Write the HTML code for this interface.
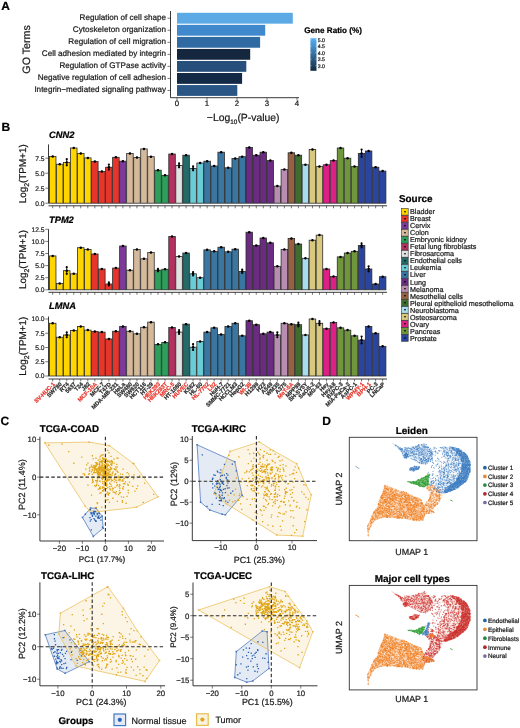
<!DOCTYPE html>
<html><head><meta charset="utf-8"><style>html,body{margin:0;padding:0;background:#fff}svg{display:block;filter:blur(0.28px)}</style></head>
<body><svg width="520" height="728" viewBox="0 0 520 728" font-family='"Liberation Sans", sans-serif' text-rendering="geometricPrecision">
<rect width="520" height="728" fill="#fff"/>
<text x="1.2" y="9.5" font-size="12" font-weight="bold" fill="#000" stroke="#000" stroke-width="0.22">A</text>
<text transform="translate(30,49.4) rotate(-90)" text-anchor="middle" font-size="10.7" fill="#1a1a1a" stroke="#1a1a1a" stroke-width="0.22">GO Terms</text>
<rect x="177.00" y="12.81" width="115.80" height="10.84" fill="#5BAAE5"/>
<line x1="167.5" y1="18.23" x2="170.5" y2="18.23" stroke="#222" stroke-width="0.6"/>
<text x="166" y="20.18" text-anchor="end" font-size="8.1" fill="#1a1a1a" stroke="#1a1a1a" stroke-width="0.22">Regulation of cell shape</text>
<rect x="177.00" y="24.85" width="88.20" height="10.84" fill="#4089CC"/>
<line x1="167.5" y1="30.27" x2="170.5" y2="30.27" stroke="#222" stroke-width="0.6"/>
<text x="166" y="32.22" text-anchor="end" font-size="8.1" fill="#1a1a1a" stroke="#1a1a1a" stroke-width="0.22">Cytoskeleton organization</text>
<rect x="177.00" y="36.89" width="83.10" height="10.84" fill="#2F6AA3"/>
<line x1="167.5" y1="42.31" x2="170.5" y2="42.31" stroke="#222" stroke-width="0.6"/>
<text x="166" y="44.26" text-anchor="end" font-size="8.1" fill="#1a1a1a" stroke="#1a1a1a" stroke-width="0.22">Regulation of cell migration</text>
<rect x="177.00" y="48.93" width="73.20" height="10.84" fill="#14273F"/>
<line x1="167.5" y1="54.35" x2="170.5" y2="54.35" stroke="#222" stroke-width="0.6"/>
<text x="166" y="56.30" text-anchor="end" font-size="8.1" fill="#1a1a1a" stroke="#1a1a1a" stroke-width="0.22">Cell adhesion mediated by integrin</text>
<rect x="177.00" y="60.97" width="69.30" height="10.84" fill="#264F7B"/>
<line x1="167.5" y1="66.39" x2="170.5" y2="66.39" stroke="#222" stroke-width="0.6"/>
<text x="166" y="68.34" text-anchor="end" font-size="8.1" fill="#1a1a1a" stroke="#1a1a1a" stroke-width="0.22">Regulation of GTPase activity</text>
<rect x="177.00" y="73.01" width="65.10" height="10.84" fill="#132A46"/>
<line x1="167.5" y1="78.43" x2="170.5" y2="78.43" stroke="#222" stroke-width="0.6"/>
<text x="166" y="80.38" text-anchor="end" font-size="8.1" fill="#1a1a1a" stroke="#1a1a1a" stroke-width="0.22">Negative regulation of cell adhesion</text>
<rect x="177.00" y="85.06" width="60.30" height="10.84" fill="#2A5686"/>
<line x1="167.5" y1="90.47" x2="170.5" y2="90.47" stroke="#222" stroke-width="0.6"/>
<text x="166" y="92.42" text-anchor="end" font-size="8.1" fill="#1a1a1a" stroke="#1a1a1a" stroke-width="0.22">Integrin−mediated signaling pathway</text>
<path d="M170.5 11.0V97.7H299" fill="none" stroke="#222" stroke-width="0.9"/>
<line x1="177.0" y1="97.7" x2="177.0" y2="100.5" stroke="#222" stroke-width="0.6"/>
<text x="177.0" y="105.8" text-anchor="middle" font-size="7.8" fill="#1a1a1a" stroke="#1a1a1a" stroke-width="0.22">0</text>
<line x1="207.0" y1="97.7" x2="207.0" y2="100.5" stroke="#222" stroke-width="0.6"/>
<text x="207.0" y="105.8" text-anchor="middle" font-size="7.8" fill="#1a1a1a" stroke="#1a1a1a" stroke-width="0.22">1</text>
<line x1="237.0" y1="97.7" x2="237.0" y2="100.5" stroke="#222" stroke-width="0.6"/>
<text x="237.0" y="105.8" text-anchor="middle" font-size="7.8" fill="#1a1a1a" stroke="#1a1a1a" stroke-width="0.22">2</text>
<line x1="267.0" y1="97.7" x2="267.0" y2="100.5" stroke="#222" stroke-width="0.6"/>
<text x="267.0" y="105.8" text-anchor="middle" font-size="7.8" fill="#1a1a1a" stroke="#1a1a1a" stroke-width="0.22">3</text>
<line x1="297.0" y1="97.7" x2="297.0" y2="100.5" stroke="#222" stroke-width="0.6"/>
<text x="297.0" y="105.8" text-anchor="middle" font-size="7.8" fill="#1a1a1a" stroke="#1a1a1a" stroke-width="0.22">4</text>
<text x="243.2" y="121.3" text-anchor="middle" font-size="10.4" fill="#1a1a1a" stroke="#1a1a1a" stroke-width="0.22">−Log<tspan font-size="6.4" dy="2.6">10</tspan><tspan dy="-2.6">(P-value)</tspan></text>
<text x="304.3" y="32.8" font-size="8.1" font-weight="bold" fill="#000" stroke="#000" stroke-width="0.22">Gene Ratio (%)</text>
<defs><linearGradient id="gr" x1="0" y1="0" x2="0" y2="1"><stop offset="0" stop-color="#56B1F7"/><stop offset="1" stop-color="#132B43"/></linearGradient></defs>
<rect x="310.4" y="38.2" width="6.1" height="32.6" fill="url(#gr)"/>
<text x="317.8" y="41.6" font-size="5.2" fill="#1a1a1a" stroke="#1a1a1a" stroke-width="0.22">5.0</text>
<line x1="310.4" y1="39.7" x2="311.6" y2="39.7" stroke="#fff" stroke-width="0.4"/>
<line x1="315.3" y1="39.7" x2="316.5" y2="39.7" stroke="#fff" stroke-width="0.4"/>
<text x="317.8" y="48.1" font-size="5.2" fill="#1a1a1a" stroke="#1a1a1a" stroke-width="0.22">4.5</text>
<line x1="310.4" y1="46.2" x2="311.6" y2="46.2" stroke="#fff" stroke-width="0.4"/>
<line x1="315.3" y1="46.2" x2="316.5" y2="46.2" stroke="#fff" stroke-width="0.4"/>
<text x="317.8" y="54.6" font-size="5.2" fill="#1a1a1a" stroke="#1a1a1a" stroke-width="0.22">4.0</text>
<line x1="310.4" y1="52.7" x2="311.6" y2="52.7" stroke="#fff" stroke-width="0.4"/>
<line x1="315.3" y1="52.7" x2="316.5" y2="52.7" stroke="#fff" stroke-width="0.4"/>
<text x="317.8" y="61.1" font-size="5.2" fill="#1a1a1a" stroke="#1a1a1a" stroke-width="0.22">3.5</text>
<line x1="310.4" y1="59.2" x2="311.6" y2="59.2" stroke="#fff" stroke-width="0.4"/>
<line x1="315.3" y1="59.2" x2="316.5" y2="59.2" stroke="#fff" stroke-width="0.4"/>
<text x="317.8" y="67.6" font-size="5.2" fill="#1a1a1a" stroke="#1a1a1a" stroke-width="0.22">3.0</text>
<line x1="310.4" y1="65.7" x2="311.6" y2="65.7" stroke="#fff" stroke-width="0.4"/>
<line x1="315.3" y1="65.7" x2="316.5" y2="65.7" stroke="#fff" stroke-width="0.4"/>
<text x="1.5" y="131.4" font-size="12" font-weight="bold" fill="#000" stroke="#000" stroke-width="0.22">B</text>
<text x="49" y="137.5" font-size="9.3" font-weight="bold" font-style="italic" fill="#000" stroke="#000" stroke-width="0.22">CNN2</text>
<rect x="49.44" y="156.40" width="6.52" height="46.80" fill="#FFD500" stroke="#2c2c2c" stroke-width="0.8"/>
<rect x="56.46" y="164.20" width="6.52" height="39.00" fill="#FFD500" stroke="#2c2c2c" stroke-width="0.8"/>
<rect x="63.48" y="162.40" width="6.52" height="40.80" fill="#FFD500" stroke="#2c2c2c" stroke-width="0.8"/>
<rect x="70.50" y="148.00" width="6.52" height="55.20" fill="#FFD500" stroke="#2c2c2c" stroke-width="0.8"/>
<rect x="77.52" y="153.40" width="6.52" height="49.80" fill="#FFD500" stroke="#2c2c2c" stroke-width="0.8"/>
<rect x="84.54" y="157.90" width="6.52" height="45.30" fill="#FFD500" stroke="#2c2c2c" stroke-width="0.8"/>
<rect x="91.56" y="161.50" width="6.52" height="41.70" fill="#E8352B" stroke="#2c2c2c" stroke-width="0.8"/>
<rect x="98.58" y="171.40" width="6.52" height="31.80" fill="#E8352B" stroke="#2c2c2c" stroke-width="0.8"/>
<rect x="105.60" y="167.20" width="6.52" height="36.00" fill="#E8352B" stroke="#2c2c2c" stroke-width="0.8"/>
<rect x="112.62" y="157.30" width="6.52" height="45.90" fill="#E8352B" stroke="#2c2c2c" stroke-width="0.8"/>
<rect x="119.64" y="161.20" width="6.52" height="42.00" fill="#7B3A9C" stroke="#2c2c2c" stroke-width="0.8"/>
<rect x="126.66" y="153.40" width="6.52" height="49.80" fill="#D4B99B" stroke="#2c2c2c" stroke-width="0.8"/>
<rect x="133.68" y="157.60" width="6.52" height="45.60" fill="#D4B99B" stroke="#2c2c2c" stroke-width="0.8"/>
<rect x="140.70" y="148.90" width="6.52" height="54.30" fill="#D4B99B" stroke="#2c2c2c" stroke-width="0.8"/>
<rect x="147.72" y="156.70" width="6.52" height="46.50" fill="#D4B99B" stroke="#2c2c2c" stroke-width="0.8"/>
<rect x="154.74" y="170.20" width="6.52" height="33.00" fill="#2E9F5B" stroke="#2c2c2c" stroke-width="0.8"/>
<rect x="161.76" y="175.30" width="6.52" height="27.90" fill="#2E9F5B" stroke="#2c2c2c" stroke-width="0.8"/>
<rect x="168.78" y="154.00" width="6.52" height="49.20" fill="#B3305F" stroke="#2c2c2c" stroke-width="0.8"/>
<rect x="175.80" y="165.40" width="6.52" height="37.80" fill="#E2E2E2" stroke="#2c2c2c" stroke-width="0.8"/>
<rect x="182.82" y="155.20" width="6.52" height="48.00" fill="#246A68" stroke="#2c2c2c" stroke-width="0.8"/>
<rect x="189.84" y="168.40" width="6.52" height="34.80" fill="#6ACCD6" stroke="#2c2c2c" stroke-width="0.8"/>
<rect x="196.86" y="163.00" width="6.52" height="40.20" fill="#6ACCD6" stroke="#2c2c2c" stroke-width="0.8"/>
<rect x="203.88" y="161.20" width="6.52" height="42.00" fill="#3A76A2" stroke="#2c2c2c" stroke-width="0.8"/>
<rect x="210.90" y="166.00" width="6.52" height="37.20" fill="#3A76A2" stroke="#2c2c2c" stroke-width="0.8"/>
<rect x="217.92" y="152.20" width="6.52" height="51.00" fill="#3A76A2" stroke="#2c2c2c" stroke-width="0.8"/>
<rect x="224.94" y="167.80" width="6.52" height="35.40" fill="#3A76A2" stroke="#2c2c2c" stroke-width="0.8"/>
<rect x="231.96" y="158.50" width="6.52" height="44.70" fill="#3A76A2" stroke="#2c2c2c" stroke-width="0.8"/>
<rect x="238.98" y="156.70" width="6.52" height="46.50" fill="#3A76A2" stroke="#2c2c2c" stroke-width="0.8"/>
<rect x="246.00" y="147.40" width="6.52" height="55.80" fill="#6C2B82" stroke="#2c2c2c" stroke-width="0.8"/>
<rect x="253.02" y="155.20" width="6.52" height="48.00" fill="#6C2B82" stroke="#2c2c2c" stroke-width="0.8"/>
<rect x="260.04" y="152.20" width="6.52" height="51.00" fill="#6C2B82" stroke="#2c2c2c" stroke-width="0.8"/>
<rect x="267.06" y="160.60" width="6.52" height="42.60" fill="#6C2B82" stroke="#2c2c2c" stroke-width="0.8"/>
<rect x="274.08" y="186.10" width="6.52" height="17.10" fill="#B98DB2" stroke="#2c2c2c" stroke-width="0.8"/>
<rect x="281.10" y="169.60" width="6.52" height="33.60" fill="#B98DB2" stroke="#2c2c2c" stroke-width="0.8"/>
<rect x="288.12" y="152.80" width="6.52" height="50.40" fill="#98603F" stroke="#2c2c2c" stroke-width="0.8"/>
<rect x="295.14" y="155.20" width="6.52" height="48.00" fill="#3F6D2F" stroke="#2c2c2c" stroke-width="0.8"/>
<rect x="302.16" y="164.80" width="6.52" height="38.40" fill="#A8DDEE" stroke="#2c2c2c" stroke-width="0.8"/>
<rect x="309.18" y="149.50" width="6.52" height="53.70" fill="#D9C97E" stroke="#2c2c2c" stroke-width="0.8"/>
<rect x="316.20" y="166.60" width="6.52" height="36.60" fill="#D9C97E" stroke="#2c2c2c" stroke-width="0.8"/>
<rect x="323.22" y="164.80" width="6.52" height="38.40" fill="#DE1F86" stroke="#2c2c2c" stroke-width="0.8"/>
<rect x="330.24" y="160.60" width="6.52" height="42.60" fill="#DE1F86" stroke="#2c2c2c" stroke-width="0.8"/>
<rect x="337.26" y="148.00" width="6.52" height="55.20" fill="#6F963B" stroke="#2c2c2c" stroke-width="0.8"/>
<rect x="344.28" y="158.20" width="6.52" height="45.00" fill="#6F963B" stroke="#2c2c2c" stroke-width="0.8"/>
<rect x="351.30" y="166.60" width="6.52" height="36.60" fill="#6F963B" stroke="#2c2c2c" stroke-width="0.8"/>
<rect x="358.32" y="153.40" width="6.52" height="49.80" fill="#2A45A0" stroke="#2c2c2c" stroke-width="0.8"/>
<rect x="365.34" y="151.00" width="6.52" height="52.20" fill="#2A45A0" stroke="#2c2c2c" stroke-width="0.8"/>
<rect x="372.36" y="167.20" width="6.52" height="36.00" fill="#2A45A0" stroke="#2c2c2c" stroke-width="0.8"/>
<rect x="379.38" y="171.10" width="6.52" height="32.10" fill="#2A45A0" stroke="#2c2c2c" stroke-width="0.8"/>
<line x1="52.70" y1="155.68" x2="52.70" y2="157.12" stroke="#000" stroke-width="0.9"/>
<circle cx="52.70" cy="156.40" r="1.25" fill="#000"/>
<line x1="59.72" y1="163.48" x2="59.72" y2="164.92" stroke="#000" stroke-width="0.9"/>
<circle cx="59.72" cy="164.20" r="1.25" fill="#000"/>
<line x1="66.74" y1="158.80" x2="66.74" y2="166.00" stroke="#000" stroke-width="0.9"/>
<circle cx="66.74" cy="162.40" r="1.25" fill="#000"/>
<circle cx="66.74" cy="159.16" r="1.1" fill="#000"/>
<circle cx="66.74" cy="165.28" r="1.1" fill="#000"/>
<line x1="73.76" y1="147.28" x2="73.76" y2="148.72" stroke="#000" stroke-width="0.9"/>
<circle cx="73.76" cy="148.00" r="1.25" fill="#000"/>
<line x1="80.78" y1="152.68" x2="80.78" y2="154.12" stroke="#000" stroke-width="0.9"/>
<circle cx="80.78" cy="153.40" r="1.25" fill="#000"/>
<line x1="87.80" y1="157.18" x2="87.80" y2="158.62" stroke="#000" stroke-width="0.9"/>
<circle cx="87.80" cy="157.90" r="1.25" fill="#000"/>
<line x1="94.82" y1="160.78" x2="94.82" y2="162.22" stroke="#000" stroke-width="0.9"/>
<circle cx="94.82" cy="161.50" r="1.25" fill="#000"/>
<line x1="101.84" y1="170.68" x2="101.84" y2="172.12" stroke="#000" stroke-width="0.9"/>
<circle cx="101.84" cy="171.40" r="1.25" fill="#000"/>
<line x1="108.86" y1="164.20" x2="108.86" y2="170.20" stroke="#000" stroke-width="0.9"/>
<circle cx="108.86" cy="167.20" r="1.25" fill="#000"/>
<circle cx="108.86" cy="164.50" r="1.1" fill="#000"/>
<circle cx="108.86" cy="169.60" r="1.1" fill="#000"/>
<line x1="115.88" y1="156.58" x2="115.88" y2="158.02" stroke="#000" stroke-width="0.9"/>
<circle cx="115.88" cy="157.30" r="1.25" fill="#000"/>
<line x1="122.90" y1="160.48" x2="122.90" y2="161.92" stroke="#000" stroke-width="0.9"/>
<circle cx="122.90" cy="161.20" r="1.25" fill="#000"/>
<line x1="129.92" y1="152.68" x2="129.92" y2="154.12" stroke="#000" stroke-width="0.9"/>
<circle cx="129.92" cy="153.40" r="1.25" fill="#000"/>
<line x1="136.94" y1="156.88" x2="136.94" y2="158.32" stroke="#000" stroke-width="0.9"/>
<circle cx="136.94" cy="157.60" r="1.25" fill="#000"/>
<line x1="143.96" y1="148.18" x2="143.96" y2="149.62" stroke="#000" stroke-width="0.9"/>
<circle cx="143.96" cy="148.90" r="1.25" fill="#000"/>
<line x1="150.98" y1="155.98" x2="150.98" y2="157.42" stroke="#000" stroke-width="0.9"/>
<circle cx="150.98" cy="156.70" r="1.25" fill="#000"/>
<line x1="158.00" y1="169.48" x2="158.00" y2="170.92" stroke="#000" stroke-width="0.9"/>
<circle cx="158.00" cy="170.20" r="1.25" fill="#000"/>
<line x1="165.02" y1="174.58" x2="165.02" y2="176.02" stroke="#000" stroke-width="0.9"/>
<circle cx="165.02" cy="175.30" r="1.25" fill="#000"/>
<line x1="172.04" y1="153.28" x2="172.04" y2="154.72" stroke="#000" stroke-width="0.9"/>
<circle cx="172.04" cy="154.00" r="1.25" fill="#000"/>
<line x1="179.06" y1="163.00" x2="179.06" y2="167.80" stroke="#000" stroke-width="0.9"/>
<circle cx="179.06" cy="165.40" r="1.25" fill="#000"/>
<circle cx="179.06" cy="163.24" r="1.1" fill="#000"/>
<circle cx="179.06" cy="167.32" r="1.1" fill="#000"/>
<line x1="186.08" y1="154.48" x2="186.08" y2="155.92" stroke="#000" stroke-width="0.9"/>
<circle cx="186.08" cy="155.20" r="1.25" fill="#000"/>
<line x1="193.10" y1="166.00" x2="193.10" y2="170.80" stroke="#000" stroke-width="0.9"/>
<circle cx="193.10" cy="168.40" r="1.25" fill="#000"/>
<circle cx="193.10" cy="166.24" r="1.1" fill="#000"/>
<circle cx="193.10" cy="170.32" r="1.1" fill="#000"/>
<line x1="200.12" y1="162.28" x2="200.12" y2="163.72" stroke="#000" stroke-width="0.9"/>
<circle cx="200.12" cy="163.00" r="1.25" fill="#000"/>
<line x1="207.14" y1="160.48" x2="207.14" y2="161.92" stroke="#000" stroke-width="0.9"/>
<circle cx="207.14" cy="161.20" r="1.25" fill="#000"/>
<line x1="214.16" y1="165.28" x2="214.16" y2="166.72" stroke="#000" stroke-width="0.9"/>
<circle cx="214.16" cy="166.00" r="1.25" fill="#000"/>
<line x1="221.18" y1="151.48" x2="221.18" y2="152.92" stroke="#000" stroke-width="0.9"/>
<circle cx="221.18" cy="152.20" r="1.25" fill="#000"/>
<line x1="228.20" y1="167.08" x2="228.20" y2="168.52" stroke="#000" stroke-width="0.9"/>
<circle cx="228.20" cy="167.80" r="1.25" fill="#000"/>
<line x1="235.22" y1="157.78" x2="235.22" y2="159.22" stroke="#000" stroke-width="0.9"/>
<circle cx="235.22" cy="158.50" r="1.25" fill="#000"/>
<line x1="242.24" y1="155.98" x2="242.24" y2="157.42" stroke="#000" stroke-width="0.9"/>
<circle cx="242.24" cy="156.70" r="1.25" fill="#000"/>
<line x1="249.26" y1="146.68" x2="249.26" y2="148.12" stroke="#000" stroke-width="0.9"/>
<circle cx="249.26" cy="147.40" r="1.25" fill="#000"/>
<line x1="256.28" y1="154.48" x2="256.28" y2="155.92" stroke="#000" stroke-width="0.9"/>
<circle cx="256.28" cy="155.20" r="1.25" fill="#000"/>
<line x1="263.30" y1="151.48" x2="263.30" y2="152.92" stroke="#000" stroke-width="0.9"/>
<circle cx="263.30" cy="152.20" r="1.25" fill="#000"/>
<line x1="270.32" y1="159.88" x2="270.32" y2="161.32" stroke="#000" stroke-width="0.9"/>
<circle cx="270.32" cy="160.60" r="1.25" fill="#000"/>
<line x1="277.34" y1="185.38" x2="277.34" y2="186.82" stroke="#000" stroke-width="0.9"/>
<circle cx="277.34" cy="186.10" r="1.25" fill="#000"/>
<line x1="284.36" y1="168.88" x2="284.36" y2="170.32" stroke="#000" stroke-width="0.9"/>
<circle cx="284.36" cy="169.60" r="1.25" fill="#000"/>
<line x1="291.38" y1="152.08" x2="291.38" y2="153.52" stroke="#000" stroke-width="0.9"/>
<circle cx="291.38" cy="152.80" r="1.25" fill="#000"/>
<line x1="298.40" y1="154.48" x2="298.40" y2="155.92" stroke="#000" stroke-width="0.9"/>
<circle cx="298.40" cy="155.20" r="1.25" fill="#000"/>
<line x1="305.42" y1="164.08" x2="305.42" y2="165.52" stroke="#000" stroke-width="0.9"/>
<circle cx="305.42" cy="164.80" r="1.25" fill="#000"/>
<line x1="312.44" y1="148.78" x2="312.44" y2="150.22" stroke="#000" stroke-width="0.9"/>
<circle cx="312.44" cy="149.50" r="1.25" fill="#000"/>
<line x1="319.46" y1="165.88" x2="319.46" y2="167.32" stroke="#000" stroke-width="0.9"/>
<circle cx="319.46" cy="166.60" r="1.25" fill="#000"/>
<line x1="326.48" y1="164.08" x2="326.48" y2="165.52" stroke="#000" stroke-width="0.9"/>
<circle cx="326.48" cy="164.80" r="1.25" fill="#000"/>
<line x1="333.50" y1="159.88" x2="333.50" y2="161.32" stroke="#000" stroke-width="0.9"/>
<circle cx="333.50" cy="160.60" r="1.25" fill="#000"/>
<line x1="340.52" y1="147.28" x2="340.52" y2="148.72" stroke="#000" stroke-width="0.9"/>
<circle cx="340.52" cy="148.00" r="1.25" fill="#000"/>
<line x1="347.54" y1="157.48" x2="347.54" y2="158.92" stroke="#000" stroke-width="0.9"/>
<circle cx="347.54" cy="158.20" r="1.25" fill="#000"/>
<line x1="354.56" y1="165.88" x2="354.56" y2="167.32" stroke="#000" stroke-width="0.9"/>
<circle cx="354.56" cy="166.60" r="1.25" fill="#000"/>
<line x1="361.58" y1="149.20" x2="361.58" y2="157.60" stroke="#000" stroke-width="0.9"/>
<circle cx="361.58" cy="153.40" r="1.25" fill="#000"/>
<circle cx="361.58" cy="149.62" r="1.1" fill="#000"/>
<circle cx="361.58" cy="156.76" r="1.1" fill="#000"/>
<line x1="368.60" y1="150.28" x2="368.60" y2="151.72" stroke="#000" stroke-width="0.9"/>
<circle cx="368.60" cy="151.00" r="1.25" fill="#000"/>
<line x1="375.62" y1="166.48" x2="375.62" y2="167.92" stroke="#000" stroke-width="0.9"/>
<circle cx="375.62" cy="167.20" r="1.25" fill="#000"/>
<line x1="382.64" y1="170.38" x2="382.64" y2="171.82" stroke="#000" stroke-width="0.9"/>
<circle cx="382.64" cy="171.10" r="1.25" fill="#000"/>
<path d="M48.5 144.4V203.5" stroke="#222" stroke-width="0.9" fill="none"/>
<path d="M48.5 205.8H387.0" stroke="#222" stroke-width="0.9" fill="none"/>
<line x1="45.3" y1="203.20" x2="48.5" y2="203.20" stroke="#222" stroke-width="0.6"/>
<text x="44.6" y="205.60" text-anchor="end" font-size="6.7" fill="#262626" stroke="#262626" stroke-width="0.22">0.0</text>
<line x1="45.3" y1="188.20" x2="48.5" y2="188.20" stroke="#222" stroke-width="0.6"/>
<text x="44.6" y="190.60" text-anchor="end" font-size="6.7" fill="#262626" stroke="#262626" stroke-width="0.22">2.5</text>
<line x1="45.3" y1="173.20" x2="48.5" y2="173.20" stroke="#222" stroke-width="0.6"/>
<text x="44.6" y="175.60" text-anchor="end" font-size="6.7" fill="#262626" stroke="#262626" stroke-width="0.22">5.0</text>
<line x1="45.3" y1="158.20" x2="48.5" y2="158.20" stroke="#222" stroke-width="0.6"/>
<text x="44.6" y="160.60" text-anchor="end" font-size="6.7" fill="#262626" stroke="#262626" stroke-width="0.22">7.5</text>
<line x1="52.70" y1="205.80" x2="52.70" y2="208.30" stroke="#222" stroke-width="0.6"/>
<line x1="59.72" y1="205.80" x2="59.72" y2="208.30" stroke="#222" stroke-width="0.6"/>
<line x1="66.74" y1="205.80" x2="66.74" y2="208.30" stroke="#222" stroke-width="0.6"/>
<line x1="73.76" y1="205.80" x2="73.76" y2="208.30" stroke="#222" stroke-width="0.6"/>
<line x1="80.78" y1="205.80" x2="80.78" y2="208.30" stroke="#222" stroke-width="0.6"/>
<line x1="87.80" y1="205.80" x2="87.80" y2="208.30" stroke="#222" stroke-width="0.6"/>
<line x1="94.82" y1="205.80" x2="94.82" y2="208.30" stroke="#222" stroke-width="0.6"/>
<line x1="101.84" y1="205.80" x2="101.84" y2="208.30" stroke="#222" stroke-width="0.6"/>
<line x1="108.86" y1="205.80" x2="108.86" y2="208.30" stroke="#222" stroke-width="0.6"/>
<line x1="115.88" y1="205.80" x2="115.88" y2="208.30" stroke="#222" stroke-width="0.6"/>
<line x1="122.90" y1="205.80" x2="122.90" y2="208.30" stroke="#222" stroke-width="0.6"/>
<line x1="129.92" y1="205.80" x2="129.92" y2="208.30" stroke="#222" stroke-width="0.6"/>
<line x1="136.94" y1="205.80" x2="136.94" y2="208.30" stroke="#222" stroke-width="0.6"/>
<line x1="143.96" y1="205.80" x2="143.96" y2="208.30" stroke="#222" stroke-width="0.6"/>
<line x1="150.98" y1="205.80" x2="150.98" y2="208.30" stroke="#222" stroke-width="0.6"/>
<line x1="158.00" y1="205.80" x2="158.00" y2="208.30" stroke="#222" stroke-width="0.6"/>
<line x1="165.02" y1="205.80" x2="165.02" y2="208.30" stroke="#222" stroke-width="0.6"/>
<line x1="172.04" y1="205.80" x2="172.04" y2="208.30" stroke="#222" stroke-width="0.6"/>
<line x1="179.06" y1="205.80" x2="179.06" y2="208.30" stroke="#222" stroke-width="0.6"/>
<line x1="186.08" y1="205.80" x2="186.08" y2="208.30" stroke="#222" stroke-width="0.6"/>
<line x1="193.10" y1="205.80" x2="193.10" y2="208.30" stroke="#222" stroke-width="0.6"/>
<line x1="200.12" y1="205.80" x2="200.12" y2="208.30" stroke="#222" stroke-width="0.6"/>
<line x1="207.14" y1="205.80" x2="207.14" y2="208.30" stroke="#222" stroke-width="0.6"/>
<line x1="214.16" y1="205.80" x2="214.16" y2="208.30" stroke="#222" stroke-width="0.6"/>
<line x1="221.18" y1="205.80" x2="221.18" y2="208.30" stroke="#222" stroke-width="0.6"/>
<line x1="228.20" y1="205.80" x2="228.20" y2="208.30" stroke="#222" stroke-width="0.6"/>
<line x1="235.22" y1="205.80" x2="235.22" y2="208.30" stroke="#222" stroke-width="0.6"/>
<line x1="242.24" y1="205.80" x2="242.24" y2="208.30" stroke="#222" stroke-width="0.6"/>
<line x1="249.26" y1="205.80" x2="249.26" y2="208.30" stroke="#222" stroke-width="0.6"/>
<line x1="256.28" y1="205.80" x2="256.28" y2="208.30" stroke="#222" stroke-width="0.6"/>
<line x1="263.30" y1="205.80" x2="263.30" y2="208.30" stroke="#222" stroke-width="0.6"/>
<line x1="270.32" y1="205.80" x2="270.32" y2="208.30" stroke="#222" stroke-width="0.6"/>
<line x1="277.34" y1="205.80" x2="277.34" y2="208.30" stroke="#222" stroke-width="0.6"/>
<line x1="284.36" y1="205.80" x2="284.36" y2="208.30" stroke="#222" stroke-width="0.6"/>
<line x1="291.38" y1="205.80" x2="291.38" y2="208.30" stroke="#222" stroke-width="0.6"/>
<line x1="298.40" y1="205.80" x2="298.40" y2="208.30" stroke="#222" stroke-width="0.6"/>
<line x1="305.42" y1="205.80" x2="305.42" y2="208.30" stroke="#222" stroke-width="0.6"/>
<line x1="312.44" y1="205.80" x2="312.44" y2="208.30" stroke="#222" stroke-width="0.6"/>
<line x1="319.46" y1="205.80" x2="319.46" y2="208.30" stroke="#222" stroke-width="0.6"/>
<line x1="326.48" y1="205.80" x2="326.48" y2="208.30" stroke="#222" stroke-width="0.6"/>
<line x1="333.50" y1="205.80" x2="333.50" y2="208.30" stroke="#222" stroke-width="0.6"/>
<line x1="340.52" y1="205.80" x2="340.52" y2="208.30" stroke="#222" stroke-width="0.6"/>
<line x1="347.54" y1="205.80" x2="347.54" y2="208.30" stroke="#222" stroke-width="0.6"/>
<line x1="354.56" y1="205.80" x2="354.56" y2="208.30" stroke="#222" stroke-width="0.6"/>
<line x1="361.58" y1="205.80" x2="361.58" y2="208.30" stroke="#222" stroke-width="0.6"/>
<line x1="368.60" y1="205.80" x2="368.60" y2="208.30" stroke="#222" stroke-width="0.6"/>
<line x1="375.62" y1="205.80" x2="375.62" y2="208.30" stroke="#222" stroke-width="0.6"/>
<line x1="382.64" y1="205.80" x2="382.64" y2="208.30" stroke="#222" stroke-width="0.6"/>
<text transform="translate(26.2,173.8) rotate(-90)" text-anchor="middle" font-size="9.9" fill="#1a1a1a" stroke="#1a1a1a" stroke-width="0.22">Log<tspan font-size="6.9" dy="2.4">2</tspan><tspan dy="-2.4">(TPM+1)</tspan></text>
<text x="49" y="223.3" font-size="9.3" font-weight="bold" font-style="italic" fill="#000" stroke="#000" stroke-width="0.22">TPM2</text>
<rect x="49.44" y="255.92" width="6.52" height="33.88" fill="#FFD500" stroke="#2c2c2c" stroke-width="0.8"/>
<rect x="56.46" y="283.51" width="6.52" height="6.29" fill="#FFD500" stroke="#2c2c2c" stroke-width="0.8"/>
<rect x="63.48" y="270.68" width="6.52" height="19.12" fill="#FFD500" stroke="#2c2c2c" stroke-width="0.8"/>
<rect x="70.50" y="273.83" width="6.52" height="15.97" fill="#FFD500" stroke="#2c2c2c" stroke-width="0.8"/>
<rect x="77.52" y="247.69" width="6.52" height="42.11" fill="#FFD500" stroke="#2c2c2c" stroke-width="0.8"/>
<rect x="84.54" y="249.39" width="6.52" height="40.41" fill="#FFD500" stroke="#2c2c2c" stroke-width="0.8"/>
<rect x="91.56" y="253.98" width="6.52" height="35.82" fill="#E8352B" stroke="#2c2c2c" stroke-width="0.8"/>
<rect x="98.58" y="268.99" width="6.52" height="20.81" fill="#E8352B" stroke="#2c2c2c" stroke-width="0.8"/>
<rect x="105.60" y="283.99" width="6.52" height="5.81" fill="#E8352B" stroke="#2c2c2c" stroke-width="0.8"/>
<rect x="112.62" y="268.02" width="6.52" height="21.78" fill="#E8352B" stroke="#2c2c2c" stroke-width="0.8"/>
<rect x="119.64" y="246.00" width="6.52" height="43.80" fill="#7B3A9C" stroke="#2c2c2c" stroke-width="0.8"/>
<rect x="126.66" y="270.20" width="6.52" height="19.60" fill="#D4B99B" stroke="#2c2c2c" stroke-width="0.8"/>
<rect x="133.68" y="249.39" width="6.52" height="40.41" fill="#D4B99B" stroke="#2c2c2c" stroke-width="0.8"/>
<rect x="140.70" y="258.82" width="6.52" height="30.98" fill="#D4B99B" stroke="#2c2c2c" stroke-width="0.8"/>
<rect x="147.72" y="252.53" width="6.52" height="37.27" fill="#D4B99B" stroke="#2c2c2c" stroke-width="0.8"/>
<rect x="154.74" y="270.20" width="6.52" height="19.60" fill="#2E9F5B" stroke="#2c2c2c" stroke-width="0.8"/>
<rect x="161.76" y="269.23" width="6.52" height="20.57" fill="#2E9F5B" stroke="#2c2c2c" stroke-width="0.8"/>
<rect x="168.78" y="236.56" width="6.52" height="53.24" fill="#B3305F" stroke="#2c2c2c" stroke-width="0.8"/>
<rect x="175.80" y="256.40" width="6.52" height="33.40" fill="#E2E2E2" stroke="#2c2c2c" stroke-width="0.8"/>
<rect x="182.82" y="253.02" width="6.52" height="36.78" fill="#246A68" stroke="#2c2c2c" stroke-width="0.8"/>
<rect x="189.84" y="273.83" width="6.52" height="15.97" fill="#6ACCD6" stroke="#2c2c2c" stroke-width="0.8"/>
<rect x="196.86" y="277.70" width="6.52" height="12.10" fill="#6ACCD6" stroke="#2c2c2c" stroke-width="0.8"/>
<rect x="203.88" y="249.87" width="6.52" height="39.93" fill="#3A76A2" stroke="#2c2c2c" stroke-width="0.8"/>
<rect x="210.90" y="251.32" width="6.52" height="38.48" fill="#3A76A2" stroke="#2c2c2c" stroke-width="0.8"/>
<rect x="217.92" y="247.21" width="6.52" height="42.59" fill="#3A76A2" stroke="#2c2c2c" stroke-width="0.8"/>
<rect x="224.94" y="251.81" width="6.52" height="37.99" fill="#3A76A2" stroke="#2c2c2c" stroke-width="0.8"/>
<rect x="231.96" y="249.14" width="6.52" height="40.66" fill="#3A76A2" stroke="#2c2c2c" stroke-width="0.8"/>
<rect x="238.98" y="271.41" width="6.52" height="18.39" fill="#3A76A2" stroke="#2c2c2c" stroke-width="0.8"/>
<rect x="246.00" y="232.20" width="6.52" height="57.60" fill="#6C2B82" stroke="#2c2c2c" stroke-width="0.8"/>
<rect x="253.02" y="245.51" width="6.52" height="44.29" fill="#6C2B82" stroke="#2c2c2c" stroke-width="0.8"/>
<rect x="260.04" y="238.01" width="6.52" height="51.79" fill="#6C2B82" stroke="#2c2c2c" stroke-width="0.8"/>
<rect x="267.06" y="242.85" width="6.52" height="46.95" fill="#6C2B82" stroke="#2c2c2c" stroke-width="0.8"/>
<rect x="274.08" y="266.33" width="6.52" height="23.47" fill="#B98DB2" stroke="#2c2c2c" stroke-width="0.8"/>
<rect x="281.10" y="249.39" width="6.52" height="40.41" fill="#B98DB2" stroke="#2c2c2c" stroke-width="0.8"/>
<rect x="288.12" y="238.50" width="6.52" height="51.30" fill="#98603F" stroke="#2c2c2c" stroke-width="0.8"/>
<rect x="295.14" y="244.06" width="6.52" height="45.74" fill="#3F6D2F" stroke="#2c2c2c" stroke-width="0.8"/>
<rect x="302.16" y="258.34" width="6.52" height="31.46" fill="#A8DDEE" stroke="#2c2c2c" stroke-width="0.8"/>
<rect x="309.18" y="240.19" width="6.52" height="49.61" fill="#D9C97E" stroke="#2c2c2c" stroke-width="0.8"/>
<rect x="316.20" y="235.11" width="6.52" height="54.69" fill="#D9C97E" stroke="#2c2c2c" stroke-width="0.8"/>
<rect x="323.22" y="268.99" width="6.52" height="20.81" fill="#DE1F86" stroke="#2c2c2c" stroke-width="0.8"/>
<rect x="330.24" y="276.49" width="6.52" height="13.31" fill="#DE1F86" stroke="#2c2c2c" stroke-width="0.8"/>
<rect x="337.26" y="256.89" width="6.52" height="32.91" fill="#6F963B" stroke="#2c2c2c" stroke-width="0.8"/>
<rect x="344.28" y="253.02" width="6.52" height="36.78" fill="#6F963B" stroke="#2c2c2c" stroke-width="0.8"/>
<rect x="351.30" y="251.32" width="6.52" height="38.48" fill="#6F963B" stroke="#2c2c2c" stroke-width="0.8"/>
<rect x="358.32" y="245.51" width="6.52" height="44.29" fill="#2A45A0" stroke="#2c2c2c" stroke-width="0.8"/>
<rect x="365.34" y="268.99" width="6.52" height="20.81" fill="#2A45A0" stroke="#2c2c2c" stroke-width="0.8"/>
<rect x="372.36" y="283.99" width="6.52" height="5.81" fill="#2A45A0" stroke="#2c2c2c" stroke-width="0.8"/>
<rect x="379.38" y="276.73" width="6.52" height="13.07" fill="#2A45A0" stroke="#2c2c2c" stroke-width="0.8"/>
<line x1="52.70" y1="255.34" x2="52.70" y2="256.50" stroke="#000" stroke-width="0.9"/>
<circle cx="52.70" cy="255.92" r="1.25" fill="#000"/>
<line x1="59.72" y1="282.93" x2="59.72" y2="284.09" stroke="#000" stroke-width="0.9"/>
<circle cx="59.72" cy="283.51" r="1.25" fill="#000"/>
<line x1="66.74" y1="266.81" x2="66.74" y2="274.55" stroke="#000" stroke-width="0.9"/>
<circle cx="66.74" cy="270.68" r="1.25" fill="#000"/>
<circle cx="66.74" cy="267.20" r="1.1" fill="#000"/>
<circle cx="66.74" cy="273.78" r="1.1" fill="#000"/>
<line x1="73.76" y1="273.25" x2="73.76" y2="274.41" stroke="#000" stroke-width="0.9"/>
<circle cx="73.76" cy="273.83" r="1.25" fill="#000"/>
<line x1="80.78" y1="247.11" x2="80.78" y2="248.27" stroke="#000" stroke-width="0.9"/>
<circle cx="80.78" cy="247.69" r="1.25" fill="#000"/>
<line x1="87.80" y1="248.81" x2="87.80" y2="249.97" stroke="#000" stroke-width="0.9"/>
<circle cx="87.80" cy="249.39" r="1.25" fill="#000"/>
<line x1="94.82" y1="253.40" x2="94.82" y2="254.56" stroke="#000" stroke-width="0.9"/>
<circle cx="94.82" cy="253.98" r="1.25" fill="#000"/>
<line x1="101.84" y1="268.41" x2="101.84" y2="269.57" stroke="#000" stroke-width="0.9"/>
<circle cx="101.84" cy="268.99" r="1.25" fill="#000"/>
<line x1="108.86" y1="282.06" x2="108.86" y2="285.93" stroke="#000" stroke-width="0.9"/>
<circle cx="108.86" cy="283.99" r="1.25" fill="#000"/>
<circle cx="108.86" cy="282.25" r="1.1" fill="#000"/>
<circle cx="108.86" cy="285.54" r="1.1" fill="#000"/>
<line x1="115.88" y1="267.44" x2="115.88" y2="268.60" stroke="#000" stroke-width="0.9"/>
<circle cx="115.88" cy="268.02" r="1.25" fill="#000"/>
<line x1="122.90" y1="245.42" x2="122.90" y2="246.58" stroke="#000" stroke-width="0.9"/>
<circle cx="122.90" cy="246.00" r="1.25" fill="#000"/>
<line x1="129.92" y1="269.62" x2="129.92" y2="270.78" stroke="#000" stroke-width="0.9"/>
<circle cx="129.92" cy="270.20" r="1.25" fill="#000"/>
<line x1="136.94" y1="248.81" x2="136.94" y2="249.97" stroke="#000" stroke-width="0.9"/>
<circle cx="136.94" cy="249.39" r="1.25" fill="#000"/>
<line x1="143.96" y1="258.24" x2="143.96" y2="259.40" stroke="#000" stroke-width="0.9"/>
<circle cx="143.96" cy="258.82" r="1.25" fill="#000"/>
<line x1="150.98" y1="251.95" x2="150.98" y2="253.11" stroke="#000" stroke-width="0.9"/>
<circle cx="150.98" cy="252.53" r="1.25" fill="#000"/>
<line x1="158.00" y1="268.75" x2="158.00" y2="271.65" stroke="#000" stroke-width="0.9"/>
<circle cx="158.00" cy="270.20" r="1.25" fill="#000"/>
<circle cx="158.00" cy="268.89" r="1.1" fill="#000"/>
<circle cx="158.00" cy="271.36" r="1.1" fill="#000"/>
<line x1="165.02" y1="268.65" x2="165.02" y2="269.81" stroke="#000" stroke-width="0.9"/>
<circle cx="165.02" cy="269.23" r="1.25" fill="#000"/>
<line x1="172.04" y1="235.98" x2="172.04" y2="237.14" stroke="#000" stroke-width="0.9"/>
<circle cx="172.04" cy="236.56" r="1.25" fill="#000"/>
<line x1="179.06" y1="255.82" x2="179.06" y2="256.98" stroke="#000" stroke-width="0.9"/>
<circle cx="179.06" cy="256.40" r="1.25" fill="#000"/>
<line x1="186.08" y1="252.44" x2="186.08" y2="253.60" stroke="#000" stroke-width="0.9"/>
<circle cx="186.08" cy="253.02" r="1.25" fill="#000"/>
<line x1="193.10" y1="271.89" x2="193.10" y2="275.76" stroke="#000" stroke-width="0.9"/>
<circle cx="193.10" cy="273.83" r="1.25" fill="#000"/>
<circle cx="193.10" cy="272.09" r="1.1" fill="#000"/>
<circle cx="193.10" cy="275.38" r="1.1" fill="#000"/>
<line x1="200.12" y1="277.12" x2="200.12" y2="278.28" stroke="#000" stroke-width="0.9"/>
<circle cx="200.12" cy="277.70" r="1.25" fill="#000"/>
<line x1="207.14" y1="249.29" x2="207.14" y2="250.45" stroke="#000" stroke-width="0.9"/>
<circle cx="207.14" cy="249.87" r="1.25" fill="#000"/>
<line x1="214.16" y1="250.74" x2="214.16" y2="251.90" stroke="#000" stroke-width="0.9"/>
<circle cx="214.16" cy="251.32" r="1.25" fill="#000"/>
<line x1="221.18" y1="246.63" x2="221.18" y2="247.79" stroke="#000" stroke-width="0.9"/>
<circle cx="221.18" cy="247.21" r="1.25" fill="#000"/>
<line x1="228.20" y1="251.23" x2="228.20" y2="252.39" stroke="#000" stroke-width="0.9"/>
<circle cx="228.20" cy="251.81" r="1.25" fill="#000"/>
<line x1="235.22" y1="248.56" x2="235.22" y2="249.72" stroke="#000" stroke-width="0.9"/>
<circle cx="235.22" cy="249.14" r="1.25" fill="#000"/>
<line x1="242.24" y1="269.47" x2="242.24" y2="273.34" stroke="#000" stroke-width="0.9"/>
<circle cx="242.24" cy="271.41" r="1.25" fill="#000"/>
<circle cx="242.24" cy="269.67" r="1.1" fill="#000"/>
<circle cx="242.24" cy="272.96" r="1.1" fill="#000"/>
<line x1="249.26" y1="231.62" x2="249.26" y2="232.78" stroke="#000" stroke-width="0.9"/>
<circle cx="249.26" cy="232.20" r="1.25" fill="#000"/>
<line x1="256.28" y1="244.93" x2="256.28" y2="246.09" stroke="#000" stroke-width="0.9"/>
<circle cx="256.28" cy="245.51" r="1.25" fill="#000"/>
<line x1="263.30" y1="237.43" x2="263.30" y2="238.59" stroke="#000" stroke-width="0.9"/>
<circle cx="263.30" cy="238.01" r="1.25" fill="#000"/>
<line x1="270.32" y1="242.27" x2="270.32" y2="243.43" stroke="#000" stroke-width="0.9"/>
<circle cx="270.32" cy="242.85" r="1.25" fill="#000"/>
<line x1="277.34" y1="265.75" x2="277.34" y2="266.91" stroke="#000" stroke-width="0.9"/>
<circle cx="277.34" cy="266.33" r="1.25" fill="#000"/>
<line x1="284.36" y1="248.81" x2="284.36" y2="249.97" stroke="#000" stroke-width="0.9"/>
<circle cx="284.36" cy="249.39" r="1.25" fill="#000"/>
<line x1="291.38" y1="237.92" x2="291.38" y2="239.08" stroke="#000" stroke-width="0.9"/>
<circle cx="291.38" cy="238.50" r="1.25" fill="#000"/>
<line x1="298.40" y1="243.48" x2="298.40" y2="244.64" stroke="#000" stroke-width="0.9"/>
<circle cx="298.40" cy="244.06" r="1.25" fill="#000"/>
<line x1="305.42" y1="257.76" x2="305.42" y2="258.92" stroke="#000" stroke-width="0.9"/>
<circle cx="305.42" cy="258.34" r="1.25" fill="#000"/>
<line x1="312.44" y1="239.61" x2="312.44" y2="240.77" stroke="#000" stroke-width="0.9"/>
<circle cx="312.44" cy="240.19" r="1.25" fill="#000"/>
<line x1="319.46" y1="234.53" x2="319.46" y2="235.69" stroke="#000" stroke-width="0.9"/>
<circle cx="319.46" cy="235.11" r="1.25" fill="#000"/>
<line x1="326.48" y1="268.41" x2="326.48" y2="269.57" stroke="#000" stroke-width="0.9"/>
<circle cx="326.48" cy="268.99" r="1.25" fill="#000"/>
<line x1="333.50" y1="275.91" x2="333.50" y2="277.07" stroke="#000" stroke-width="0.9"/>
<circle cx="333.50" cy="276.49" r="1.25" fill="#000"/>
<line x1="340.52" y1="256.31" x2="340.52" y2="257.47" stroke="#000" stroke-width="0.9"/>
<circle cx="340.52" cy="256.89" r="1.25" fill="#000"/>
<line x1="347.54" y1="252.44" x2="347.54" y2="253.60" stroke="#000" stroke-width="0.9"/>
<circle cx="347.54" cy="253.02" r="1.25" fill="#000"/>
<line x1="354.56" y1="250.74" x2="354.56" y2="251.90" stroke="#000" stroke-width="0.9"/>
<circle cx="354.56" cy="251.32" r="1.25" fill="#000"/>
<line x1="361.58" y1="243.09" x2="361.58" y2="247.93" stroke="#000" stroke-width="0.9"/>
<circle cx="361.58" cy="245.51" r="1.25" fill="#000"/>
<circle cx="361.58" cy="243.34" r="1.1" fill="#000"/>
<circle cx="361.58" cy="247.45" r="1.1" fill="#000"/>
<line x1="368.60" y1="266.08" x2="368.60" y2="271.89" stroke="#000" stroke-width="0.9"/>
<circle cx="368.60" cy="268.99" r="1.25" fill="#000"/>
<circle cx="368.60" cy="266.37" r="1.1" fill="#000"/>
<circle cx="368.60" cy="271.31" r="1.1" fill="#000"/>
<line x1="375.62" y1="283.41" x2="375.62" y2="284.57" stroke="#000" stroke-width="0.9"/>
<circle cx="375.62" cy="283.99" r="1.25" fill="#000"/>
<line x1="382.64" y1="276.15" x2="382.64" y2="277.31" stroke="#000" stroke-width="0.9"/>
<circle cx="382.64" cy="276.73" r="1.25" fill="#000"/>
<path d="M48.5 229.2V290.1" stroke="#222" stroke-width="0.9" fill="none"/>
<path d="M48.5 292.3H387.0" stroke="#222" stroke-width="0.9" fill="none"/>
<line x1="45.3" y1="289.80" x2="48.5" y2="289.80" stroke="#222" stroke-width="0.6"/>
<text x="44.6" y="292.20" text-anchor="end" font-size="6.7" fill="#262626" stroke="#262626" stroke-width="0.22">0.0</text>
<line x1="45.3" y1="277.70" x2="48.5" y2="277.70" stroke="#222" stroke-width="0.6"/>
<text x="44.6" y="280.10" text-anchor="end" font-size="6.7" fill="#262626" stroke="#262626" stroke-width="0.22">2.5</text>
<line x1="45.3" y1="265.60" x2="48.5" y2="265.60" stroke="#222" stroke-width="0.6"/>
<text x="44.6" y="268.00" text-anchor="end" font-size="6.7" fill="#262626" stroke="#262626" stroke-width="0.22">5.0</text>
<line x1="45.3" y1="253.50" x2="48.5" y2="253.50" stroke="#222" stroke-width="0.6"/>
<text x="44.6" y="255.90" text-anchor="end" font-size="6.7" fill="#262626" stroke="#262626" stroke-width="0.22">7.5</text>
<line x1="45.3" y1="241.40" x2="48.5" y2="241.40" stroke="#222" stroke-width="0.6"/>
<text x="44.6" y="243.80" text-anchor="end" font-size="6.7" fill="#262626" stroke="#262626" stroke-width="0.22">10.0</text>
<line x1="45.3" y1="229.30" x2="48.5" y2="229.30" stroke="#222" stroke-width="0.6"/>
<text x="44.6" y="231.70" text-anchor="end" font-size="6.7" fill="#262626" stroke="#262626" stroke-width="0.22">12.5</text>
<line x1="52.70" y1="292.30" x2="52.70" y2="294.80" stroke="#222" stroke-width="0.6"/>
<line x1="59.72" y1="292.30" x2="59.72" y2="294.80" stroke="#222" stroke-width="0.6"/>
<line x1="66.74" y1="292.30" x2="66.74" y2="294.80" stroke="#222" stroke-width="0.6"/>
<line x1="73.76" y1="292.30" x2="73.76" y2="294.80" stroke="#222" stroke-width="0.6"/>
<line x1="80.78" y1="292.30" x2="80.78" y2="294.80" stroke="#222" stroke-width="0.6"/>
<line x1="87.80" y1="292.30" x2="87.80" y2="294.80" stroke="#222" stroke-width="0.6"/>
<line x1="94.82" y1="292.30" x2="94.82" y2="294.80" stroke="#222" stroke-width="0.6"/>
<line x1="101.84" y1="292.30" x2="101.84" y2="294.80" stroke="#222" stroke-width="0.6"/>
<line x1="108.86" y1="292.30" x2="108.86" y2="294.80" stroke="#222" stroke-width="0.6"/>
<line x1="115.88" y1="292.30" x2="115.88" y2="294.80" stroke="#222" stroke-width="0.6"/>
<line x1="122.90" y1="292.30" x2="122.90" y2="294.80" stroke="#222" stroke-width="0.6"/>
<line x1="129.92" y1="292.30" x2="129.92" y2="294.80" stroke="#222" stroke-width="0.6"/>
<line x1="136.94" y1="292.30" x2="136.94" y2="294.80" stroke="#222" stroke-width="0.6"/>
<line x1="143.96" y1="292.30" x2="143.96" y2="294.80" stroke="#222" stroke-width="0.6"/>
<line x1="150.98" y1="292.30" x2="150.98" y2="294.80" stroke="#222" stroke-width="0.6"/>
<line x1="158.00" y1="292.30" x2="158.00" y2="294.80" stroke="#222" stroke-width="0.6"/>
<line x1="165.02" y1="292.30" x2="165.02" y2="294.80" stroke="#222" stroke-width="0.6"/>
<line x1="172.04" y1="292.30" x2="172.04" y2="294.80" stroke="#222" stroke-width="0.6"/>
<line x1="179.06" y1="292.30" x2="179.06" y2="294.80" stroke="#222" stroke-width="0.6"/>
<line x1="186.08" y1="292.30" x2="186.08" y2="294.80" stroke="#222" stroke-width="0.6"/>
<line x1="193.10" y1="292.30" x2="193.10" y2="294.80" stroke="#222" stroke-width="0.6"/>
<line x1="200.12" y1="292.30" x2="200.12" y2="294.80" stroke="#222" stroke-width="0.6"/>
<line x1="207.14" y1="292.30" x2="207.14" y2="294.80" stroke="#222" stroke-width="0.6"/>
<line x1="214.16" y1="292.30" x2="214.16" y2="294.80" stroke="#222" stroke-width="0.6"/>
<line x1="221.18" y1="292.30" x2="221.18" y2="294.80" stroke="#222" stroke-width="0.6"/>
<line x1="228.20" y1="292.30" x2="228.20" y2="294.80" stroke="#222" stroke-width="0.6"/>
<line x1="235.22" y1="292.30" x2="235.22" y2="294.80" stroke="#222" stroke-width="0.6"/>
<line x1="242.24" y1="292.30" x2="242.24" y2="294.80" stroke="#222" stroke-width="0.6"/>
<line x1="249.26" y1="292.30" x2="249.26" y2="294.80" stroke="#222" stroke-width="0.6"/>
<line x1="256.28" y1="292.30" x2="256.28" y2="294.80" stroke="#222" stroke-width="0.6"/>
<line x1="263.30" y1="292.30" x2="263.30" y2="294.80" stroke="#222" stroke-width="0.6"/>
<line x1="270.32" y1="292.30" x2="270.32" y2="294.80" stroke="#222" stroke-width="0.6"/>
<line x1="277.34" y1="292.30" x2="277.34" y2="294.80" stroke="#222" stroke-width="0.6"/>
<line x1="284.36" y1="292.30" x2="284.36" y2="294.80" stroke="#222" stroke-width="0.6"/>
<line x1="291.38" y1="292.30" x2="291.38" y2="294.80" stroke="#222" stroke-width="0.6"/>
<line x1="298.40" y1="292.30" x2="298.40" y2="294.80" stroke="#222" stroke-width="0.6"/>
<line x1="305.42" y1="292.30" x2="305.42" y2="294.80" stroke="#222" stroke-width="0.6"/>
<line x1="312.44" y1="292.30" x2="312.44" y2="294.80" stroke="#222" stroke-width="0.6"/>
<line x1="319.46" y1="292.30" x2="319.46" y2="294.80" stroke="#222" stroke-width="0.6"/>
<line x1="326.48" y1="292.30" x2="326.48" y2="294.80" stroke="#222" stroke-width="0.6"/>
<line x1="333.50" y1="292.30" x2="333.50" y2="294.80" stroke="#222" stroke-width="0.6"/>
<line x1="340.52" y1="292.30" x2="340.52" y2="294.80" stroke="#222" stroke-width="0.6"/>
<line x1="347.54" y1="292.30" x2="347.54" y2="294.80" stroke="#222" stroke-width="0.6"/>
<line x1="354.56" y1="292.30" x2="354.56" y2="294.80" stroke="#222" stroke-width="0.6"/>
<line x1="361.58" y1="292.30" x2="361.58" y2="294.80" stroke="#222" stroke-width="0.6"/>
<line x1="368.60" y1="292.30" x2="368.60" y2="294.80" stroke="#222" stroke-width="0.6"/>
<line x1="375.62" y1="292.30" x2="375.62" y2="294.80" stroke="#222" stroke-width="0.6"/>
<line x1="382.64" y1="292.30" x2="382.64" y2="294.80" stroke="#222" stroke-width="0.6"/>
<text transform="translate(26.2,259.5) rotate(-90)" text-anchor="middle" font-size="9.9" fill="#1a1a1a" stroke="#1a1a1a" stroke-width="0.22">Log<tspan font-size="6.9" dy="2.4">2</tspan><tspan dy="-2.4">(TPM+1)</tspan></text>
<text x="49" y="308.7" font-size="9.3" font-weight="bold" font-style="italic" fill="#000" stroke="#000" stroke-width="0.22">LMNA</text>
<rect x="49.44" y="323.27" width="6.52" height="52.73" fill="#FFD500" stroke="#2c2c2c" stroke-width="0.8"/>
<rect x="56.46" y="337.24" width="6.52" height="38.76" fill="#FFD500" stroke="#2c2c2c" stroke-width="0.8"/>
<rect x="63.48" y="334.96" width="6.52" height="41.04" fill="#FFD500" stroke="#2c2c2c" stroke-width="0.8"/>
<rect x="70.50" y="330.51" width="6.52" height="45.49" fill="#FFD500" stroke="#2c2c2c" stroke-width="0.8"/>
<rect x="77.52" y="326.41" width="6.52" height="49.59" fill="#FFD500" stroke="#2c2c2c" stroke-width="0.8"/>
<rect x="84.54" y="330.12" width="6.52" height="45.89" fill="#FFD500" stroke="#2c2c2c" stroke-width="0.8"/>
<rect x="91.56" y="331.54" width="6.52" height="44.46" fill="#E8352B" stroke="#2c2c2c" stroke-width="0.8"/>
<rect x="98.58" y="332.11" width="6.52" height="43.89" fill="#E8352B" stroke="#2c2c2c" stroke-width="0.8"/>
<rect x="105.60" y="338.95" width="6.52" height="37.05" fill="#E8352B" stroke="#2c2c2c" stroke-width="0.8"/>
<rect x="112.62" y="331.25" width="6.52" height="44.74" fill="#E8352B" stroke="#2c2c2c" stroke-width="0.8"/>
<rect x="119.64" y="326.41" width="6.52" height="49.59" fill="#7B3A9C" stroke="#2c2c2c" stroke-width="0.8"/>
<rect x="126.66" y="331.25" width="6.52" height="44.74" fill="#D4B99B" stroke="#2c2c2c" stroke-width="0.8"/>
<rect x="133.68" y="333.82" width="6.52" height="42.18" fill="#D4B99B" stroke="#2c2c2c" stroke-width="0.8"/>
<rect x="140.70" y="327.26" width="6.52" height="48.74" fill="#D4B99B" stroke="#2c2c2c" stroke-width="0.8"/>
<rect x="147.72" y="322.13" width="6.52" height="53.86" fill="#D4B99B" stroke="#2c2c2c" stroke-width="0.8"/>
<rect x="154.74" y="344.37" width="6.52" height="31.64" fill="#2E9F5B" stroke="#2c2c2c" stroke-width="0.8"/>
<rect x="161.76" y="342.37" width="6.52" height="33.63" fill="#2E9F5B" stroke="#2c2c2c" stroke-width="0.8"/>
<rect x="168.78" y="327.55" width="6.52" height="48.45" fill="#B3305F" stroke="#2c2c2c" stroke-width="0.8"/>
<rect x="175.80" y="332.11" width="6.52" height="43.89" fill="#E2E2E2" stroke="#2c2c2c" stroke-width="0.8"/>
<rect x="182.82" y="324.13" width="6.52" height="51.87" fill="#246A68" stroke="#2c2c2c" stroke-width="0.8"/>
<rect x="189.84" y="347.21" width="6.52" height="28.79" fill="#6ACCD6" stroke="#2c2c2c" stroke-width="0.8"/>
<rect x="196.86" y="341.51" width="6.52" height="34.48" fill="#6ACCD6" stroke="#2c2c2c" stroke-width="0.8"/>
<rect x="203.88" y="332.11" width="6.52" height="43.89" fill="#3A76A2" stroke="#2c2c2c" stroke-width="0.8"/>
<rect x="210.90" y="327.83" width="6.52" height="48.16" fill="#3A76A2" stroke="#2c2c2c" stroke-width="0.8"/>
<rect x="217.92" y="334.39" width="6.52" height="41.61" fill="#3A76A2" stroke="#2c2c2c" stroke-width="0.8"/>
<rect x="224.94" y="326.41" width="6.52" height="49.59" fill="#3A76A2" stroke="#2c2c2c" stroke-width="0.8"/>
<rect x="231.96" y="323.27" width="6.52" height="52.73" fill="#3A76A2" stroke="#2c2c2c" stroke-width="0.8"/>
<rect x="238.98" y="335.81" width="6.52" height="40.19" fill="#3A76A2" stroke="#2c2c2c" stroke-width="0.8"/>
<rect x="246.00" y="320.71" width="6.52" height="55.29" fill="#6C2B82" stroke="#2c2c2c" stroke-width="0.8"/>
<rect x="253.02" y="324.70" width="6.52" height="51.30" fill="#6C2B82" stroke="#2c2c2c" stroke-width="0.8"/>
<rect x="260.04" y="333.82" width="6.52" height="42.18" fill="#6C2B82" stroke="#2c2c2c" stroke-width="0.8"/>
<rect x="267.06" y="332.11" width="6.52" height="43.89" fill="#6C2B82" stroke="#2c2c2c" stroke-width="0.8"/>
<rect x="274.08" y="334.96" width="6.52" height="41.04" fill="#B98DB2" stroke="#2c2c2c" stroke-width="0.8"/>
<rect x="281.10" y="323.27" width="6.52" height="52.73" fill="#B98DB2" stroke="#2c2c2c" stroke-width="0.8"/>
<rect x="288.12" y="324.13" width="6.52" height="51.87" fill="#98603F" stroke="#2c2c2c" stroke-width="0.8"/>
<rect x="295.14" y="324.70" width="6.52" height="51.30" fill="#3F6D2F" stroke="#2c2c2c" stroke-width="0.8"/>
<rect x="302.16" y="334.96" width="6.52" height="41.04" fill="#A8DDEE" stroke="#2c2c2c" stroke-width="0.8"/>
<rect x="309.18" y="319.00" width="6.52" height="57.00" fill="#D9C97E" stroke="#2c2c2c" stroke-width="0.8"/>
<rect x="316.20" y="323.27" width="6.52" height="52.73" fill="#D9C97E" stroke="#2c2c2c" stroke-width="0.8"/>
<rect x="323.22" y="328.69" width="6.52" height="47.31" fill="#DE1F86" stroke="#2c2c2c" stroke-width="0.8"/>
<rect x="330.24" y="322.42" width="6.52" height="53.58" fill="#DE1F86" stroke="#2c2c2c" stroke-width="0.8"/>
<rect x="337.26" y="327.83" width="6.52" height="48.16" fill="#6F963B" stroke="#2c2c2c" stroke-width="0.8"/>
<rect x="344.28" y="330.12" width="6.52" height="45.89" fill="#6F963B" stroke="#2c2c2c" stroke-width="0.8"/>
<rect x="351.30" y="335.81" width="6.52" height="40.19" fill="#6F963B" stroke="#2c2c2c" stroke-width="0.8"/>
<rect x="358.32" y="340.09" width="6.52" height="35.91" fill="#2A45A0" stroke="#2c2c2c" stroke-width="0.8"/>
<rect x="365.34" y="326.41" width="6.52" height="49.59" fill="#2A45A0" stroke="#2c2c2c" stroke-width="0.8"/>
<rect x="372.36" y="333.25" width="6.52" height="42.75" fill="#2A45A0" stroke="#2c2c2c" stroke-width="0.8"/>
<rect x="379.38" y="346.36" width="6.52" height="29.64" fill="#2A45A0" stroke="#2c2c2c" stroke-width="0.8"/>
<line x1="52.70" y1="322.59" x2="52.70" y2="323.96" stroke="#000" stroke-width="0.9"/>
<circle cx="52.70" cy="323.27" r="1.25" fill="#000"/>
<line x1="59.72" y1="336.56" x2="59.72" y2="337.92" stroke="#000" stroke-width="0.9"/>
<circle cx="59.72" cy="337.24" r="1.25" fill="#000"/>
<line x1="66.74" y1="332.11" x2="66.74" y2="337.81" stroke="#000" stroke-width="0.9"/>
<circle cx="66.74" cy="334.96" r="1.25" fill="#000"/>
<circle cx="66.74" cy="332.39" r="1.1" fill="#000"/>
<circle cx="66.74" cy="337.24" r="1.1" fill="#000"/>
<line x1="73.76" y1="329.83" x2="73.76" y2="331.20" stroke="#000" stroke-width="0.9"/>
<circle cx="73.76" cy="330.51" r="1.25" fill="#000"/>
<line x1="80.78" y1="325.73" x2="80.78" y2="327.09" stroke="#000" stroke-width="0.9"/>
<circle cx="80.78" cy="326.41" r="1.25" fill="#000"/>
<line x1="87.80" y1="329.43" x2="87.80" y2="330.80" stroke="#000" stroke-width="0.9"/>
<circle cx="87.80" cy="330.12" r="1.25" fill="#000"/>
<line x1="94.82" y1="330.86" x2="94.82" y2="332.22" stroke="#000" stroke-width="0.9"/>
<circle cx="94.82" cy="331.54" r="1.25" fill="#000"/>
<line x1="101.84" y1="331.43" x2="101.84" y2="332.79" stroke="#000" stroke-width="0.9"/>
<circle cx="101.84" cy="332.11" r="1.25" fill="#000"/>
<line x1="108.86" y1="338.27" x2="108.86" y2="339.63" stroke="#000" stroke-width="0.9"/>
<circle cx="108.86" cy="338.95" r="1.25" fill="#000"/>
<line x1="115.88" y1="330.57" x2="115.88" y2="331.94" stroke="#000" stroke-width="0.9"/>
<circle cx="115.88" cy="331.25" r="1.25" fill="#000"/>
<line x1="122.90" y1="325.73" x2="122.90" y2="327.09" stroke="#000" stroke-width="0.9"/>
<circle cx="122.90" cy="326.41" r="1.25" fill="#000"/>
<line x1="129.92" y1="330.57" x2="129.92" y2="331.94" stroke="#000" stroke-width="0.9"/>
<circle cx="129.92" cy="331.25" r="1.25" fill="#000"/>
<line x1="136.94" y1="333.14" x2="136.94" y2="334.50" stroke="#000" stroke-width="0.9"/>
<circle cx="136.94" cy="333.82" r="1.25" fill="#000"/>
<line x1="143.96" y1="326.58" x2="143.96" y2="327.95" stroke="#000" stroke-width="0.9"/>
<circle cx="143.96" cy="327.26" r="1.25" fill="#000"/>
<line x1="150.98" y1="321.45" x2="150.98" y2="322.82" stroke="#000" stroke-width="0.9"/>
<circle cx="150.98" cy="322.13" r="1.25" fill="#000"/>
<line x1="158.00" y1="343.68" x2="158.00" y2="345.05" stroke="#000" stroke-width="0.9"/>
<circle cx="158.00" cy="344.37" r="1.25" fill="#000"/>
<line x1="165.02" y1="341.69" x2="165.02" y2="343.05" stroke="#000" stroke-width="0.9"/>
<circle cx="165.02" cy="342.37" r="1.25" fill="#000"/>
<line x1="172.04" y1="326.87" x2="172.04" y2="328.23" stroke="#000" stroke-width="0.9"/>
<circle cx="172.04" cy="327.55" r="1.25" fill="#000"/>
<line x1="179.06" y1="329.83" x2="179.06" y2="334.39" stroke="#000" stroke-width="0.9"/>
<circle cx="179.06" cy="332.11" r="1.25" fill="#000"/>
<circle cx="179.06" cy="330.06" r="1.1" fill="#000"/>
<circle cx="179.06" cy="333.93" r="1.1" fill="#000"/>
<line x1="186.08" y1="323.45" x2="186.08" y2="324.81" stroke="#000" stroke-width="0.9"/>
<circle cx="186.08" cy="324.13" r="1.25" fill="#000"/>
<line x1="193.10" y1="343.79" x2="193.10" y2="350.63" stroke="#000" stroke-width="0.9"/>
<circle cx="193.10" cy="347.21" r="1.25" fill="#000"/>
<circle cx="193.10" cy="344.14" r="1.1" fill="#000"/>
<circle cx="193.10" cy="349.95" r="1.1" fill="#000"/>
<line x1="200.12" y1="340.83" x2="200.12" y2="342.20" stroke="#000" stroke-width="0.9"/>
<circle cx="200.12" cy="341.51" r="1.25" fill="#000"/>
<line x1="207.14" y1="331.43" x2="207.14" y2="332.79" stroke="#000" stroke-width="0.9"/>
<circle cx="207.14" cy="332.11" r="1.25" fill="#000"/>
<line x1="214.16" y1="327.15" x2="214.16" y2="328.52" stroke="#000" stroke-width="0.9"/>
<circle cx="214.16" cy="327.83" r="1.25" fill="#000"/>
<line x1="221.18" y1="333.71" x2="221.18" y2="335.07" stroke="#000" stroke-width="0.9"/>
<circle cx="221.18" cy="334.39" r="1.25" fill="#000"/>
<line x1="228.20" y1="325.73" x2="228.20" y2="327.09" stroke="#000" stroke-width="0.9"/>
<circle cx="228.20" cy="326.41" r="1.25" fill="#000"/>
<line x1="235.22" y1="322.59" x2="235.22" y2="323.96" stroke="#000" stroke-width="0.9"/>
<circle cx="235.22" cy="323.27" r="1.25" fill="#000"/>
<line x1="242.24" y1="335.13" x2="242.24" y2="336.50" stroke="#000" stroke-width="0.9"/>
<circle cx="242.24" cy="335.81" r="1.25" fill="#000"/>
<line x1="249.26" y1="320.03" x2="249.26" y2="321.39" stroke="#000" stroke-width="0.9"/>
<circle cx="249.26" cy="320.71" r="1.25" fill="#000"/>
<line x1="256.28" y1="324.02" x2="256.28" y2="325.38" stroke="#000" stroke-width="0.9"/>
<circle cx="256.28" cy="324.70" r="1.25" fill="#000"/>
<line x1="263.30" y1="333.14" x2="263.30" y2="334.50" stroke="#000" stroke-width="0.9"/>
<circle cx="263.30" cy="333.82" r="1.25" fill="#000"/>
<line x1="270.32" y1="331.43" x2="270.32" y2="332.79" stroke="#000" stroke-width="0.9"/>
<circle cx="270.32" cy="332.11" r="1.25" fill="#000"/>
<line x1="277.34" y1="332.11" x2="277.34" y2="337.81" stroke="#000" stroke-width="0.9"/>
<circle cx="277.34" cy="334.96" r="1.25" fill="#000"/>
<circle cx="277.34" cy="332.39" r="1.1" fill="#000"/>
<circle cx="277.34" cy="337.24" r="1.1" fill="#000"/>
<line x1="284.36" y1="322.59" x2="284.36" y2="323.96" stroke="#000" stroke-width="0.9"/>
<circle cx="284.36" cy="323.27" r="1.25" fill="#000"/>
<line x1="291.38" y1="323.45" x2="291.38" y2="324.81" stroke="#000" stroke-width="0.9"/>
<circle cx="291.38" cy="324.13" r="1.25" fill="#000"/>
<line x1="298.40" y1="322.42" x2="298.40" y2="326.98" stroke="#000" stroke-width="0.9"/>
<circle cx="298.40" cy="324.70" r="1.25" fill="#000"/>
<circle cx="298.40" cy="322.65" r="1.1" fill="#000"/>
<circle cx="298.40" cy="326.52" r="1.1" fill="#000"/>
<line x1="305.42" y1="334.28" x2="305.42" y2="335.64" stroke="#000" stroke-width="0.9"/>
<circle cx="305.42" cy="334.96" r="1.25" fill="#000"/>
<line x1="312.44" y1="318.32" x2="312.44" y2="319.68" stroke="#000" stroke-width="0.9"/>
<circle cx="312.44" cy="319.00" r="1.25" fill="#000"/>
<line x1="319.46" y1="321.00" x2="319.46" y2="325.55" stroke="#000" stroke-width="0.9"/>
<circle cx="319.46" cy="323.27" r="1.25" fill="#000"/>
<circle cx="319.46" cy="321.22" r="1.1" fill="#000"/>
<circle cx="319.46" cy="325.10" r="1.1" fill="#000"/>
<line x1="326.48" y1="328.01" x2="326.48" y2="329.37" stroke="#000" stroke-width="0.9"/>
<circle cx="326.48" cy="328.69" r="1.25" fill="#000"/>
<line x1="333.50" y1="321.74" x2="333.50" y2="323.10" stroke="#000" stroke-width="0.9"/>
<circle cx="333.50" cy="322.42" r="1.25" fill="#000"/>
<line x1="340.52" y1="327.15" x2="340.52" y2="328.52" stroke="#000" stroke-width="0.9"/>
<circle cx="340.52" cy="327.83" r="1.25" fill="#000"/>
<line x1="347.54" y1="329.43" x2="347.54" y2="330.80" stroke="#000" stroke-width="0.9"/>
<circle cx="347.54" cy="330.12" r="1.25" fill="#000"/>
<line x1="354.56" y1="335.13" x2="354.56" y2="336.50" stroke="#000" stroke-width="0.9"/>
<circle cx="354.56" cy="335.81" r="1.25" fill="#000"/>
<line x1="361.58" y1="336.10" x2="361.58" y2="344.08" stroke="#000" stroke-width="0.9"/>
<circle cx="361.58" cy="340.09" r="1.25" fill="#000"/>
<circle cx="361.58" cy="336.50" r="1.1" fill="#000"/>
<circle cx="361.58" cy="343.28" r="1.1" fill="#000"/>
<line x1="368.60" y1="325.73" x2="368.60" y2="327.09" stroke="#000" stroke-width="0.9"/>
<circle cx="368.60" cy="326.41" r="1.25" fill="#000"/>
<line x1="375.62" y1="332.57" x2="375.62" y2="333.93" stroke="#000" stroke-width="0.9"/>
<circle cx="375.62" cy="333.25" r="1.25" fill="#000"/>
<line x1="382.64" y1="345.68" x2="382.64" y2="347.04" stroke="#000" stroke-width="0.9"/>
<circle cx="382.64" cy="346.36" r="1.25" fill="#000"/>
<path d="M48.5 316.5V376.3" stroke="#222" stroke-width="0.9" fill="none"/>
<path d="M48.5 379.0H387.0" stroke="#222" stroke-width="0.9" fill="none"/>
<line x1="45.3" y1="376.00" x2="48.5" y2="376.00" stroke="#222" stroke-width="0.6"/>
<text x="44.6" y="378.40" text-anchor="end" font-size="6.7" fill="#262626" stroke="#262626" stroke-width="0.22">0.0</text>
<line x1="45.3" y1="361.75" x2="48.5" y2="361.75" stroke="#222" stroke-width="0.6"/>
<text x="44.6" y="364.15" text-anchor="end" font-size="6.7" fill="#262626" stroke="#262626" stroke-width="0.22">2.5</text>
<line x1="45.3" y1="347.50" x2="48.5" y2="347.50" stroke="#222" stroke-width="0.6"/>
<text x="44.6" y="349.90" text-anchor="end" font-size="6.7" fill="#262626" stroke="#262626" stroke-width="0.22">5.0</text>
<line x1="45.3" y1="333.25" x2="48.5" y2="333.25" stroke="#222" stroke-width="0.6"/>
<text x="44.6" y="335.65" text-anchor="end" font-size="6.7" fill="#262626" stroke="#262626" stroke-width="0.22">7.5</text>
<line x1="45.3" y1="319.00" x2="48.5" y2="319.00" stroke="#222" stroke-width="0.6"/>
<text x="44.6" y="321.40" text-anchor="end" font-size="6.7" fill="#262626" stroke="#262626" stroke-width="0.22">10.0</text>
<line x1="52.70" y1="379.00" x2="52.70" y2="381.50" stroke="#222" stroke-width="0.6"/>
<line x1="59.72" y1="379.00" x2="59.72" y2="381.50" stroke="#222" stroke-width="0.6"/>
<line x1="66.74" y1="379.00" x2="66.74" y2="381.50" stroke="#222" stroke-width="0.6"/>
<line x1="73.76" y1="379.00" x2="73.76" y2="381.50" stroke="#222" stroke-width="0.6"/>
<line x1="80.78" y1="379.00" x2="80.78" y2="381.50" stroke="#222" stroke-width="0.6"/>
<line x1="87.80" y1="379.00" x2="87.80" y2="381.50" stroke="#222" stroke-width="0.6"/>
<line x1="94.82" y1="379.00" x2="94.82" y2="381.50" stroke="#222" stroke-width="0.6"/>
<line x1="101.84" y1="379.00" x2="101.84" y2="381.50" stroke="#222" stroke-width="0.6"/>
<line x1="108.86" y1="379.00" x2="108.86" y2="381.50" stroke="#222" stroke-width="0.6"/>
<line x1="115.88" y1="379.00" x2="115.88" y2="381.50" stroke="#222" stroke-width="0.6"/>
<line x1="122.90" y1="379.00" x2="122.90" y2="381.50" stroke="#222" stroke-width="0.6"/>
<line x1="129.92" y1="379.00" x2="129.92" y2="381.50" stroke="#222" stroke-width="0.6"/>
<line x1="136.94" y1="379.00" x2="136.94" y2="381.50" stroke="#222" stroke-width="0.6"/>
<line x1="143.96" y1="379.00" x2="143.96" y2="381.50" stroke="#222" stroke-width="0.6"/>
<line x1="150.98" y1="379.00" x2="150.98" y2="381.50" stroke="#222" stroke-width="0.6"/>
<line x1="158.00" y1="379.00" x2="158.00" y2="381.50" stroke="#222" stroke-width="0.6"/>
<line x1="165.02" y1="379.00" x2="165.02" y2="381.50" stroke="#222" stroke-width="0.6"/>
<line x1="172.04" y1="379.00" x2="172.04" y2="381.50" stroke="#222" stroke-width="0.6"/>
<line x1="179.06" y1="379.00" x2="179.06" y2="381.50" stroke="#222" stroke-width="0.6"/>
<line x1="186.08" y1="379.00" x2="186.08" y2="381.50" stroke="#222" stroke-width="0.6"/>
<line x1="193.10" y1="379.00" x2="193.10" y2="381.50" stroke="#222" stroke-width="0.6"/>
<line x1="200.12" y1="379.00" x2="200.12" y2="381.50" stroke="#222" stroke-width="0.6"/>
<line x1="207.14" y1="379.00" x2="207.14" y2="381.50" stroke="#222" stroke-width="0.6"/>
<line x1="214.16" y1="379.00" x2="214.16" y2="381.50" stroke="#222" stroke-width="0.6"/>
<line x1="221.18" y1="379.00" x2="221.18" y2="381.50" stroke="#222" stroke-width="0.6"/>
<line x1="228.20" y1="379.00" x2="228.20" y2="381.50" stroke="#222" stroke-width="0.6"/>
<line x1="235.22" y1="379.00" x2="235.22" y2="381.50" stroke="#222" stroke-width="0.6"/>
<line x1="242.24" y1="379.00" x2="242.24" y2="381.50" stroke="#222" stroke-width="0.6"/>
<line x1="249.26" y1="379.00" x2="249.26" y2="381.50" stroke="#222" stroke-width="0.6"/>
<line x1="256.28" y1="379.00" x2="256.28" y2="381.50" stroke="#222" stroke-width="0.6"/>
<line x1="263.30" y1="379.00" x2="263.30" y2="381.50" stroke="#222" stroke-width="0.6"/>
<line x1="270.32" y1="379.00" x2="270.32" y2="381.50" stroke="#222" stroke-width="0.6"/>
<line x1="277.34" y1="379.00" x2="277.34" y2="381.50" stroke="#222" stroke-width="0.6"/>
<line x1="284.36" y1="379.00" x2="284.36" y2="381.50" stroke="#222" stroke-width="0.6"/>
<line x1="291.38" y1="379.00" x2="291.38" y2="381.50" stroke="#222" stroke-width="0.6"/>
<line x1="298.40" y1="379.00" x2="298.40" y2="381.50" stroke="#222" stroke-width="0.6"/>
<line x1="305.42" y1="379.00" x2="305.42" y2="381.50" stroke="#222" stroke-width="0.6"/>
<line x1="312.44" y1="379.00" x2="312.44" y2="381.50" stroke="#222" stroke-width="0.6"/>
<line x1="319.46" y1="379.00" x2="319.46" y2="381.50" stroke="#222" stroke-width="0.6"/>
<line x1="326.48" y1="379.00" x2="326.48" y2="381.50" stroke="#222" stroke-width="0.6"/>
<line x1="333.50" y1="379.00" x2="333.50" y2="381.50" stroke="#222" stroke-width="0.6"/>
<line x1="340.52" y1="379.00" x2="340.52" y2="381.50" stroke="#222" stroke-width="0.6"/>
<line x1="347.54" y1="379.00" x2="347.54" y2="381.50" stroke="#222" stroke-width="0.6"/>
<line x1="354.56" y1="379.00" x2="354.56" y2="381.50" stroke="#222" stroke-width="0.6"/>
<line x1="361.58" y1="379.00" x2="361.58" y2="381.50" stroke="#222" stroke-width="0.6"/>
<line x1="368.60" y1="379.00" x2="368.60" y2="381.50" stroke="#222" stroke-width="0.6"/>
<line x1="375.62" y1="379.00" x2="375.62" y2="381.50" stroke="#222" stroke-width="0.6"/>
<line x1="382.64" y1="379.00" x2="382.64" y2="381.50" stroke="#222" stroke-width="0.6"/>
<text transform="translate(26.2,346.2) rotate(-90)" text-anchor="middle" font-size="9.9" fill="#1a1a1a" stroke="#1a1a1a" stroke-width="0.22">Log<tspan font-size="6.9" dy="2.4">2</tspan><tspan dy="-2.4">(TPM+1)</tspan></text>
<text transform="translate(55.30,384.6) rotate(-45)" text-anchor="end" font-size="5.7" font-weight="bold" fill="#E8352B" stroke="#E8352B" stroke-width="0.22">SV-HUC-1</text>
<text transform="translate(62.32,384.6) rotate(-45)" text-anchor="end" font-size="5.7" font-weight="bold" fill="#2a2a2a" stroke="#2a2a2a" stroke-width="0.22">SW780</text>
<text transform="translate(69.34,384.6) rotate(-45)" text-anchor="end" font-size="5.7" font-weight="bold" fill="#2a2a2a" stroke="#2a2a2a" stroke-width="0.22">RT4</text>
<text transform="translate(76.36,384.6) rotate(-45)" text-anchor="end" font-size="5.7" font-weight="bold" fill="#2a2a2a" stroke="#2a2a2a" stroke-width="0.22">5637</text>
<text transform="translate(83.38,384.6) rotate(-45)" text-anchor="end" font-size="5.7" font-weight="bold" fill="#2a2a2a" stroke="#2a2a2a" stroke-width="0.22">T24</text>
<text transform="translate(90.40,384.6) rotate(-45)" text-anchor="end" font-size="5.7" font-weight="bold" fill="#2a2a2a" stroke="#2a2a2a" stroke-width="0.22">J82</text>
<text transform="translate(97.42,384.6) rotate(-45)" text-anchor="end" font-size="5.7" font-weight="bold" fill="#E8352B" stroke="#E8352B" stroke-width="0.22">MCF-10A</text>
<text transform="translate(104.44,384.6) rotate(-45)" text-anchor="end" font-size="5.7" font-weight="bold" fill="#2a2a2a" stroke="#2a2a2a" stroke-width="0.22">MCF-7</text>
<text transform="translate(111.46,384.6) rotate(-45)" text-anchor="end" font-size="5.7" font-weight="bold" fill="#2a2a2a" stroke="#2a2a2a" stroke-width="0.22">T47D</text>
<text transform="translate(118.48,384.6) rotate(-45)" text-anchor="end" font-size="5.7" font-weight="bold" fill="#2a2a2a" stroke="#2a2a2a" stroke-width="0.22">MDA-MB-231</text>
<text transform="translate(125.50,384.6) rotate(-45)" text-anchor="end" font-size="5.7" font-weight="bold" fill="#2a2a2a" stroke="#2a2a2a" stroke-width="0.22">HeLa</text>
<text transform="translate(132.52,384.6) rotate(-45)" text-anchor="end" font-size="5.7" font-weight="bold" fill="#2a2a2a" stroke="#2a2a2a" stroke-width="0.22">SW480</text>
<text transform="translate(139.54,384.6) rotate(-45)" text-anchor="end" font-size="5.7" font-weight="bold" fill="#2a2a2a" stroke="#2a2a2a" stroke-width="0.22">SW620</text>
<text transform="translate(146.56,384.6) rotate(-45)" text-anchor="end" font-size="5.7" font-weight="bold" fill="#2a2a2a" stroke="#2a2a2a" stroke-width="0.22">HCT116</text>
<text transform="translate(153.58,384.6) rotate(-45)" text-anchor="end" font-size="5.7" font-weight="bold" fill="#2a2a2a" stroke="#2a2a2a" stroke-width="0.22">HT-29</text>
<text transform="translate(160.60,384.6) rotate(-45)" text-anchor="end" font-size="5.7" font-weight="bold" fill="#E8352B" stroke="#E8352B" stroke-width="0.22">HEK293</text>
<text transform="translate(167.62,384.6) rotate(-45)" text-anchor="end" font-size="5.7" font-weight="bold" fill="#E8352B" stroke="#E8352B" stroke-width="0.22">HEK293T</text>
<text transform="translate(174.64,384.6) rotate(-45)" text-anchor="end" font-size="5.7" font-weight="bold" fill="#E8352B" stroke="#E8352B" stroke-width="0.22">MRC-5</text>
<text transform="translate(181.66,384.6) rotate(-45)" text-anchor="end" font-size="5.7" font-weight="bold" fill="#2a2a2a" stroke="#2a2a2a" stroke-width="0.22">HT-1080</text>
<text transform="translate(188.68,384.6) rotate(-45)" text-anchor="end" font-size="5.7" font-weight="bold" fill="#E8352B" stroke="#E8352B" stroke-width="0.22">HUVEC</text>
<text transform="translate(195.70,384.6) rotate(-45)" text-anchor="end" font-size="5.7" font-weight="bold" fill="#2a2a2a" stroke="#2a2a2a" stroke-width="0.22">K562</text>
<text transform="translate(202.72,384.6) rotate(-45)" text-anchor="end" font-size="5.7" font-weight="bold" fill="#2a2a2a" stroke="#2a2a2a" stroke-width="0.22">HL-60</text>
<text transform="translate(209.74,384.6) rotate(-45)" text-anchor="end" font-size="5.7" font-weight="bold" fill="#E8352B" stroke="#E8352B" stroke-width="0.22">HL-7702</text>
<text transform="translate(216.76,384.6) rotate(-45)" text-anchor="end" font-size="5.7" font-weight="bold" fill="#E8352B" stroke="#E8352B" stroke-width="0.22">L02</text>
<text transform="translate(223.78,384.6) rotate(-45)" text-anchor="end" font-size="5.7" font-weight="bold" fill="#2a2a2a" stroke="#2a2a2a" stroke-width="0.22">HuH-7</text>
<text transform="translate(230.80,384.6) rotate(-45)" text-anchor="end" font-size="5.7" font-weight="bold" fill="#2a2a2a" stroke="#2a2a2a" stroke-width="0.22">SMMC-7721</text>
<text transform="translate(237.82,384.6) rotate(-45)" text-anchor="end" font-size="5.7" font-weight="bold" fill="#2a2a2a" stroke="#2a2a2a" stroke-width="0.22">HCCLM3</text>
<text transform="translate(244.84,384.6) rotate(-45)" text-anchor="end" font-size="5.7" font-weight="bold" fill="#2a2a2a" stroke="#2a2a2a" stroke-width="0.22">HepG2</text>
<text transform="translate(251.86,384.6) rotate(-45)" text-anchor="end" font-size="5.7" font-weight="bold" fill="#E8352B" stroke="#E8352B" stroke-width="0.22">WI-38</text>
<text transform="translate(258.88,384.6) rotate(-45)" text-anchor="end" font-size="5.7" font-weight="bold" fill="#2a2a2a" stroke="#2a2a2a" stroke-width="0.22">H1299</text>
<text transform="translate(265.90,384.6) rotate(-45)" text-anchor="end" font-size="5.7" font-weight="bold" fill="#2a2a2a" stroke="#2a2a2a" stroke-width="0.22">H23</text>
<text transform="translate(272.92,384.6) rotate(-45)" text-anchor="end" font-size="5.7" font-weight="bold" fill="#2a2a2a" stroke="#2a2a2a" stroke-width="0.22">A549</text>
<text transform="translate(279.94,384.6) rotate(-45)" text-anchor="end" font-size="5.7" font-weight="bold" fill="#2a2a2a" stroke="#2a2a2a" stroke-width="0.22">WM35</text>
<text transform="translate(286.96,384.6) rotate(-45)" text-anchor="end" font-size="5.7" font-weight="bold" fill="#2a2a2a" stroke="#2a2a2a" stroke-width="0.22">A375</text>
<text transform="translate(293.98,384.6) rotate(-45)" text-anchor="end" font-size="5.7" font-weight="bold" fill="#E8352B" stroke="#E8352B" stroke-width="0.22">MeT-5A</text>
<text transform="translate(301.00,384.6) rotate(-45)" text-anchor="end" font-size="5.7" font-weight="bold" fill="#2a2a2a" stroke="#2a2a2a" stroke-width="0.22">MPP89</text>
<text transform="translate(308.02,384.6) rotate(-45)" text-anchor="end" font-size="5.7" font-weight="bold" fill="#2a2a2a" stroke="#2a2a2a" stroke-width="0.22">SH-SY5Y</text>
<text transform="translate(315.04,384.6) rotate(-45)" text-anchor="end" font-size="5.7" font-weight="bold" fill="#2a2a2a" stroke="#2a2a2a" stroke-width="0.22">SaOS-2</text>
<text transform="translate(322.06,384.6) rotate(-45)" text-anchor="end" font-size="5.7" font-weight="bold" fill="#2a2a2a" stroke="#2a2a2a" stroke-width="0.22">MG-63</text>
<text transform="translate(329.08,384.6) rotate(-45)" text-anchor="end" font-size="5.7" font-weight="bold" fill="#2a2a2a" stroke="#2a2a2a" stroke-width="0.22">Hey</text>
<text transform="translate(336.10,384.6) rotate(-45)" text-anchor="end" font-size="5.7" font-weight="bold" fill="#2a2a2a" stroke="#2a2a2a" stroke-width="0.22">HeyA8</text>
<text transform="translate(343.12,384.6) rotate(-45)" text-anchor="end" font-size="5.7" font-weight="bold" fill="#2a2a2a" stroke="#2a2a2a" stroke-width="0.22">BxPC-3</text>
<text transform="translate(350.14,384.6) rotate(-45)" text-anchor="end" font-size="5.7" font-weight="bold" fill="#2a2a2a" stroke="#2a2a2a" stroke-width="0.22">MIA-PaCa-2</text>
<text transform="translate(357.16,384.6) rotate(-45)" text-anchor="end" font-size="5.7" font-weight="bold" fill="#2a2a2a" stroke="#2a2a2a" stroke-width="0.22">AsPC-1</text>
<text transform="translate(364.18,384.6) rotate(-45)" text-anchor="end" font-size="5.7" font-weight="bold" fill="#E8352B" stroke="#E8352B" stroke-width="0.22">WPMY-1</text>
<text transform="translate(371.20,384.6) rotate(-45)" text-anchor="end" font-size="5.7" font-weight="bold" fill="#E8352B" stroke="#E8352B" stroke-width="0.22">BPH-1</text>
<text transform="translate(378.22,384.6) rotate(-45)" text-anchor="end" font-size="5.7" font-weight="bold" fill="#2a2a2a" stroke="#2a2a2a" stroke-width="0.22">PC-3</text>
<text transform="translate(385.24,384.6) rotate(-45)" text-anchor="end" font-size="5.7" font-weight="bold" fill="#2a2a2a" stroke="#2a2a2a" stroke-width="0.22">LNCaP</text>
<text x="399" y="202.4" font-size="9.9" font-weight="bold" fill="#000" stroke="#000" stroke-width="0.22">Source</text>
<rect x="401.6" y="208.50" width="6.6" height="6.6" fill="#FFD500" stroke="#333" stroke-width="0.6"/>
<ellipse cx="405" cy="211.70" rx="0.95" ry="0.75" fill="#000"/>
<text x="410" y="214.40" font-size="7.2" fill="#1a1a1a" stroke="#1a1a1a" stroke-width="0.22">Bladder</text>
<rect x="401.6" y="215.51" width="6.6" height="6.6" fill="#E8352B" stroke="#333" stroke-width="0.6"/>
<ellipse cx="405" cy="218.71" rx="0.95" ry="0.75" fill="#000"/>
<text x="410" y="221.41" font-size="7.2" fill="#1a1a1a" stroke="#1a1a1a" stroke-width="0.22">Breast</text>
<rect x="401.6" y="222.52" width="6.6" height="6.6" fill="#7B3A9C" stroke="#333" stroke-width="0.6"/>
<ellipse cx="405" cy="225.72" rx="0.95" ry="0.75" fill="#000"/>
<text x="410" y="228.42" font-size="7.2" fill="#1a1a1a" stroke="#1a1a1a" stroke-width="0.22">Cervix</text>
<rect x="401.6" y="229.53" width="6.6" height="6.6" fill="#D4B99B" stroke="#333" stroke-width="0.6"/>
<ellipse cx="405" cy="232.73" rx="0.95" ry="0.75" fill="#000"/>
<text x="410" y="235.43" font-size="7.2" fill="#1a1a1a" stroke="#1a1a1a" stroke-width="0.22">Colon</text>
<rect x="401.6" y="236.54" width="6.6" height="6.6" fill="#2E9F5B" stroke="#333" stroke-width="0.6"/>
<ellipse cx="405" cy="239.74" rx="0.95" ry="0.75" fill="#000"/>
<text x="410" y="242.44" font-size="7.2" fill="#1a1a1a" stroke="#1a1a1a" stroke-width="0.22">Embryonic kidney</text>
<rect x="401.6" y="243.55" width="6.6" height="6.6" fill="#B3305F" stroke="#333" stroke-width="0.6"/>
<ellipse cx="405" cy="246.75" rx="0.95" ry="0.75" fill="#000"/>
<text x="410" y="249.45" font-size="7.2" fill="#1a1a1a" stroke="#1a1a1a" stroke-width="0.22">Fetal lung fibroblasts</text>
<rect x="401.6" y="250.56" width="6.6" height="6.6" fill="#E2E2E2" stroke="#333" stroke-width="0.6"/>
<ellipse cx="405" cy="253.76" rx="0.95" ry="0.75" fill="#000"/>
<text x="410" y="256.46" font-size="7.2" fill="#1a1a1a" stroke="#1a1a1a" stroke-width="0.22">Fibrosarcoma</text>
<rect x="401.6" y="257.57" width="6.6" height="6.6" fill="#246A68" stroke="#333" stroke-width="0.6"/>
<ellipse cx="405" cy="260.77" rx="0.95" ry="0.75" fill="#000"/>
<text x="410" y="263.47" font-size="7.2" fill="#1a1a1a" stroke="#1a1a1a" stroke-width="0.22">Endothelial cells</text>
<rect x="401.6" y="264.58" width="6.6" height="6.6" fill="#6ACCD6" stroke="#333" stroke-width="0.6"/>
<ellipse cx="405" cy="267.78" rx="0.95" ry="0.75" fill="#000"/>
<text x="410" y="270.48" font-size="7.2" fill="#1a1a1a" stroke="#1a1a1a" stroke-width="0.22">Leukemia</text>
<rect x="401.6" y="271.59" width="6.6" height="6.6" fill="#3A76A2" stroke="#333" stroke-width="0.6"/>
<ellipse cx="405" cy="274.79" rx="0.95" ry="0.75" fill="#000"/>
<text x="410" y="277.49" font-size="7.2" fill="#1a1a1a" stroke="#1a1a1a" stroke-width="0.22">Liver</text>
<rect x="401.6" y="278.60" width="6.6" height="6.6" fill="#6C2B82" stroke="#333" stroke-width="0.6"/>
<ellipse cx="405" cy="281.80" rx="0.95" ry="0.75" fill="#000"/>
<text x="410" y="284.50" font-size="7.2" fill="#1a1a1a" stroke="#1a1a1a" stroke-width="0.22">Lung</text>
<rect x="401.6" y="285.61" width="6.6" height="6.6" fill="#B98DB2" stroke="#333" stroke-width="0.6"/>
<ellipse cx="405" cy="288.81" rx="0.95" ry="0.75" fill="#000"/>
<text x="410" y="291.51" font-size="7.2" fill="#1a1a1a" stroke="#1a1a1a" stroke-width="0.22">Melanoma</text>
<rect x="401.6" y="292.62" width="6.6" height="6.6" fill="#98603F" stroke="#333" stroke-width="0.6"/>
<ellipse cx="405" cy="295.82" rx="0.95" ry="0.75" fill="#000"/>
<text x="410" y="298.52" font-size="7.2" fill="#1a1a1a" stroke="#1a1a1a" stroke-width="0.22">Mesothelial cells</text>
<rect x="401.6" y="299.63" width="6.6" height="6.6" fill="#3F6D2F" stroke="#333" stroke-width="0.6"/>
<ellipse cx="405" cy="302.83" rx="0.95" ry="0.75" fill="#000"/>
<text x="410" y="305.53" font-size="7.2" fill="#1a1a1a" stroke="#1a1a1a" stroke-width="0.22">Pleural epithelioid mesothelioma</text>
<rect x="401.6" y="306.64" width="6.6" height="6.6" fill="#A8DDEE" stroke="#333" stroke-width="0.6"/>
<ellipse cx="405" cy="309.84" rx="0.95" ry="0.75" fill="#000"/>
<text x="410" y="312.54" font-size="7.2" fill="#1a1a1a" stroke="#1a1a1a" stroke-width="0.22">Neuroblastoma</text>
<rect x="401.6" y="313.65" width="6.6" height="6.6" fill="#D9C97E" stroke="#333" stroke-width="0.6"/>
<ellipse cx="405" cy="316.85" rx="0.95" ry="0.75" fill="#000"/>
<text x="410" y="319.55" font-size="7.2" fill="#1a1a1a" stroke="#1a1a1a" stroke-width="0.22">Osteosarcoma</text>
<rect x="401.6" y="320.66" width="6.6" height="6.6" fill="#DE1F86" stroke="#333" stroke-width="0.6"/>
<ellipse cx="405" cy="323.86" rx="0.95" ry="0.75" fill="#000"/>
<text x="410" y="326.56" font-size="7.2" fill="#1a1a1a" stroke="#1a1a1a" stroke-width="0.22">Ovary</text>
<rect x="401.6" y="327.67" width="6.6" height="6.6" fill="#6F963B" stroke="#333" stroke-width="0.6"/>
<ellipse cx="405" cy="330.87" rx="0.95" ry="0.75" fill="#000"/>
<text x="410" y="333.57" font-size="7.2" fill="#1a1a1a" stroke="#1a1a1a" stroke-width="0.22">Pancreas</text>
<rect x="401.6" y="334.68" width="6.6" height="6.6" fill="#2A45A0" stroke="#333" stroke-width="0.6"/>
<ellipse cx="405" cy="337.88" rx="0.95" ry="0.75" fill="#000"/>
<text x="410" y="340.58" font-size="7.2" fill="#1a1a1a" stroke="#1a1a1a" stroke-width="0.22">Prostate</text>
<text x="0.5" y="425.3" font-size="12" font-weight="bold" fill="#000" stroke="#000" stroke-width="0.22">C</text>
<text x="39.8" y="431.7" font-size="9.7" font-weight="bold" fill="#000" stroke="#000" stroke-width="0.22">TCGA-COAD</text>
<polygon points="90.6,508.1 82.5,517.5 93.3,536.4 103.2,528.3 102.2,516.2 96.0,508.1" fill="#2B62AE" fill-opacity="0.13" stroke="#4A76BC" stroke-width="0.75"/>
<polygon points="44.8,442.9 89.2,442.1 109.4,445.6 133.7,463.7 157.9,496.8 136.4,507.3 98.7,511.6 89.2,510.8 85.2,506.2" fill="#E8B030" fill-opacity="0.12" stroke="#E9BF55" stroke-width="0.75"/>
<path d="M89.8 507.3h1.6v1.6h-1.6zM81.7 516.7h1.6v1.6h-1.6zM92.5 535.6h1.6v1.6h-1.6zM102.4 527.5h1.6v1.6h-1.6zM101.4 515.4h1.6v1.6h-1.6zM95.2 507.3h1.6v1.6h-1.6z" fill="#4A76BC"/>
<path d="M44.0 442.1h1.6v1.6h-1.6zM88.4 441.3h1.6v1.6h-1.6zM108.6 444.8h1.6v1.6h-1.6zM132.9 462.9h1.6v1.6h-1.6zM157.1 496.0h1.6v1.6h-1.6zM135.6 506.5h1.6v1.6h-1.6zM97.9 510.8h1.6v1.6h-1.6zM88.4 510.0h1.6v1.6h-1.6zM84.4 505.4h1.6v1.6h-1.6z" fill="#E9BF55"/>
<path d="M117.3 471.6h1.3v1.3h-1.3zM118.7 478.5h1.3v1.3h-1.3zM104.1 468.5h1.3v1.3h-1.3zM97.9 467.4h1.3v1.3h-1.3zM102.6 468.2h1.3v1.3h-1.3zM100.8 468.4h1.3v1.3h-1.3zM108.4 452.1h1.3v1.3h-1.3zM101.3 465.8h1.3v1.3h-1.3zM101.7 486.2h1.3v1.3h-1.3zM108.8 501.7h1.3v1.3h-1.3zM99.3 458.5h1.3v1.3h-1.3zM116.7 500.7h1.3v1.3h-1.3zM102.0 463.3h1.3v1.3h-1.3zM113.8 478.8h1.3v1.3h-1.3zM107.7 470.3h1.3v1.3h-1.3zM99.3 473.6h1.3v1.3h-1.3zM124.3 483.2h1.3v1.3h-1.3zM102.7 470.0h1.3v1.3h-1.3zM96.3 471.8h1.3v1.3h-1.3zM122.5 468.5h1.3v1.3h-1.3zM109.7 466.6h1.3v1.3h-1.3zM103.9 473.7h1.3v1.3h-1.3zM93.5 467.7h1.3v1.3h-1.3zM103.4 458.1h1.3v1.3h-1.3zM107.2 475.4h1.3v1.3h-1.3zM104.8 473.9h1.3v1.3h-1.3zM103.9 467.8h1.3v1.3h-1.3zM88.8 467.5h1.3v1.3h-1.3zM93.8 470.3h1.3v1.3h-1.3zM111.8 489.4h1.3v1.3h-1.3zM117.9 475.5h1.3v1.3h-1.3zM101.7 465.2h1.3v1.3h-1.3zM101.3 476.7h1.3v1.3h-1.3zM98.4 473.9h1.3v1.3h-1.3zM106.3 477.5h1.3v1.3h-1.3zM106.1 483.6h1.3v1.3h-1.3zM94.8 471.9h1.3v1.3h-1.3zM109.2 488.1h1.3v1.3h-1.3zM103.9 469.0h1.3v1.3h-1.3zM96.6 468.4h1.3v1.3h-1.3zM99.4 456.2h1.3v1.3h-1.3zM112.7 488.0h1.3v1.3h-1.3zM118.5 485.9h1.3v1.3h-1.3zM123.4 478.0h1.3v1.3h-1.3zM139.0 475.2h1.3v1.3h-1.3zM111.3 461.5h1.3v1.3h-1.3zM113.3 491.4h1.3v1.3h-1.3zM105.8 485.4h1.3v1.3h-1.3zM137.0 485.2h1.3v1.3h-1.3zM101.7 469.8h1.3v1.3h-1.3zM115.4 468.3h1.3v1.3h-1.3zM98.9 461.3h1.3v1.3h-1.3zM119.3 484.8h1.3v1.3h-1.3zM118.1 477.0h1.3v1.3h-1.3zM102.8 458.7h1.3v1.3h-1.3zM107.8 494.4h1.3v1.3h-1.3zM113.9 468.8h1.3v1.3h-1.3zM103.4 471.6h1.3v1.3h-1.3zM113.5 462.4h1.3v1.3h-1.3zM105.3 483.1h1.3v1.3h-1.3zM98.8 468.6h1.3v1.3h-1.3zM101.5 461.3h1.3v1.3h-1.3zM100.5 470.8h1.3v1.3h-1.3zM122.4 480.4h1.3v1.3h-1.3zM99.5 460.9h1.3v1.3h-1.3zM96.1 464.8h1.3v1.3h-1.3zM100.1 455.2h1.3v1.3h-1.3zM116.5 470.6h1.3v1.3h-1.3zM96.2 471.1h1.3v1.3h-1.3zM103.5 458.3h1.3v1.3h-1.3zM93.1 472.1h1.3v1.3h-1.3zM104.3 466.3h1.3v1.3h-1.3zM98.2 475.4h1.3v1.3h-1.3zM97.6 470.9h1.3v1.3h-1.3zM97.2 472.1h1.3v1.3h-1.3zM153.1 493.8h1.3v1.3h-1.3zM102.5 469.9h1.3v1.3h-1.3zM99.1 464.6h1.3v1.3h-1.3zM123.7 483.0h1.3v1.3h-1.3zM106.1 473.5h1.3v1.3h-1.3zM105.3 462.9h1.3v1.3h-1.3zM115.7 477.3h1.3v1.3h-1.3zM97.1 474.4h1.3v1.3h-1.3zM107.0 469.2h1.3v1.3h-1.3zM106.4 479.1h1.3v1.3h-1.3zM98.8 467.4h1.3v1.3h-1.3zM103.2 466.6h1.3v1.3h-1.3zM102.4 472.8h1.3v1.3h-1.3zM111.0 464.6h1.3v1.3h-1.3zM68.1 451.0h1.3v1.3h-1.3zM102.1 458.3h1.3v1.3h-1.3zM101.3 466.4h1.3v1.3h-1.3zM127.0 483.5h1.3v1.3h-1.3zM106.2 468.2h1.3v1.3h-1.3zM132.6 462.8h1.3v1.3h-1.3zM105.6 460.5h1.3v1.3h-1.3zM103.6 472.0h1.3v1.3h-1.3zM106.7 491.3h1.3v1.3h-1.3zM93.1 476.7h1.3v1.3h-1.3zM105.5 466.7h1.3v1.3h-1.3zM125.4 476.7h1.3v1.3h-1.3zM127.6 489.7h1.3v1.3h-1.3zM105.1 472.8h1.3v1.3h-1.3zM99.4 480.4h1.3v1.3h-1.3zM99.0 488.0h1.3v1.3h-1.3zM105.6 469.1h1.3v1.3h-1.3zM102.3 477.8h1.3v1.3h-1.3zM101.8 478.9h1.3v1.3h-1.3zM97.8 472.4h1.3v1.3h-1.3zM100.8 467.2h1.3v1.3h-1.3zM103.4 472.1h1.3v1.3h-1.3zM96.9 478.4h1.3v1.3h-1.3zM113.3 458.4h1.3v1.3h-1.3zM117.9 494.0h1.3v1.3h-1.3zM88.7 473.0h1.3v1.3h-1.3zM99.2 492.8h1.3v1.3h-1.3zM98.4 477.1h1.3v1.3h-1.3zM102.7 467.1h1.3v1.3h-1.3zM104.1 467.7h1.3v1.3h-1.3zM103.9 473.5h1.3v1.3h-1.3zM107.3 499.0h1.3v1.3h-1.3zM98.3 471.9h1.3v1.3h-1.3zM96.3 461.9h1.3v1.3h-1.3zM126.4 495.7h1.3v1.3h-1.3zM117.6 479.5h1.3v1.3h-1.3zM115.1 473.8h1.3v1.3h-1.3zM102.6 466.7h1.3v1.3h-1.3zM103.4 484.1h1.3v1.3h-1.3zM110.5 479.0h1.3v1.3h-1.3zM106.6 465.8h1.3v1.3h-1.3zM113.6 481.3h1.3v1.3h-1.3zM105.0 463.0h1.3v1.3h-1.3zM95.1 485.7h1.3v1.3h-1.3zM103.9 474.8h1.3v1.3h-1.3zM101.0 474.2h1.3v1.3h-1.3zM144.0 482.5h1.3v1.3h-1.3zM110.0 467.5h1.3v1.3h-1.3zM115.3 493.3h1.3v1.3h-1.3zM115.4 479.9h1.3v1.3h-1.3zM99.9 472.1h1.3v1.3h-1.3zM96.9 502.9h1.3v1.3h-1.3zM86.0 464.2h1.3v1.3h-1.3zM106.4 471.9h1.3v1.3h-1.3zM95.2 465.8h1.3v1.3h-1.3zM97.4 467.4h1.3v1.3h-1.3zM103.9 472.8h1.3v1.3h-1.3zM105.8 458.8h1.3v1.3h-1.3zM116.1 463.7h1.3v1.3h-1.3zM95.6 465.4h1.3v1.3h-1.3zM99.2 466.0h1.3v1.3h-1.3zM98.4 488.5h1.3v1.3h-1.3zM127.7 492.3h1.3v1.3h-1.3zM101.8 490.1h1.3v1.3h-1.3zM108.6 473.8h1.3v1.3h-1.3zM128.0 473.2h1.3v1.3h-1.3zM97.7 459.4h1.3v1.3h-1.3zM103.8 464.0h1.3v1.3h-1.3zM108.1 477.3h1.3v1.3h-1.3zM102.8 467.4h1.3v1.3h-1.3zM108.7 479.1h1.3v1.3h-1.3zM104.7 479.6h1.3v1.3h-1.3zM107.6 468.6h1.3v1.3h-1.3zM94.9 467.6h1.3v1.3h-1.3zM121.6 480.3h1.3v1.3h-1.3zM98.5 476.7h1.3v1.3h-1.3zM87.3 462.4h1.3v1.3h-1.3zM100.2 466.4h1.3v1.3h-1.3zM94.2 466.9h1.3v1.3h-1.3zM104.4 458.5h1.3v1.3h-1.3zM106.2 484.6h1.3v1.3h-1.3zM113.5 468.2h1.3v1.3h-1.3zM96.3 483.5h1.3v1.3h-1.3zM107.2 468.5h1.3v1.3h-1.3zM122.0 487.4h1.3v1.3h-1.3zM109.7 477.2h1.3v1.3h-1.3zM105.2 466.4h1.3v1.3h-1.3zM110.8 480.4h1.3v1.3h-1.3zM92.0 467.0h1.3v1.3h-1.3zM99.5 466.2h1.3v1.3h-1.3zM103.2 470.8h1.3v1.3h-1.3zM108.5 464.9h1.3v1.3h-1.3zM92.6 458.2h1.3v1.3h-1.3zM103.4 464.8h1.3v1.3h-1.3zM99.4 467.3h1.3v1.3h-1.3zM107.6 492.5h1.3v1.3h-1.3zM101.0 454.4h1.3v1.3h-1.3zM90.9 471.1h1.3v1.3h-1.3zM103.0 475.3h1.3v1.3h-1.3zM119.2 479.6h1.3v1.3h-1.3zM122.8 485.9h1.3v1.3h-1.3zM102.9 489.1h1.3v1.3h-1.3zM119.8 473.4h1.3v1.3h-1.3zM110.9 463.4h1.3v1.3h-1.3zM107.0 449.8h1.3v1.3h-1.3zM105.1 474.2h1.3v1.3h-1.3zM48.2 444.6h1.3v1.3h-1.3zM93.0 466.2h1.3v1.3h-1.3zM81.1 456.4h1.3v1.3h-1.3zM103.9 466.0h1.3v1.3h-1.3zM142.7 501.8h1.3v1.3h-1.3zM132.1 485.8h1.3v1.3h-1.3zM114.9 473.0h1.3v1.3h-1.3zM119.7 491.9h1.3v1.3h-1.3zM108.7 492.7h1.3v1.3h-1.3zM99.0 463.0h1.3v1.3h-1.3zM107.4 479.9h1.3v1.3h-1.3zM98.9 461.4h1.3v1.3h-1.3zM103.8 462.0h1.3v1.3h-1.3zM101.3 464.6h1.3v1.3h-1.3zM100.3 491.9h1.3v1.3h-1.3zM103.1 460.6h1.3v1.3h-1.3zM99.1 487.4h1.3v1.3h-1.3zM95.8 484.6h1.3v1.3h-1.3zM99.3 467.1h1.3v1.3h-1.3zM133.3 474.3h1.3v1.3h-1.3zM107.9 474.0h1.3v1.3h-1.3zM102.0 457.0h1.3v1.3h-1.3zM89.1 466.7h1.3v1.3h-1.3zM110.5 468.1h1.3v1.3h-1.3zM105.2 475.0h1.3v1.3h-1.3zM112.2 497.6h1.3v1.3h-1.3zM110.2 483.7h1.3v1.3h-1.3zM95.3 457.6h1.3v1.3h-1.3zM101.6 465.1h1.3v1.3h-1.3zM91.7 473.7h1.3v1.3h-1.3zM111.8 460.8h1.3v1.3h-1.3zM104.2 468.1h1.3v1.3h-1.3zM102.1 482.7h1.3v1.3h-1.3zM101.7 474.9h1.3v1.3h-1.3zM108.8 492.5h1.3v1.3h-1.3zM107.2 469.7h1.3v1.3h-1.3zM103.3 460.7h1.3v1.3h-1.3zM105.3 458.3h1.3v1.3h-1.3zM101.9 480.9h1.3v1.3h-1.3zM109.5 469.5h1.3v1.3h-1.3zM105.6 480.1h1.3v1.3h-1.3zM102.4 454.1h1.3v1.3h-1.3zM106.1 476.9h1.3v1.3h-1.3zM116.8 483.9h1.3v1.3h-1.3zM110.9 467.4h1.3v1.3h-1.3zM123.1 483.0h1.3v1.3h-1.3zM105.5 475.8h1.3v1.3h-1.3zM111.0 468.5h1.3v1.3h-1.3zM110.5 460.6h1.3v1.3h-1.3zM103.6 470.6h1.3v1.3h-1.3zM103.4 487.0h1.3v1.3h-1.3zM110.8 485.4h1.3v1.3h-1.3zM116.4 457.5h1.3v1.3h-1.3zM123.4 476.4h1.3v1.3h-1.3zM106.2 480.2h1.3v1.3h-1.3zM115.0 469.5h1.3v1.3h-1.3zM122.0 473.7h1.3v1.3h-1.3zM105.9 463.1h1.3v1.3h-1.3zM91.7 482.0h1.3v1.3h-1.3zM112.5 491.4h1.3v1.3h-1.3zM100.6 461.4h1.3v1.3h-1.3zM107.0 460.0h1.3v1.3h-1.3zM127.6 484.6h1.3v1.3h-1.3zM108.5 460.5h1.3v1.3h-1.3zM101.5 476.4h1.3v1.3h-1.3zM98.4 468.4h1.3v1.3h-1.3zM97.3 463.5h1.3v1.3h-1.3zM114.4 486.7h1.3v1.3h-1.3zM122.8 483.0h1.3v1.3h-1.3zM102.8 476.3h1.3v1.3h-1.3zM107.9 473.6h1.3v1.3h-1.3zM90.8 464.5h1.3v1.3h-1.3zM106.3 473.0h1.3v1.3h-1.3zM113.5 462.4h1.3v1.3h-1.3zM103.7 488.5h1.3v1.3h-1.3zM107.4 461.2h1.3v1.3h-1.3zM101.0 467.4h1.3v1.3h-1.3zM106.2 460.8h1.3v1.3h-1.3zM108.1 472.2h1.3v1.3h-1.3zM96.8 477.0h1.3v1.3h-1.3zM124.8 481.2h1.3v1.3h-1.3zM96.3 481.5h1.3v1.3h-1.3zM100.4 468.7h1.3v1.3h-1.3zM109.3 461.6h1.3v1.3h-1.3zM94.7 466.0h1.3v1.3h-1.3zM115.7 490.9h1.3v1.3h-1.3zM82.4 473.3h1.3v1.3h-1.3zM95.6 468.2h1.3v1.3h-1.3zM97.2 468.3h1.3v1.3h-1.3zM100.4 470.2h1.3v1.3h-1.3zM101.7 469.9h1.3v1.3h-1.3zM110.3 477.5h1.3v1.3h-1.3zM107.3 475.2h1.3v1.3h-1.3zM98.9 463.6h1.3v1.3h-1.3zM118.9 489.9h1.3v1.3h-1.3zM94.2 465.4h1.3v1.3h-1.3zM89.0 469.5h1.3v1.3h-1.3zM104.1 471.5h1.3v1.3h-1.3zM107.5 463.8h1.3v1.3h-1.3zM96.4 463.2h1.3v1.3h-1.3zM90.7 466.2h1.3v1.3h-1.3zM103.4 474.1h1.3v1.3h-1.3zM93.7 471.8h1.3v1.3h-1.3zM135.9 488.0h1.3v1.3h-1.3zM107.6 493.9h1.3v1.3h-1.3zM101.6 459.9h1.3v1.3h-1.3zM98.0 466.5h1.3v1.3h-1.3zM97.9 485.0h1.3v1.3h-1.3zM105.9 481.1h1.3v1.3h-1.3zM106.0 499.5h1.3v1.3h-1.3zM107.0 468.5h1.3v1.3h-1.3zM111.8 487.4h1.3v1.3h-1.3zM112.0 479.7h1.3v1.3h-1.3zM99.2 467.6h1.3v1.3h-1.3zM101.0 477.4h1.3v1.3h-1.3zM128.8 475.6h1.3v1.3h-1.3zM113.7 477.1h1.3v1.3h-1.3zM128.9 481.4h1.3v1.3h-1.3zM114.5 491.9h1.3v1.3h-1.3zM104.4 475.1h1.3v1.3h-1.3zM101.1 506.5h1.3v1.3h-1.3zM119.3 480.2h1.3v1.3h-1.3zM96.6 471.0h1.3v1.3h-1.3zM87.3 484.5h1.3v1.3h-1.3zM111.4 474.6h1.3v1.3h-1.3zM103.9 471.0h1.3v1.3h-1.3zM102.3 470.5h1.3v1.3h-1.3zM92.7 481.3h1.3v1.3h-1.3zM97.3 463.8h1.3v1.3h-1.3zM102.5 490.4h1.3v1.3h-1.3zM104.2 480.5h1.3v1.3h-1.3zM109.9 473.7h1.3v1.3h-1.3zM110.7 460.1h1.3v1.3h-1.3zM107.2 478.7h1.3v1.3h-1.3zM117.4 457.4h1.3v1.3h-1.3zM85.2 468.4h1.3v1.3h-1.3zM115.3 476.7h1.3v1.3h-1.3zM99.2 471.8h1.3v1.3h-1.3zM111.6 472.6h1.3v1.3h-1.3zM93.4 464.7h1.3v1.3h-1.3zM105.3 484.6h1.3v1.3h-1.3zM99.7 487.9h1.3v1.3h-1.3zM99.6 472.0h1.3v1.3h-1.3zM99.0 480.6h1.3v1.3h-1.3zM99.6 486.4h1.3v1.3h-1.3zM61.3 443.4h1.3v1.3h-1.3zM119.6 478.4h1.3v1.3h-1.3zM104.7 482.7h1.3v1.3h-1.3zM99.3 486.5h1.3v1.3h-1.3zM106.4 474.5h1.3v1.3h-1.3zM111.4 463.0h1.3v1.3h-1.3zM116.0 481.9h1.3v1.3h-1.3zM103.7 467.5h1.3v1.3h-1.3zM94.3 472.0h1.3v1.3h-1.3zM105.6 475.8h1.3v1.3h-1.3zM109.1 485.9h1.3v1.3h-1.3zM121.7 499.9h1.3v1.3h-1.3zM101.7 463.3h1.3v1.3h-1.3zM119.2 487.6h1.3v1.3h-1.3zM106.1 493.3h1.3v1.3h-1.3zM102.2 470.3h1.3v1.3h-1.3zM94.0 484.9h1.3v1.3h-1.3zM106.7 466.5h1.3v1.3h-1.3zM97.7 488.5h1.3v1.3h-1.3zM88.1 473.6h1.3v1.3h-1.3zM99.4 469.4h1.3v1.3h-1.3zM134.2 490.5h1.3v1.3h-1.3zM123.0 496.8h1.3v1.3h-1.3zM107.1 468.3h1.3v1.3h-1.3zM104.6 469.8h1.3v1.3h-1.3zM111.6 461.6h1.3v1.3h-1.3zM121.8 501.6h1.3v1.3h-1.3zM108.8 475.8h1.3v1.3h-1.3zM96.5 502.1h1.3v1.3h-1.3zM116.2 485.1h1.3v1.3h-1.3zM104.2 466.2h1.3v1.3h-1.3zM102.1 471.2h1.3v1.3h-1.3zM118.8 492.6h1.3v1.3h-1.3zM110.4 455.7h1.3v1.3h-1.3zM84.0 474.4h1.3v1.3h-1.3zM109.2 471.1h1.3v1.3h-1.3zM99.6 472.2h1.3v1.3h-1.3zM99.6 473.5h1.3v1.3h-1.3zM102.8 477.1h1.3v1.3h-1.3zM112.4 471.2h1.3v1.3h-1.3zM103.0 475.3h1.3v1.3h-1.3zM96.2 480.0h1.3v1.3h-1.3zM105.6 472.5h1.3v1.3h-1.3zM106.0 488.0h1.3v1.3h-1.3zM106.3 468.8h1.3v1.3h-1.3zM114.0 474.2h1.3v1.3h-1.3zM90.9 494.4h1.3v1.3h-1.3zM100.7 460.3h1.3v1.3h-1.3zM111.9 472.8h1.3v1.3h-1.3zM110.5 463.8h1.3v1.3h-1.3zM97.0 470.3h1.3v1.3h-1.3zM94.0 468.4h1.3v1.3h-1.3zM118.9 484.1h1.3v1.3h-1.3zM91.9 478.6h1.3v1.3h-1.3zM101.8 487.5h1.3v1.3h-1.3zM92.0 480.1h1.3v1.3h-1.3zM102.2 468.9h1.3v1.3h-1.3zM108.2 476.6h1.3v1.3h-1.3zM102.1 474.5h1.3v1.3h-1.3zM95.1 461.9h1.3v1.3h-1.3zM106.1 460.4h1.3v1.3h-1.3zM83.9 473.4h1.3v1.3h-1.3zM91.6 469.0h1.3v1.3h-1.3zM106.2 464.4h1.3v1.3h-1.3zM120.9 496.3h1.3v1.3h-1.3zM92.2 469.6h1.3v1.3h-1.3zM103.1 486.6h1.3v1.3h-1.3zM105.4 473.4h1.3v1.3h-1.3zM97.7 473.4h1.3v1.3h-1.3zM116.5 466.1h1.3v1.3h-1.3zM102.6 469.3h1.3v1.3h-1.3zM95.9 462.9h1.3v1.3h-1.3zM96.0 469.4h1.3v1.3h-1.3zM102.0 468.6h1.3v1.3h-1.3zM122.4 488.4h1.3v1.3h-1.3zM110.1 463.5h1.3v1.3h-1.3zM98.0 472.8h1.3v1.3h-1.3zM105.6 470.7h1.3v1.3h-1.3zM119.4 476.5h1.3v1.3h-1.3zM100.1 472.2h1.3v1.3h-1.3zM109.0 469.0h1.3v1.3h-1.3zM122.0 479.2h1.3v1.3h-1.3zM101.5 478.0h1.3v1.3h-1.3zM102.7 470.4h1.3v1.3h-1.3zM115.2 479.6h1.3v1.3h-1.3zM104.1 469.5h1.3v1.3h-1.3zM95.3 464.5h1.3v1.3h-1.3zM126.9 477.1h1.3v1.3h-1.3zM132.9 478.1h1.3v1.3h-1.3zM97.4 469.8h1.3v1.3h-1.3zM103.3 467.9h1.3v1.3h-1.3zM107.5 472.7h1.3v1.3h-1.3zM95.0 480.0h1.3v1.3h-1.3zM99.2 474.6h1.3v1.3h-1.3zM96.8 480.1h1.3v1.3h-1.3zM103.8 461.1h1.3v1.3h-1.3zM100.0 468.9h1.3v1.3h-1.3zM104.5 476.8h1.3v1.3h-1.3zM126.5 472.0h1.3v1.3h-1.3zM94.7 469.2h1.3v1.3h-1.3zM73.2 462.6h1.3v1.3h-1.3zM103.6 480.9h1.3v1.3h-1.3zM95.8 506.8h1.3v1.3h-1.3zM101.3 461.9h1.3v1.3h-1.3zM107.6 465.0h1.3v1.3h-1.3zM121.5 480.3h1.3v1.3h-1.3zM109.0 482.6h1.3v1.3h-1.3zM88.9 470.5h1.3v1.3h-1.3zM96.4 470.4h1.3v1.3h-1.3zM91.7 455.1h1.3v1.3h-1.3zM125.4 502.6h1.3v1.3h-1.3zM98.6 470.3h1.3v1.3h-1.3zM109.8 474.3h1.3v1.3h-1.3zM99.1 473.8h1.3v1.3h-1.3zM114.9 466.5h1.3v1.3h-1.3zM107.1 486.8h1.3v1.3h-1.3zM92.4 465.7h1.3v1.3h-1.3zM104.2 482.2h1.3v1.3h-1.3zM96.8 473.0h1.3v1.3h-1.3zM109.9 489.3h1.3v1.3h-1.3z" fill="#DFA617"/>
<path d="M89.6 520.4h1.3v1.3h-1.3zM94.9 511.2h1.3v1.3h-1.3zM96.7 513.9h1.3v1.3h-1.3zM96.5 512.8h1.3v1.3h-1.3zM91.8 515.6h1.3v1.3h-1.3zM97.3 517.4h1.3v1.3h-1.3zM98.6 517.6h1.3v1.3h-1.3zM93.5 513.5h1.3v1.3h-1.3zM98.3 515.2h1.3v1.3h-1.3zM89.6 509.1h1.3v1.3h-1.3zM90.3 512.0h1.3v1.3h-1.3zM100.3 519.5h1.3v1.3h-1.3zM90.8 512.4h1.3v1.3h-1.3zM98.1 512.5h1.3v1.3h-1.3zM95.2 515.5h1.3v1.3h-1.3zM101.8 526.4h1.3v1.3h-1.3zM94.1 519.2h1.3v1.3h-1.3zM95.2 520.6h1.3v1.3h-1.3zM90.5 513.2h1.3v1.3h-1.3zM84.7 513.6h1.3v1.3h-1.3zM93.4 518.0h1.3v1.3h-1.3zM93.6 513.9h1.3v1.3h-1.3zM96.7 513.6h1.3v1.3h-1.3zM93.2 510.8h1.3v1.3h-1.3zM98.6 512.9h1.3v1.3h-1.3zM94.3 510.7h1.3v1.3h-1.3zM92.9 512.7h1.3v1.3h-1.3zM97.8 516.2h1.3v1.3h-1.3zM96.7 513.9h1.3v1.3h-1.3zM89.3 517.0h1.3v1.3h-1.3zM90.5 519.0h1.3v1.3h-1.3zM90.7 529.2h1.3v1.3h-1.3zM95.6 520.4h1.3v1.3h-1.3zM93.7 513.0h1.3v1.3h-1.3zM92.2 512.2h1.3v1.3h-1.3zM94.9 519.9h1.3v1.3h-1.3zM100.1 516.7h1.3v1.3h-1.3zM93.3 511.7h1.3v1.3h-1.3zM91.7 514.6h1.3v1.3h-1.3zM97.1 516.7h1.3v1.3h-1.3z" fill="#2760B0"/>
<line x1="105.4" y1="436.7" x2="105.4" y2="541.0" stroke="#2a2a2a" stroke-width="1.1" stroke-dasharray="3.5,2.2"/>
<line x1="39.9" y1="477.1" x2="164.0" y2="477.1" stroke="#2a2a2a" stroke-width="1.1" stroke-dasharray="3.5,2.2"/>
<path d="M39.9 436.7V541.0H164.0" fill="none" stroke="#222" stroke-width="0.9"/>
<line x1="37.1" y1="439.40" x2="39.9" y2="439.40" stroke="#222" stroke-width="0.6"/>
<text x="36.3" y="442.20" text-anchor="end" font-size="7.8" fill="#262626" stroke="#262626" stroke-width="0.22">10</text>
<line x1="37.1" y1="477.10" x2="39.9" y2="477.10" stroke="#222" stroke-width="0.6"/>
<text x="36.3" y="479.90" text-anchor="end" font-size="7.8" fill="#262626" stroke="#262626" stroke-width="0.22">0</text>
<line x1="37.1" y1="514.80" x2="39.9" y2="514.80" stroke="#222" stroke-width="0.6"/>
<text x="36.3" y="517.60" text-anchor="end" font-size="7.8" fill="#262626" stroke="#262626" stroke-width="0.22">−10</text>
<line x1="59.40" y1="541.0" x2="59.40" y2="543.8" stroke="#222" stroke-width="0.6"/>
<text x="59.40" y="550.8" text-anchor="middle" font-size="7.8" fill="#262626" stroke="#262626" stroke-width="0.22">−20</text>
<line x1="82.40" y1="541.0" x2="82.40" y2="543.8" stroke="#222" stroke-width="0.6"/>
<text x="82.40" y="550.8" text-anchor="middle" font-size="7.8" fill="#262626" stroke="#262626" stroke-width="0.22">−10</text>
<line x1="105.40" y1="541.0" x2="105.40" y2="543.8" stroke="#222" stroke-width="0.6"/>
<text x="105.40" y="550.8" text-anchor="middle" font-size="7.8" fill="#262626" stroke="#262626" stroke-width="0.22">0</text>
<line x1="128.40" y1="541.0" x2="128.40" y2="543.8" stroke="#222" stroke-width="0.6"/>
<text x="128.40" y="550.8" text-anchor="middle" font-size="7.8" fill="#262626" stroke="#262626" stroke-width="0.22">10</text>
<line x1="151.40" y1="541.0" x2="151.40" y2="543.8" stroke="#222" stroke-width="0.6"/>
<text x="151.40" y="550.8" text-anchor="middle" font-size="7.8" fill="#262626" stroke="#262626" stroke-width="0.22">20</text>
<text x="102.0" y="562.3" text-anchor="middle" font-size="8.10" fill="#1a1a1a" stroke="#1a1a1a" stroke-width="0.22">PC1 (17.7%)</text>
<text transform="translate(24.5,484.6) rotate(-90)" text-anchor="middle" font-size="9.00" fill="#1a1a1a" stroke="#1a1a1a" stroke-width="0.22">PC2 (11.4%)</text>
<text x="191.7" y="431.6" font-size="9.7" font-weight="bold" fill="#000" stroke="#000" stroke-width="0.22">TCGA-KIRC</text>
<polygon points="197.1,444.8 234.8,461.8 242.1,495.2 225.4,514.8 222.2,514.3 209.8,510.0 200.6,502.2" fill="#2B62AE" fill-opacity="0.13" stroke="#4A76BC" stroke-width="0.75"/>
<polygon points="230.0,451.4 259.4,441.9 273.3,450.6 296.6,463.6 306.2,485.2 311.3,494.7 302.7,536.2 276.7,535.0 252.5,519.8 226.3,503.8 213.8,493.8 221.9,472.5" fill="#E8B030" fill-opacity="0.12" stroke="#E9BF55" stroke-width="0.75"/>
<path d="M196.3 444.0h1.6v1.6h-1.6zM234.0 461.0h1.6v1.6h-1.6zM241.3 494.4h1.6v1.6h-1.6zM224.6 514.0h1.6v1.6h-1.6zM221.4 513.5h1.6v1.6h-1.6zM209.0 509.2h1.6v1.6h-1.6zM199.8 501.4h1.6v1.6h-1.6z" fill="#4A76BC"/>
<path d="M229.2 450.6h1.6v1.6h-1.6zM258.6 441.1h1.6v1.6h-1.6zM272.5 449.8h1.6v1.6h-1.6zM295.8 462.8h1.6v1.6h-1.6zM305.4 484.4h1.6v1.6h-1.6zM310.5 493.9h1.6v1.6h-1.6zM301.9 535.4h1.6v1.6h-1.6zM275.9 534.2h1.6v1.6h-1.6zM251.7 519.0h1.6v1.6h-1.6zM225.5 503.0h1.6v1.6h-1.6zM213.0 493.0h1.6v1.6h-1.6zM221.1 471.7h1.6v1.6h-1.6z" fill="#E9BF55"/>
<path d="M259.8 448.9h1.3v1.3h-1.3zM276.9 470.1h1.3v1.3h-1.3zM240.0 503.2h1.3v1.3h-1.3zM260.7 465.4h1.3v1.3h-1.3zM263.3 478.8h1.3v1.3h-1.3zM254.5 481.8h1.3v1.3h-1.3zM268.0 477.5h1.3v1.3h-1.3zM289.4 505.2h1.3v1.3h-1.3zM262.5 482.0h1.3v1.3h-1.3zM259.7 475.8h1.3v1.3h-1.3zM252.5 467.7h1.3v1.3h-1.3zM271.1 514.2h1.3v1.3h-1.3zM277.7 474.2h1.3v1.3h-1.3zM307.6 498.5h1.3v1.3h-1.3zM271.5 471.4h1.3v1.3h-1.3zM244.3 472.3h1.3v1.3h-1.3zM247.5 449.0h1.3v1.3h-1.3zM265.2 488.5h1.3v1.3h-1.3zM269.6 472.6h1.3v1.3h-1.3zM262.0 520.9h1.3v1.3h-1.3zM261.3 466.5h1.3v1.3h-1.3zM263.2 465.8h1.3v1.3h-1.3zM266.0 465.0h1.3v1.3h-1.3zM264.9 469.0h1.3v1.3h-1.3zM262.9 470.8h1.3v1.3h-1.3zM268.8 482.4h1.3v1.3h-1.3zM233.5 494.3h1.3v1.3h-1.3zM259.7 508.9h1.3v1.3h-1.3zM268.2 453.7h1.3v1.3h-1.3zM253.7 490.1h1.3v1.3h-1.3zM238.0 499.8h1.3v1.3h-1.3zM262.5 480.6h1.3v1.3h-1.3zM266.7 486.4h1.3v1.3h-1.3zM266.1 493.0h1.3v1.3h-1.3zM255.5 478.9h1.3v1.3h-1.3zM303.4 493.6h1.3v1.3h-1.3zM263.0 497.4h1.3v1.3h-1.3zM279.3 470.9h1.3v1.3h-1.3zM283.3 470.5h1.3v1.3h-1.3zM254.8 500.8h1.3v1.3h-1.3zM274.7 489.6h1.3v1.3h-1.3zM284.8 504.1h1.3v1.3h-1.3zM255.5 471.4h1.3v1.3h-1.3zM284.9 490.8h1.3v1.3h-1.3zM283.7 497.7h1.3v1.3h-1.3zM267.8 476.8h1.3v1.3h-1.3zM269.9 453.7h1.3v1.3h-1.3zM250.4 484.7h1.3v1.3h-1.3zM294.0 532.0h1.3v1.3h-1.3zM290.1 509.9h1.3v1.3h-1.3zM282.4 463.9h1.3v1.3h-1.3zM270.6 492.9h1.3v1.3h-1.3zM294.6 466.2h1.3v1.3h-1.3zM259.3 458.4h1.3v1.3h-1.3zM278.9 476.4h1.3v1.3h-1.3zM260.9 486.3h1.3v1.3h-1.3zM265.1 471.0h1.3v1.3h-1.3zM267.4 463.5h1.3v1.3h-1.3zM279.3 460.3h1.3v1.3h-1.3zM259.0 454.3h1.3v1.3h-1.3zM270.5 467.4h1.3v1.3h-1.3zM266.1 487.3h1.3v1.3h-1.3zM287.8 482.9h1.3v1.3h-1.3zM242.4 495.9h1.3v1.3h-1.3zM256.4 470.6h1.3v1.3h-1.3zM238.2 456.3h1.3v1.3h-1.3zM285.0 492.1h1.3v1.3h-1.3zM251.4 468.7h1.3v1.3h-1.3zM284.8 481.9h1.3v1.3h-1.3zM255.9 472.8h1.3v1.3h-1.3zM250.1 469.6h1.3v1.3h-1.3zM267.6 474.4h1.3v1.3h-1.3zM256.9 470.4h1.3v1.3h-1.3zM295.7 506.5h1.3v1.3h-1.3zM256.8 487.8h1.3v1.3h-1.3zM249.4 480.9h1.3v1.3h-1.3zM256.1 468.6h1.3v1.3h-1.3zM252.6 463.9h1.3v1.3h-1.3zM293.2 469.4h1.3v1.3h-1.3zM265.2 476.1h1.3v1.3h-1.3zM263.6 505.8h1.3v1.3h-1.3zM282.8 501.8h1.3v1.3h-1.3zM293.2 486.4h1.3v1.3h-1.3zM253.4 488.0h1.3v1.3h-1.3zM280.0 501.0h1.3v1.3h-1.3zM250.7 460.5h1.3v1.3h-1.3zM268.9 463.5h1.3v1.3h-1.3zM277.6 467.4h1.3v1.3h-1.3zM271.9 469.1h1.3v1.3h-1.3zM285.0 493.1h1.3v1.3h-1.3zM252.5 474.8h1.3v1.3h-1.3zM301.1 491.2h1.3v1.3h-1.3zM246.6 484.9h1.3v1.3h-1.3zM269.1 498.5h1.3v1.3h-1.3zM250.8 487.9h1.3v1.3h-1.3zM271.5 498.9h1.3v1.3h-1.3zM275.2 485.5h1.3v1.3h-1.3zM278.3 512.0h1.3v1.3h-1.3zM274.5 453.4h1.3v1.3h-1.3zM274.4 501.0h1.3v1.3h-1.3zM273.5 496.2h1.3v1.3h-1.3zM259.4 480.4h1.3v1.3h-1.3zM255.2 479.1h1.3v1.3h-1.3zM278.6 489.2h1.3v1.3h-1.3zM281.9 520.3h1.3v1.3h-1.3zM258.1 463.5h1.3v1.3h-1.3zM278.3 481.4h1.3v1.3h-1.3zM267.0 463.8h1.3v1.3h-1.3zM273.4 482.8h1.3v1.3h-1.3zM278.4 455.7h1.3v1.3h-1.3zM271.1 468.7h1.3v1.3h-1.3zM255.1 469.7h1.3v1.3h-1.3zM254.0 497.9h1.3v1.3h-1.3zM279.0 495.0h1.3v1.3h-1.3zM274.6 499.3h1.3v1.3h-1.3zM298.0 467.6h1.3v1.3h-1.3zM253.0 452.6h1.3v1.3h-1.3zM275.7 466.8h1.3v1.3h-1.3zM268.9 480.2h1.3v1.3h-1.3zM258.0 463.4h1.3v1.3h-1.3zM264.6 491.3h1.3v1.3h-1.3zM258.3 463.8h1.3v1.3h-1.3zM256.6 480.8h1.3v1.3h-1.3zM277.2 515.9h1.3v1.3h-1.3zM271.3 478.0h1.3v1.3h-1.3zM250.9 488.6h1.3v1.3h-1.3zM265.2 507.1h1.3v1.3h-1.3zM277.9 506.9h1.3v1.3h-1.3zM276.6 496.1h1.3v1.3h-1.3zM275.6 481.7h1.3v1.3h-1.3zM251.9 466.0h1.3v1.3h-1.3zM283.9 488.9h1.3v1.3h-1.3zM263.1 482.9h1.3v1.3h-1.3zM269.6 449.2h1.3v1.3h-1.3zM228.2 454.8h1.3v1.3h-1.3zM279.6 468.8h1.3v1.3h-1.3zM285.4 487.6h1.3v1.3h-1.3zM265.8 477.5h1.3v1.3h-1.3zM260.0 467.8h1.3v1.3h-1.3zM284.7 492.4h1.3v1.3h-1.3zM279.7 525.7h1.3v1.3h-1.3zM254.6 511.8h1.3v1.3h-1.3zM266.6 487.9h1.3v1.3h-1.3zM262.7 457.0h1.3v1.3h-1.3zM278.2 485.9h1.3v1.3h-1.3zM279.1 505.4h1.3v1.3h-1.3zM265.7 494.9h1.3v1.3h-1.3zM258.2 453.0h1.3v1.3h-1.3zM266.6 493.6h1.3v1.3h-1.3zM285.1 475.4h1.3v1.3h-1.3zM266.0 500.3h1.3v1.3h-1.3zM264.4 486.7h1.3v1.3h-1.3zM265.0 494.1h1.3v1.3h-1.3zM261.1 469.6h1.3v1.3h-1.3zM281.9 479.2h1.3v1.3h-1.3zM293.1 517.3h1.3v1.3h-1.3zM250.8 488.9h1.3v1.3h-1.3zM272.9 501.8h1.3v1.3h-1.3zM256.3 512.9h1.3v1.3h-1.3zM268.0 502.8h1.3v1.3h-1.3zM270.6 516.4h1.3v1.3h-1.3zM293.3 499.7h1.3v1.3h-1.3zM283.4 501.7h1.3v1.3h-1.3zM271.0 484.0h1.3v1.3h-1.3zM277.4 468.0h1.3v1.3h-1.3zM268.8 477.4h1.3v1.3h-1.3zM267.2 477.3h1.3v1.3h-1.3zM295.8 471.7h1.3v1.3h-1.3zM286.4 491.6h1.3v1.3h-1.3zM282.9 468.9h1.3v1.3h-1.3zM259.4 461.8h1.3v1.3h-1.3zM252.7 479.4h1.3v1.3h-1.3zM304.0 521.0h1.3v1.3h-1.3zM268.7 491.0h1.3v1.3h-1.3zM274.3 496.4h1.3v1.3h-1.3zM271.3 466.3h1.3v1.3h-1.3zM274.5 493.5h1.3v1.3h-1.3zM270.2 473.1h1.3v1.3h-1.3zM298.9 507.5h1.3v1.3h-1.3zM255.1 492.1h1.3v1.3h-1.3zM237.6 499.1h1.3v1.3h-1.3zM285.3 511.3h1.3v1.3h-1.3zM267.5 489.4h1.3v1.3h-1.3zM263.7 469.4h1.3v1.3h-1.3zM227.4 494.5h1.3v1.3h-1.3zM258.8 478.1h1.3v1.3h-1.3zM266.3 479.2h1.3v1.3h-1.3zM248.7 471.2h1.3v1.3h-1.3zM265.8 467.1h1.3v1.3h-1.3zM235.7 477.5h1.3v1.3h-1.3zM278.0 476.1h1.3v1.3h-1.3zM265.9 465.9h1.3v1.3h-1.3zM256.5 477.1h1.3v1.3h-1.3zM290.9 534.7h1.3v1.3h-1.3zM274.5 485.8h1.3v1.3h-1.3zM232.2 501.3h1.3v1.3h-1.3zM270.8 485.5h1.3v1.3h-1.3zM289.4 489.8h1.3v1.3h-1.3zM257.1 451.6h1.3v1.3h-1.3zM245.9 471.2h1.3v1.3h-1.3zM291.0 496.8h1.3v1.3h-1.3zM305.2 496.8h1.3v1.3h-1.3zM270.3 466.9h1.3v1.3h-1.3zM259.9 470.6h1.3v1.3h-1.3zM227.9 480.5h1.3v1.3h-1.3zM281.5 459.4h1.3v1.3h-1.3zM263.6 494.9h1.3v1.3h-1.3zM262.7 482.8h1.3v1.3h-1.3zM281.0 477.3h1.3v1.3h-1.3zM291.6 473.2h1.3v1.3h-1.3zM272.8 482.5h1.3v1.3h-1.3zM274.4 462.1h1.3v1.3h-1.3zM292.8 472.7h1.3v1.3h-1.3zM266.5 452.5h1.3v1.3h-1.3zM259.4 457.6h1.3v1.3h-1.3zM276.7 499.8h1.3v1.3h-1.3zM274.2 495.9h1.3v1.3h-1.3zM262.1 485.3h1.3v1.3h-1.3zM266.9 495.5h1.3v1.3h-1.3zM273.7 475.7h1.3v1.3h-1.3zM264.5 471.3h1.3v1.3h-1.3zM274.0 474.7h1.3v1.3h-1.3zM263.0 454.8h1.3v1.3h-1.3zM254.0 486.3h1.3v1.3h-1.3zM293.0 500.4h1.3v1.3h-1.3zM255.1 479.0h1.3v1.3h-1.3zM247.7 462.9h1.3v1.3h-1.3zM296.4 501.8h1.3v1.3h-1.3zM262.3 455.6h1.3v1.3h-1.3zM280.9 500.5h1.3v1.3h-1.3zM257.7 482.1h1.3v1.3h-1.3zM279.5 464.7h1.3v1.3h-1.3zM264.9 499.0h1.3v1.3h-1.3zM289.5 504.5h1.3v1.3h-1.3zM274.7 477.8h1.3v1.3h-1.3zM274.5 503.0h1.3v1.3h-1.3zM251.6 498.6h1.3v1.3h-1.3zM267.7 489.9h1.3v1.3h-1.3zM279.8 475.2h1.3v1.3h-1.3zM252.3 490.3h1.3v1.3h-1.3zM282.4 513.4h1.3v1.3h-1.3zM277.0 469.2h1.3v1.3h-1.3zM274.5 493.7h1.3v1.3h-1.3zM261.6 476.5h1.3v1.3h-1.3zM290.2 516.2h1.3v1.3h-1.3zM262.1 479.6h1.3v1.3h-1.3zM263.3 493.4h1.3v1.3h-1.3zM261.6 514.4h1.3v1.3h-1.3zM265.1 469.0h1.3v1.3h-1.3zM260.2 465.7h1.3v1.3h-1.3zM267.5 464.2h1.3v1.3h-1.3zM280.6 529.4h1.3v1.3h-1.3zM258.7 469.4h1.3v1.3h-1.3zM296.3 505.5h1.3v1.3h-1.3zM265.5 477.5h1.3v1.3h-1.3zM252.4 484.4h1.3v1.3h-1.3zM268.5 496.2h1.3v1.3h-1.3zM245.7 480.2h1.3v1.3h-1.3zM271.5 459.8h1.3v1.3h-1.3zM282.5 467.5h1.3v1.3h-1.3zM253.3 457.8h1.3v1.3h-1.3zM291.9 492.1h1.3v1.3h-1.3zM258.3 485.0h1.3v1.3h-1.3zM271.4 477.0h1.3v1.3h-1.3zM287.3 483.1h1.3v1.3h-1.3zM291.3 488.9h1.3v1.3h-1.3zM264.3 464.2h1.3v1.3h-1.3zM277.5 456.7h1.3v1.3h-1.3zM277.6 480.8h1.3v1.3h-1.3zM270.0 493.6h1.3v1.3h-1.3zM274.9 492.3h1.3v1.3h-1.3zM263.2 466.4h1.3v1.3h-1.3zM254.9 478.6h1.3v1.3h-1.3zM246.4 498.7h1.3v1.3h-1.3zM267.6 481.3h1.3v1.3h-1.3zM240.5 481.1h1.3v1.3h-1.3zM278.0 478.2h1.3v1.3h-1.3zM263.6 470.9h1.3v1.3h-1.3zM272.1 505.2h1.3v1.3h-1.3zM284.2 495.4h1.3v1.3h-1.3zM266.8 468.9h1.3v1.3h-1.3zM262.0 471.4h1.3v1.3h-1.3zM289.2 474.2h1.3v1.3h-1.3zM274.4 478.5h1.3v1.3h-1.3zM254.9 471.6h1.3v1.3h-1.3zM267.4 474.5h1.3v1.3h-1.3zM303.3 484.1h1.3v1.3h-1.3zM292.5 525.1h1.3v1.3h-1.3zM261.8 465.7h1.3v1.3h-1.3zM249.7 504.0h1.3v1.3h-1.3zM267.4 524.4h1.3v1.3h-1.3zM288.0 500.2h1.3v1.3h-1.3zM281.6 474.9h1.3v1.3h-1.3zM274.8 487.4h1.3v1.3h-1.3zM269.9 468.9h1.3v1.3h-1.3zM251.6 485.2h1.3v1.3h-1.3zM283.9 513.2h1.3v1.3h-1.3zM268.5 478.5h1.3v1.3h-1.3zM262.8 505.6h1.3v1.3h-1.3zM285.3 465.2h1.3v1.3h-1.3zM277.0 493.7h1.3v1.3h-1.3zM257.6 481.0h1.3v1.3h-1.3zM257.7 474.5h1.3v1.3h-1.3zM246.3 470.3h1.3v1.3h-1.3zM264.8 472.4h1.3v1.3h-1.3zM292.3 509.9h1.3v1.3h-1.3zM272.2 525.6h1.3v1.3h-1.3zM267.2 504.0h1.3v1.3h-1.3zM272.0 466.9h1.3v1.3h-1.3zM267.0 472.2h1.3v1.3h-1.3zM276.3 495.5h1.3v1.3h-1.3zM266.2 452.5h1.3v1.3h-1.3zM259.4 481.1h1.3v1.3h-1.3zM263.1 481.5h1.3v1.3h-1.3zM263.6 450.8h1.3v1.3h-1.3zM263.9 479.4h1.3v1.3h-1.3zM249.1 453.2h1.3v1.3h-1.3zM251.6 484.6h1.3v1.3h-1.3zM270.5 469.7h1.3v1.3h-1.3zM272.2 460.8h1.3v1.3h-1.3zM255.7 474.6h1.3v1.3h-1.3zM251.7 472.5h1.3v1.3h-1.3zM252.2 478.0h1.3v1.3h-1.3zM266.3 465.5h1.3v1.3h-1.3zM273.6 493.8h1.3v1.3h-1.3zM275.3 473.1h1.3v1.3h-1.3zM252.5 465.8h1.3v1.3h-1.3zM238.7 495.0h1.3v1.3h-1.3zM255.8 470.5h1.3v1.3h-1.3zM249.6 480.5h1.3v1.3h-1.3zM219.4 495.4h1.3v1.3h-1.3zM274.1 489.8h1.3v1.3h-1.3zM248.3 481.2h1.3v1.3h-1.3zM254.4 476.8h1.3v1.3h-1.3zM295.9 529.1h1.3v1.3h-1.3zM261.6 471.6h1.3v1.3h-1.3zM257.7 492.7h1.3v1.3h-1.3zM289.9 493.8h1.3v1.3h-1.3zM276.2 483.8h1.3v1.3h-1.3zM291.2 496.8h1.3v1.3h-1.3zM234.5 500.2h1.3v1.3h-1.3zM266.4 459.6h1.3v1.3h-1.3zM254.9 465.3h1.3v1.3h-1.3zM260.5 510.0h1.3v1.3h-1.3zM263.9 491.0h1.3v1.3h-1.3zM279.6 512.7h1.3v1.3h-1.3zM292.4 481.4h1.3v1.3h-1.3zM241.1 508.7h1.3v1.3h-1.3zM283.4 501.1h1.3v1.3h-1.3zM263.4 509.8h1.3v1.3h-1.3zM248.1 477.8h1.3v1.3h-1.3zM293.1 473.2h1.3v1.3h-1.3zM239.2 493.2h1.3v1.3h-1.3zM294.0 478.0h1.3v1.3h-1.3zM241.6 478.3h1.3v1.3h-1.3zM261.9 463.5h1.3v1.3h-1.3zM228.8 499.6h1.3v1.3h-1.3zM234.9 488.5h1.3v1.3h-1.3zM272.8 484.6h1.3v1.3h-1.3zM306.3 509.1h1.3v1.3h-1.3z" fill="#DFA617"/>
<path d="M216.9 483.0h1.3v1.3h-1.3zM228.5 487.2h1.3v1.3h-1.3zM214.5 474.8h1.3v1.3h-1.3zM224.5 488.1h1.3v1.3h-1.3zM222.2 482.2h1.3v1.3h-1.3zM225.6 477.6h1.3v1.3h-1.3zM221.5 482.6h1.3v1.3h-1.3zM227.2 501.7h1.3v1.3h-1.3zM221.9 482.6h1.3v1.3h-1.3zM227.3 474.5h1.3v1.3h-1.3zM226.9 487.5h1.3v1.3h-1.3zM218.7 499.9h1.3v1.3h-1.3zM214.2 492.0h1.3v1.3h-1.3zM212.0 483.2h1.3v1.3h-1.3zM213.2 474.2h1.3v1.3h-1.3zM220.2 489.5h1.3v1.3h-1.3zM216.7 486.8h1.3v1.3h-1.3zM220.7 500.1h1.3v1.3h-1.3zM212.2 477.6h1.3v1.3h-1.3zM226.3 479.2h1.3v1.3h-1.3zM219.7 479.0h1.3v1.3h-1.3zM218.6 494.4h1.3v1.3h-1.3zM218.3 488.9h1.3v1.3h-1.3zM224.8 492.0h1.3v1.3h-1.3zM211.5 503.7h1.3v1.3h-1.3zM216.3 482.2h1.3v1.3h-1.3zM212.1 487.3h1.3v1.3h-1.3zM231.7 463.4h1.3v1.3h-1.3zM221.7 482.7h1.3v1.3h-1.3zM227.2 482.5h1.3v1.3h-1.3zM220.5 498.4h1.3v1.3h-1.3zM221.5 494.6h1.3v1.3h-1.3zM219.4 483.8h1.3v1.3h-1.3zM217.0 480.3h1.3v1.3h-1.3zM215.7 483.5h1.3v1.3h-1.3zM218.8 503.7h1.3v1.3h-1.3zM223.1 497.9h1.3v1.3h-1.3zM217.2 471.4h1.3v1.3h-1.3zM215.7 497.5h1.3v1.3h-1.3zM206.4 505.7h1.3v1.3h-1.3zM218.8 487.1h1.3v1.3h-1.3zM223.8 463.7h1.3v1.3h-1.3zM216.7 470.5h1.3v1.3h-1.3zM225.7 476.7h1.3v1.3h-1.3zM221.5 482.0h1.3v1.3h-1.3zM223.7 474.4h1.3v1.3h-1.3zM219.5 485.4h1.3v1.3h-1.3zM220.9 490.3h1.3v1.3h-1.3zM220.3 480.6h1.3v1.3h-1.3zM201.7 454.2h1.3v1.3h-1.3zM218.4 482.4h1.3v1.3h-1.3zM221.4 474.8h1.3v1.3h-1.3zM219.4 472.1h1.3v1.3h-1.3zM217.5 488.4h1.3v1.3h-1.3zM221.7 474.8h1.3v1.3h-1.3zM211.8 478.6h1.3v1.3h-1.3zM220.0 499.9h1.3v1.3h-1.3zM220.0 475.5h1.3v1.3h-1.3zM219.0 491.5h1.3v1.3h-1.3zM222.8 488.8h1.3v1.3h-1.3zM222.6 504.9h1.3v1.3h-1.3zM232.0 490.5h1.3v1.3h-1.3zM215.2 492.9h1.3v1.3h-1.3zM225.1 500.5h1.3v1.3h-1.3zM222.9 483.7h1.3v1.3h-1.3zM226.3 485.0h1.3v1.3h-1.3zM227.1 479.4h1.3v1.3h-1.3zM214.1 485.5h1.3v1.3h-1.3zM235.6 470.3h1.3v1.3h-1.3zM219.8 488.9h1.3v1.3h-1.3zM219.3 496.2h1.3v1.3h-1.3zM220.2 489.8h1.3v1.3h-1.3zM226.0 473.0h1.3v1.3h-1.3zM219.7 486.0h1.3v1.3h-1.3zM221.9 492.2h1.3v1.3h-1.3zM230.2 492.6h1.3v1.3h-1.3zM221.4 497.2h1.3v1.3h-1.3zM223.7 497.1h1.3v1.3h-1.3zM219.1 497.3h1.3v1.3h-1.3zM220.1 469.3h1.3v1.3h-1.3z" fill="#2760B0"/>
<line x1="256.4" y1="436.0" x2="256.4" y2="540.6" stroke="#2a2a2a" stroke-width="1.1" stroke-dasharray="3.5,2.2"/>
<line x1="192.3" y1="481.2" x2="317.0" y2="481.2" stroke="#2a2a2a" stroke-width="1.1" stroke-dasharray="3.5,2.2"/>
<path d="M192.3 436.0V540.6H317.0" fill="none" stroke="#222" stroke-width="0.9"/>
<line x1="189.5" y1="439.30" x2="192.3" y2="439.30" stroke="#222" stroke-width="0.6"/>
<text x="188.7" y="442.10" text-anchor="end" font-size="7.8" fill="#262626" stroke="#262626" stroke-width="0.22">10</text>
<line x1="189.5" y1="460.25" x2="192.3" y2="460.25" stroke="#222" stroke-width="0.6"/>
<text x="188.7" y="463.05" text-anchor="end" font-size="7.8" fill="#262626" stroke="#262626" stroke-width="0.22">5</text>
<line x1="189.5" y1="481.20" x2="192.3" y2="481.20" stroke="#222" stroke-width="0.6"/>
<text x="188.7" y="484.00" text-anchor="end" font-size="7.8" fill="#262626" stroke="#262626" stroke-width="0.22">0</text>
<line x1="189.5" y1="502.15" x2="192.3" y2="502.15" stroke="#222" stroke-width="0.6"/>
<text x="188.7" y="504.95" text-anchor="end" font-size="7.8" fill="#262626" stroke="#262626" stroke-width="0.22">−5</text>
<line x1="189.5" y1="523.10" x2="192.3" y2="523.10" stroke="#222" stroke-width="0.6"/>
<text x="188.7" y="525.90" text-anchor="end" font-size="7.8" fill="#262626" stroke="#262626" stroke-width="0.22">−10</text>
<line x1="220.80" y1="540.6" x2="220.80" y2="543.4" stroke="#222" stroke-width="0.6"/>
<text x="220.80" y="550.4" text-anchor="middle" font-size="7.8" fill="#262626" stroke="#262626" stroke-width="0.22">−10</text>
<line x1="256.40" y1="540.6" x2="256.40" y2="543.4" stroke="#222" stroke-width="0.6"/>
<text x="256.40" y="550.4" text-anchor="middle" font-size="7.8" fill="#262626" stroke="#262626" stroke-width="0.22">0</text>
<line x1="292.00" y1="540.6" x2="292.00" y2="543.4" stroke="#222" stroke-width="0.6"/>
<text x="292.00" y="550.4" text-anchor="middle" font-size="7.8" fill="#262626" stroke="#262626" stroke-width="0.22">10</text>
<text x="259.3" y="562.6" text-anchor="middle" font-size="8.95" fill="#1a1a1a" stroke="#1a1a1a" stroke-width="0.22">PC1 (25.3%)</text>
<text transform="translate(177.3,484.1) rotate(-90)" text-anchor="middle" font-size="9.05" fill="#1a1a1a" stroke="#1a1a1a" stroke-width="0.22">PC2 (12%)</text>
<text x="41.1" y="578.6" font-size="9.7" font-weight="bold" fill="#000" stroke="#000" stroke-width="0.22">TCGA-LIHC</text>
<polygon points="45.3,634.8 64.8,630.5 89.3,661.7 65.2,673.3 57.3,669.0" fill="#2B62AE" fill-opacity="0.13" stroke="#4A76BC" stroke-width="0.75"/>
<polygon points="60.4,613.2 107.8,586.7 123.4,608.4 137.4,631.0 159.5,660.5 145.0,681.4 76.0,666.0 58.8,634.0" fill="#E8B030" fill-opacity="0.12" stroke="#E9BF55" stroke-width="0.75"/>
<path d="M44.5 634.0h1.6v1.6h-1.6zM64.0 629.7h1.6v1.6h-1.6zM88.5 660.9h1.6v1.6h-1.6zM64.4 672.5h1.6v1.6h-1.6zM56.5 668.2h1.6v1.6h-1.6z" fill="#4A76BC"/>
<path d="M59.6 612.4h1.6v1.6h-1.6zM107.0 585.9h1.6v1.6h-1.6zM122.6 607.6h1.6v1.6h-1.6zM136.6 630.2h1.6v1.6h-1.6zM158.7 659.7h1.6v1.6h-1.6zM144.2 680.6h1.6v1.6h-1.6zM75.2 665.2h1.6v1.6h-1.6zM58.0 633.2h1.6v1.6h-1.6z" fill="#E9BF55"/>
<path d="M82.0 661.9h1.3v1.3h-1.3zM90.2 628.2h1.3v1.3h-1.3zM88.8 643.8h1.3v1.3h-1.3zM88.4 650.7h1.3v1.3h-1.3zM124.7 652.0h1.3v1.3h-1.3zM97.8 663.8h1.3v1.3h-1.3zM105.5 666.4h1.3v1.3h-1.3zM89.4 654.3h1.3v1.3h-1.3zM121.6 614.3h1.3v1.3h-1.3zM102.6 637.7h1.3v1.3h-1.3zM120.6 649.0h1.3v1.3h-1.3zM109.8 653.7h1.3v1.3h-1.3zM83.1 651.6h1.3v1.3h-1.3zM90.2 639.3h1.3v1.3h-1.3zM99.3 650.8h1.3v1.3h-1.3zM110.3 642.8h1.3v1.3h-1.3zM83.2 652.7h1.3v1.3h-1.3zM70.8 641.9h1.3v1.3h-1.3zM134.8 640.1h1.3v1.3h-1.3zM88.0 632.7h1.3v1.3h-1.3zM99.9 653.1h1.3v1.3h-1.3zM113.0 652.9h1.3v1.3h-1.3zM126.6 620.9h1.3v1.3h-1.3zM89.1 648.4h1.3v1.3h-1.3zM89.4 633.6h1.3v1.3h-1.3zM106.5 636.8h1.3v1.3h-1.3zM95.3 644.2h1.3v1.3h-1.3zM97.8 648.4h1.3v1.3h-1.3zM133.3 629.9h1.3v1.3h-1.3zM86.3 651.1h1.3v1.3h-1.3zM103.0 634.6h1.3v1.3h-1.3zM96.5 654.9h1.3v1.3h-1.3zM106.2 663.6h1.3v1.3h-1.3zM109.9 653.0h1.3v1.3h-1.3zM102.7 623.0h1.3v1.3h-1.3zM119.9 650.7h1.3v1.3h-1.3zM97.2 640.0h1.3v1.3h-1.3zM86.3 618.2h1.3v1.3h-1.3zM99.9 649.3h1.3v1.3h-1.3zM105.1 648.9h1.3v1.3h-1.3zM96.8 648.6h1.3v1.3h-1.3zM135.5 674.8h1.3v1.3h-1.3zM100.5 652.2h1.3v1.3h-1.3zM71.4 654.1h1.3v1.3h-1.3zM100.7 656.1h1.3v1.3h-1.3zM93.9 660.8h1.3v1.3h-1.3zM100.3 641.4h1.3v1.3h-1.3zM92.4 658.9h1.3v1.3h-1.3zM96.1 646.2h1.3v1.3h-1.3zM98.7 666.9h1.3v1.3h-1.3zM85.2 635.6h1.3v1.3h-1.3zM102.7 647.8h1.3v1.3h-1.3zM95.1 648.1h1.3v1.3h-1.3zM83.6 663.5h1.3v1.3h-1.3zM145.4 669.0h1.3v1.3h-1.3zM84.1 649.6h1.3v1.3h-1.3zM90.5 646.7h1.3v1.3h-1.3zM84.0 644.6h1.3v1.3h-1.3zM90.8 635.6h1.3v1.3h-1.3zM78.1 656.1h1.3v1.3h-1.3zM81.9 651.1h1.3v1.3h-1.3zM120.2 671.5h1.3v1.3h-1.3zM80.0 651.9h1.3v1.3h-1.3zM80.9 640.4h1.3v1.3h-1.3zM109.8 648.2h1.3v1.3h-1.3zM96.7 653.7h1.3v1.3h-1.3zM93.6 651.0h1.3v1.3h-1.3zM99.8 647.8h1.3v1.3h-1.3zM118.6 632.0h1.3v1.3h-1.3zM109.9 643.1h1.3v1.3h-1.3zM98.0 655.2h1.3v1.3h-1.3zM104.4 652.8h1.3v1.3h-1.3zM122.7 661.5h1.3v1.3h-1.3zM124.9 617.0h1.3v1.3h-1.3zM107.9 652.7h1.3v1.3h-1.3zM80.0 658.7h1.3v1.3h-1.3zM112.6 635.9h1.3v1.3h-1.3zM138.6 643.6h1.3v1.3h-1.3zM125.3 654.9h1.3v1.3h-1.3zM63.0 623.9h1.3v1.3h-1.3zM78.9 649.6h1.3v1.3h-1.3zM85.5 654.1h1.3v1.3h-1.3zM101.7 660.1h1.3v1.3h-1.3zM103.2 650.2h1.3v1.3h-1.3zM95.0 651.3h1.3v1.3h-1.3zM114.2 648.7h1.3v1.3h-1.3zM84.2 648.6h1.3v1.3h-1.3zM82.7 614.8h1.3v1.3h-1.3zM121.5 654.7h1.3v1.3h-1.3zM115.1 646.1h1.3v1.3h-1.3zM82.5 643.3h1.3v1.3h-1.3zM107.8 636.7h1.3v1.3h-1.3zM132.5 655.7h1.3v1.3h-1.3zM122.8 644.7h1.3v1.3h-1.3zM99.7 642.8h1.3v1.3h-1.3zM111.5 668.4h1.3v1.3h-1.3zM91.2 641.7h1.3v1.3h-1.3zM105.0 667.3h1.3v1.3h-1.3zM118.1 655.4h1.3v1.3h-1.3zM78.8 657.9h1.3v1.3h-1.3zM97.9 642.1h1.3v1.3h-1.3zM79.0 653.7h1.3v1.3h-1.3zM87.4 634.4h1.3v1.3h-1.3zM116.7 645.7h1.3v1.3h-1.3zM106.6 655.2h1.3v1.3h-1.3zM118.0 663.7h1.3v1.3h-1.3zM76.7 662.8h1.3v1.3h-1.3zM100.7 652.6h1.3v1.3h-1.3zM105.1 647.2h1.3v1.3h-1.3zM126.0 641.7h1.3v1.3h-1.3zM93.6 636.4h1.3v1.3h-1.3zM81.6 653.6h1.3v1.3h-1.3zM139.8 644.0h1.3v1.3h-1.3zM119.6 649.5h1.3v1.3h-1.3zM108.6 653.3h1.3v1.3h-1.3zM101.0 668.4h1.3v1.3h-1.3zM105.2 646.0h1.3v1.3h-1.3zM88.4 653.8h1.3v1.3h-1.3zM98.2 653.4h1.3v1.3h-1.3zM118.2 645.5h1.3v1.3h-1.3zM69.5 648.3h1.3v1.3h-1.3zM121.9 635.6h1.3v1.3h-1.3zM111.6 639.4h1.3v1.3h-1.3zM78.5 633.7h1.3v1.3h-1.3zM92.0 635.4h1.3v1.3h-1.3zM90.9 653.8h1.3v1.3h-1.3zM110.0 658.7h1.3v1.3h-1.3zM81.8 655.5h1.3v1.3h-1.3zM100.9 647.0h1.3v1.3h-1.3zM110.8 660.7h1.3v1.3h-1.3zM112.2 651.1h1.3v1.3h-1.3zM76.3 636.3h1.3v1.3h-1.3zM121.5 610.9h1.3v1.3h-1.3zM106.5 586.4h1.3v1.3h-1.3zM117.5 671.7h1.3v1.3h-1.3zM94.2 650.3h1.3v1.3h-1.3zM105.1 657.9h1.3v1.3h-1.3zM89.7 649.9h1.3v1.3h-1.3zM129.6 655.3h1.3v1.3h-1.3zM123.7 644.0h1.3v1.3h-1.3zM101.6 633.8h1.3v1.3h-1.3zM139.2 669.0h1.3v1.3h-1.3zM79.0 637.7h1.3v1.3h-1.3zM137.0 666.1h1.3v1.3h-1.3zM87.6 644.4h1.3v1.3h-1.3zM108.4 594.2h1.3v1.3h-1.3zM122.0 660.0h1.3v1.3h-1.3zM117.6 649.2h1.3v1.3h-1.3zM118.1 639.7h1.3v1.3h-1.3zM70.3 625.5h1.3v1.3h-1.3zM103.1 639.3h1.3v1.3h-1.3zM129.6 641.2h1.3v1.3h-1.3zM121.6 662.8h1.3v1.3h-1.3zM100.6 637.4h1.3v1.3h-1.3zM85.2 639.8h1.3v1.3h-1.3zM121.4 644.6h1.3v1.3h-1.3zM105.7 638.4h1.3v1.3h-1.3zM120.4 633.2h1.3v1.3h-1.3zM95.7 650.8h1.3v1.3h-1.3zM104.7 638.3h1.3v1.3h-1.3zM90.8 625.1h1.3v1.3h-1.3zM86.0 647.8h1.3v1.3h-1.3zM106.4 643.5h1.3v1.3h-1.3zM95.0 641.6h1.3v1.3h-1.3zM102.5 641.9h1.3v1.3h-1.3zM102.1 605.5h1.3v1.3h-1.3zM106.8 644.3h1.3v1.3h-1.3zM83.8 634.2h1.3v1.3h-1.3zM125.5 669.1h1.3v1.3h-1.3zM87.3 633.3h1.3v1.3h-1.3zM86.5 653.2h1.3v1.3h-1.3zM142.3 675.1h1.3v1.3h-1.3zM96.7 664.2h1.3v1.3h-1.3zM118.1 654.7h1.3v1.3h-1.3zM109.6 641.4h1.3v1.3h-1.3zM106.1 665.0h1.3v1.3h-1.3zM100.2 637.5h1.3v1.3h-1.3zM98.3 648.6h1.3v1.3h-1.3zM110.0 645.8h1.3v1.3h-1.3zM124.8 654.2h1.3v1.3h-1.3zM85.4 600.1h1.3v1.3h-1.3zM74.0 643.3h1.3v1.3h-1.3zM93.8 634.8h1.3v1.3h-1.3zM95.8 646.2h1.3v1.3h-1.3zM106.8 657.1h1.3v1.3h-1.3zM105.9 634.7h1.3v1.3h-1.3zM92.5 665.0h1.3v1.3h-1.3zM97.0 654.7h1.3v1.3h-1.3zM87.2 643.1h1.3v1.3h-1.3zM105.9 659.2h1.3v1.3h-1.3zM101.0 637.0h1.3v1.3h-1.3zM133.1 641.2h1.3v1.3h-1.3zM100.7 655.9h1.3v1.3h-1.3zM73.7 629.3h1.3v1.3h-1.3zM105.4 644.3h1.3v1.3h-1.3zM108.6 650.6h1.3v1.3h-1.3zM135.7 649.2h1.3v1.3h-1.3zM94.0 651.4h1.3v1.3h-1.3zM106.1 642.0h1.3v1.3h-1.3zM75.2 647.5h1.3v1.3h-1.3zM111.5 648.5h1.3v1.3h-1.3zM75.4 657.9h1.3v1.3h-1.3zM129.4 639.4h1.3v1.3h-1.3zM94.4 641.8h1.3v1.3h-1.3zM111.9 653.8h1.3v1.3h-1.3zM96.7 634.7h1.3v1.3h-1.3zM99.5 648.7h1.3v1.3h-1.3zM96.3 627.9h1.3v1.3h-1.3zM120.7 657.5h1.3v1.3h-1.3zM97.9 665.7h1.3v1.3h-1.3zM92.4 659.7h1.3v1.3h-1.3zM110.2 640.7h1.3v1.3h-1.3zM144.1 655.5h1.3v1.3h-1.3zM107.3 645.2h1.3v1.3h-1.3zM83.3 652.3h1.3v1.3h-1.3zM146.2 677.8h1.3v1.3h-1.3zM77.3 641.2h1.3v1.3h-1.3zM91.9 639.4h1.3v1.3h-1.3zM97.3 659.1h1.3v1.3h-1.3zM123.0 645.5h1.3v1.3h-1.3zM143.5 666.5h1.3v1.3h-1.3zM78.0 641.5h1.3v1.3h-1.3zM95.9 655.5h1.3v1.3h-1.3zM131.8 661.0h1.3v1.3h-1.3zM101.2 642.0h1.3v1.3h-1.3zM99.8 647.2h1.3v1.3h-1.3zM100.1 647.1h1.3v1.3h-1.3zM132.9 669.4h1.3v1.3h-1.3zM90.1 639.5h1.3v1.3h-1.3zM74.2 638.7h1.3v1.3h-1.3zM107.0 663.8h1.3v1.3h-1.3zM125.1 654.9h1.3v1.3h-1.3zM134.1 641.4h1.3v1.3h-1.3zM68.6 632.0h1.3v1.3h-1.3zM96.6 660.1h1.3v1.3h-1.3zM92.8 636.5h1.3v1.3h-1.3zM101.6 639.8h1.3v1.3h-1.3zM118.9 632.2h1.3v1.3h-1.3zM98.6 633.2h1.3v1.3h-1.3zM92.4 640.8h1.3v1.3h-1.3zM105.6 651.4h1.3v1.3h-1.3zM87.1 646.1h1.3v1.3h-1.3zM94.1 658.7h1.3v1.3h-1.3zM85.7 649.9h1.3v1.3h-1.3zM94.2 654.7h1.3v1.3h-1.3zM91.9 653.6h1.3v1.3h-1.3zM105.2 651.9h1.3v1.3h-1.3zM89.6 608.3h1.3v1.3h-1.3zM112.1 646.3h1.3v1.3h-1.3zM146.3 669.6h1.3v1.3h-1.3zM135.3 639.9h1.3v1.3h-1.3zM92.1 655.6h1.3v1.3h-1.3zM119.3 636.5h1.3v1.3h-1.3zM116.3 647.2h1.3v1.3h-1.3zM109.7 643.8h1.3v1.3h-1.3zM107.1 648.5h1.3v1.3h-1.3zM102.8 649.2h1.3v1.3h-1.3zM78.0 643.6h1.3v1.3h-1.3zM71.6 614.0h1.3v1.3h-1.3zM96.5 659.3h1.3v1.3h-1.3zM124.0 658.0h1.3v1.3h-1.3zM100.5 638.5h1.3v1.3h-1.3zM82.3 609.4h1.3v1.3h-1.3zM101.1 647.1h1.3v1.3h-1.3zM92.1 651.5h1.3v1.3h-1.3zM130.1 655.0h1.3v1.3h-1.3zM128.0 650.0h1.3v1.3h-1.3zM81.5 652.3h1.3v1.3h-1.3zM66.8 634.0h1.3v1.3h-1.3zM97.5 628.1h1.3v1.3h-1.3zM93.0 658.7h1.3v1.3h-1.3zM115.5 659.7h1.3v1.3h-1.3zM98.4 645.4h1.3v1.3h-1.3zM88.1 658.4h1.3v1.3h-1.3zM84.7 664.1h1.3v1.3h-1.3zM130.4 628.2h1.3v1.3h-1.3zM130.8 658.6h1.3v1.3h-1.3zM83.0 644.4h1.3v1.3h-1.3zM122.9 642.6h1.3v1.3h-1.3zM104.0 659.5h1.3v1.3h-1.3zM77.4 640.2h1.3v1.3h-1.3zM70.9 646.4h1.3v1.3h-1.3zM83.0 647.5h1.3v1.3h-1.3zM126.4 666.7h1.3v1.3h-1.3zM96.3 643.1h1.3v1.3h-1.3zM85.5 652.8h1.3v1.3h-1.3zM116.3 667.2h1.3v1.3h-1.3zM124.2 663.5h1.3v1.3h-1.3zM79.4 658.5h1.3v1.3h-1.3zM88.0 654.8h1.3v1.3h-1.3zM97.2 647.2h1.3v1.3h-1.3zM130.7 666.4h1.3v1.3h-1.3zM83.5 619.9h1.3v1.3h-1.3zM102.4 657.6h1.3v1.3h-1.3zM101.6 642.6h1.3v1.3h-1.3zM97.6 647.3h1.3v1.3h-1.3zM82.1 645.1h1.3v1.3h-1.3zM131.6 641.4h1.3v1.3h-1.3zM124.9 671.5h1.3v1.3h-1.3zM118.4 656.2h1.3v1.3h-1.3zM140.3 636.2h1.3v1.3h-1.3zM115.8 674.3h1.3v1.3h-1.3zM111.6 643.7h1.3v1.3h-1.3zM104.4 646.1h1.3v1.3h-1.3zM142.2 645.2h1.3v1.3h-1.3zM125.6 672.6h1.3v1.3h-1.3zM135.0 658.6h1.3v1.3h-1.3zM110.5 640.3h1.3v1.3h-1.3zM128.9 633.5h1.3v1.3h-1.3zM87.4 632.7h1.3v1.3h-1.3zM97.1 649.2h1.3v1.3h-1.3zM90.9 661.6h1.3v1.3h-1.3zM95.9 656.6h1.3v1.3h-1.3zM126.3 659.6h1.3v1.3h-1.3zM116.2 650.5h1.3v1.3h-1.3zM83.1 658.9h1.3v1.3h-1.3zM109.7 661.4h1.3v1.3h-1.3zM84.5 643.5h1.3v1.3h-1.3zM83.9 655.8h1.3v1.3h-1.3zM97.5 654.5h1.3v1.3h-1.3zM71.4 650.5h1.3v1.3h-1.3zM92.8 642.4h1.3v1.3h-1.3zM122.2 637.8h1.3v1.3h-1.3zM92.4 643.4h1.3v1.3h-1.3zM116.2 647.5h1.3v1.3h-1.3zM89.4 652.8h1.3v1.3h-1.3zM108.7 653.1h1.3v1.3h-1.3zM73.0 638.3h1.3v1.3h-1.3zM92.7 650.3h1.3v1.3h-1.3zM107.3 638.5h1.3v1.3h-1.3zM95.1 646.3h1.3v1.3h-1.3zM112.3 656.4h1.3v1.3h-1.3zM139.4 673.0h1.3v1.3h-1.3zM124.3 641.4h1.3v1.3h-1.3zM85.7 643.9h1.3v1.3h-1.3zM86.1 638.6h1.3v1.3h-1.3zM98.0 632.7h1.3v1.3h-1.3zM104.8 643.9h1.3v1.3h-1.3zM97.6 637.9h1.3v1.3h-1.3zM92.7 664.5h1.3v1.3h-1.3zM126.5 645.5h1.3v1.3h-1.3zM122.6 645.3h1.3v1.3h-1.3zM106.9 646.0h1.3v1.3h-1.3zM109.4 653.5h1.3v1.3h-1.3zM86.1 660.0h1.3v1.3h-1.3zM107.5 593.6h1.3v1.3h-1.3zM63.7 636.8h1.3v1.3h-1.3zM115.5 660.9h1.3v1.3h-1.3zM75.9 634.1h1.3v1.3h-1.3zM79.6 648.1h1.3v1.3h-1.3zM92.1 644.8h1.3v1.3h-1.3zM101.2 613.6h1.3v1.3h-1.3zM95.2 637.0h1.3v1.3h-1.3zM81.3 645.5h1.3v1.3h-1.3zM124.9 637.9h1.3v1.3h-1.3zM96.8 659.9h1.3v1.3h-1.3zM89.2 639.9h1.3v1.3h-1.3zM106.3 642.7h1.3v1.3h-1.3zM96.2 657.7h1.3v1.3h-1.3zM92.0 636.4h1.3v1.3h-1.3zM82.5 649.8h1.3v1.3h-1.3zM109.9 597.3h1.3v1.3h-1.3zM147.4 649.1h1.3v1.3h-1.3zM106.3 636.6h1.3v1.3h-1.3zM92.4 635.0h1.3v1.3h-1.3zM80.8 639.9h1.3v1.3h-1.3zM114.2 653.0h1.3v1.3h-1.3zM84.4 638.6h1.3v1.3h-1.3zM101.4 646.7h1.3v1.3h-1.3zM98.5 651.7h1.3v1.3h-1.3zM103.6 602.7h1.3v1.3h-1.3zM97.4 641.1h1.3v1.3h-1.3zM78.7 651.3h1.3v1.3h-1.3zM116.2 649.9h1.3v1.3h-1.3zM97.5 655.7h1.3v1.3h-1.3zM80.8 649.4h1.3v1.3h-1.3zM81.0 647.9h1.3v1.3h-1.3zM118.7 644.0h1.3v1.3h-1.3zM91.6 655.9h1.3v1.3h-1.3zM109.3 641.0h1.3v1.3h-1.3z" fill="#DFA617"/>
<path d="M54.9 644.1h1.3v1.3h-1.3zM54.3 651.1h1.3v1.3h-1.3zM56.6 650.1h1.3v1.3h-1.3zM65.9 650.8h1.3v1.3h-1.3zM59.0 667.6h1.3v1.3h-1.3zM62.5 636.9h1.3v1.3h-1.3zM55.8 660.5h1.3v1.3h-1.3zM57.2 657.6h1.3v1.3h-1.3zM61.8 653.7h1.3v1.3h-1.3zM63.0 655.4h1.3v1.3h-1.3zM63.3 662.9h1.3v1.3h-1.3zM55.1 658.4h1.3v1.3h-1.3zM80.7 655.2h1.3v1.3h-1.3zM64.8 652.7h1.3v1.3h-1.3zM53.9 655.7h1.3v1.3h-1.3zM57.2 662.1h1.3v1.3h-1.3zM64.4 658.0h1.3v1.3h-1.3zM50.9 648.0h1.3v1.3h-1.3zM56.0 661.0h1.3v1.3h-1.3zM66.1 666.7h1.3v1.3h-1.3zM53.0 652.0h1.3v1.3h-1.3zM62.4 667.7h1.3v1.3h-1.3zM61.3 648.7h1.3v1.3h-1.3zM50.5 646.1h1.3v1.3h-1.3zM56.9 654.6h1.3v1.3h-1.3zM57.9 649.0h1.3v1.3h-1.3zM59.5 666.1h1.3v1.3h-1.3zM57.6 652.7h1.3v1.3h-1.3zM56.4 667.3h1.3v1.3h-1.3zM56.1 663.1h1.3v1.3h-1.3zM69.3 639.2h1.3v1.3h-1.3zM60.8 667.4h1.3v1.3h-1.3zM56.3 656.0h1.3v1.3h-1.3zM64.9 662.4h1.3v1.3h-1.3zM70.7 651.6h1.3v1.3h-1.3zM59.1 660.8h1.3v1.3h-1.3zM60.8 649.7h1.3v1.3h-1.3zM60.9 660.1h1.3v1.3h-1.3zM56.2 652.4h1.3v1.3h-1.3zM61.0 664.0h1.3v1.3h-1.3zM60.4 658.9h1.3v1.3h-1.3zM56.1 662.7h1.3v1.3h-1.3zM54.4 640.5h1.3v1.3h-1.3zM65.8 667.9h1.3v1.3h-1.3zM56.3 661.8h1.3v1.3h-1.3zM76.6 659.8h1.3v1.3h-1.3zM53.8 638.1h1.3v1.3h-1.3zM58.5 658.0h1.3v1.3h-1.3zM59.8 661.4h1.3v1.3h-1.3zM55.4 662.4h1.3v1.3h-1.3zM52.8 647.6h1.3v1.3h-1.3zM53.5 655.5h1.3v1.3h-1.3zM59.6 652.1h1.3v1.3h-1.3zM58.4 656.3h1.3v1.3h-1.3zM56.5 649.1h1.3v1.3h-1.3zM57.1 657.1h1.3v1.3h-1.3zM70.4 659.0h1.3v1.3h-1.3zM51.5 648.8h1.3v1.3h-1.3zM60.8 646.2h1.3v1.3h-1.3zM53.7 634.0h1.3v1.3h-1.3z" fill="#2760B0"/>
<line x1="92.2" y1="582.3" x2="92.2" y2="685.8" stroke="#2a2a2a" stroke-width="1.1" stroke-dasharray="3.5,2.2"/>
<line x1="39.9" y1="646.7" x2="165.0" y2="646.7" stroke="#2a2a2a" stroke-width="1.1" stroke-dasharray="3.5,2.2"/>
<path d="M39.9 582.3V685.8H165.0" fill="none" stroke="#222" stroke-width="0.9"/>
<line x1="37.1" y1="614.20" x2="39.9" y2="614.20" stroke="#222" stroke-width="0.6"/>
<text x="36.3" y="617.00" text-anchor="end" font-size="7.8" fill="#262626" stroke="#262626" stroke-width="0.22">10</text>
<line x1="37.1" y1="646.70" x2="39.9" y2="646.70" stroke="#222" stroke-width="0.6"/>
<text x="36.3" y="649.50" text-anchor="end" font-size="7.8" fill="#262626" stroke="#262626" stroke-width="0.22">0</text>
<line x1="37.1" y1="679.20" x2="39.9" y2="679.20" stroke="#222" stroke-width="0.6"/>
<text x="36.3" y="682.00" text-anchor="end" font-size="7.8" fill="#262626" stroke="#262626" stroke-width="0.22">−10</text>
<line x1="57.90" y1="685.8" x2="57.90" y2="688.6" stroke="#222" stroke-width="0.6"/>
<text x="57.90" y="695.6" text-anchor="middle" font-size="7.8" fill="#262626" stroke="#262626" stroke-width="0.22">−10</text>
<line x1="92.20" y1="685.8" x2="92.20" y2="688.6" stroke="#222" stroke-width="0.6"/>
<text x="92.20" y="695.6" text-anchor="middle" font-size="7.8" fill="#262626" stroke="#262626" stroke-width="0.22">0</text>
<line x1="126.50" y1="685.8" x2="126.50" y2="688.6" stroke="#222" stroke-width="0.6"/>
<text x="126.50" y="695.6" text-anchor="middle" font-size="7.8" fill="#262626" stroke="#262626" stroke-width="0.22">10</text>
<line x1="160.80" y1="685.8" x2="160.80" y2="688.6" stroke="#222" stroke-width="0.6"/>
<text x="160.80" y="695.6" text-anchor="middle" font-size="7.8" fill="#262626" stroke="#262626" stroke-width="0.22">20</text>
<text x="101.3" y="705.4" text-anchor="middle" font-size="8.80" fill="#1a1a1a" stroke="#1a1a1a" stroke-width="0.22">PC1 (24.3%)</text>
<text transform="translate(24.7,633.7) rotate(-90)" text-anchor="middle" font-size="8.90" fill="#1a1a1a" stroke="#1a1a1a" stroke-width="0.22">PC2 (12.2%)</text>
<text x="194.0" y="579.0" font-size="9.7" font-weight="bold" fill="#000" stroke="#000" stroke-width="0.22">TCGA-UCEC</text>
<polygon points="262.3,631.0 267.1,631.7 269.0,668.5 252.7,681.0 246.7,682.2 234.7,677.4 236.3,651.6" fill="#2B62AE" fill-opacity="0.13" stroke="#4A76BC" stroke-width="0.75"/>
<polygon points="198.6,610.0 269.5,586.7 285.1,591.5 306.8,620.9 312.8,631.7 299.6,667.7" fill="#E8B030" fill-opacity="0.12" stroke="#E9BF55" stroke-width="0.75"/>
<path d="M261.5 630.2h1.6v1.6h-1.6zM266.3 630.9h1.6v1.6h-1.6zM268.2 667.7h1.6v1.6h-1.6zM251.9 680.2h1.6v1.6h-1.6zM245.9 681.4h1.6v1.6h-1.6zM233.9 676.6h1.6v1.6h-1.6zM235.5 650.8h1.6v1.6h-1.6z" fill="#4A76BC"/>
<path d="M197.8 609.2h1.6v1.6h-1.6zM268.7 585.9h1.6v1.6h-1.6zM284.3 590.7h1.6v1.6h-1.6zM306.0 620.1h1.6v1.6h-1.6zM312.0 630.9h1.6v1.6h-1.6zM298.8 666.9h1.6v1.6h-1.6z" fill="#E9BF55"/>
<path d="M306.0 626.6h1.3v1.3h-1.3zM289.3 612.5h1.3v1.3h-1.3zM291.8 621.9h1.3v1.3h-1.3zM292.5 625.0h1.3v1.3h-1.3zM270.2 631.5h1.3v1.3h-1.3zM260.3 601.8h1.3v1.3h-1.3zM266.5 616.7h1.3v1.3h-1.3zM289.3 609.5h1.3v1.3h-1.3zM264.6 607.8h1.3v1.3h-1.3zM275.2 607.6h1.3v1.3h-1.3zM259.5 600.8h1.3v1.3h-1.3zM275.0 604.9h1.3v1.3h-1.3zM282.3 612.7h1.3v1.3h-1.3zM262.7 604.7h1.3v1.3h-1.3zM284.3 616.2h1.3v1.3h-1.3zM279.8 615.3h1.3v1.3h-1.3zM256.8 616.0h1.3v1.3h-1.3zM276.7 603.9h1.3v1.3h-1.3zM272.6 613.8h1.3v1.3h-1.3zM267.2 608.6h1.3v1.3h-1.3zM281.6 605.5h1.3v1.3h-1.3zM266.3 598.1h1.3v1.3h-1.3zM275.8 600.5h1.3v1.3h-1.3zM272.5 598.4h1.3v1.3h-1.3zM297.3 646.0h1.3v1.3h-1.3zM274.5 603.1h1.3v1.3h-1.3zM289.3 611.6h1.3v1.3h-1.3zM268.6 607.5h1.3v1.3h-1.3zM267.1 605.7h1.3v1.3h-1.3zM276.0 611.8h1.3v1.3h-1.3zM263.0 609.9h1.3v1.3h-1.3zM278.1 607.0h1.3v1.3h-1.3zM230.6 626.7h1.3v1.3h-1.3zM290.5 609.3h1.3v1.3h-1.3zM253.7 617.9h1.3v1.3h-1.3zM295.6 631.3h1.3v1.3h-1.3zM268.4 614.9h1.3v1.3h-1.3zM296.9 626.1h1.3v1.3h-1.3zM262.9 616.5h1.3v1.3h-1.3zM278.3 632.9h1.3v1.3h-1.3zM289.3 620.3h1.3v1.3h-1.3zM265.1 606.0h1.3v1.3h-1.3zM261.4 612.1h1.3v1.3h-1.3zM266.0 608.9h1.3v1.3h-1.3zM292.0 613.3h1.3v1.3h-1.3zM287.3 629.9h1.3v1.3h-1.3zM266.9 607.8h1.3v1.3h-1.3zM285.0 637.7h1.3v1.3h-1.3zM280.6 633.9h1.3v1.3h-1.3zM272.7 609.3h1.3v1.3h-1.3zM257.5 611.7h1.3v1.3h-1.3zM266.5 611.7h1.3v1.3h-1.3zM304.9 630.8h1.3v1.3h-1.3zM285.6 621.8h1.3v1.3h-1.3zM265.5 603.9h1.3v1.3h-1.3zM282.6 631.5h1.3v1.3h-1.3zM267.0 600.2h1.3v1.3h-1.3zM285.9 623.6h1.3v1.3h-1.3zM274.2 621.4h1.3v1.3h-1.3zM268.3 608.0h1.3v1.3h-1.3zM287.7 606.4h1.3v1.3h-1.3zM266.5 606.0h1.3v1.3h-1.3zM271.3 596.9h1.3v1.3h-1.3zM274.1 602.6h1.3v1.3h-1.3zM282.6 616.6h1.3v1.3h-1.3zM267.3 613.8h1.3v1.3h-1.3zM268.1 607.5h1.3v1.3h-1.3zM266.2 606.9h1.3v1.3h-1.3zM298.7 640.6h1.3v1.3h-1.3zM307.1 626.5h1.3v1.3h-1.3zM295.6 623.6h1.3v1.3h-1.3zM280.4 650.2h1.3v1.3h-1.3zM288.4 628.7h1.3v1.3h-1.3zM295.3 636.6h1.3v1.3h-1.3zM235.2 601.9h1.3v1.3h-1.3zM262.1 611.5h1.3v1.3h-1.3zM286.8 621.4h1.3v1.3h-1.3zM294.1 619.1h1.3v1.3h-1.3zM291.4 620.0h1.3v1.3h-1.3zM273.9 622.2h1.3v1.3h-1.3zM261.0 601.6h1.3v1.3h-1.3zM266.0 617.4h1.3v1.3h-1.3zM289.2 626.9h1.3v1.3h-1.3zM262.2 611.4h1.3v1.3h-1.3zM306.9 635.4h1.3v1.3h-1.3zM286.7 609.4h1.3v1.3h-1.3zM291.2 631.6h1.3v1.3h-1.3zM286.0 632.7h1.3v1.3h-1.3zM280.2 608.8h1.3v1.3h-1.3zM289.1 638.9h1.3v1.3h-1.3zM271.8 598.4h1.3v1.3h-1.3zM296.2 617.7h1.3v1.3h-1.3zM273.2 601.7h1.3v1.3h-1.3zM261.8 596.9h1.3v1.3h-1.3zM285.8 629.2h1.3v1.3h-1.3zM289.0 619.5h1.3v1.3h-1.3zM251.1 606.3h1.3v1.3h-1.3zM266.8 602.9h1.3v1.3h-1.3zM261.5 608.2h1.3v1.3h-1.3zM255.6 604.8h1.3v1.3h-1.3zM263.7 629.0h1.3v1.3h-1.3zM284.1 621.2h1.3v1.3h-1.3zM292.6 619.1h1.3v1.3h-1.3zM278.2 636.5h1.3v1.3h-1.3zM264.7 602.1h1.3v1.3h-1.3zM259.2 608.1h1.3v1.3h-1.3zM280.4 599.6h1.3v1.3h-1.3zM221.6 616.2h1.3v1.3h-1.3zM265.8 606.5h1.3v1.3h-1.3zM283.2 605.0h1.3v1.3h-1.3zM259.5 602.0h1.3v1.3h-1.3zM266.2 610.2h1.3v1.3h-1.3zM271.7 617.9h1.3v1.3h-1.3zM274.4 621.8h1.3v1.3h-1.3zM279.0 609.0h1.3v1.3h-1.3zM281.0 611.1h1.3v1.3h-1.3zM286.5 623.1h1.3v1.3h-1.3zM267.8 600.1h1.3v1.3h-1.3zM279.3 609.4h1.3v1.3h-1.3zM255.9 612.5h1.3v1.3h-1.3zM274.8 596.7h1.3v1.3h-1.3zM267.2 604.4h1.3v1.3h-1.3zM295.9 628.4h1.3v1.3h-1.3zM275.7 611.0h1.3v1.3h-1.3zM308.1 633.6h1.3v1.3h-1.3zM263.4 612.8h1.3v1.3h-1.3zM286.3 621.9h1.3v1.3h-1.3zM272.0 604.2h1.3v1.3h-1.3zM266.9 598.1h1.3v1.3h-1.3zM290.6 616.4h1.3v1.3h-1.3zM271.4 613.7h1.3v1.3h-1.3zM299.7 616.5h1.3v1.3h-1.3zM259.4 607.1h1.3v1.3h-1.3zM281.9 623.0h1.3v1.3h-1.3zM289.1 628.5h1.3v1.3h-1.3zM288.8 616.7h1.3v1.3h-1.3zM279.0 602.2h1.3v1.3h-1.3zM263.4 611.3h1.3v1.3h-1.3zM277.9 610.1h1.3v1.3h-1.3zM292.4 614.4h1.3v1.3h-1.3zM274.7 596.3h1.3v1.3h-1.3zM264.2 605.4h1.3v1.3h-1.3zM244.5 616.0h1.3v1.3h-1.3zM297.6 611.2h1.3v1.3h-1.3zM271.5 605.6h1.3v1.3h-1.3zM268.4 596.0h1.3v1.3h-1.3zM269.4 589.6h1.3v1.3h-1.3zM305.5 622.7h1.3v1.3h-1.3zM265.7 614.0h1.3v1.3h-1.3zM261.8 612.4h1.3v1.3h-1.3zM293.0 625.2h1.3v1.3h-1.3zM269.8 594.1h1.3v1.3h-1.3zM298.7 619.7h1.3v1.3h-1.3zM268.3 621.3h1.3v1.3h-1.3zM297.7 628.8h1.3v1.3h-1.3zM281.2 606.8h1.3v1.3h-1.3zM264.8 607.3h1.3v1.3h-1.3zM260.8 621.4h1.3v1.3h-1.3zM288.0 618.0h1.3v1.3h-1.3zM272.5 595.8h1.3v1.3h-1.3zM284.1 639.8h1.3v1.3h-1.3zM289.0 624.2h1.3v1.3h-1.3zM288.0 608.9h1.3v1.3h-1.3zM247.1 617.1h1.3v1.3h-1.3zM274.4 597.8h1.3v1.3h-1.3zM258.6 609.8h1.3v1.3h-1.3zM289.5 604.1h1.3v1.3h-1.3zM264.9 617.4h1.3v1.3h-1.3zM286.7 614.6h1.3v1.3h-1.3zM260.6 602.6h1.3v1.3h-1.3zM265.8 596.2h1.3v1.3h-1.3zM291.1 605.9h1.3v1.3h-1.3zM297.1 629.9h1.3v1.3h-1.3zM303.3 623.4h1.3v1.3h-1.3zM264.2 617.4h1.3v1.3h-1.3zM272.2 609.1h1.3v1.3h-1.3zM280.5 614.6h1.3v1.3h-1.3zM258.9 602.7h1.3v1.3h-1.3zM269.7 601.6h1.3v1.3h-1.3zM268.6 609.3h1.3v1.3h-1.3zM307.0 630.7h1.3v1.3h-1.3zM296.1 621.0h1.3v1.3h-1.3zM265.7 603.2h1.3v1.3h-1.3zM288.5 629.2h1.3v1.3h-1.3zM307.7 632.4h1.3v1.3h-1.3zM243.5 602.8h1.3v1.3h-1.3zM286.9 624.9h1.3v1.3h-1.3zM279.0 613.6h1.3v1.3h-1.3zM275.8 599.3h1.3v1.3h-1.3zM273.7 596.5h1.3v1.3h-1.3zM298.5 626.2h1.3v1.3h-1.3zM276.6 616.7h1.3v1.3h-1.3zM267.2 606.5h1.3v1.3h-1.3zM272.0 612.0h1.3v1.3h-1.3zM257.6 615.6h1.3v1.3h-1.3zM243.5 597.6h1.3v1.3h-1.3zM262.2 597.9h1.3v1.3h-1.3zM286.5 622.8h1.3v1.3h-1.3zM252.9 601.2h1.3v1.3h-1.3zM273.9 608.1h1.3v1.3h-1.3zM291.7 619.2h1.3v1.3h-1.3zM293.1 608.3h1.3v1.3h-1.3zM297.9 628.3h1.3v1.3h-1.3zM288.3 608.4h1.3v1.3h-1.3zM274.4 633.2h1.3v1.3h-1.3zM303.8 624.6h1.3v1.3h-1.3zM257.0 610.2h1.3v1.3h-1.3zM276.5 634.9h1.3v1.3h-1.3zM298.0 615.2h1.3v1.3h-1.3zM283.5 622.4h1.3v1.3h-1.3zM281.8 601.1h1.3v1.3h-1.3zM273.8 599.2h1.3v1.3h-1.3zM260.7 599.4h1.3v1.3h-1.3zM281.2 617.6h1.3v1.3h-1.3zM266.5 611.7h1.3v1.3h-1.3zM274.2 601.8h1.3v1.3h-1.3zM288.7 614.4h1.3v1.3h-1.3zM263.7 603.6h1.3v1.3h-1.3zM266.3 603.7h1.3v1.3h-1.3zM272.1 605.4h1.3v1.3h-1.3zM295.1 610.2h1.3v1.3h-1.3zM269.1 608.1h1.3v1.3h-1.3zM273.8 620.0h1.3v1.3h-1.3zM279.9 613.1h1.3v1.3h-1.3zM251.5 602.7h1.3v1.3h-1.3zM265.0 611.6h1.3v1.3h-1.3zM285.5 619.0h1.3v1.3h-1.3zM268.3 602.8h1.3v1.3h-1.3zM284.8 611.9h1.3v1.3h-1.3zM268.4 594.1h1.3v1.3h-1.3zM272.9 603.5h1.3v1.3h-1.3zM285.0 610.8h1.3v1.3h-1.3zM263.6 602.5h1.3v1.3h-1.3zM280.2 601.1h1.3v1.3h-1.3zM287.5 595.8h1.3v1.3h-1.3zM277.6 610.7h1.3v1.3h-1.3zM268.4 606.5h1.3v1.3h-1.3zM255.4 611.2h1.3v1.3h-1.3zM273.9 611.8h1.3v1.3h-1.3zM283.4 633.8h1.3v1.3h-1.3zM287.8 638.8h1.3v1.3h-1.3zM278.2 614.5h1.3v1.3h-1.3zM298.8 628.7h1.3v1.3h-1.3zM239.8 600.0h1.3v1.3h-1.3zM276.9 621.8h1.3v1.3h-1.3zM288.8 634.0h1.3v1.3h-1.3zM279.5 625.8h1.3v1.3h-1.3zM279.1 637.5h1.3v1.3h-1.3zM289.4 607.0h1.3v1.3h-1.3zM293.8 604.7h1.3v1.3h-1.3zM301.8 619.5h1.3v1.3h-1.3zM260.8 603.3h1.3v1.3h-1.3zM293.5 641.1h1.3v1.3h-1.3zM263.3 598.7h1.3v1.3h-1.3zM277.4 609.6h1.3v1.3h-1.3zM285.8 609.3h1.3v1.3h-1.3zM268.5 600.5h1.3v1.3h-1.3zM268.1 604.3h1.3v1.3h-1.3zM306.6 625.4h1.3v1.3h-1.3zM275.8 643.0h1.3v1.3h-1.3zM276.6 603.4h1.3v1.3h-1.3zM267.2 617.1h1.3v1.3h-1.3zM268.9 611.9h1.3v1.3h-1.3zM275.1 592.6h1.3v1.3h-1.3zM284.5 606.3h1.3v1.3h-1.3zM267.0 612.8h1.3v1.3h-1.3zM289.4 631.3h1.3v1.3h-1.3zM294.3 612.3h1.3v1.3h-1.3zM260.9 604.1h1.3v1.3h-1.3zM297.0 619.6h1.3v1.3h-1.3zM261.1 602.2h1.3v1.3h-1.3zM284.0 647.7h1.3v1.3h-1.3zM289.7 615.3h1.3v1.3h-1.3zM289.1 602.6h1.3v1.3h-1.3zM288.4 603.0h1.3v1.3h-1.3zM264.8 609.9h1.3v1.3h-1.3zM290.4 607.7h1.3v1.3h-1.3zM292.2 612.2h1.3v1.3h-1.3zM266.8 609.6h1.3v1.3h-1.3zM306.8 623.5h1.3v1.3h-1.3zM259.8 606.6h1.3v1.3h-1.3zM285.4 610.6h1.3v1.3h-1.3zM269.6 614.7h1.3v1.3h-1.3zM266.2 591.5h1.3v1.3h-1.3zM262.1 611.1h1.3v1.3h-1.3zM287.4 629.3h1.3v1.3h-1.3zM289.1 623.6h1.3v1.3h-1.3zM284.7 621.3h1.3v1.3h-1.3zM285.1 595.7h1.3v1.3h-1.3zM282.8 623.0h1.3v1.3h-1.3zM273.8 605.4h1.3v1.3h-1.3zM294.6 611.2h1.3v1.3h-1.3zM277.6 642.3h1.3v1.3h-1.3zM289.9 637.7h1.3v1.3h-1.3zM292.2 611.5h1.3v1.3h-1.3zM247.7 612.7h1.3v1.3h-1.3zM267.7 616.2h1.3v1.3h-1.3zM270.0 609.2h1.3v1.3h-1.3zM265.2 592.3h1.3v1.3h-1.3zM302.0 624.7h1.3v1.3h-1.3zM256.2 607.9h1.3v1.3h-1.3zM268.0 603.3h1.3v1.3h-1.3zM263.5 611.4h1.3v1.3h-1.3zM296.7 611.4h1.3v1.3h-1.3zM287.9 606.6h1.3v1.3h-1.3zM289.8 614.9h1.3v1.3h-1.3zM274.3 614.2h1.3v1.3h-1.3zM270.1 615.6h1.3v1.3h-1.3zM260.9 612.3h1.3v1.3h-1.3zM299.6 617.5h1.3v1.3h-1.3zM257.1 607.7h1.3v1.3h-1.3zM285.1 595.0h1.3v1.3h-1.3zM277.6 600.7h1.3v1.3h-1.3zM260.5 612.0h1.3v1.3h-1.3zM255.5 609.4h1.3v1.3h-1.3zM290.8 621.8h1.3v1.3h-1.3zM276.5 634.2h1.3v1.3h-1.3zM290.0 626.4h1.3v1.3h-1.3zM258.0 601.4h1.3v1.3h-1.3zM298.0 620.7h1.3v1.3h-1.3zM255.7 606.6h1.3v1.3h-1.3zM255.6 613.8h1.3v1.3h-1.3zM291.7 607.2h1.3v1.3h-1.3zM270.6 609.7h1.3v1.3h-1.3zM281.6 622.9h1.3v1.3h-1.3zM297.6 623.7h1.3v1.3h-1.3zM257.2 606.2h1.3v1.3h-1.3zM262.2 603.2h1.3v1.3h-1.3zM301.4 651.8h1.3v1.3h-1.3zM288.4 614.9h1.3v1.3h-1.3zM259.1 599.4h1.3v1.3h-1.3zM295.5 639.3h1.3v1.3h-1.3zM261.4 604.6h1.3v1.3h-1.3zM233.1 598.4h1.3v1.3h-1.3zM280.2 605.2h1.3v1.3h-1.3zM297.8 639.8h1.3v1.3h-1.3zM257.9 617.6h1.3v1.3h-1.3zM267.2 615.6h1.3v1.3h-1.3zM257.1 605.9h1.3v1.3h-1.3zM271.2 597.1h1.3v1.3h-1.3zM289.7 624.1h1.3v1.3h-1.3zM258.1 608.6h1.3v1.3h-1.3zM262.3 610.7h1.3v1.3h-1.3zM278.4 631.4h1.3v1.3h-1.3zM251.8 605.2h1.3v1.3h-1.3zM294.9 634.3h1.3v1.3h-1.3zM264.5 606.2h1.3v1.3h-1.3zM292.5 625.1h1.3v1.3h-1.3zM296.2 625.2h1.3v1.3h-1.3zM290.1 617.3h1.3v1.3h-1.3zM258.8 606.8h1.3v1.3h-1.3zM280.7 625.2h1.3v1.3h-1.3zM224.0 609.2h1.3v1.3h-1.3zM264.1 607.7h1.3v1.3h-1.3zM268.8 598.2h1.3v1.3h-1.3zM295.8 616.4h1.3v1.3h-1.3zM293.9 609.7h1.3v1.3h-1.3zM293.9 636.5h1.3v1.3h-1.3zM261.1 606.1h1.3v1.3h-1.3zM276.0 618.6h1.3v1.3h-1.3zM287.9 622.0h1.3v1.3h-1.3zM269.4 598.1h1.3v1.3h-1.3zM279.9 613.4h1.3v1.3h-1.3zM279.8 614.7h1.3v1.3h-1.3zM278.6 621.4h1.3v1.3h-1.3zM269.9 620.3h1.3v1.3h-1.3zM269.6 610.9h1.3v1.3h-1.3zM266.9 615.8h1.3v1.3h-1.3zM259.8 609.4h1.3v1.3h-1.3zM277.3 603.4h1.3v1.3h-1.3zM279.1 632.5h1.3v1.3h-1.3zM301.3 616.1h1.3v1.3h-1.3zM271.2 607.2h1.3v1.3h-1.3zM303.1 616.5h1.3v1.3h-1.3zM268.0 611.0h1.3v1.3h-1.3zM289.2 614.1h1.3v1.3h-1.3zM265.5 600.7h1.3v1.3h-1.3zM274.0 622.6h1.3v1.3h-1.3zM280.3 619.4h1.3v1.3h-1.3zM265.0 613.8h1.3v1.3h-1.3zM262.0 604.9h1.3v1.3h-1.3zM278.9 637.6h1.3v1.3h-1.3zM261.4 613.6h1.3v1.3h-1.3zM297.4 627.7h1.3v1.3h-1.3zM263.8 603.7h1.3v1.3h-1.3zM259.3 607.6h1.3v1.3h-1.3zM270.5 605.2h1.3v1.3h-1.3zM264.9 618.6h1.3v1.3h-1.3zM264.9 608.8h1.3v1.3h-1.3zM271.3 614.1h1.3v1.3h-1.3zM270.9 607.8h1.3v1.3h-1.3zM283.4 623.2h1.3v1.3h-1.3zM274.5 611.6h1.3v1.3h-1.3zM295.0 621.1h1.3v1.3h-1.3zM301.0 635.1h1.3v1.3h-1.3zM270.2 618.8h1.3v1.3h-1.3zM263.6 608.1h1.3v1.3h-1.3zM281.1 609.9h1.3v1.3h-1.3zM274.7 595.7h1.3v1.3h-1.3zM273.0 604.2h1.3v1.3h-1.3zM259.7 605.8h1.3v1.3h-1.3zM266.7 593.5h1.3v1.3h-1.3zM261.7 608.8h1.3v1.3h-1.3zM268.5 603.5h1.3v1.3h-1.3zM300.6 618.2h1.3v1.3h-1.3zM274.0 611.0h1.3v1.3h-1.3zM299.1 620.4h1.3v1.3h-1.3zM294.4 625.2h1.3v1.3h-1.3zM292.3 619.1h1.3v1.3h-1.3zM300.6 621.7h1.3v1.3h-1.3zM263.9 613.5h1.3v1.3h-1.3zM265.0 607.4h1.3v1.3h-1.3zM279.5 625.2h1.3v1.3h-1.3zM277.5 616.1h1.3v1.3h-1.3zM297.5 654.1h1.3v1.3h-1.3zM294.2 608.9h1.3v1.3h-1.3zM272.7 610.9h1.3v1.3h-1.3zM255.2 605.1h1.3v1.3h-1.3zM270.7 606.3h1.3v1.3h-1.3zM286.1 615.3h1.3v1.3h-1.3zM274.9 605.6h1.3v1.3h-1.3zM244.7 623.6h1.3v1.3h-1.3zM286.4 614.8h1.3v1.3h-1.3zM282.5 618.5h1.3v1.3h-1.3zM277.1 627.0h1.3v1.3h-1.3zM261.5 608.8h1.3v1.3h-1.3zM283.6 610.7h1.3v1.3h-1.3zM266.7 607.9h1.3v1.3h-1.3zM294.9 626.1h1.3v1.3h-1.3zM265.6 609.7h1.3v1.3h-1.3z" fill="#DFA617"/>
<path d="M239.3 672.4h1.3v1.3h-1.3zM253.3 654.4h1.3v1.3h-1.3zM247.6 665.7h1.3v1.3h-1.3zM235.5 664.1h1.3v1.3h-1.3zM255.6 651.8h1.3v1.3h-1.3zM257.3 641.1h1.3v1.3h-1.3zM246.0 654.9h1.3v1.3h-1.3zM246.1 677.9h1.3v1.3h-1.3zM242.0 656.4h1.3v1.3h-1.3zM257.0 649.1h1.3v1.3h-1.3zM257.2 650.0h1.3v1.3h-1.3zM250.2 660.5h1.3v1.3h-1.3zM254.5 656.7h1.3v1.3h-1.3zM256.8 671.3h1.3v1.3h-1.3zM245.8 666.5h1.3v1.3h-1.3zM252.7 666.3h1.3v1.3h-1.3zM247.8 651.7h1.3v1.3h-1.3zM254.3 670.6h1.3v1.3h-1.3zM265.4 653.1h1.3v1.3h-1.3zM242.8 649.3h1.3v1.3h-1.3zM264.2 657.8h1.3v1.3h-1.3zM247.3 658.0h1.3v1.3h-1.3zM240.3 663.3h1.3v1.3h-1.3zM267.5 661.6h1.3v1.3h-1.3zM256.5 663.8h1.3v1.3h-1.3zM248.8 647.6h1.3v1.3h-1.3zM251.6 658.0h1.3v1.3h-1.3zM251.7 655.3h1.3v1.3h-1.3zM237.1 674.1h1.3v1.3h-1.3zM256.7 665.8h1.3v1.3h-1.3zM254.5 652.7h1.3v1.3h-1.3zM262.1 657.5h1.3v1.3h-1.3zM245.6 647.4h1.3v1.3h-1.3zM247.3 669.4h1.3v1.3h-1.3zM250.6 642.9h1.3v1.3h-1.3zM262.2 641.7h1.3v1.3h-1.3zM257.7 668.0h1.3v1.3h-1.3zM250.6 652.5h1.3v1.3h-1.3z" fill="#2760B0"/>
<line x1="271.3" y1="582.5" x2="271.3" y2="685.8" stroke="#2a2a2a" stroke-width="1.1" stroke-dasharray="3.5,2.2"/>
<line x1="193.0" y1="615.7" x2="317.5" y2="615.7" stroke="#2a2a2a" stroke-width="1.1" stroke-dasharray="3.5,2.2"/>
<path d="M193.0 582.5V685.8H317.5" fill="none" stroke="#222" stroke-width="0.9"/>
<line x1="190.2" y1="594.20" x2="193.0" y2="594.20" stroke="#222" stroke-width="0.6"/>
<text x="189.4" y="597.00" text-anchor="end" font-size="7.8" fill="#262626" stroke="#262626" stroke-width="0.22">5</text>
<line x1="190.2" y1="615.70" x2="193.0" y2="615.70" stroke="#222" stroke-width="0.6"/>
<text x="189.4" y="618.50" text-anchor="end" font-size="7.8" fill="#262626" stroke="#262626" stroke-width="0.22">0</text>
<line x1="190.2" y1="637.20" x2="193.0" y2="637.20" stroke="#222" stroke-width="0.6"/>
<text x="189.4" y="640.00" text-anchor="end" font-size="7.8" fill="#262626" stroke="#262626" stroke-width="0.22">−5</text>
<line x1="190.2" y1="658.70" x2="193.0" y2="658.70" stroke="#222" stroke-width="0.6"/>
<text x="189.4" y="661.50" text-anchor="end" font-size="7.8" fill="#262626" stroke="#262626" stroke-width="0.22">−10</text>
<line x1="190.2" y1="680.20" x2="193.0" y2="680.20" stroke="#222" stroke-width="0.6"/>
<text x="189.4" y="683.00" text-anchor="end" font-size="7.8" fill="#262626" stroke="#262626" stroke-width="0.22">−15</text>
<line x1="212.30" y1="685.8" x2="212.30" y2="688.6" stroke="#222" stroke-width="0.6"/>
<text x="212.30" y="695.6" text-anchor="middle" font-size="7.8" fill="#262626" stroke="#262626" stroke-width="0.22">−20</text>
<line x1="241.80" y1="685.8" x2="241.80" y2="688.6" stroke="#222" stroke-width="0.6"/>
<text x="241.80" y="695.6" text-anchor="middle" font-size="7.8" fill="#262626" stroke="#262626" stroke-width="0.22">−10</text>
<line x1="271.30" y1="685.8" x2="271.30" y2="688.6" stroke="#222" stroke-width="0.6"/>
<text x="271.30" y="695.6" text-anchor="middle" font-size="7.8" fill="#262626" stroke="#262626" stroke-width="0.22">0</text>
<line x1="300.80" y1="685.8" x2="300.80" y2="688.6" stroke="#222" stroke-width="0.6"/>
<text x="300.80" y="695.6" text-anchor="middle" font-size="7.8" fill="#262626" stroke="#262626" stroke-width="0.22">10</text>
<text x="267.3" y="705.4" text-anchor="middle" font-size="8.90" fill="#1a1a1a" stroke="#1a1a1a" stroke-width="0.22">PC1 (15.5%)</text>
<text transform="translate(176.4,627.1) rotate(-90)" text-anchor="middle" font-size="8.00" fill="#1a1a1a" stroke="#1a1a1a" stroke-width="0.22">PC2 (9.4%)</text>
<text x="58.5" y="723.7" font-size="9.8" font-weight="bold" fill="#000" stroke="#000" stroke-width="0.22">Groups</text>
<rect x="114" y="714" width="11.6" height="11.6" fill="#E3EAF5" stroke="#4578C4" stroke-width="1.2"/>
<circle cx="119.8" cy="719.8" r="2.1" fill="#2A62B0"/>
<text x="131.4" y="723.6" font-size="9" fill="#1a1a1a" stroke="#1a1a1a" stroke-width="0.22">Normal tissue</text>
<rect x="196.6" y="713.8" width="11.6" height="11.6" fill="#FBF3E0" stroke="#E6BE50" stroke-width="1.2"/>
<circle cx="202.4" cy="719.6" r="2.1" fill="#E0A818"/>
<text x="215.4" y="723.3" font-size="9" fill="#1a1a1a" stroke="#1a1a1a" stroke-width="0.22">Tumor</text>
<text x="322.2" y="425.4" font-size="12" font-weight="bold" fill="#000" stroke="#000" stroke-width="0.22">D</text>
<text x="411.8" y="434.4" text-anchor="middle" font-size="10" font-weight="bold" fill="#000" stroke="#000" stroke-width="0.22">Leiden</text>
<polygon points="384.6,484.8 394.2,488.7 403.8,491.5 413.5,496.3 421.2,499.2 424.0,506.0 425.0,515.6 423.1,521.3 413.5,520.4 401.9,518.5 388.5,517.5 378.8,518.5 373.1,522.3 369.2,530.0 368.3,537.7 367.3,526.2 371.2,516.5 376.9,506.9 379.8,499.2 382.7,491.5" fill="#F07F22" fill-opacity="0.26"/>
<path d="M412.1 496.7h0M367.6 528.2h0M413.3 509.6h0M384.8 499.5h0M382.0 508.3h0M396.4 514.1h0M403.6 512.0h0M396.0 497.9h0M407.2 495.4h0M388.1 516.4h0M385.9 492.7h0M414.4 504.9h0M423.8 516.0h0M402.2 518.6h0M406.3 492.8h0M392.7 497.5h0M390.5 489.9h0M406.1 500.7h0M417.7 519.8h0M400.2 492.5h0M399.2 494.4h0M418.3 518.7h0M400.2 504.7h0M391.0 497.5h0M394.3 513.8h0M423.1 519.6h0M392.0 512.5h0M417.7 503.0h0M387.8 512.3h0M413.1 511.9h0M409.2 496.8h0M378.8 504.0h0M422.0 515.1h0M386.9 499.2h0M422.2 508.3h0M423.9 512.1h0M410.2 515.5h0M386.5 505.9h0M402.1 510.1h0M404.0 494.5h0M417.9 512.5h0M381.9 497.9h0M378.1 514.8h0M421.4 513.3h0M414.1 519.6h0M402.5 494.9h0M386.8 501.6h0M373.8 517.9h0M413.3 501.4h0M405.5 518.2h0M404.9 496.2h0M389.2 498.2h0M375.0 519.8h0M415.2 504.7h0M388.7 513.3h0M386.3 509.0h0M400.7 500.7h0M419.6 499.0h0M403.1 494.7h0M406.2 504.4h0M382.7 513.2h0M413.4 518.9h0M412.1 505.7h0M404.3 494.6h0M408.9 508.3h0M389.1 507.0h0M369.2 529.5h0M398.6 505.3h0M420.4 505.3h0M400.5 508.4h0M410.6 494.9h0M385.4 501.3h0M408.8 508.9h0M381.5 505.6h0M416.9 510.4h0M382.6 512.7h0M383.6 512.1h0M403.6 513.2h0M379.3 511.6h0M380.9 509.4h0M384.7 493.7h0M420.4 516.4h0M376.3 512.0h0M407.9 518.9h0M422.1 507.7h0M415.5 502.5h0M405.9 495.9h0M371.1 523.3h0M368.2 535.5h0M394.3 506.4h0M408.9 512.5h0M399.8 514.3h0M401.5 496.6h0M378.7 508.8h0M394.2 517.6h0M404.3 506.3h0M399.5 505.8h0M410.2 504.9h0M396.4 502.7h0M415.0 505.0h0M416.9 515.5h0M406.4 515.7h0M391.6 494.5h0M384.2 500.3h0M387.6 508.5h0M388.7 515.6h0M389.1 498.9h0M418.3 510.9h0M417.3 501.4h0M395.8 495.3h0M415.1 509.9h0M411.6 509.0h0M388.8 513.7h0M378.9 501.5h0M370.6 523.6h0M414.5 508.4h0M370.9 520.9h0M382.2 510.0h0M384.0 501.0h0M408.2 495.1h0M411.6 510.6h0M420.6 519.5h0M410.6 503.0h0M382.1 508.0h0M395.5 492.3h0M393.7 493.4h0M377.9 517.4h0M390.7 506.9h0M405.6 516.6h0M411.9 496.1h0M369.2 528.8h0M406.4 515.0h0M422.3 517.0h0M386.7 511.9h0M407.3 507.1h0M386.7 488.9h0M384.8 508.5h0M420.8 499.5h0M419.1 520.8h0M416.5 506.1h0M367.5 526.4h0M411.4 517.0h0M407.6 505.3h0M408.5 495.6h0M409.5 499.5h0M393.2 500.0h0M384.9 488.9h0M380.0 499.1h0M394.2 496.1h0M383.1 515.1h0M414.2 509.6h0M385.8 487.0h0M389.9 492.9h0M422.3 515.5h0M404.6 501.9h0M399.1 495.3h0M400.9 510.8h0M376.9 517.6h0M390.6 499.1h0M388.8 513.5h0M406.9 514.4h0M378.4 509.6h0M377.2 510.6h0M392.6 492.3h0M413.9 501.2h0M396.6 493.5h0M387.9 515.8h0M382.1 506.2h0M410.9 506.3h0M392.6 516.7h0M408.4 510.0h0M420.3 517.2h0M393.8 514.6h0M414.2 506.5h0M421.9 504.5h0M421.6 506.3h0M394.5 508.5h0M389.6 507.7h0M410.8 514.7h0M380.6 497.2h0M383.3 500.9h0M411.2 504.6h0M400.6 498.2h0M387.4 517.0h0M401.3 493.0h0M381.9 495.4h0M397.4 516.6h0M407.8 502.6h0M386.5 488.5h0M392.4 495.6h0M419.1 518.4h0M386.7 502.4h0M406.3 513.7h0M382.3 515.7h0M404.3 512.2h0M368.2 531.9h0M412.7 508.7h0M390.5 501.3h0M392.8 495.4h0M408.4 511.4h0M385.6 499.6h0M421.5 511.5h0M424.4 515.4h0M396.4 507.8h0M400.5 495.9h0M407.6 495.1h0M389.3 511.4h0M422.7 510.9h0M386.6 516.7h0M413.9 513.5h0M389.2 503.3h0M403.2 512.4h0M378.9 512.3h0M384.1 491.5h0M401.0 507.1h0M392.1 495.7h0M405.6 500.1h0M390.3 509.3h0M408.8 501.2h0M418.9 505.6h0M401.5 501.6h0M413.7 514.5h0M375.2 513.5h0M403.6 507.5h0M417.1 505.4h0M396.8 490.8h0M409.5 498.4h0M391.8 506.7h0M394.3 509.4h0M378.0 504.3h0M384.9 516.7h0M386.3 514.9h0M417.5 519.3h0M410.6 508.6h0M375.8 512.0h0M384.4 513.9h0M424.1 509.1h0M417.7 515.6h0M408.6 495.2h0M382.6 502.0h0M401.4 518.0h0M378.5 503.9h0M414.5 513.9h0M405.1 500.1h0M418.1 516.4h0M389.5 515.6h0M386.8 506.4h0M408.0 509.7h0M414.3 510.5h0M402.5 511.7h0M417.9 500.8h0M395.0 491.4h0M396.1 497.9h0M376.6 510.1h0M420.1 505.9h0M382.4 514.2h0M372.1 522.5h0M388.0 490.0h0M399.6 512.4h0M388.3 502.1h0M418.7 516.4h0M405.2 517.4h0M391.0 513.7h0M409.8 503.2h0M371.6 522.2h0M393.8 512.4h0M407.0 505.6h0M408.6 509.5h0M391.1 504.1h0M395.8 499.7h0M392.7 500.3h0M387.1 517.6h0M419.4 503.8h0M399.3 508.3h0M382.5 511.7h0M406.6 495.4h0M370.8 526.6h0M414.0 520.0h0M372.1 519.8h0M400.5 517.5h0M393.1 496.7h0M409.2 509.4h0M410.3 504.1h0M411.8 498.6h0M407.5 504.9h0M385.9 510.6h0M387.2 516.9h0M393.8 514.6h0M380.0 505.2h0M371.6 519.6h0M418.9 503.6h0M373.4 517.6h0M395.8 491.0h0M385.7 499.4h0M375.4 515.5h0M392.3 500.0h0M404.5 496.5h0M420.8 500.8h0M407.5 508.3h0M413.3 497.2h0M394.1 494.8h0M394.0 497.2h0M404.7 494.7h0M415.2 500.6h0M406.1 512.2h0M386.8 502.1h0M376.3 510.8h0M388.6 507.1h0M379.9 511.7h0M392.7 503.5h0M396.5 495.1h0M385.0 501.0h0M416.5 519.0h0M392.0 495.2h0M387.4 506.3h0M420.6 513.2h0M375.7 514.1h0M421.8 502.7h0M404.9 509.2h0M395.5 513.1h0M385.5 505.5h0M392.7 500.3h0M385.1 499.7h0M420.6 516.3h0M387.4 503.6h0M387.0 494.9h0M416.4 517.8h0M407.0 508.7h0M391.2 501.8h0M413.9 513.0h0M392.6 498.9h0M398.6 496.5h0M385.9 486.1h0M418.5 500.6h0M393.9 498.8h0M395.1 502.5h0M389.4 509.3h0M406.4 499.1h0M415.4 499.4h0M403.6 514.4h0M411.2 511.9h0M389.2 502.3h0M393.2 500.0h0M389.5 502.4h0M396.0 495.3h0M413.2 511.9h0M414.1 520.2h0M407.6 498.3h0M382.8 509.2h0M377.2 513.3h0M400.6 499.2h0M392.3 512.2h0M397.2 497.9h0M382.6 504.0h0M412.4 507.9h0M398.3 503.7h0M391.4 504.6h0M380.5 512.0h0M407.9 505.2h0M415.7 498.3h0M372.7 515.8h0M396.1 510.2h0M412.4 509.3h0M396.0 510.6h0M393.5 506.3h0M382.6 497.9h0M379.2 512.6h0M385.3 497.5h0M388.8 511.4h0M416.5 507.5h0M393.4 506.8h0M405.5 516.0h0M390.9 516.3h0M386.1 495.6h0M407.0 504.4h0M420.9 517.6h0M421.7 503.2h0M405.7 497.1h0M400.0 501.1h0M420.3 502.9h0M379.9 509.0h0M401.5 514.2h0M407.3 501.0h0M389.5 497.5h0M384.1 494.1h0M395.6 499.7h0M387.0 515.4h0M383.4 512.4h0M386.5 509.3h0M415.5 503.7h0M404.2 502.3h0M398.0 516.9h0M398.3 490.7h0M398.0 491.4h0M414.6 507.7h0M419.8 499.1h0M387.8 506.5h0M380.7 502.3h0M391.9 514.9h0M383.7 503.9h0M410.8 509.7h0M401.7 507.2h0M382.7 512.3h0M422.8 511.2h0M414.4 518.2h0M420.2 518.7h0M402.1 505.3h0M400.3 514.1h0M371.1 525.5h0M384.4 509.5h0M384.1 510.6h0M416.4 499.1h0M414.8 497.7h0M384.8 514.1h0M418.0 498.0h0M410.3 518.4h0M419.1 510.1h0M384.9 515.8h0M396.0 492.5h0M417.5 511.3h0M388.5 508.4h0M377.5 511.0h0M389.3 488.2h0M418.4 518.3h0M419.1 508.3h0M413.4 499.8h0M401.9 511.6h0M412.7 501.3h0M411.9 505.1h0M380.7 510.9h0M399.8 512.4h0M407.3 517.9h0M386.7 489.7h0M401.6 513.8h0M414.5 517.9h0M406.2 493.1h0M402.2 503.7h0M395.0 498.7h0M385.4 511.8h0M369.6 529.1h0M424.4 514.4h0M388.1 497.2h0M412.7 520.1h0M379.4 507.4h0M373.9 519.0h0M411.5 511.3h0M402.3 495.3h0M382.9 508.5h0M388.7 505.4h0M379.3 512.4h0M404.9 500.1h0M368.6 529.5h0M374.6 512.6h0M407.1 502.5h0M404.0 511.4h0M415.5 515.4h0M400.5 512.9h0M409.7 502.3h0M396.0 509.7h0M405.5 496.2h0M392.9 490.2h0M388.9 492.7h0M403.5 510.5h0M387.2 498.5h0M407.5 501.6h0M400.5 498.5h0M410.8 504.6h0M419.0 519.7h0M415.3 513.6h0M410.7 510.5h0M388.2 489.9h0M372.4 518.1h0M398.3 511.6h0M411.9 499.4h0M400.4 499.6h0M393.3 493.8h0M417.9 505.5h0M424.2 511.9h0M380.3 513.6h0M407.5 510.3h0M387.6 497.9h0M384.4 487.4h0M412.8 506.2h0M401.6 496.5h0M409.7 510.8h0M373.4 512.9h0M389.4 494.9h0M411.9 517.2h0M410.5 502.8h0M395.8 490.1h0M412.3 514.4h0M406.7 502.6h0M416.7 504.9h0M421.7 500.5h0M409.7 500.2h0M380.1 511.2h0M386.3 497.3h0M421.3 511.6h0M414.7 498.7h0M420.4 517.9h0M391.2 492.0h0M411.2 513.0h0M415.0 512.9h0M376.0 517.4h0M408.6 502.9h0M415.5 517.4h0M416.2 519.7h0M389.7 498.1h0M411.2 496.6h0M411.3 508.5h0M371.3 522.2h0M384.3 491.7h0M378.5 503.5h0M389.8 509.4h0M394.0 499.5h0M368.4 525.3h0M394.5 495.4h0M391.0 498.7h0M416.4 505.5h0M383.8 497.5h0M389.3 508.5h0M400.0 496.5h0M382.7 498.9h0M382.3 512.1h0M377.4 508.3h0M404.3 492.1h0M390.9 514.6h0M415.4 513.9h0M406.4 493.3h0M416.4 506.2h0M413.9 504.9h0M397.8 494.0h0M420.2 510.1h0M412.4 502.7h0M396.9 495.1h0M402.3 505.8h0M413.8 520.0h0M408.9 498.1h0M421.3 518.8h0M402.3 507.0h0M387.8 510.7h0M380.1 507.4h0M390.0 499.8h0M402.7 498.4h0M416.9 516.9h0M414.4 516.2h0M413.7 507.2h0M421.7 518.0h0M403.6 507.5h0M408.0 497.7h0M398.5 498.6h0M397.3 515.8h0M393.3 492.3h0M403.2 498.8h0M391.6 496.4h0M417.0 517.6h0M403.7 501.4h0M424.8 514.4h0M377.6 517.0h0M383.9 511.9h0M393.8 514.6h0M395.7 490.4h0M389.2 507.2h0M390.5 495.0h0M406.1 501.9h0M422.1 509.4h0M391.0 511.7h0M423.2 505.8h0M381.6 497.2h0M397.2 509.5h0M395.0 517.3h0M395.7 496.6h0M385.9 508.0h0M393.1 513.8h0M368.9 523.6h0M386.5 504.4h0M386.2 489.3h0M385.4 491.1h0M401.9 492.8h0M390.7 498.9h0M368.3 535.9h0M393.8 491.9h0M414.4 498.2h0M378.3 512.6h0M387.0 515.8h0M374.4 512.2h0M405.6 514.0h0M378.4 512.9h0M382.3 507.6h0M415.4 519.7h0M393.0 499.3h0M413.7 519.6h0M394.7 516.8h0M370.6 526.5h0M388.8 509.6h0M419.9 506.6h0M415.4 507.1h0M386.8 499.5h0M379.6 507.6h0M406.5 500.9h0M417.2 514.8h0M405.1 518.1h0M385.7 502.5h0M404.3 514.5h0M417.7 505.7h0M403.2 506.5h0M376.0 515.9h0M397.0 505.8h0M390.8 499.0h0M382.9 497.4h0M373.3 514.1h0M413.7 505.8h0M373.7 512.9h0M375.7 512.2h0M392.8 504.9h0M399.7 517.7h0M412.4 500.4h0M379.0 506.0h0M385.7 504.9h0M413.6 514.4h0M402.5 495.3h0M381.6 517.8h0M395.8 499.0h0M399.6 518.3h0M415.6 513.7h0M406.6 506.2h0M406.0 507.8h0M408.3 505.8h0M379.1 511.3h0M419.3 520.5h0M401.3 515.6h0M402.0 509.4h0M388.1 497.4h0M411.7 514.0h0M404.9 514.2h0M397.3 500.5h0M390.5 513.2h0M409.9 513.0h0M378.9 504.6h0M408.5 511.1h0M374.3 512.8h0M405.0 501.8h0M386.2 515.7h0M388.6 490.7h0M408.0 510.7h0M385.0 485.3h0M398.0 518.0h0M420.5 506.1h0M401.7 515.6h0M371.4 516.4h0M381.2 505.3h0M422.3 507.4h0M389.8 512.0h0M392.9 509.7h0M383.2 493.6h0M392.4 489.5h0M393.1 511.0h0M383.0 516.3h0M422.0 516.9h0M390.4 496.9h0M399.2 503.0h0M413.3 498.2h0M385.5 490.5h0M395.6 508.0h0M419.4 514.4h0M395.3 496.6h0M385.2 485.9h0M408.0 507.8h0M409.6 509.2h0M398.6 501.0h0M382.6 499.4h0M418.0 503.9h0M373.2 518.1h0M387.4 517.1h0M413.4 511.5h0M396.7 493.8h0M404.4 508.0h0M402.5 517.6h0M381.4 498.4h0M386.3 504.2h0M383.2 502.3h0M418.2 501.8h0M396.3 518.0h0M388.8 492.1h0M413.1 519.1h0M389.1 506.1h0M413.7 510.7h0M417.0 519.3h0M406.9 499.0h0M381.2 496.8h0M413.7 507.9h0M400.0 507.0h0M409.0 496.0h0M399.3 514.5h0M388.0 494.2h0M422.8 509.0h0M396.7 515.8h0M410.9 500.3h0M421.8 518.0h0M416.0 510.0h0M404.2 507.3h0M392.7 502.0h0M377.6 509.9h0M416.9 505.1h0M411.9 515.5h0M384.7 507.2h0M394.9 509.6h0M387.3 500.0h0M405.0 495.3h0M367.6 525.6h0M409.6 505.3h0M381.6 513.4h0M401.4 501.0h0M413.9 516.9h0M385.8 508.5h0M423.7 507.3h0M390.0 494.5h0M418.3 514.0h0M391.6 489.9h0M385.2 493.7h0M388.2 493.6h0M410.1 502.5h0M421.9 514.8h0M404.5 501.9h0M403.4 504.1h0M420.2 516.5h0M417.6 508.0h0M407.1 494.4h0M373.0 522.6h0M397.1 518.1h0M409.4 514.9h0M424.4 511.3h0M423.1 518.1h0M418.5 504.6h0M397.1 511.9h0M397.5 511.5h0M416.5 499.1h0M414.0 498.6h0M404.5 513.1h0M411.7 505.1h0M391.5 510.6h0M407.3 517.8h0M390.1 498.7h0M407.0 504.7h0M399.4 517.1h0M399.4 516.1h0M384.2 500.8h0M375.9 516.7h0M398.2 513.4h0M373.5 512.9h0M383.0 495.3h0M387.1 517.5h0M405.3 497.4h0M386.3 496.0h0M417.0 500.7h0M382.5 511.8h0M401.5 499.2h0M368.1 534.5h0M390.5 513.0h0M386.0 498.0h0M412.6 499.6h0M386.5 510.8h0M391.6 498.5h0M415.8 503.5h0M391.6 509.6h0M382.7 493.8h0M412.8 501.3h0M418.1 515.9h0M402.2 493.1h0M389.8 495.2h0M372.4 519.0h0M385.2 500.7h0M398.6 516.8h0M389.8 500.8h0M378.7 509.3h0M423.1 517.6h0M403.3 502.1h0M389.6 499.1h0M423.8 514.1h0M383.6 492.1h0M400.2 505.1h0M395.4 494.2h0M373.9 518.5h0M402.7 498.9h0M384.7 507.0h0M400.7 500.6h0M387.3 512.7h0M403.0 502.9h0M393.7 499.8h0M391.0 505.2h0M384.1 516.6h0M396.9 506.6h0M404.7 502.8h0M413.8 507.1h0M387.2 499.9h0M397.2 516.0h0M422.2 503.2h0M422.0 502.6h0M392.8 491.5h0M384.4 495.2h0M385.4 508.9h0M385.3 502.5h0M388.2 502.3h0M394.8 504.2h0M407.6 499.4h0M408.4 506.8h0M394.9 494.8h0M400.6 507.1h0M382.5 498.1h0M395.8 516.8h0M381.0 517.0h0M391.0 501.5h0M414.6 503.1h0M378.6 515.2h0M391.8 489.2h0M379.0 515.4h0M411.1 511.0h0M388.0 496.1h0M384.2 503.6h0M388.1 494.3h0M394.6 490.7h0M417.4 513.9h0M395.0 494.5h0M394.4 511.5h0M385.2 507.4h0M395.0 502.9h0M415.0 497.8h0M380.0 503.0h0M399.9 503.9h0M408.3 505.4h0M375.7 516.9h0M379.4 504.3h0M374.2 519.7h0M398.7 508.0h0M414.9 511.1h0M416.5 515.7h0M372.7 519.7h0M407.9 499.4h0M401.5 502.3h0M382.2 498.5h0M397.9 509.5h0M403.3 512.0h0M385.4 512.1h0M424.3 514.9h0M375.2 514.5h0M417.5 498.2h0M399.3 503.5h0M387.1 506.1h0M382.6 503.7h0M368.1 531.6h0M418.9 511.3h0M385.3 501.6h0M379.1 518.4h0M389.6 503.4h0M371.9 516.3h0M410.5 519.0h0M397.9 496.1h0M411.5 515.1h0M388.7 494.7h0M383.6 497.9h0M381.7 511.8h0M376.5 514.9h0M406.2 492.9h0M398.0 495.4h0M388.3 501.9h0M414.3 497.2h0M398.5 515.8h0M386.5 502.1h0M407.3 510.6h0M380.8 497.5h0M417.1 503.9h0M411.7 498.8h0M417.9 514.0h0M386.2 492.1h0M411.8 514.3h0M401.7 508.2h0M375.4 509.7h0M420.2 515.7h0M393.8 517.0h0M399.1 517.8h0M368.0 528.8h0M401.1 511.2h0M396.0 500.2h0M380.9 500.5h0M393.2 511.7h0M414.6 508.5h0M370.1 521.8h0M379.5 500.4h0M402.0 498.9h0M391.8 488.4h0M409.6 506.9h0M396.2 497.9h0M393.7 511.9h0M384.3 493.3h0M377.4 512.7h0M398.3 511.3h0M392.7 506.2h0M398.3 517.8h0M405.7 499.0h0M402.6 505.1h0M394.1 498.5h0M385.8 515.1h0M395.0 504.4h0M401.3 499.7h0M386.3 514.9h0M382.2 495.5h0M381.1 496.7h0M406.1 498.1h0M380.1 514.3h0M377.5 510.3h0M417.3 500.8h0M397.7 508.0h0M415.9 502.8h0M406.9 506.6h0M395.2 513.8h0M388.2 509.9h0M401.3 492.3h0M409.6 496.7h0M392.7 500.6h0M389.7 504.0h0M396.0 497.6h0M392.7 488.3h0M388.1 506.4h0M421.8 510.7h0M394.6 507.9h0M416.0 510.6h0M395.8 499.4h0M398.0 511.3h0M384.5 497.1h0M380.9 499.2h0M414.0 501.1h0M390.8 491.6h0M418.8 504.5h0M407.5 496.8h0M377.2 512.7h0M394.3 494.5h0M375.6 510.7h0M386.7 510.5h0M406.7 511.4h0M383.5 506.2h0M413.2 506.1h0M415.9 505.8h0M383.7 491.3h0M410.0 509.6h0M405.1 497.4h0M392.2 515.3h0M382.2 507.1h0M388.4 489.3h0M411.6 498.2h0M386.0 491.6h0M392.1 503.6h0M405.1 501.9h0M384.2 499.4h0M423.5 505.1h0M369.9 527.6h0M399.7 513.0h0M401.8 491.7h0M398.9 498.0h0M377.6 508.4h0M390.9 499.0h0M381.0 502.6h0M399.6 509.4h0M385.2 500.0h0M372.3 519.0h0M378.7 507.2h0M420.9 503.2h0M401.0 515.0h0M389.2 513.6h0M390.2 489.1h0M383.5 492.0h0M384.9 502.0h0M384.0 495.1h0M402.4 517.0h0M378.2 513.3h0M403.7 514.9h0M403.4 506.9h0M392.1 499.8h0M387.7 489.1h0M409.8 502.6h0M383.9 512.9h0M408.5 494.1h0M385.4 502.6h0M421.0 508.9h0M373.2 521.4h0M387.6 515.9h0M407.6 504.7h0M420.9 503.3h0M411.3 504.3h0M416.4 513.8h0M390.3 504.8h0M404.2 506.2h0M408.1 512.9h0M403.9 502.4h0M417.7 505.5h0M410.2 497.8h0M417.0 504.2h0M395.1 513.1h0M387.2 510.4h0M422.0 504.0h0M372.5 516.7h0M416.7 500.3h0M383.2 503.6h0M403.6 515.6h0M384.9 491.2h0M383.1 495.8h0M387.5 489.7h0M379.2 508.0h0M390.7 491.5h0M390.8 515.0h0M409.8 519.7h0M384.4 486.6h0M397.4 517.3h0M394.1 493.7h0M378.5 505.0h0M421.8 503.8h0M408.2 504.5h0M390.7 492.2h0M392.1 499.9h0M382.6 507.8h0M400.0 493.6h0M392.0 499.8h0M386.4 488.8h0M389.8 516.9h0M392.0 512.6h0M397.4 517.9h0M387.9 497.5h0M390.5 501.8h0M387.5 486.2h0M375.5 513.8h0M381.4 495.3h0M415.3 501.0h0M399.9 501.3h0M384.6 488.5h0M390.1 494.2h0M421.2 508.5h0M401.5 497.1h0M410.5 506.9h0M408.1 496.6h0M404.5 516.7h0M382.0 502.2h0M380.9 508.1h0M408.0 503.1h0M391.1 499.4h0M400.6 504.5h0M416.3 517.1h0M415.6 506.9h0M384.8 508.5h0M403.8 514.1h0M409.0 516.6h0M399.8 511.0h0M420.9 500.5h0M387.0 504.4h0M384.6 485.9h0M406.1 504.8h0M409.0 508.2h0M387.0 493.2h0M393.6 501.4h0M413.7 497.6h0M405.7 501.8h0M405.5 496.8h0M421.5 502.8h0M390.8 512.3h0M412.2 513.5h0M400.3 501.1h0M383.9 502.5h0M378.6 513.6h0M392.5 493.2h0M411.6 500.3h0M389.8 515.7h0M391.5 488.0h0M394.8 506.5h0M402.6 505.9h0M412.5 518.4h0M380.3 510.7h0M408.2 517.7h0M389.2 507.0h0M401.9 500.9h0M405.6 502.2h0M399.8 510.1h0M404.5 514.8h0M390.4 489.3h0M423.6 509.2h0M403.5 491.5h0M382.0 495.7h0M386.5 500.3h0M391.8 510.5h0M374.9 519.8h0M401.7 492.0h0M416.4 512.6h0M395.3 489.1h0M419.6 512.0h0M406.5 504.7h0M398.3 517.8h0M384.7 499.9h0M411.8 514.4h0M421.3 518.7h0M386.7 511.9h0M387.7 489.3h0M402.1 508.7h0M418.0 506.4h0M386.4 493.7h0M376.8 516.4h0M412.9 518.4h0M413.6 504.8h0M410.5 512.5h0M370.6 520.3h0M387.2 487.0h0M386.3 488.2h0M415.4 502.7h0M421.0 503.5h0M413.2 507.3h0M382.2 502.6h0M408.0 497.7h0M397.8 497.4h0M379.3 507.0h0M419.1 517.7h0M380.1 517.5h0M388.9 488.0h0M377.0 515.6h0M416.0 500.5h0M370.8 524.7h0M403.8 516.2h0M408.9 499.5h0M387.9 488.3h0M385.7 488.5h0M416.2 497.8h0M422.7 510.7h0M415.4 516.5h0M408.3 516.5h0M405.4 517.4h0M415.9 497.3h0M403.6 493.8h0M401.3 502.6h0M413.7 519.0h0M408.4 502.0h0M405.8 500.1h0M382.8 494.2h0M390.7 503.8h0M411.2 510.9h0M422.8 520.4h0M417.7 502.8h0M388.3 497.9h0M392.8 506.0h0M403.8 512.0h0M416.1 503.1h0M415.4 511.7h0M415.8 504.3h0M394.3 502.4h0M381.8 500.7h0M391.5 511.0h0M405.9 498.4h0M400.7 508.0h0M380.9 502.4h0M380.5 513.3h0M379.6 513.5h0M414.8 497.5h0M381.3 512.1h0M385.5 495.7h0M375.6 518.2h0M413.1 517.2h0M387.4 512.5h0M399.4 499.2h0M413.0 505.4h0M376.8 519.2h0M370.8 520.1h0M417.3 501.0h0M423.2 509.7h0M376.3 516.2h0M399.4 496.0h0M396.2 500.2h0M385.4 501.6h0M400.4 504.2h0M404.8 515.5h0M386.3 510.5h0M371.9 523.2h0M386.0 502.8h0M405.5 516.8h0M394.3 494.7h0M400.2 517.2h0M404.7 499.5h0M383.9 493.9h0M409.5 501.4h0M399.9 501.5h0M424.1 516.1h0M384.0 508.9h0M383.9 510.7h0M385.0 501.8h0M391.0 491.0h0M380.5 506.3h0M401.0 513.2h0M410.3 498.8h0M381.1 517.9h0M387.4 496.0h0M404.4 493.0h0M401.2 494.9h0M384.2 490.1h0M402.9 495.6h0M381.6 497.5h0M390.6 501.1h0M414.6 504.4h0M388.9 511.4h0M399.8 503.5h0M381.5 498.3h0M389.3 510.2h0M391.2 490.7h0M391.9 506.6h0M393.0 492.6h0M405.3 504.8h0M407.6 513.1h0M388.4 506.1h0M412.1 510.7h0M416.7 520.2h0M395.6 503.4h0M415.2 509.5h0M393.3 506.1h0M393.8 496.5h0M407.3 509.8h0M406.9 493.3h0M409.8 510.0h0M421.1 519.7h0M390.9 493.3h0M401.4 518.2h0M398.1 494.7h0M420.4 513.2h0M409.3 495.5h0M412.1 495.9h0M392.3 500.3h0M418.7 499.8h0M418.8 517.2h0M411.0 511.3h0M382.5 493.8h0M389.4 512.0h0M397.1 494.0h0M401.1 494.2h0M406.8 518.0h0M400.1 509.7h0M374.9 515.0h0M423.2 508.9h0M385.3 493.3h0M386.6 508.3h0M422.9 511.8h0M394.6 501.5h0M411.6 509.1h0M381.6 511.2h0M373.6 521.4h0M408.2 497.7h0M389.7 503.2h0M421.9 513.6h0M398.4 517.1h0M412.8 519.3h0M418.7 501.2h0M394.7 497.2h0M392.6 506.5h0M394.3 501.2h0M371.1 518.7h0M372.5 517.7h0M387.9 516.4h0M408.1 507.6h0M389.8 510.4h0M406.0 505.3h0M374.2 511.5h0M394.4 506.3h0M379.9 502.6h0M382.1 505.3h0M390.3 502.8h0M367.9 530.6h0M422.5 517.4h0M383.0 508.6h0M419.9 516.5h0M411.8 516.5h0M409.5 514.2h0M411.2 514.8h0M402.4 499.7h0M396.6 511.9h0M402.4 492.2h0M408.1 495.8h0M386.6 492.5h0M405.0 507.0h0M383.0 496.7h0M422.1 510.3h0M417.0 515.9h0M377.7 508.3h0M392.9 497.8h0M397.6 495.2h0M404.3 498.2h0M400.2 515.0h0M420.7 511.4h0M382.5 497.6h0M405.2 518.2h0M415.6 519.3h0M384.5 510.5h0M402.5 497.7h0M368.3 525.1h0M408.8 512.9h0M405.3 496.7h0M398.1 518.1h0M400.1 498.4h0M374.6 519.4h0M387.5 509.8h0M405.5 500.4h0M389.7 514.7h0M384.8 492.5h0M387.7 500.7h0M406.4 499.9h0M384.9 510.6h0M397.0 497.8h0M396.7 512.2h0M390.1 506.1h0M392.7 497.0h0M391.5 509.5h0M399.2 501.3h0M370.4 521.2h0M414.3 515.1h0M387.1 492.2h0M403.8 514.2h0M405.5 495.7h0M416.5 519.0h0M380.0 504.8h0M379.2 513.4h0M422.4 519.4h0M407.5 516.3h0M386.1 516.9h0M387.2 517.2h0M395.3 495.1h0M402.8 515.9h0M420.4 512.6h0M377.7 518.9h0M422.2 503.8h0M379.2 517.7h0M376.6 509.7h0M383.0 491.7h0M408.6 499.6h0M390.4 499.4h0M389.2 500.9h0M387.3 489.7h0M399.5 511.6h0M392.5 498.2h0M404.2 515.6h0M367.6 529.1h0M410.8 515.5h0M401.4 509.3h0M390.8 517.5h0M402.3 505.7h0M380.3 505.7h0M411.8 512.1h0M400.2 516.2h0M388.4 503.0h0M381.6 495.8h0M407.4 518.4h0M381.1 511.0h0M387.9 517.4h0M422.2 510.5h0M404.2 499.2h0M420.0 514.8h0M402.8 516.5h0M372.5 519.2h0M416.6 519.7h0M414.2 502.4h0M407.0 516.4h0M411.6 514.6h0M423.4 511.9h0M392.2 496.3h0M408.7 497.9h0M380.8 508.0h0M413.7 514.7h0M388.5 494.4h0M390.9 514.6h0M421.0 504.7h0M405.6 512.5h0M402.7 509.1h0M402.5 509.2h0M388.2 511.6h0M383.3 502.4h0M423.6 516.9h0M408.2 495.5h0M394.5 514.3h0M394.2 495.1h0M406.7 498.9h0M397.3 514.3h0M383.4 505.3h0M408.9 503.3h0M399.8 503.5h0M414.1 506.2h0M421.1 514.5h0M379.7 513.5h0M416.4 520.7h0M399.5 496.5h0M418.9 512.8h0M378.8 516.1h0M405.9 511.6h0M392.6 495.8h0M383.8 489.8h0M399.1 514.8h0M416.4 498.8h0M400.0 502.7h0M420.3 518.4h0M397.4 503.5h0M391.9 500.0h0M401.5 495.5h0M398.5 504.5h0M417.8 499.3h0M371.0 522.6h0M418.3 508.0h0M389.5 495.9h0M424.1 508.9h0M395.8 516.4h0M390.7 508.0h0M422.6 506.3h0M382.7 515.8h0M405.6 494.9h0M378.9 510.6h0M415.6 507.3h0M382.4 515.9h0M398.1 500.4h0M412.4 507.6h0M404.8 492.6h0M374.8 511.1h0M408.6 514.2h0M383.8 510.6h0M392.1 504.8h0M394.5 498.4h0M392.9 514.0h0M413.1 511.3h0M374.0 516.2h0M416.8 505.5h0M400.9 509.3h0M413.5 514.5h0M405.4 495.1h0M380.2 507.9h0M406.5 497.9h0M397.2 513.6h0M408.8 508.5h0M410.9 515.5h0M400.4 505.1h0M423.2 505.3h0M381.2 514.3h0M400.7 505.5h0M410.4 514.4h0M404.9 496.4h0M391.7 493.7h0M409.4 514.0h0M386.3 495.7h0M407.3 516.7h0M391.2 491.3h0M406.6 500.8h0M422.4 516.1h0M404.4 513.1h0M387.5 500.0h0M387.8 503.4h0M410.7 509.2h0M416.2 511.4h0M403.9 504.6h0M385.2 512.9h0M390.3 487.2h0M404.1 492.9h0M377.8 511.8h0M394.9 496.3h0M399.8 514.6h0M384.6 493.9h0M380.2 501.6h0M386.2 510.4h0M379.8 514.9h0M384.7 499.5h0M389.4 496.4h0M407.2 516.0h0M387.3 517.4h0M415.8 512.0h0M389.7 517.4h0M396.4 490.0h0M410.1 507.7h0M412.5 512.5h0M414.7 509.7h0M415.0 511.4h0M421.7 503.3h0M406.1 500.1h0M382.2 514.3h0M378.2 509.4h0M414.2 518.5h0M386.7 515.4h0M385.6 488.0h0M377.7 518.8h0M420.8 506.2h0M400.0 496.0h0M399.3 501.7h0M411.9 505.4h0M386.7 513.8h0M413.9 507.2h0M403.6 514.5h0M413.1 502.2h0M384.7 516.4h0M380.3 504.3h0M384.9 501.8h0M410.4 505.6h0M368.3 528.0h0M397.9 502.2h0M411.3 499.9h0M396.8 509.6h0M383.2 517.3h0M398.4 515.5h0M421.9 515.7h0M380.0 507.5h0M410.5 505.8h0M374.3 511.7h0M385.8 494.3h0M409.9 517.2h0M403.1 498.7h0M395.9 508.4h0M401.0 515.0h0M420.3 517.8h0M400.6 498.6h0M385.4 515.4h0M408.9 500.8h0" stroke="#F07F22" stroke-opacity="0.90" stroke-width="0.75" stroke-linecap="square" fill="none"/>
<polygon points="425.0,486.0 432.0,485.0 441.5,490.0 443.0,496.0 438.0,504.0 432.0,510.0 435.0,513.0 424.0,514.0 423.0,508.0 428.0,500.0 430.0,494.0" fill="#F07F22" fill-opacity="0.12"/>
<path d="M432.5 508.4h0M430.8 494.8h0M429.7 507.8h0M431.9 504.3h0M431.4 501.5h0M426.8 487.9h0M431.1 492.8h0M426.0 513.0h0M436.9 496.3h0M430.0 510.6h0M437.2 503.2h0M428.1 485.9h0M429.3 489.6h0M439.7 500.5h0M436.1 501.2h0M439.8 497.8h0M431.9 508.5h0M438.4 497.9h0M437.1 491.5h0M438.1 492.7h0M436.2 495.2h0M439.5 499.1h0M429.8 498.3h0M439.3 501.6h0M430.2 489.9h0M434.8 486.9h0M426.3 509.6h0M436.4 500.2h0M429.2 499.7h0M425.9 505.4h0M436.8 495.4h0M433.7 512.1h0M432.4 498.2h0M435.3 493.9h0M435.1 504.7h0M425.8 507.5h0M429.1 499.9h0M424.3 507.4h0M436.8 492.7h0M437.0 496.0h0M429.5 510.6h0M438.5 490.8h0M428.5 506.4h0M434.4 489.0h0M429.3 490.3h0M424.7 506.4h0M437.9 503.3h0M432.8 498.4h0M434.9 488.1h0M436.6 491.8h0M427.3 513.4h0M438.7 498.3h0M431.8 504.8h0M439.9 498.9h0M434.1 501.3h0M436.6 498.0h0M427.7 486.4h0M435.2 490.3h0M434.6 497.5h0M431.1 510.8h0M431.3 489.4h0M430.9 510.1h0M427.0 504.7h0M428.4 500.1h0M434.0 487.1h0M439.2 496.0h0M432.4 492.9h0M432.1 485.2h0M428.7 513.5h0M440.5 498.5h0M429.2 504.7h0M432.8 493.0h0M433.5 503.5h0M429.2 508.9h0M436.2 491.7h0M437.1 490.1h0M434.5 499.2h0M433.2 501.6h0M431.7 511.5h0M432.4 493.0h0M429.5 511.1h0M431.8 490.8h0M439.7 499.8h0M431.5 511.2h0M426.6 511.4h0M431.4 504.9h0M438.0 490.6h0M436.3 496.0h0M437.0 491.8h0M424.9 509.8h0M440.8 495.0h0M430.7 496.7h0M428.5 512.2h0M433.6 505.6h0M435.1 487.6h0M432.9 503.2h0M437.8 496.1h0M429.9 505.2h0M429.9 507.2h0M437.6 488.5h0M429.4 513.3h0M441.5 492.7h0M438.9 495.8h0M428.9 507.1h0M436.1 496.4h0M427.7 510.5h0M440.5 489.7h0M429.8 499.8h0M428.4 504.9h0M425.6 513.6h0M433.6 491.4h0M431.4 502.6h0M433.6 507.7h0M433.8 496.1h0M433.3 500.1h0M434.5 505.7h0M431.6 506.6h0M433.1 495.7h0M427.8 508.1h0M427.4 505.5h0M433.1 511.8h0M436.8 500.5h0M427.8 488.5h0M431.0 501.3h0M432.6 485.5h0M426.0 504.7h0M433.9 506.5h0M431.3 492.5h0M439.0 491.3h0M432.0 491.1h0M425.4 504.2h0M431.3 492.9h0M436.1 489.1h0M435.9 488.4h0M433.9 489.6h0M430.4 507.5h0M425.6 504.3h0M429.4 511.6h0M430.0 494.4h0M428.4 500.7h0M437.8 500.1h0M434.9 502.3h0M429.6 485.9h0M433.2 511.4h0M437.0 500.0h0M437.3 497.9h0M437.1 504.0h0M434.9 502.8h0M434.7 502.4h0M430.7 497.5h0M426.7 502.2h0M428.6 500.7h0M429.1 500.6h0M432.8 491.3h0M428.2 487.3h0M439.5 492.1h0M430.1 486.8h0M438.5 500.3h0M432.1 487.3h0M431.4 485.5h0M426.6 505.6h0M428.7 513.2h0M439.4 496.7h0M438.9 495.5h0M426.8 511.0h0M423.7 508.0h0M430.6 496.4h0M428.8 503.8h0M434.1 494.1h0M434.2 489.7h0M433.2 512.4h0M435.1 494.0h0M439.1 496.4h0M431.5 493.2h0M429.9 487.6h0M431.0 507.0h0M433.5 488.8h0M432.1 495.4h0M430.5 488.3h0M429.3 502.0h0M426.4 511.6h0M433.0 505.3h0M437.3 496.2h0M439.5 498.4h0M435.6 499.8h0M430.2 511.2h0M429.1 512.8h0M438.6 490.8h0M426.6 511.9h0M431.0 499.0h0M434.6 489.1h0M432.5 511.0h0M430.2 498.8h0M430.1 488.6h0M439.6 493.1h0M433.6 500.2h0M431.3 513.0h0M430.6 498.8h0M426.7 512.4h0M439.5 494.6h0M427.2 488.5h0M432.3 486.9h0M436.7 489.1h0M427.1 505.9h0M429.3 510.7h0M429.0 505.9h0M423.9 509.9h0M439.2 498.6h0M431.2 505.4h0M432.3 494.0h0M430.6 506.9h0M439.9 495.5h0M430.4 509.3h0M426.6 505.4h0M433.5 504.3h0M436.9 504.4h0M427.7 485.7h0M433.1 504.2h0M434.8 505.3h0M427.4 487.7h0M426.6 508.9h0M439.2 490.3h0M439.1 496.1h0M429.7 489.7h0M434.8 502.8h0M433.2 487.9h0M438.9 494.2h0M428.3 503.6h0M426.7 511.4h0M429.8 497.4h0M431.3 507.8h0M423.7 511.5h0M436.5 490.9h0M427.8 489.0h0M436.0 499.9h0M435.1 502.9h0M429.3 506.7h0M432.5 485.3h0M441.3 493.0h0M435.9 494.5h0M432.9 493.1h0M429.7 498.4h0M431.5 493.4h0M426.8 501.9h0M426.4 505.5h0M428.6 487.9h0M439.4 497.7h0M439.1 494.3h0M429.9 501.2h0M424.4 513.3h0M425.7 511.5h0M427.2 510.9h0M433.7 497.0h0M431.4 506.0h0M437.0 499.3h0M432.6 501.0h0M429.9 506.6h0M431.4 499.6h0M426.6 513.3h0M424.6 505.8h0M436.2 495.0h0M435.8 502.1h0M431.0 505.0h0M433.5 495.1h0M431.9 494.8h0M430.6 503.9h0M429.7 509.7h0M430.2 497.6h0M431.7 511.2h0M426.9 511.0h0M423.9 509.8h0M435.7 504.9h0M430.8 496.3h0M435.5 494.9h0M432.1 511.4h0M434.6 506.5h0M425.1 505.1h0M437.2 502.6h0M437.5 495.3h0M436.5 494.0h0M439.3 498.8h0M430.1 495.7h0M435.5 505.4h0M429.6 512.1h0M428.9 490.6h0M434.0 512.4h0M433.6 490.1h0M427.5 511.2h0M424.9 508.4h0M427.1 503.6h0M435.5 505.1h0M432.3 507.0h0M428.0 510.1h0M423.3 508.1h0M433.0 508.7h0M437.2 503.5h0M437.1 504.4h0M430.8 500.3h0M434.5 505.0h0M430.9 487.4h0" stroke="#F07F22" stroke-opacity="0.90" stroke-width="0.75" stroke-linecap="square" fill="none"/>
<polygon points="391.3,442.2 397.7,446.2 402.3,448.5 406.9,452.0 408.1,456.6 406.3,458.9 404.0,457.8 402.3,453.2 398.8,448.5 391.9,443.3" fill="#3A7BC2" fill-opacity="0.28"/>
<path d="M404.6 454.8h0M405.4 455.2h0M405.3 455.9h0M399.1 448.7h0M401.9 449.0h0M402.3 449.2h0M406.1 452.5h0M404.9 455.7h0M407.2 453.7h0M402.4 450.7h0M405.5 457.3h0M406.6 452.4h0M401.5 449.2h0M403.8 451.9h0M399.9 449.7h0M406.6 456.9h0M407.7 455.3h0M405.6 453.9h0M406.5 458.4h0M402.5 453.2h0M395.9 445.1h0M406.8 457.0h0M404.5 457.7h0M405.7 457.9h0M404.3 457.6h0M395.6 445.4h0M400.4 449.5h0M405.5 454.5h0M405.1 457.2h0M407.5 454.5h0M402.5 453.8h0M401.8 451.9h0M398.0 447.0h0M404.3 451.7h0M398.7 448.3h0M406.4 454.8h0M404.2 457.1h0M401.2 451.4h0M401.7 450.2h0M396.8 445.9h0M407.4 455.2h0M403.4 455.9h0M401.3 448.9h0M399.9 447.9h0M401.0 449.6h0M406.3 453.4h0M403.2 455.4h0M398.0 446.7h0M400.1 447.8h0M400.9 448.6h0M404.3 451.5h0M395.3 445.7h0M402.5 449.0h0M406.9 457.5h0M400.3 449.6h0" stroke="#3A7BC2" stroke-opacity="0.90" stroke-width="0.75" stroke-linecap="square" fill="none"/>
<polygon points="404.6,447.4 413.8,446.2 423.1,443.3 426.0,442.8 428.8,447.4 432.3,452.0 433.5,456.6 431.2,461.2 425.4,464.7 419.6,463.5 413.8,460.1 408.1,457.8 404.6,456.6" fill="#3A7BC2" fill-opacity="0.12"/>
<path d="M425.3 462.7h0M423.2 456.1h0M412.5 452.1h0M422.5 453.8h0M407.3 456.0h0M431.7 458.4h0M430.2 459.6h0M423.5 459.2h0M425.7 446.7h0M417.9 450.2h0M422.9 456.8h0M430.7 461.2h0M426.5 459.5h0M422.2 462.2h0M430.1 456.1h0M423.7 447.8h0M418.8 455.7h0M415.2 454.5h0M421.7 463.8h0M420.7 458.6h0M421.4 463.2h0M427.3 451.0h0M421.3 453.1h0M431.8 454.9h0M406.8 454.5h0M418.8 452.9h0M406.6 450.3h0M412.9 449.1h0M405.5 447.9h0M425.3 463.3h0M426.4 444.5h0M428.4 460.8h0M429.0 458.7h0M412.1 453.6h0M420.2 448.6h0M432.1 457.4h0M425.2 460.4h0M417.9 448.3h0M418.7 454.8h0M417.1 449.8h0M423.9 462.3h0M414.6 454.3h0M419.6 462.5h0M418.4 448.5h0M410.1 448.7h0M414.4 448.6h0M416.6 460.4h0M406.7 448.1h0M408.1 454.0h0M429.7 449.7h0M407.9 448.6h0M423.1 449.8h0M424.9 446.0h0M430.1 455.4h0M431.9 455.9h0M421.1 461.6h0M421.4 444.7h0M422.3 449.2h0M422.2 461.1h0M410.9 448.7h0M413.9 457.1h0M426.2 459.6h0M426.3 461.5h0M425.4 452.9h0M428.6 458.4h0M431.5 453.9h0M412.2 451.6h0M423.7 462.3h0M420.1 452.9h0M419.8 463.2h0M415.9 457.0h0M424.5 460.6h0M428.1 460.5h0M421.9 463.5h0M423.9 445.9h0M420.1 451.3h0M412.9 448.0h0M407.1 451.1h0M407.5 456.5h0M413.9 459.6h0M426.0 459.9h0M421.3 454.7h0M424.1 446.9h0M418.2 445.5h0M431.2 453.7h0M421.4 459.3h0M427.8 458.0h0M417.4 448.9h0M406.1 456.5h0M407.8 450.9h0M428.4 447.0h0M431.1 459.2h0M419.8 449.6h0M414.2 455.3h0M408.7 452.8h0M408.6 452.7h0M432.3 458.7h0M426.2 452.2h0M424.9 446.8h0M424.5 455.1h0M424.6 458.2h0M427.3 453.3h0M421.1 448.3h0M419.1 444.8h0M416.0 454.3h0M418.4 450.2h0M422.6 451.6h0M421.7 444.6h0M429.4 453.3h0M414.8 457.3h0M429.6 451.4h0M415.1 460.7h0M421.1 455.2h0M421.1 459.6h0M430.1 451.6h0M425.0 461.3h0M423.0 445.1h0M425.3 453.7h0M420.8 455.2h0M426.9 455.3h0M421.0 459.3h0M428.1 458.4h0M404.9 454.7h0M428.7 460.7h0M432.0 454.2h0M419.4 455.1h0M415.7 459.9h0M421.7 462.0h0M414.5 451.6h0M406.3 454.1h0M427.0 454.0h0M419.7 462.8h0M426.8 449.7h0M431.9 458.7h0M413.3 447.4h0M424.1 453.9h0M421.9 445.6h0M426.7 461.7h0M416.7 449.5h0M408.2 454.6h0M417.2 448.9h0M419.6 457.4h0M415.2 449.5h0M429.6 457.2h0M428.6 447.4h0M410.9 450.3h0M413.3 446.9h0M424.4 451.1h0M404.7 447.6h0M423.7 458.2h0M405.1 454.8h0M423.1 456.7h0M423.4 459.9h0M423.4 450.3h0M423.0 451.0h0M419.0 455.0h0M425.1 449.3h0M424.0 447.9h0M427.5 447.9h0M421.9 449.9h0M421.2 449.6h0M417.3 461.9h0M432.0 453.9h0M426.0 463.2h0M410.0 451.2h0M430.2 454.2h0M430.5 461.2h0M415.3 447.3h0M408.6 456.8h0M415.4 456.8h0M413.3 453.6h0M420.1 447.5h0M426.9 447.4h0M428.0 451.6h0M418.8 445.1h0M412.6 451.9h0M430.4 455.6h0M428.0 461.5h0M407.2 449.7h0M428.7 459.4h0M420.9 451.6h0M408.3 450.6h0M408.6 447.8h0M427.9 459.6h0M425.7 455.2h0M422.5 452.0h0M428.0 458.5h0M427.2 447.0h0M422.1 454.6h0M430.9 451.5h0M411.7 449.5h0M424.8 458.6h0M418.1 451.5h0M431.5 452.7h0M410.4 451.3h0M422.3 461.0h0M408.5 456.6h0M422.1 454.1h0M416.9 454.6h0M418.2 446.0h0M430.9 450.4h0M423.7 456.0h0M423.7 460.2h0M405.4 449.4h0M429.1 455.3h0M416.8 449.0h0M425.3 460.5h0M406.0 453.6h0M428.6 456.8h0M416.8 449.6h0M419.0 450.4h0M415.9 453.7h0M406.8 456.0h0M421.4 458.4h0M425.1 450.9h0M421.9 448.7h0M414.7 448.6h0M418.8 457.0h0M411.4 449.7h0M418.0 458.1h0M419.6 452.7h0M405.9 456.9h0M407.0 451.0h0M405.6 456.0h0M431.0 454.1h0M418.0 451.3h0M426.2 446.9h0M416.9 447.0h0M431.2 452.7h0M411.0 448.8h0M421.9 463.5h0M413.1 456.1h0M422.4 447.0h0M421.9 458.7h0M427.9 461.5h0M414.0 459.6h0M409.0 451.0h0M416.3 458.0h0M422.4 460.6h0M404.8 449.0h0M425.9 448.0h0M429.0 449.6h0M423.9 444.0h0M416.5 451.3h0M413.4 454.5h0M419.8 460.2h0M425.5 447.1h0M406.2 448.7h0M415.7 446.2h0M414.4 448.3h0M416.4 446.7h0M426.1 459.7h0M428.7 451.7h0M405.2 455.3h0M431.3 452.2h0M405.1 450.5h0M412.4 455.5h0M425.6 464.3h0M413.8 450.7h0M419.0 447.9h0M419.1 453.4h0M428.2 447.8h0M419.2 452.5h0M411.6 452.3h0M420.7 459.1h0M427.2 450.1h0M425.7 457.8h0M405.9 453.6h0M410.9 455.8h0M409.9 456.1h0M426.9 455.8h0M428.8 451.2h0M423.9 452.6h0M424.7 445.0h0M427.2 447.7h0M421.3 461.4h0M426.8 456.5h0M415.7 451.2h0M413.5 453.2h0M419.1 446.4h0M405.0 454.3h0M429.6 449.2h0M423.7 463.7h0M426.4 459.5h0M416.7 453.3h0M419.2 458.8h0M414.4 453.1h0M409.4 448.5h0M411.1 458.5h0M427.7 463.0h0M424.5 447.8h0M414.0 450.8h0M410.5 453.0h0M427.5 454.2h0M432.5 453.2h0M420.2 460.5h0M422.1 461.9h0M422.0 459.9h0M410.9 455.6h0M412.3 459.3h0M431.9 459.0h0M411.9 449.6h0M417.1 447.9h0M425.4 458.9h0M413.4 447.7h0M415.8 447.6h0M419.3 447.0h0M414.6 458.9h0M411.6 452.6h0M423.2 446.3h0M421.1 453.8h0M407.7 448.1h0M407.8 454.5h0M417.2 446.6h0M407.5 455.4h0M423.6 454.1h0M411.1 453.0h0M404.9 449.9h0M418.5 444.8h0M421.4 452.5h0M418.7 462.4h0M406.2 455.1h0M412.8 451.3h0M431.3 456.6h0M412.8 452.7h0M416.9 454.4h0M417.8 446.1h0M423.0 454.4h0M421.4 450.9h0M430.3 455.0h0M429.3 458.0h0M424.2 457.5h0M427.0 460.6h0M424.3 449.8h0M412.2 447.1h0M429.3 453.4h0M404.6 455.9h0M409.7 454.1h0M425.1 456.9h0M430.4 459.8h0M429.6 451.2h0M423.5 457.4h0M426.8 462.1h0M409.8 455.5h0" stroke="#3A7BC2" stroke-opacity="0.90" stroke-width="0.75" stroke-linecap="square" fill="none"/>
<polygon points="409.2,468.2 415.0,465.8 419.6,466.4 418.5,469.3 413.8,471.6 409.8,470.5" fill="#3A7BC2" fill-opacity="0.45"/>
<path d="M412.8 468.9h0M411.2 468.0h0M414.0 469.2h0M411.3 469.3h0M412.0 469.1h0M413.8 469.6h0M410.3 468.2h0M418.4 469.1h0M415.8 469.1h0M414.1 470.0h0M414.0 470.3h0M412.2 467.7h0M417.0 469.2h0M414.2 469.0h0M419.3 466.9h0M418.5 468.8h0M416.0 467.2h0M410.7 469.2h0M418.6 468.2h0M413.7 469.1h0M414.5 466.1h0M413.7 468.4h0M418.9 467.7h0M415.8 468.6h0M417.3 469.3h0M412.8 468.2h0M418.1 467.9h0M418.8 468.4h0M419.0 466.7h0M417.4 468.4h0M411.6 469.2h0M418.0 468.8h0M411.3 468.3h0M418.9 467.1h0M416.5 467.2h0M413.7 471.2h0M414.3 466.9h0M414.8 466.5h0M411.9 469.8h0M419.0 467.1h0M416.8 469.0h0M413.4 468.9h0M410.7 470.1h0M414.9 469.1h0M416.6 466.4h0M410.0 470.4h0M410.6 468.0h0M416.0 467.3h0M413.3 469.2h0M416.4 468.4h0M409.7 469.5h0M416.1 469.8h0M412.8 470.8h0M415.4 468.0h0" stroke="#3A7BC2" stroke-opacity="0.90" stroke-width="0.75" stroke-linecap="square" fill="none"/>
<path d="M430.4 448.4h0M440.7 461.5h0M443.8 461.7h0M431.7 482.9h0M435.5 480.6h0M436.6 491.3h0M442.8 469.0h0M433.6 463.5h0M443.3 456.0h0M428.7 477.7h0M444.9 462.4h0M432.1 452.0h0M439.9 470.4h0M438.6 468.5h0M433.5 480.5h0M438.2 463.9h0M439.4 471.5h0M427.4 481.1h0M435.9 489.5h0M444.8 452.2h0M430.9 478.9h0M429.4 484.7h0M432.7 478.5h0M445.9 463.1h0M430.1 483.9h0M428.3 472.3h0M440.2 447.6h0M431.4 450.1h0M437.3 464.4h0M431.5 484.5h0M440.6 471.0h0M444.9 454.7h0M431.5 467.5h0M434.3 485.9h0M435.2 451.5h0M434.8 487.0h0M438.4 471.9h0M441.7 462.7h0M443.3 467.0h0M433.7 482.8h0M437.9 453.3h0M433.4 488.6h0M431.8 481.3h0M428.6 477.1h0M436.3 448.6h0M439.4 470.3h0M431.0 481.2h0M431.5 466.2h0M436.0 485.4h0M442.5 454.2h0M436.9 461.0h0M441.5 469.8h0M433.5 483.7h0M431.0 485.8h0M438.8 459.5h0M440.0 472.3h0M432.4 475.6h0M440.2 472.7h0M432.2 483.5h0M427.9 473.6h0M427.4 481.1h0M436.0 476.0h0M439.5 467.2h0M440.9 450.9h0M432.9 451.9h0M441.3 465.1h0M434.8 481.4h0M440.7 447.7h0M441.4 466.7h0M428.9 477.4h0M432.9 462.5h0M438.7 450.7h0M445.1 457.1h0M439.2 466.1h0M433.0 481.7h0M437.4 475.5h0M431.0 490.1h0M444.5 462.2h0M436.4 466.1h0M436.0 452.9h0M439.3 450.9h0M438.0 458.4h0M443.5 463.4h0M425.4 477.5h0M431.4 482.5h0M435.2 455.2h0M432.5 460.1h0M439.1 461.1h0M437.4 458.2h0M442.8 453.4h0M435.5 478.5h0M439.7 467.4h0M435.4 460.8h0M433.0 454.5h0M433.7 467.3h0M436.2 488.6h0M430.7 452.5h0M444.5 455.8h0M430.5 485.1h0M432.3 475.0h0M432.3 480.9h0M430.0 474.7h0M437.5 464.2h0M433.2 449.2h0M430.7 482.8h0M431.5 481.6h0M429.5 474.3h0M433.0 471.4h0M433.2 474.2h0M434.5 448.7h0M443.2 451.9h0M433.3 483.1h0M439.3 450.9h0M435.9 479.5h0M435.3 451.7h0M444.0 456.5h0M432.6 465.4h0M434.9 447.6h0M435.8 451.9h0M436.1 465.0h0M437.9 475.9h0M434.1 482.5h0M436.1 480.7h0M428.9 484.5h0M437.6 453.2h0M441.7 457.3h0M444.7 454.2h0M433.7 477.6h0M432.4 462.1h0M434.5 488.4h0M435.3 451.0h0M432.8 473.8h0M436.9 490.8h0M436.2 483.2h0M441.5 468.4h0M434.2 468.1h0M433.9 447.2h0M445.9 458.2h0" stroke="#3A7BC2" stroke-opacity="0.90" stroke-width="0.75" stroke-linecap="square" fill="none"/>
<polygon points="441.5,446.6 450.0,446.5 458.8,448.5 466.5,454.3 470.4,462.0 470.4,471.6 466.5,481.2 456.9,488.9 443.5,493.7 437.7,492.8 435.9,484.0 440.1,473.0 446.5,464.3 446.5,455.9 441.7,449.5" fill="#3A7BC2" fill-opacity="0.08"/>
<path d="M446.9 481.8h0M457.5 476.0h0M447.6 482.6h0M467.6 471.7h0M450.0 447.1h0M458.7 459.2h0M447.7 483.5h0M461.2 484.3h0M457.9 470.2h0M463.7 466.0h0M467.3 456.9h0M458.5 484.3h0M470.0 464.4h0M466.4 474.9h0M458.0 458.6h0M456.0 454.8h0M459.2 453.8h0M464.7 481.8h0M441.7 483.7h0M457.7 460.5h0M458.8 479.3h0M453.1 479.2h0M452.6 489.2h0M443.6 448.4h0M451.3 452.2h0M469.5 471.0h0M470.0 470.5h0M451.9 447.5h0M438.8 487.8h0M459.6 473.1h0M466.6 477.2h0M445.6 487.4h0M461.0 450.3h0M464.6 463.7h0M461.3 461.3h0M453.7 472.4h0M438.9 486.7h0M447.9 465.7h0M440.9 478.6h0M461.1 457.1h0M459.8 463.3h0M451.5 464.7h0M467.3 464.7h0M442.5 491.2h0M451.5 475.1h0M447.2 492.0h0M445.4 490.5h0M447.7 482.7h0M458.2 483.2h0M453.0 450.0h0M459.4 450.2h0M458.3 480.3h0M440.5 477.5h0M447.1 451.1h0M457.6 486.0h0M460.9 469.6h0M445.2 480.9h0M465.4 456.8h0M460.4 482.9h0M470.3 464.2h0M449.5 448.6h0M441.4 481.6h0M445.3 489.5h0M446.9 484.1h0M448.3 482.2h0M451.0 456.5h0M440.0 487.4h0M457.7 456.3h0M446.2 464.9h0M442.3 447.8h0M468.8 464.9h0M456.9 451.6h0M465.5 482.0h0M440.8 483.0h0M462.9 473.5h0M446.4 483.5h0M457.8 449.4h0M442.4 479.3h0M455.4 465.1h0M454.2 458.0h0M456.1 453.0h0M459.3 473.8h0M458.2 479.6h0M444.1 449.3h0M456.0 469.6h0M456.6 462.7h0M453.5 463.8h0M455.1 454.3h0M446.8 447.8h0M458.7 464.7h0M467.9 461.4h0M465.3 465.1h0M458.4 463.3h0M463.8 457.1h0M449.1 481.1h0M451.9 486.3h0M456.1 471.7h0M453.1 448.4h0M456.3 455.5h0M441.6 475.8h0M446.2 485.7h0M469.7 465.1h0M452.5 485.3h0M449.7 470.1h0M461.3 468.2h0M457.1 478.8h0M445.0 467.5h0M443.4 484.5h0M447.3 453.3h0M466.6 462.7h0M468.7 467.5h0M458.4 483.6h0M454.2 452.6h0M455.0 466.8h0M451.7 490.6h0M449.6 488.2h0M460.8 467.6h0M444.1 450.7h0M462.0 475.5h0M448.0 465.0h0M447.2 477.8h0M465.8 460.6h0M467.3 466.3h0M452.9 458.6h0M444.6 467.2h0M452.9 486.4h0M448.3 482.6h0M444.7 469.1h0M438.5 488.6h0M448.1 476.7h0M455.3 469.5h0M444.1 485.4h0M452.2 452.7h0M455.4 459.5h0M444.0 485.7h0M459.5 453.3h0M458.4 468.4h0M443.0 478.2h0M446.5 469.2h0M448.7 464.5h0M456.0 483.6h0M459.5 451.9h0M445.4 476.1h0M448.4 468.2h0M446.4 471.3h0M456.6 454.6h0M438.5 480.2h0M453.3 449.7h0M438.6 492.3h0M461.3 454.3h0M450.5 455.7h0M462.7 481.0h0M467.9 477.5h0M449.9 489.5h0M449.1 481.2h0M456.8 460.4h0M465.6 470.9h0M467.9 474.9h0M455.8 470.4h0M466.8 478.5h0M462.5 466.1h0M442.9 484.0h0M450.3 483.2h0M442.8 492.8h0M459.2 455.9h0M459.2 480.6h0M450.2 450.6h0M452.4 476.9h0M445.5 491.8h0M446.1 489.0h0M461.7 484.4h0M442.4 488.1h0M458.6 465.6h0M459.5 458.0h0M445.1 480.4h0M450.3 488.2h0M464.4 478.6h0M448.3 467.2h0M447.3 461.2h0M459.9 472.1h0M447.3 461.9h0M441.2 475.9h0M447.8 473.1h0M456.1 453.8h0M453.5 477.1h0M454.3 478.5h0M459.4 477.7h0M448.4 486.2h0M437.4 487.0h0M458.5 464.8h0M444.2 471.1h0M464.3 456.0h0M444.4 470.1h0M463.8 466.2h0M454.3 483.6h0M459.1 472.4h0M450.9 477.4h0M464.6 453.3h0M463.9 461.8h0M451.4 470.7h0M442.3 487.5h0M451.7 463.8h0M464.2 471.9h0M445.1 483.2h0M449.0 471.6h0M443.8 492.4h0M440.3 476.8h0M460.2 455.0h0M467.6 470.9h0M454.1 488.6h0M462.2 478.1h0M442.6 489.6h0M445.0 469.1h0M465.2 471.9h0M457.7 480.7h0M446.5 455.4h0M462.8 460.8h0M449.2 455.4h0M458.2 451.4h0M448.2 491.3h0M451.7 488.6h0M443.8 483.6h0M438.9 491.4h0M442.9 482.3h0M463.7 477.4h0M462.7 458.5h0M462.8 457.1h0M453.4 465.2h0M452.9 469.3h0M451.0 463.4h0M443.8 476.6h0M469.6 461.0h0M449.7 479.4h0M446.5 452.5h0M458.3 463.2h0M466.6 475.5h0M464.6 473.0h0M455.6 469.1h0M453.9 463.5h0M453.3 481.0h0M457.3 482.5h0M448.4 454.2h0M443.8 472.4h0M453.8 465.7h0M467.6 465.4h0M443.2 474.9h0M456.0 483.5h0M452.6 455.2h0M444.0 482.8h0M456.3 455.7h0M454.6 480.2h0M461.4 473.2h0M456.6 471.1h0M463.3 477.2h0M454.2 467.6h0M467.2 461.1h0M459.2 479.3h0M444.1 446.9h0M450.3 456.0h0M442.1 472.9h0M457.1 468.7h0M455.4 455.8h0M455.8 486.8h0M447.1 480.4h0M456.3 464.7h0M455.3 458.3h0M469.1 469.2h0M447.8 452.5h0M459.2 473.4h0M453.2 479.1h0M447.5 476.0h0M466.2 473.5h0M454.0 475.4h0M460.6 473.3h0M440.0 487.5h0M450.1 458.2h0M441.1 490.2h0M461.1 461.1h0M442.5 486.7h0M459.6 451.6h0M453.8 489.5h0M445.2 450.7h0M437.9 485.9h0M468.1 468.3h0M446.5 465.3h0M452.2 471.7h0M439.5 492.5h0M457.5 473.5h0M456.1 463.9h0M448.0 471.7h0M464.5 481.1h0M454.8 455.6h0M453.3 467.3h0M439.8 489.7h0M464.9 475.5h0M444.4 473.7h0M447.1 477.1h0M455.6 483.4h0M443.6 472.6h0M457.4 449.9h0M440.7 480.9h0M450.0 485.5h0M456.5 484.3h0M465.3 477.1h0M448.0 474.6h0M457.7 468.0h0M458.2 465.2h0M459.2 471.1h0M449.7 456.2h0M465.1 459.3h0M457.7 451.3h0M453.3 484.8h0M443.9 477.0h0M454.7 478.7h0M455.8 455.1h0M452.8 449.6h0M459.1 462.0h0M469.1 465.4h0M447.3 458.9h0M448.6 458.8h0M463.0 465.1h0M459.5 475.6h0M439.7 482.2h0M456.8 479.4h0M443.4 472.3h0M447.8 455.3h0M462.9 478.4h0M438.3 478.1h0M450.2 448.2h0M453.8 478.7h0M444.8 479.4h0M453.1 447.8h0M436.1 484.2h0M438.9 484.5h0M459.3 463.6h0M451.0 451.8h0M446.6 480.2h0M448.6 465.1h0M452.8 486.8h0M443.4 477.1h0M467.4 463.0h0M457.9 481.6h0M456.4 458.7h0M462.9 468.2h0M455.1 476.5h0M447.1 477.5h0M451.5 450.9h0M454.0 470.1h0M460.2 469.1h0M450.8 480.1h0M454.6 466.2h0M458.5 475.1h0M453.9 476.6h0M447.0 474.8h0M440.3 482.7h0M459.4 484.4h0M444.2 472.1h0M465.5 467.1h0M455.6 465.9h0M461.4 476.1h0M462.8 473.5h0M444.7 470.7h0M440.1 478.2h0M448.7 451.1h0M458.3 470.0h0M449.2 486.7h0M448.2 458.2h0M445.7 447.6h0M460.8 477.0h0M450.2 485.1h0M447.3 456.6h0M451.4 462.1h0M451.2 449.0h0M450.2 483.6h0M465.1 463.6h0M451.7 482.6h0M440.5 484.5h0M448.6 458.3h0M452.1 477.1h0M447.6 449.3h0M451.3 467.9h0M454.0 463.0h0M444.1 474.3h0M461.6 455.5h0M455.7 457.8h0M458.8 476.7h0M449.8 490.3h0M462.0 453.0h0M443.8 451.7h0M460.5 455.5h0M451.5 450.9h0M458.8 479.5h0M448.4 455.5h0M442.6 471.4h0M461.8 456.6h0M443.0 484.6h0M468.7 474.4h0M459.7 480.5h0M464.1 452.9h0M450.7 484.9h0M439.9 484.5h0M460.4 484.6h0M446.9 471.3h0M463.5 482.7h0M450.9 483.1h0M462.0 455.0h0M444.7 491.6h0M454.7 470.6h0M444.7 452.3h0M464.8 467.4h0M454.9 469.1h0M466.2 473.3h0M460.2 482.8h0M456.7 451.4h0M450.2 483.1h0M444.4 487.7h0M443.9 491.7h0M441.7 486.7h0M453.8 459.3h0M450.3 452.7h0M456.9 478.0h0M451.2 483.9h0M462.3 478.3h0M461.9 466.7h0M441.3 471.4h0M451.8 453.5h0M459.9 467.5h0M459.2 455.5h0M444.0 450.9h0M467.2 479.1h0M446.6 449.0h0M447.5 483.3h0M462.5 469.1h0M461.7 452.9h0M447.0 490.6h0M461.1 481.0h0M458.2 463.9h0M457.6 466.8h0M463.2 478.3h0M468.5 475.1h0M455.8 485.5h0M457.8 451.8h0M452.2 487.4h0M470.4 471.1h0M445.9 466.8h0M448.2 476.6h0M438.4 483.9h0M438.5 480.3h0M446.8 453.7h0M440.9 492.4h0M443.6 468.7h0M464.2 458.3h0M460.5 463.3h0M440.2 484.8h0M447.8 476.7h0M447.3 475.5h0M461.7 456.7h0M452.3 453.8h0M452.6 459.3h0M464.0 469.7h0M454.0 453.3h0M468.6 458.5h0M456.0 483.2h0M453.8 461.6h0M458.1 480.4h0M442.2 447.6h0M445.3 490.8h0M449.2 489.6h0M463.6 478.7h0M455.7 485.2h0M449.7 490.8h0M457.4 480.1h0M455.5 460.2h0M462.1 464.4h0M462.7 464.8h0M454.9 460.8h0M438.9 483.4h0M453.6 484.0h0M463.0 483.3h0M449.0 460.4h0M443.7 468.6h0M456.7 487.2h0M455.5 460.1h0M456.0 459.9h0M465.9 457.2h0M450.0 457.1h0M443.4 482.6h0M437.4 489.5h0M466.9 464.2h0M467.6 457.3h0M444.6 472.7h0M443.4 489.3h0M451.3 466.5h0M438.0 491.6h0M458.2 468.8h0M451.0 486.9h0M460.1 454.6h0M437.6 487.5h0M456.6 465.2h0M446.3 465.0h0M466.8 473.8h0M440.9 473.0h0M446.7 489.1h0M460.4 475.5h0M451.9 451.3h0M459.9 451.4h0M467.8 469.5h0M454.5 463.9h0M449.7 487.7h0M462.1 464.8h0M464.1 464.4h0M450.5 467.4h0M442.0 479.7h0M444.1 477.2h0M454.1 477.1h0M466.7 480.1h0M457.1 478.7h0M464.1 453.9h0M461.7 472.2h0M441.6 448.0h0M447.3 455.5h0M466.4 470.9h0M453.3 475.4h0M452.9 457.7h0M461.2 481.3h0M467.3 469.6h0M440.4 491.9h0M468.4 474.6h0M445.4 448.0h0M461.3 476.8h0M439.9 481.7h0M456.7 466.2h0M457.1 452.1h0M466.9 460.4h0M458.0 457.6h0M442.1 491.7h0M444.8 491.6h0M465.6 472.8h0M455.3 447.9h0M462.5 478.7h0M456.1 484.9h0M452.1 464.6h0M461.5 469.9h0M456.8 453.7h0M469.5 472.6h0M463.0 452.2h0M447.3 490.8h0M446.1 454.0h0M450.9 482.8h0M457.9 486.2h0M458.2 486.6h0M449.8 474.4h0M454.8 467.4h0M451.4 479.9h0M441.1 485.8h0M460.4 456.0h0M447.9 486.2h0M450.5 486.5h0M449.2 466.3h0M441.9 483.6h0M438.6 483.4h0M453.1 487.1h0M453.7 457.2h0M464.9 474.8h0M445.0 447.3h0M463.9 477.6h0M451.1 470.8h0M463.1 457.4h0M459.1 471.4h0M455.5 475.6h0M466.2 471.2h0M453.3 474.9h0M456.7 469.7h0M440.5 478.8h0M461.0 451.9h0M458.8 465.2h0M468.7 468.9h0M440.7 474.7h0M439.1 487.3h0M453.2 481.3h0M463.2 483.6h0M449.2 447.9h0M444.7 477.2h0M446.8 479.9h0M438.4 484.5h0M438.8 481.7h0M439.7 474.1h0M447.9 472.8h0M462.1 455.6h0M446.2 452.0h0M450.0 450.3h0M458.5 478.4h0M447.8 460.4h0M443.8 474.9h0M449.9 470.7h0M462.1 457.1h0M446.7 469.2h0M447.1 478.7h0M440.8 489.7h0M452.7 462.8h0M447.8 455.9h0M454.5 484.4h0M444.1 483.5h0M461.7 476.3h0M466.5 474.9h0M465.4 473.7h0M446.0 475.0h0M460.8 480.5h0M449.6 481.9h0M447.4 452.5h0M450.5 472.5h0M448.1 475.4h0M456.1 478.3h0M457.0 475.0h0M457.5 452.9h0M446.3 454.4h0M448.8 472.9h0M449.6 449.9h0M463.1 463.9h0M468.5 461.5h0M450.0 479.5h0M448.9 478.6h0M458.2 459.6h0M458.5 460.9h0M463.6 481.2h0M453.5 483.8h0M451.9 480.4h0M450.4 464.5h0M444.4 476.5h0M448.7 463.8h0M437.8 480.2h0M448.0 463.0h0M452.8 455.2h0M443.0 480.2h0M445.4 492.8h0M449.2 482.8h0M460.4 481.6h0M452.3 460.3h0M448.5 453.3h0M465.5 462.1h0M455.2 485.4h0M448.7 480.1h0M446.3 465.4h0M445.6 466.0h0M448.4 470.0h0M463.2 460.1h0M438.4 483.7h0M455.4 458.9h0M449.0 487.3h0M460.3 459.6h0M444.1 473.2h0M463.7 480.7h0M449.7 481.4h0M450.6 457.2h0M464.9 455.6h0M458.2 459.8h0M457.2 454.7h0" stroke="#3A7BC2" stroke-opacity="0.90" stroke-width="0.75" stroke-linecap="square" fill="none"/>
<polygon points="450.0,446.5 458.8,448.5 466.5,454.3 470.4,462.0 470.4,471.6 466.5,481.2 456.9,488.9 443.5,493.7 445.0,488.0 455.0,482.0 461.0,472.0 462.0,462.0 458.0,454.0" fill="#3A7BC2" fill-opacity="0.42"/>
<path d="M467.1 463.9h0M461.8 481.9h0M454.4 483.6h0M462.8 468.5h0M449.1 489.4h0M462.7 471.3h0M467.1 470.7h0M461.8 458.6h0M466.0 478.7h0M449.6 487.7h0M467.4 456.4h0M459.3 451.7h0M465.6 467.4h0M447.3 489.7h0M464.7 473.9h0M461.7 460.4h0M449.8 487.1h0M453.3 448.3h0M467.8 476.2h0M464.2 478.1h0M446.2 487.7h0M451.2 486.8h0M454.8 450.1h0M452.8 447.8h0M465.2 478.4h0M454.0 485.2h0M464.4 482.2h0M444.6 490.4h0M466.1 458.4h0M465.6 481.4h0M464.8 477.3h0M458.9 475.9h0M463.7 460.2h0M468.1 468.3h0M465.2 457.9h0M457.9 478.7h0M459.5 482.7h0M459.3 479.4h0M445.4 492.1h0M450.1 489.5h0M467.9 476.2h0M453.4 487.0h0M463.5 464.4h0M465.7 472.9h0M461.8 458.2h0M466.2 480.9h0M452.0 484.5h0M465.1 465.8h0M457.3 486.4h0M462.7 471.4h0M459.1 479.9h0M455.2 483.3h0M466.0 456.6h0M462.1 483.7h0M461.6 466.9h0M448.5 490.8h0M465.8 464.6h0M453.7 486.5h0M463.7 459.6h0M465.6 462.5h0M469.0 463.8h0M468.3 458.1h0M461.6 478.6h0M464.1 467.9h0M455.3 451.2h0M460.6 480.3h0M465.4 462.6h0M461.5 480.0h0M457.9 448.9h0M460.3 484.1h0M464.7 465.2h0M469.1 468.4h0M457.9 482.3h0M460.9 481.2h0M465.7 466.0h0M463.0 478.5h0M462.8 466.4h0M448.3 488.8h0M465.1 475.8h0M468.9 460.5h0M457.0 483.7h0M465.9 460.7h0M463.3 471.9h0M466.4 477.4h0M463.6 466.3h0M456.1 449.1h0M454.5 449.5h0M463.3 458.4h0M452.9 487.8h0M454.3 488.9h0M465.8 460.3h0M462.7 465.9h0M450.9 487.1h0M467.4 458.4h0M445.1 491.5h0M456.3 483.6h0M464.6 476.5h0M465.1 481.6h0M465.5 458.6h0M461.5 476.1h0M466.0 468.3h0M464.7 468.0h0M458.6 481.8h0M464.5 478.7h0M465.7 475.3h0M459.8 483.4h0M463.2 454.3h0M463.3 455.1h0M451.4 490.1h0M446.9 491.6h0M467.6 464.5h0M454.5 488.7h0M460.8 453.2h0M457.1 483.5h0M464.0 466.2h0M464.7 454.8h0M470.2 468.1h0M461.7 458.7h0M456.2 485.4h0M451.7 485.3h0M463.3 467.5h0M448.2 489.6h0M451.2 490.0h0M460.6 451.4h0M467.5 456.9h0M470.3 465.4h0M465.9 454.3h0M457.6 450.1h0M460.5 477.8h0M444.9 492.1h0M467.8 466.9h0M457.3 487.5h0M463.3 460.7h0M452.9 485.9h0M451.8 489.9h0M459.4 453.8h0M463.8 458.4h0M453.4 487.4h0M463.5 474.7h0M462.6 481.8h0M458.9 455.4h0M462.3 478.0h0M462.6 470.6h0M448.2 489.6h0M458.9 451.2h0M454.5 489.4h0M455.0 483.1h0M457.5 486.8h0M453.7 484.4h0M454.3 482.6h0M460.3 480.4h0M465.7 460.2h0M452.8 487.0h0M465.9 476.2h0M453.6 485.1h0M463.5 479.1h0M446.7 492.1h0M460.7 455.0h0M467.4 463.3h0M457.1 453.1h0M466.1 472.5h0M465.7 475.5h0M445.5 488.3h0M464.7 471.4h0M453.1 489.7h0M468.0 464.6h0M466.3 466.1h0M463.8 452.8h0M464.3 474.7h0M467.2 468.0h0M463.0 459.5h0M446.8 490.8h0M454.8 489.1h0M463.4 473.1h0M468.5 464.9h0M447.7 489.4h0M467.3 469.8h0M463.1 456.6h0M451.3 489.4h0M456.2 481.5h0M465.3 479.6h0M465.9 459.9h0M467.4 469.8h0M466.4 457.3h0M461.6 461.2h0M466.0 470.2h0M463.6 461.3h0M465.2 480.6h0M470.0 464.7h0M469.5 464.5h0M448.4 490.3h0M464.4 476.1h0M466.4 471.6h0M457.2 478.6h0M457.1 479.2h0M456.9 483.1h0M451.7 488.0h0M458.6 451.6h0M459.1 482.1h0M467.7 468.6h0M463.5 457.7h0M465.4 456.5h0M458.5 483.7h0M450.5 491.1h0M451.3 484.7h0M450.8 485.4h0M461.5 451.8h0M450.2 486.1h0M460.9 452.9h0M447.7 486.8h0M462.4 463.8h0M464.0 479.4h0M461.4 469.0h0M459.8 477.9h0M456.8 449.8h0M458.4 478.0h0M466.0 474.3h0M461.5 479.5h0M469.3 471.9h0M458.8 454.9h0M455.0 482.1h0M455.0 484.4h0M446.8 492.5h0M462.8 480.3h0M444.3 490.9h0M461.7 471.8h0M462.3 467.8h0M468.4 473.3h0M462.2 458.4h0M461.1 453.5h0M461.9 477.0h0M463.1 455.8h0M463.1 463.9h0M465.8 466.0h0M468.8 469.2h0M465.1 456.0h0M469.2 463.5h0M466.7 455.4h0M463.9 481.2h0M454.2 449.7h0M460.2 454.8h0M445.5 491.2h0M466.4 469.5h0M457.0 452.9h0M457.9 484.4h0M450.3 491.0h0M467.6 472.3h0M465.9 476.6h0M457.6 479.1h0M466.1 467.2h0M460.7 473.7h0M453.7 488.2h0M462.6 469.1h0M454.4 447.9h0M449.4 488.0h0M465.0 464.5h0M454.1 485.2h0M463.8 452.5h0M461.8 473.1h0M467.1 456.0h0M466.9 456.5h0M468.1 468.4h0M457.9 487.4h0M449.5 486.3h0M460.1 481.4h0M458.8 449.0h0M459.5 475.1h0M464.0 467.8h0M460.4 483.6h0M463.5 468.6h0M457.6 481.3h0M466.6 474.1h0M465.7 475.0h0M467.6 462.6h0M468.2 461.2h0M461.8 468.2h0M464.7 455.9h0M466.0 480.3h0M457.7 450.9h0M461.3 475.0h0M456.3 481.1h0M457.1 481.8h0M462.6 482.9h0M468.2 472.3h0M458.9 477.5h0M458.0 484.5h0M457.9 451.8h0M469.4 470.1h0M461.6 482.7h0M449.0 488.2h0M462.8 454.4h0M465.1 465.0h0M457.5 487.9h0M465.6 467.7h0M447.9 491.7h0M468.1 461.6h0M466.0 461.6h0M467.9 473.3h0M448.8 491.7h0M457.9 485.4h0M452.3 484.1h0M458.7 477.6h0M451.2 489.6h0M456.7 448.7h0M448.1 487.2h0M460.9 458.2h0M446.9 492.5h0M460.3 480.5h0M464.7 470.6h0M461.4 479.2h0M469.3 470.7h0M458.0 480.6h0M459.5 475.8h0M456.5 486.8h0M459.3 453.2h0M459.8 456.0h0M453.8 487.2h0M448.4 490.9h0M460.4 482.5h0M449.8 489.5h0M460.1 482.3h0M470.1 462.1h0M463.3 476.4h0M463.9 455.1h0M457.3 479.7h0M467.8 463.7h0M465.2 453.9h0M467.7 459.7h0M458.3 478.2h0M460.7 481.3h0M463.0 477.5h0M449.3 486.5h0M467.6 459.5h0M463.2 480.8h0M461.4 453.0h0M465.7 467.8h0M455.4 486.6h0M457.0 484.7h0M462.3 461.1h0M456.8 482.8h0M461.4 459.8h0M469.3 469.8h0M458.0 477.9h0M459.1 486.1h0M461.6 453.4h0M445.0 489.1h0M463.8 452.5h0M466.9 477.7h0M459.8 482.0h0M468.5 460.8h0M461.9 478.4h0M465.4 453.9h0M466.8 458.1h0M465.7 458.6h0M467.9 468.7h0M457.0 452.3h0M466.4 465.8h0M452.8 490.2h0M464.8 457.4h0M462.1 481.0h0M469.8 472.2h0M456.6 448.3h0M462.9 468.1h0M456.0 485.3h0M468.6 474.5h0M463.7 475.6h0M452.7 486.2h0M457.1 479.7h0M464.1 476.9h0M469.8 467.7h0M464.1 469.1h0M469.7 461.7h0M460.6 455.3h0M463.7 460.9h0M467.1 464.5h0M452.0 490.4h0M468.2 461.5h0M463.6 480.9h0M450.1 488.4h0M459.6 451.7h0M461.4 459.1h0M451.6 448.0h0M447.5 491.6h0M465.2 479.6h0M459.1 485.5h0M465.0 481.4h0M455.9 487.3h0M455.5 485.4h0M459.7 481.6h0M464.0 478.9h0M453.4 488.3h0M461.2 481.3h0M446.9 487.6h0M460.4 477.3h0M452.9 483.3h0M452.1 484.0h0M453.3 484.4h0M467.9 471.0h0M465.2 469.5h0M454.8 483.4h0M447.1 491.0h0M459.7 483.4h0M464.2 468.2h0M458.0 450.2h0M463.7 459.8h0M461.4 476.9h0M460.7 483.5h0M467.1 472.6h0M462.0 463.2h0M462.5 457.4h0M458.6 478.8h0M465.4 476.9h0M461.1 452.0h0M463.3 468.6h0M462.9 481.6h0M463.9 458.4h0M454.6 450.1h0M464.0 461.0h0M460.1 478.1h0M453.3 485.3h0M465.5 480.0h0M453.4 489.6h0M463.0 457.1h0M464.1 466.1h0M458.8 485.9h0M459.4 477.5h0M468.0 477.0h0M461.4 450.9h0M469.7 465.8h0M463.7 478.5h0M455.1 482.1h0M462.8 456.2h0M462.0 461.1h0M458.1 484.0h0M469.0 460.0h0M459.5 482.1h0M446.1 491.5h0M459.6 485.2h0M468.7 465.5h0M454.8 486.0h0M463.3 478.7h0M450.6 489.9h0M456.1 450.3h0M468.3 469.9h0M461.9 483.9h0M446.2 489.9h0M459.0 476.4h0M466.3 478.6h0M466.2 465.2h0M459.4 481.5h0M461.0 479.4h0M463.5 469.5h0M463.1 467.0h0M464.0 453.7h0M458.7 481.6h0M450.7 485.5h0M458.2 450.1h0M465.7 472.5h0M464.1 463.7h0M460.8 473.0h0M466.6 457.9h0M466.0 458.6h0M466.6 467.6h0M465.8 468.5h0M457.7 479.3h0M467.2 471.6h0M450.7 446.8h0M468.9 462.4h0M458.8 483.3h0M462.4 480.5h0M457.3 452.9h0M468.1 473.7h0M447.8 488.9h0M452.0 487.2h0M467.9 473.5h0M445.5 491.4h0M465.2 455.0h0M448.5 488.3h0M463.5 470.3h0M465.9 454.5h0M465.1 467.7h0M458.0 450.9h0M454.2 486.5h0M461.9 473.8h0M451.3 490.4h0M466.2 459.9h0M469.4 466.2h0M457.1 482.6h0M459.7 454.4h0M468.0 464.8h0M464.8 469.1h0M465.3 477.7h0M462.8 470.8h0M462.8 471.3h0M466.7 455.3h0M464.2 472.4h0M451.5 490.1h0M462.4 469.8h0M458.9 454.7h0M449.9 490.7h0M461.7 471.7h0M457.9 483.0h0M461.4 482.0h0M457.0 482.5h0M449.5 488.4h0M461.0 459.6h0M459.4 474.8h0M466.9 476.3h0M452.3 486.5h0M458.3 485.3h0M459.2 454.0h0M464.2 473.1h0M456.2 450.0h0M458.4 477.0h0M455.0 487.5h0M465.0 453.9h0M455.2 489.3h0M456.6 480.7h0M453.2 447.5h0M468.7 474.5h0M460.4 485.2h0M460.3 450.6h0M457.1 487.9h0M462.8 466.8h0M465.3 458.0h0M466.8 468.3h0M454.7 485.8h0M461.6 460.2h0M462.5 462.2h0M461.5 471.0h0M459.9 481.8h0M463.4 472.6h0M468.5 460.5h0M460.9 478.7h0M463.8 464.3h0M462.0 482.7h0M467.2 474.1h0M464.9 456.7h0M452.7 448.7h0M454.7 483.4h0M452.6 448.3h0M463.1 460.7h0M458.8 453.4h0M453.6 485.8h0M470.1 469.5h0M451.9 486.8h0M458.2 448.5h0M469.5 471.0h0M455.7 484.3h0M457.6 486.0h0M458.8 478.8h0M456.4 481.9h0M457.9 477.6h0M464.2 462.4h0M462.4 465.5h0M466.5 467.5h0M449.7 491.3h0M469.1 462.8h0M466.2 465.1h0M462.7 474.4h0M459.5 478.4h0M462.7 465.7h0M459.2 450.3h0M458.8 487.2h0M466.9 461.2h0M450.2 487.7h0M467.3 476.5h0M467.4 470.8h0M460.7 485.0h0M462.8 480.1h0M466.8 461.2h0M467.3 478.9h0M464.9 467.2h0M465.1 476.8h0M465.6 462.9h0M465.3 460.2h0M457.4 453.2h0M461.8 454.5h0M461.8 474.1h0M463.8 476.0h0M463.8 482.5h0M452.5 447.3h0M462.6 461.6h0M464.8 470.4h0M459.5 475.0h0M457.1 483.9h0M464.9 469.4h0M465.1 465.7h0M469.6 466.4h0M459.6 475.3h0M467.4 462.9h0M454.0 450.1h0M460.9 477.1h0M455.0 487.5h0M455.7 483.0h0M466.7 465.3h0M463.1 454.0h0M455.5 482.3h0M445.7 492.2h0M460.1 481.8h0M470.0 472.0h0M456.6 452.5h0M452.2 447.7h0M469.5 469.3h0M454.5 482.3h0M460.3 481.7h0M460.6 474.8h0M451.3 489.7h0M459.1 449.0h0M461.9 465.6h0M460.9 450.2h0M468.7 465.0h0M465.7 466.2h0M470.0 468.6h0M464.6 468.0h0M468.6 468.5h0M450.7 485.3h0M463.9 457.1h0M465.7 466.4h0M450.2 489.3h0M466.5 471.5h0M459.2 452.9h0M463.6 469.5h0M469.7 465.2h0" stroke="#3A7BC2" stroke-opacity="0.90" stroke-width="0.75" stroke-linecap="square" fill="none"/>
<polygon points="407.3,481.2 415.4,481.5 418.5,479.2 423.1,477.3 427.7,474.2 429.6,475.0 428.5,480.4 428.8,485.0 424.6,486.9 420.0,486.9 417.7,485.0 411.5,483.5 407.3,481.9" fill="#33A036" fill-opacity="0.55"/>
<path d="M417.6 484.2h0M416.5 484.1h0M419.2 480.3h0M428.0 484.4h0M413.3 482.8h0M428.6 475.8h0M417.0 481.1h0M422.1 482.4h0M418.1 479.6h0M421.2 485.3h0M427.4 477.0h0M425.5 476.5h0M420.1 480.9h0M427.7 480.5h0M411.4 483.4h0M415.4 484.2h0M426.8 483.5h0M420.6 486.6h0M416.3 483.1h0M422.5 486.6h0M412.1 481.6h0M421.5 485.6h0M427.5 482.0h0M422.1 480.2h0M423.8 486.7h0M414.1 482.9h0M423.4 477.7h0M413.1 482.5h0M425.2 483.3h0M415.5 483.7h0M428.9 477.7h0M427.5 484.3h0M414.3 481.5h0M423.9 483.2h0M425.8 476.4h0M417.3 484.2h0M428.5 475.4h0M419.1 482.0h0M413.1 483.2h0M427.6 477.8h0M416.5 482.1h0M425.8 485.6h0M428.1 481.5h0M423.8 485.6h0M423.8 480.1h0M425.8 482.2h0M424.9 484.1h0M419.7 486.3h0M428.1 474.5h0M420.8 484.7h0M427.5 482.2h0M412.0 483.1h0M413.9 483.3h0M423.1 481.1h0M426.0 476.8h0M418.8 482.9h0M419.0 484.5h0M427.8 481.6h0M422.3 481.4h0M427.2 481.0h0M413.3 481.5h0M429.4 475.3h0M416.4 484.4h0M424.4 482.1h0M427.4 476.5h0M427.1 484.0h0M421.8 485.4h0M422.4 482.6h0M426.9 478.9h0M422.9 486.6h0M424.0 477.6h0M416.1 482.7h0M424.8 479.7h0M416.4 481.8h0M428.4 479.4h0M418.1 480.5h0M427.9 476.3h0M417.7 484.5h0M422.2 484.9h0M424.8 483.7h0M428.7 476.0h0M424.9 477.6h0M419.4 483.1h0M427.7 484.0h0M424.4 486.7h0M421.1 481.9h0M425.5 478.6h0M426.1 481.6h0M416.9 481.3h0M419.4 484.6h0M428.4 481.7h0M426.2 476.9h0M422.4 486.3h0M418.5 483.5h0M425.2 484.0h0M424.1 484.0h0M424.1 483.5h0M408.7 481.6h0M422.3 481.2h0M426.3 479.4h0M419.5 485.3h0M423.8 481.1h0M423.8 483.1h0M423.5 480.8h0M420.2 484.8h0M423.7 486.4h0M410.5 482.6h0M424.9 479.3h0M425.7 477.1h0M424.8 483.7h0M419.6 480.8h0M428.4 475.9h0M426.0 481.3h0M424.2 482.6h0M418.5 479.5h0M423.6 486.6h0M418.5 485.6h0M423.2 484.2h0M420.2 480.5h0M425.7 476.4h0M428.6 483.8h0M409.7 482.0h0M422.3 478.5h0M424.9 483.5h0M420.0 482.7h0M416.3 482.2h0M418.8 483.3h0M418.3 480.8h0M416.6 484.1h0M426.4 484.9h0M423.8 486.5h0M421.4 478.4h0M426.8 475.9h0M410.9 482.4h0M419.8 482.1h0M420.6 479.8h0M423.7 482.5h0M417.8 480.3h0M421.3 479.8h0M425.6 476.6h0M428.2 480.9h0M418.8 482.4h0M425.1 477.9h0M407.8 481.7h0M423.3 483.5h0M425.6 482.5h0M425.4 485.8h0M411.1 482.9h0M418.3 485.3h0M429.4 475.5h0M425.9 484.4h0M417.4 482.7h0M428.0 483.0h0M421.4 480.7h0M427.2 485.0h0M422.2 482.5h0M419.9 484.9h0M414.5 482.9h0M426.8 479.0h0M410.5 481.9h0M415.4 482.1h0M416.0 482.8h0M425.3 481.4h0M414.3 483.9h0M424.3 482.6h0M428.5 480.9h0M426.4 477.9h0M415.9 481.3h0M421.8 479.3h0M422.1 482.1h0M423.2 478.8h0M423.1 478.9h0M419.0 485.4h0M413.5 482.1h0M425.8 476.5h0M414.5 482.8h0M419.7 483.6h0M426.1 480.0h0M422.6 483.5h0M422.7 482.1h0M414.5 482.9h0M415.9 482.4h0M425.9 484.6h0M423.9 486.3h0M413.2 481.5h0M413.7 481.7h0M420.0 484.4h0M426.9 479.8h0M425.7 485.6h0M413.6 483.9h0M425.7 479.6h0M417.9 483.7h0M424.4 484.5h0M423.0 478.5h0M421.6 477.9h0M426.0 484.4h0M427.5 476.3h0M418.4 484.2h0M428.3 482.0h0M425.2 479.2h0M424.0 486.8h0M425.9 484.5h0M413.2 481.8h0M411.2 482.5h0M423.2 480.9h0M418.5 482.8h0M420.9 480.3h0M427.1 479.1h0" stroke="#33A036" stroke-opacity="0.90" stroke-width="0.75" stroke-linecap="square" fill="none"/>
<line x1="355.4" y1="466.2" x2="359.3" y2="468.7" stroke="#7090B0" stroke-width="0.8"/>
<line x1="450.1" y1="499.9" x2="452.7" y2="501.2" stroke="#33A036" stroke-width="0.8"/>
<rect x="349.3" y="437.3" width="127.7" height="103.4" fill="none" stroke="#333" stroke-width="0.9"/>
<text transform="translate(342.3,489.0) rotate(-90)" text-anchor="middle" font-size="8.9" fill="#1a1a1a" stroke="#1a1a1a" stroke-width="0.22">UMAP 2</text>
<text x="411.8" y="555.0" text-anchor="middle" font-size="8.9" fill="#1a1a1a" stroke="#1a1a1a" stroke-width="0.22">UMAP 1</text>
<circle cx="484.9" cy="467.7" r="1.85" fill="#2463AC"/>
<text x="488.0" y="470.0" font-size="6.3" fill="#1a1a1a" stroke="#1a1a1a" stroke-width="0.22">Cluster 1</text>
<circle cx="484.9" cy="476.4" r="1.85" fill="#E4883A"/>
<text x="488.0" y="478.7" font-size="6.3" fill="#1a1a1a" stroke="#1a1a1a" stroke-width="0.22">Cluster 2</text>
<circle cx="484.9" cy="485.1" r="1.85" fill="#238C3C"/>
<text x="488.0" y="487.4" font-size="6.3" fill="#1a1a1a" stroke="#1a1a1a" stroke-width="0.22">Cluster 3</text>
<circle cx="484.9" cy="493.8" r="1.85" fill="#B42428"/>
<text x="488.0" y="496.1" font-size="6.3" fill="#1a1a1a" stroke="#1a1a1a" stroke-width="0.22">Cluster 4</text>
<circle cx="484.9" cy="502.5" r="1.85" fill="#7B6AA4"/>
<text x="488.0" y="504.8" font-size="6.3" fill="#1a1a1a" stroke="#1a1a1a" stroke-width="0.22">Cluster 5</text>
<text x="412.2" y="581.9" text-anchor="middle" font-size="10" font-weight="bold" fill="#000" stroke="#000" stroke-width="0.22">Major cell types</text>
<polygon points="384.6,633.4 394.2,637.3 403.8,640.1 413.5,644.9 421.2,647.8 424.0,654.6 425.0,664.2 423.1,669.9 413.5,669.0 401.9,667.1 388.5,666.1 378.8,667.1 373.1,670.9 369.2,678.6 368.3,686.3 367.3,674.8 371.2,665.1 376.9,655.5 379.8,647.8 382.7,640.1" fill="#F07F22" fill-opacity="0.26"/>
<path d="M412.1 645.3h0M367.6 676.8h0M413.3 658.2h0M384.8 648.1h0M382.0 656.9h0M396.4 662.7h0M403.6 660.6h0M396.0 646.5h0M407.2 644.0h0M388.1 665.0h0M385.9 641.3h0M414.4 653.5h0M423.8 664.6h0M402.2 667.2h0M406.3 641.4h0M392.7 646.1h0M390.5 638.5h0M406.1 649.3h0M417.7 668.4h0M400.2 641.1h0M399.2 643.0h0M418.3 667.3h0M400.2 653.3h0M391.0 646.1h0M394.3 662.4h0M423.1 668.2h0M392.0 661.1h0M417.7 651.6h0M387.8 660.9h0M413.1 660.5h0M409.2 645.4h0M378.8 652.6h0M422.0 663.7h0M386.9 647.8h0M422.2 656.9h0M423.9 660.7h0M410.2 664.1h0M386.5 654.5h0M402.1 658.7h0M404.0 643.1h0M417.9 661.1h0M381.9 646.5h0M378.1 663.4h0M421.4 661.9h0M414.1 668.2h0M402.5 643.5h0M386.8 650.2h0M373.8 666.5h0M413.3 650.0h0M405.5 666.8h0M404.9 644.8h0M389.2 646.8h0M375.0 668.4h0M415.2 653.3h0M388.7 661.9h0M386.3 657.6h0M400.7 649.3h0M419.6 647.6h0M403.1 643.3h0M406.2 653.0h0M382.7 661.8h0M413.4 667.5h0M412.1 654.3h0M404.3 643.2h0M408.9 656.9h0M389.1 655.6h0M369.2 678.1h0M398.6 653.9h0M420.4 653.9h0M400.5 657.0h0M410.6 643.5h0M385.4 649.9h0M408.8 657.5h0M381.5 654.2h0M416.9 659.0h0M382.6 661.3h0M383.6 660.7h0M403.6 661.8h0M379.3 660.2h0M380.9 658.0h0M384.7 642.3h0M420.4 665.0h0M376.3 660.6h0M407.9 667.5h0M422.1 656.3h0M415.5 651.1h0M405.9 644.5h0M371.1 671.9h0M368.2 684.1h0M394.3 655.0h0M408.9 661.1h0M399.8 662.9h0M401.5 645.2h0M378.7 657.4h0M394.2 666.2h0M404.3 654.9h0M399.5 654.4h0M410.2 653.5h0M396.4 651.3h0M415.0 653.6h0M416.9 664.1h0M406.4 664.3h0M391.6 643.1h0M384.2 648.9h0M387.6 657.1h0M388.7 664.2h0M389.1 647.5h0M418.3 659.5h0M417.3 650.0h0M395.8 643.9h0M415.1 658.5h0M411.6 657.6h0M388.8 662.3h0M378.9 650.1h0M370.6 672.2h0M414.5 657.0h0M370.9 669.5h0M382.2 658.6h0M384.0 649.6h0M408.2 643.7h0M411.6 659.2h0M420.6 668.1h0M410.6 651.6h0M382.1 656.6h0M395.5 640.9h0M393.7 642.0h0M377.9 666.0h0M390.7 655.5h0M405.6 665.2h0M411.9 644.7h0M369.2 677.4h0M406.4 663.6h0M422.3 665.6h0M386.7 660.5h0M407.3 655.7h0M386.7 637.5h0M384.8 657.1h0M420.8 648.1h0M419.1 669.4h0M416.5 654.7h0M367.5 675.0h0M411.4 665.6h0M407.6 653.9h0M408.5 644.2h0M409.5 648.1h0M393.2 648.6h0M384.9 637.5h0M380.0 647.7h0M394.2 644.7h0M383.1 663.7h0M414.2 658.2h0M385.8 635.6h0M389.9 641.5h0M422.3 664.1h0M404.6 650.5h0M399.1 643.9h0M400.9 659.4h0M376.9 666.2h0M390.6 647.7h0M388.8 662.1h0M406.9 663.0h0M378.4 658.2h0M377.2 659.2h0M392.6 640.9h0M413.9 649.8h0M396.6 642.1h0M387.9 664.4h0M382.1 654.8h0M410.9 654.9h0M392.6 665.3h0M408.4 658.6h0M420.3 665.8h0M393.8 663.2h0M414.2 655.1h0M421.9 653.1h0M421.6 654.9h0M394.5 657.1h0M389.6 656.3h0M410.8 663.3h0M380.6 645.8h0M383.3 649.5h0M411.2 653.2h0M400.6 646.8h0M387.4 665.6h0M401.3 641.6h0M381.9 644.0h0M397.4 665.2h0M407.8 651.2h0M386.5 637.1h0M392.4 644.2h0M419.1 667.0h0M386.7 651.0h0M406.3 662.3h0M382.3 664.3h0M404.3 660.8h0M368.2 680.5h0M412.7 657.3h0M390.5 649.9h0M392.8 644.0h0M408.4 660.0h0M385.6 648.2h0M421.5 660.1h0M424.4 664.0h0M396.4 656.4h0M400.5 644.5h0M407.6 643.7h0M389.3 660.0h0M422.7 659.5h0M386.6 665.3h0M413.9 662.1h0M389.2 651.9h0M403.2 661.0h0M378.9 660.9h0M384.1 640.1h0M401.0 655.7h0M392.1 644.3h0M405.6 648.7h0M390.3 657.9h0M408.8 649.8h0M418.9 654.2h0M401.5 650.2h0M413.7 663.1h0M375.2 662.1h0M403.6 656.1h0M417.1 654.0h0M396.8 639.4h0M409.5 647.0h0M391.8 655.3h0M394.3 658.0h0M378.0 652.9h0M384.9 665.3h0M386.3 663.5h0M417.5 667.9h0M410.6 657.2h0M375.8 660.6h0M384.4 662.5h0M424.1 657.7h0M417.7 664.2h0M408.6 643.8h0M382.6 650.6h0M401.4 666.6h0M378.5 652.5h0M414.5 662.5h0M405.1 648.7h0M418.1 665.0h0M389.5 664.2h0M386.8 655.0h0M408.0 658.3h0M414.3 659.1h0M402.5 660.3h0M417.9 649.4h0M395.0 640.0h0M396.1 646.5h0M376.6 658.7h0M420.1 654.5h0M382.4 662.8h0M372.1 671.1h0M388.0 638.6h0M399.6 661.0h0M388.3 650.7h0M418.7 665.0h0M405.2 666.0h0M391.0 662.3h0M409.8 651.8h0M371.6 670.8h0M393.8 661.0h0M407.0 654.2h0M408.6 658.1h0M391.1 652.7h0M395.8 648.3h0M392.7 648.9h0M387.1 666.2h0M419.4 652.4h0M399.3 656.9h0M382.5 660.3h0M406.6 644.0h0M370.8 675.2h0M414.0 668.6h0M372.1 668.4h0M400.5 666.1h0M393.1 645.3h0M409.2 658.0h0M410.3 652.7h0M411.8 647.2h0M407.5 653.5h0M385.9 659.2h0M387.2 665.5h0M393.8 663.2h0M380.0 653.8h0M371.6 668.2h0M418.9 652.2h0M373.4 666.2h0M395.8 639.6h0M385.7 648.0h0M375.4 664.1h0M392.3 648.6h0M404.5 645.1h0M420.8 649.4h0M407.5 656.9h0M413.3 645.8h0M394.1 643.4h0M394.0 645.8h0M404.7 643.3h0M415.2 649.2h0M406.1 660.8h0M386.8 650.7h0M376.3 659.4h0M388.6 655.7h0M379.9 660.3h0M392.7 652.1h0M396.5 643.7h0M385.0 649.6h0M416.5 667.6h0M392.0 643.8h0M387.4 654.9h0M420.6 661.8h0M375.7 662.7h0M421.8 651.3h0M404.9 657.8h0M395.5 661.7h0M385.5 654.1h0M392.7 648.9h0M385.1 648.3h0M420.6 664.9h0M387.4 652.2h0M387.0 643.5h0M416.4 666.4h0M407.0 657.3h0M391.2 650.4h0M413.9 661.6h0M392.6 647.5h0M398.6 645.1h0M385.9 634.7h0M418.5 649.2h0M393.9 647.4h0M395.1 651.1h0M389.4 657.9h0M406.4 647.7h0M415.4 648.0h0M403.6 663.0h0M411.2 660.5h0M389.2 650.9h0M393.2 648.6h0M389.5 651.0h0M396.0 643.9h0M413.2 660.5h0M414.1 668.8h0M407.6 646.9h0M382.8 657.8h0M377.2 661.9h0M400.6 647.8h0M392.3 660.8h0M397.2 646.5h0M382.6 652.6h0M412.4 656.5h0M398.3 652.3h0M391.4 653.2h0M380.5 660.6h0M407.9 653.8h0M415.7 646.9h0M372.7 664.4h0M396.1 658.8h0M412.4 657.9h0M396.0 659.2h0M393.5 654.9h0M382.6 646.5h0M379.2 661.2h0M385.3 646.1h0M388.8 660.0h0M416.5 656.1h0M393.4 655.4h0M405.5 664.6h0M390.9 664.9h0M386.1 644.2h0M407.0 653.0h0M420.9 666.2h0M421.7 651.8h0M405.7 645.7h0M400.0 649.7h0M420.3 651.5h0M379.9 657.6h0M401.5 662.8h0M407.3 649.6h0M389.5 646.1h0M384.1 642.7h0M395.6 648.3h0M387.0 664.0h0M383.4 661.0h0M386.5 657.9h0M415.5 652.3h0M404.2 650.9h0M398.0 665.5h0M398.3 639.3h0M398.0 640.0h0M414.6 656.3h0M419.8 647.7h0M387.8 655.1h0M380.7 650.9h0M391.9 663.5h0M383.7 652.5h0M410.8 658.3h0M401.7 655.8h0M382.7 660.9h0M422.8 659.8h0M414.4 666.8h0M420.2 667.3h0M402.1 653.9h0M400.3 662.7h0M371.1 674.1h0M384.4 658.1h0M384.1 659.2h0M416.4 647.7h0M414.8 646.3h0M384.8 662.7h0M418.0 646.6h0M410.3 667.0h0M419.1 658.7h0M384.9 664.4h0M396.0 641.1h0M417.5 659.9h0M388.5 657.0h0M377.5 659.6h0M389.3 636.8h0M418.4 666.9h0M419.1 656.9h0M413.4 648.4h0M401.9 660.2h0M412.7 649.9h0M411.9 653.7h0M380.7 659.5h0M399.8 661.0h0M407.3 666.5h0M386.7 638.3h0M401.6 662.4h0M414.5 666.5h0M406.2 641.7h0M402.2 652.3h0M395.0 647.3h0M385.4 660.4h0M369.6 677.7h0M424.4 663.0h0M388.1 645.8h0M412.7 668.7h0M379.4 656.0h0M373.9 667.6h0M411.5 659.9h0M402.3 643.9h0M382.9 657.1h0M388.7 654.0h0M379.3 661.0h0M404.9 648.7h0M368.6 678.1h0M374.6 661.2h0M407.1 651.1h0M404.0 660.0h0M415.5 664.0h0M400.5 661.5h0M409.7 650.9h0M396.0 658.3h0M405.5 644.8h0M392.9 638.8h0M388.9 641.3h0M403.5 659.1h0M387.2 647.1h0M407.5 650.2h0M400.5 647.1h0M410.8 653.2h0M419.0 668.3h0M415.3 662.2h0M410.7 659.1h0M388.2 638.5h0M372.4 666.7h0M398.3 660.2h0M411.9 648.0h0M400.4 648.2h0M393.3 642.4h0M417.9 654.1h0M424.2 660.5h0M380.3 662.2h0M407.5 658.9h0M387.6 646.5h0M384.4 636.0h0M412.8 654.8h0M401.6 645.1h0M409.7 659.4h0M373.4 661.5h0M389.4 643.5h0M411.9 665.8h0M410.5 651.4h0M395.8 638.7h0M412.3 663.0h0M406.7 651.2h0M416.7 653.5h0M421.7 649.1h0M409.7 648.8h0M380.1 659.8h0M386.3 645.9h0M421.3 660.2h0M414.7 647.3h0M420.4 666.5h0M391.2 640.6h0M411.2 661.6h0M415.0 661.5h0M376.0 666.0h0M408.6 651.5h0M415.5 666.0h0M416.2 668.3h0M389.7 646.7h0M411.2 645.2h0M411.3 657.1h0M371.3 670.8h0M384.3 640.3h0M378.5 652.1h0M389.8 658.0h0M394.0 648.1h0M368.4 673.9h0M394.5 644.0h0M391.0 647.3h0M416.4 654.1h0M383.8 646.1h0M389.3 657.1h0M400.0 645.1h0M382.7 647.5h0M382.3 660.7h0M377.4 656.9h0M404.3 640.7h0M390.9 663.2h0M415.4 662.5h0M406.4 641.9h0M416.4 654.8h0M413.9 653.5h0M397.8 642.6h0M420.2 658.7h0M412.4 651.3h0M396.9 643.7h0M402.3 654.4h0M413.8 668.6h0M408.9 646.7h0M421.3 667.4h0M402.3 655.6h0M387.8 659.3h0M380.1 656.0h0M390.0 648.4h0M402.7 647.0h0M416.9 665.5h0M414.4 664.8h0M413.7 655.8h0M421.7 666.6h0M403.6 656.1h0M408.0 646.3h0M398.5 647.2h0M397.3 664.4h0M393.3 640.9h0M403.2 647.4h0M391.6 645.0h0M417.0 666.2h0M403.7 650.0h0M424.8 663.0h0M377.6 665.6h0M383.9 660.5h0M393.8 663.2h0M395.7 639.0h0M389.2 655.8h0M390.5 643.6h0M406.1 650.5h0M422.1 658.0h0M391.0 660.3h0M423.2 654.4h0M381.6 645.8h0M397.2 658.1h0M395.0 665.9h0M395.7 645.2h0M385.9 656.6h0M393.1 662.4h0M368.9 672.2h0M386.5 653.0h0M386.2 637.9h0M385.4 639.7h0M401.9 641.4h0M390.7 647.5h0M368.3 684.5h0M393.8 640.5h0M414.4 646.8h0M378.3 661.2h0M387.0 664.4h0M374.4 660.8h0M405.6 662.6h0M378.4 661.5h0M382.3 656.2h0M415.4 668.3h0M393.0 647.9h0M413.7 668.2h0M394.7 665.4h0M370.6 675.1h0M388.8 658.2h0M419.9 655.2h0M415.4 655.7h0M386.8 648.1h0M379.6 656.2h0M406.5 649.5h0M417.2 663.4h0M405.1 666.7h0M385.7 651.1h0M404.3 663.1h0M417.7 654.3h0M403.2 655.1h0M376.0 664.5h0M397.0 654.4h0M390.8 647.6h0M382.9 646.0h0M373.3 662.7h0M413.7 654.4h0M373.7 661.5h0M375.7 660.8h0M392.8 653.5h0M399.7 666.3h0M412.4 649.0h0M379.0 654.6h0M385.7 653.5h0M413.6 663.0h0M402.5 643.9h0M381.6 666.4h0M395.8 647.6h0M399.6 666.9h0M415.6 662.3h0M406.6 654.8h0M406.0 656.4h0M408.3 654.4h0M379.1 659.9h0M419.3 669.1h0M401.3 664.2h0M402.0 658.0h0M388.1 646.0h0M411.7 662.6h0M404.9 662.8h0M397.3 649.1h0M390.5 661.8h0M409.9 661.6h0M378.9 653.2h0M408.5 659.7h0M374.3 661.4h0M405.0 650.4h0M386.2 664.3h0M388.6 639.3h0M408.0 659.3h0M385.0 633.9h0M398.0 666.6h0M420.5 654.7h0M401.7 664.2h0M371.4 665.0h0M381.2 653.9h0M422.3 656.0h0M389.8 660.6h0M392.9 658.3h0M383.2 642.2h0M392.4 638.1h0M393.1 659.6h0M383.0 664.9h0M422.0 665.5h0M390.4 645.5h0M399.2 651.6h0M413.3 646.8h0M385.5 639.1h0M395.6 656.6h0M419.4 663.0h0M395.3 645.2h0M385.2 634.5h0M408.0 656.4h0M409.6 657.8h0M398.6 649.6h0M382.6 648.0h0M418.0 652.5h0M373.2 666.7h0M387.4 665.7h0M413.4 660.1h0M396.7 642.4h0M404.4 656.6h0M402.5 666.2h0M381.4 647.0h0M386.3 652.8h0M383.2 650.9h0M418.2 650.4h0M396.3 666.6h0M388.8 640.7h0M413.1 667.7h0M389.1 654.7h0M413.7 659.3h0M417.0 667.9h0M406.9 647.6h0M381.2 645.4h0M413.7 656.5h0M400.0 655.6h0M409.0 644.6h0M399.3 663.1h0M388.0 642.8h0M422.8 657.6h0M396.7 664.4h0M410.9 648.9h0M421.8 666.6h0M416.0 658.6h0M404.2 655.9h0M392.7 650.6h0M377.6 658.5h0M416.9 653.7h0M411.9 664.1h0M384.7 655.8h0M394.9 658.2h0M387.3 648.6h0M405.0 643.9h0M367.6 674.2h0M409.6 653.9h0M381.6 662.0h0M401.4 649.6h0M413.9 665.5h0M385.8 657.1h0M423.7 655.9h0M390.0 643.1h0M418.3 662.6h0M391.6 638.5h0M385.2 642.3h0M388.2 642.2h0M410.1 651.1h0M421.9 663.4h0M404.5 650.5h0M403.4 652.7h0M420.2 665.1h0M417.6 656.6h0M407.1 643.0h0M373.0 671.2h0M397.1 666.7h0M409.4 663.5h0M424.4 659.9h0M423.1 666.7h0M418.5 653.2h0M397.1 660.5h0M397.5 660.1h0M416.5 647.7h0M414.0 647.2h0M404.5 661.7h0M411.7 653.7h0M391.5 659.2h0M407.3 666.4h0M390.1 647.3h0M407.0 653.3h0M399.4 665.7h0M399.4 664.7h0M384.2 649.4h0M375.9 665.3h0M398.2 662.0h0M373.5 661.5h0M383.0 643.9h0M387.1 666.1h0M405.3 646.0h0M386.3 644.6h0M417.0 649.3h0M382.5 660.4h0M401.5 647.8h0M368.1 683.1h0M390.5 661.6h0M386.0 646.6h0M412.6 648.2h0M386.5 659.4h0M391.6 647.1h0M415.8 652.1h0M391.6 658.2h0M382.7 642.4h0M412.8 649.9h0M418.1 664.5h0M402.2 641.7h0M389.8 643.8h0M372.4 667.6h0M385.2 649.3h0M398.6 665.4h0M389.8 649.4h0M378.7 657.9h0M423.1 666.2h0M403.3 650.7h0M389.6 647.7h0M423.8 662.7h0M383.6 640.7h0M400.2 653.7h0M395.4 642.8h0M373.9 667.1h0M402.7 647.5h0M384.7 655.6h0M400.7 649.2h0M387.3 661.3h0M403.0 651.5h0M393.7 648.4h0M391.0 653.8h0M384.1 665.2h0M396.9 655.2h0M404.7 651.4h0M413.8 655.7h0M387.2 648.5h0M397.2 664.6h0M422.2 651.8h0M422.0 651.2h0M392.8 640.1h0M384.4 643.8h0M385.4 657.5h0M385.3 651.1h0M388.2 650.9h0M394.8 652.8h0M407.6 648.0h0M408.4 655.4h0M394.9 643.4h0M400.6 655.7h0M382.5 646.7h0M395.8 665.4h0M381.0 665.6h0M391.0 650.1h0M414.6 651.7h0M378.6 663.8h0M391.8 637.8h0M379.0 664.0h0M411.1 659.6h0M388.0 644.7h0M384.2 652.2h0M388.1 642.9h0M394.6 639.3h0M417.4 662.5h0M395.0 643.1h0M394.4 660.1h0M385.2 656.0h0M395.0 651.5h0M415.0 646.4h0M380.0 651.6h0M399.9 652.5h0M408.3 654.0h0M375.7 665.5h0M379.4 652.9h0M374.2 668.3h0M398.7 656.6h0M414.9 659.7h0M416.5 664.3h0M372.7 668.3h0M407.9 648.0h0M401.5 650.9h0M382.2 647.1h0M397.9 658.1h0M403.3 660.6h0M385.4 660.7h0M424.3 663.5h0M375.2 663.1h0M417.5 646.8h0M399.3 652.1h0M387.1 654.7h0M382.6 652.3h0M368.1 680.2h0M418.9 659.9h0M385.3 650.2h0M379.1 667.0h0M389.6 652.0h0M371.9 664.9h0M410.5 667.6h0M397.9 644.7h0M411.5 663.7h0M388.7 643.3h0M383.6 646.5h0M381.7 660.4h0M376.5 663.5h0M406.2 641.5h0M398.0 644.0h0M388.3 650.5h0M414.3 645.8h0M398.5 664.4h0M386.5 650.7h0M407.3 659.2h0M380.8 646.1h0M417.1 652.5h0M411.7 647.4h0M417.9 662.6h0M386.2 640.7h0M411.8 662.9h0M401.7 656.8h0M375.4 658.3h0M420.2 664.3h0M393.8 665.6h0M399.1 666.4h0M368.0 677.4h0M401.1 659.8h0M396.0 648.8h0M380.9 649.1h0M393.2 660.3h0M414.6 657.1h0M370.1 670.4h0M379.5 649.0h0M402.0 647.5h0M391.8 637.0h0M409.6 655.5h0M396.2 646.5h0M393.7 660.5h0M384.3 641.9h0M377.4 661.3h0M398.3 659.9h0M392.7 654.8h0M398.3 666.4h0M405.7 647.6h0M402.6 653.7h0M394.1 647.1h0M385.8 663.7h0M395.0 653.0h0M401.3 648.3h0M386.3 663.5h0M382.2 644.1h0M381.1 645.3h0M406.1 646.7h0M380.1 662.9h0M377.5 658.9h0M417.3 649.4h0M397.7 656.6h0M415.9 651.4h0M406.9 655.2h0M395.2 662.4h0M388.2 658.5h0M401.3 640.9h0M409.6 645.3h0M392.7 649.2h0M389.7 652.6h0M396.0 646.2h0M392.7 636.9h0M388.1 655.0h0M421.8 659.3h0M394.6 656.5h0M416.0 659.2h0M395.8 648.0h0M398.0 659.9h0M384.5 645.7h0M380.9 647.8h0M414.0 649.7h0M390.8 640.2h0M418.8 653.1h0M407.5 645.4h0M377.2 661.3h0M394.3 643.1h0M375.6 659.3h0M386.7 659.1h0M406.7 660.0h0M383.5 654.8h0M413.2 654.7h0M415.9 654.4h0M383.7 639.9h0M410.0 658.2h0M405.1 646.0h0M392.2 663.9h0M382.2 655.7h0M388.4 637.9h0M411.6 646.8h0M386.0 640.2h0M392.1 652.2h0M405.1 650.5h0M384.2 648.0h0M423.5 653.7h0M369.9 676.2h0M399.7 661.6h0M401.8 640.3h0M398.9 646.6h0M377.6 657.0h0M390.9 647.6h0M381.0 651.2h0M399.6 658.0h0M385.2 648.6h0M372.3 667.6h0M378.7 655.8h0M420.9 651.8h0M401.0 663.6h0M389.2 662.2h0M390.2 637.7h0M383.5 640.6h0M384.9 650.6h0M384.0 643.7h0M402.4 665.6h0M378.2 661.9h0M403.7 663.5h0M403.4 655.5h0M392.1 648.4h0M387.7 637.7h0M409.8 651.2h0M383.9 661.5h0M408.5 642.7h0M385.4 651.2h0M421.0 657.5h0M373.2 670.0h0M387.6 664.5h0M407.6 653.3h0M420.9 651.9h0M411.3 652.9h0M416.4 662.4h0M390.3 653.4h0M404.2 654.8h0M408.1 661.5h0M403.9 651.0h0M417.7 654.1h0M410.2 646.4h0M417.0 652.8h0M395.1 661.7h0M387.2 659.0h0M422.0 652.6h0M372.5 665.3h0M416.7 648.9h0M383.2 652.2h0M403.6 664.2h0M384.9 639.8h0M383.1 644.4h0M387.5 638.3h0M379.2 656.6h0M390.7 640.1h0M390.8 663.6h0M409.8 668.3h0M384.4 635.2h0M397.4 665.9h0M394.1 642.3h0M378.5 653.6h0M421.8 652.4h0M408.2 653.1h0M390.7 640.8h0M392.1 648.5h0M382.6 656.4h0M400.0 642.2h0M392.0 648.4h0M386.4 637.4h0M389.8 665.5h0M392.0 661.2h0M397.4 666.5h0M387.9 646.1h0M390.5 650.4h0M387.5 634.8h0M375.5 662.4h0M381.4 643.9h0M415.3 649.6h0M399.9 649.9h0M384.6 637.1h0M390.1 642.8h0M421.2 657.1h0M401.5 645.7h0M410.5 655.5h0M408.1 645.2h0M404.5 665.3h0M382.0 650.8h0M380.9 656.7h0M408.0 651.7h0M391.1 648.0h0M400.6 653.1h0M416.3 665.7h0M415.6 655.5h0M384.8 657.1h0M403.8 662.7h0M409.0 665.2h0M399.8 659.6h0M420.9 649.1h0M387.0 653.0h0M384.6 634.5h0M406.1 653.4h0M409.0 656.8h0M387.0 641.8h0M393.6 650.0h0M413.7 646.2h0M405.7 650.4h0M405.5 645.4h0M421.5 651.4h0M390.8 660.9h0M412.2 662.1h0M400.3 649.7h0M383.9 651.1h0M378.6 662.2h0M392.5 641.8h0M411.6 648.9h0M389.8 664.3h0M391.5 636.6h0M394.8 655.1h0M402.6 654.5h0M412.5 667.0h0M380.3 659.3h0M408.2 666.3h0M389.2 655.6h0M401.9 649.5h0M405.6 650.8h0M399.8 658.7h0M404.5 663.4h0M390.4 637.9h0M423.6 657.8h0M403.5 640.1h0M382.0 644.3h0M386.5 648.9h0M391.8 659.1h0M374.9 668.4h0M401.7 640.6h0M416.4 661.2h0M395.3 637.7h0M419.6 660.6h0M406.5 653.3h0M398.3 666.4h0M384.7 648.5h0M411.8 663.0h0M421.3 667.3h0M386.7 660.5h0M387.7 637.9h0M402.1 657.3h0M418.0 655.0h0M386.4 642.3h0M376.8 665.0h0M412.9 667.0h0M413.6 653.4h0M410.5 661.1h0M370.6 668.9h0M387.2 635.6h0M386.3 636.8h0M415.4 651.3h0M421.0 652.1h0M413.2 655.9h0M382.2 651.2h0M408.0 646.3h0M397.8 646.0h0M379.3 655.6h0M419.1 666.3h0M380.1 666.1h0M388.9 636.6h0M377.0 664.2h0M416.0 649.1h0M370.8 673.3h0M403.8 664.8h0M408.9 648.1h0M387.9 636.9h0M385.7 637.1h0M416.2 646.4h0M422.7 659.3h0M415.4 665.1h0M408.3 665.1h0M405.4 666.0h0M415.9 645.9h0M403.6 642.4h0M401.3 651.2h0M413.7 667.6h0M408.4 650.6h0M405.8 648.7h0M382.8 642.8h0M390.7 652.4h0M411.2 659.5h0M422.8 669.0h0M417.7 651.4h0M388.3 646.5h0M392.8 654.6h0M403.8 660.6h0M416.1 651.7h0M415.4 660.3h0M415.8 652.9h0M394.3 651.0h0M381.8 649.3h0M391.5 659.6h0M405.9 647.0h0M400.7 656.6h0M380.9 651.0h0M380.5 661.9h0M379.6 662.1h0M414.8 646.1h0M381.3 660.7h0M385.5 644.3h0M375.6 666.8h0M413.1 665.8h0M387.4 661.1h0M399.4 647.8h0M413.0 654.0h0M376.8 667.8h0M370.8 668.7h0M417.3 649.6h0M423.2 658.3h0M376.3 664.8h0M399.4 644.6h0M396.2 648.8h0M385.4 650.2h0M400.4 652.8h0M404.8 664.1h0M386.3 659.1h0M371.9 671.8h0M386.0 651.4h0M405.5 665.4h0M394.3 643.3h0M400.2 665.8h0M404.7 648.1h0M383.9 642.5h0M409.5 650.0h0M399.9 650.1h0M424.1 664.7h0M384.0 657.5h0M383.9 659.3h0M385.0 650.4h0M391.0 639.6h0M380.5 654.9h0M401.0 661.8h0M410.3 647.4h0M381.1 666.5h0M387.4 644.6h0M404.4 641.6h0M401.2 643.5h0M384.2 638.7h0M402.9 644.2h0M381.6 646.1h0M390.6 649.7h0M414.6 653.0h0M388.9 660.0h0M399.8 652.1h0M381.5 646.9h0M389.3 658.8h0M391.2 639.3h0M391.9 655.2h0M393.0 641.2h0M405.3 653.4h0M407.6 661.7h0M388.4 654.7h0M412.1 659.3h0M416.7 668.8h0M395.6 652.0h0M415.2 658.1h0M393.3 654.7h0M393.8 645.1h0M407.3 658.4h0M406.9 641.9h0M409.8 658.6h0M421.1 668.3h0M390.9 641.9h0M401.4 666.8h0M398.1 643.3h0M420.4 661.8h0M409.3 644.1h0M412.1 644.5h0M392.3 648.9h0M418.7 648.4h0M418.8 665.8h0M411.0 659.9h0M382.5 642.4h0M389.4 660.6h0M397.1 642.6h0M401.1 642.8h0M406.8 666.6h0M400.1 658.3h0M374.9 663.6h0M423.2 657.5h0M385.3 641.9h0M386.6 656.9h0M422.9 660.4h0M394.6 650.1h0M411.6 657.7h0M381.6 659.8h0M373.6 670.0h0M408.2 646.3h0M389.7 651.8h0M421.9 662.2h0M398.4 665.7h0M412.8 667.9h0M418.7 649.8h0M394.7 645.8h0M392.6 655.1h0M394.3 649.8h0M371.1 667.3h0M372.5 666.3h0M387.9 665.0h0M408.1 656.2h0M389.8 659.0h0M406.0 653.9h0M374.2 660.1h0M394.4 654.9h0M379.9 651.2h0M382.1 653.9h0M390.3 651.4h0M367.9 679.2h0M422.5 666.0h0M383.0 657.2h0M419.9 665.1h0M411.8 665.1h0M409.5 662.8h0M411.2 663.4h0M402.4 648.3h0M396.6 660.5h0M402.4 640.8h0M408.1 644.4h0M386.6 641.1h0M405.0 655.6h0M383.0 645.3h0M422.1 658.9h0M417.0 664.5h0M377.7 656.9h0M392.9 646.4h0M397.6 643.8h0M404.3 646.8h0M400.2 663.6h0M420.7 660.0h0M382.5 646.2h0M405.2 666.8h0M415.6 667.9h0M384.5 659.1h0M402.5 646.3h0M368.3 673.7h0M408.8 661.5h0M405.3 645.3h0M398.1 666.7h0M400.1 647.0h0M374.6 668.0h0M387.5 658.4h0M405.5 649.0h0M389.7 663.3h0M384.8 641.1h0M387.7 649.3h0M406.4 648.5h0M384.9 659.2h0M397.0 646.4h0M396.7 660.8h0M390.1 654.7h0M392.7 645.6h0M391.5 658.1h0M399.2 649.9h0M370.4 669.8h0M414.3 663.7h0M387.1 640.8h0M403.8 662.8h0M405.5 644.3h0M416.5 667.6h0M380.0 653.4h0M379.2 662.0h0M422.4 668.0h0M407.5 664.9h0M386.1 665.5h0M387.2 665.8h0M395.3 643.7h0M402.8 664.5h0M420.4 661.2h0M377.7 667.5h0M422.2 652.4h0M379.2 666.3h0M376.6 658.3h0M383.0 640.3h0M408.6 648.2h0M390.4 648.0h0M389.2 649.5h0M387.3 638.3h0M399.5 660.2h0M392.5 646.8h0M404.2 664.2h0M367.6 677.7h0M410.8 664.1h0M401.4 657.9h0M390.8 666.1h0M402.3 654.3h0M380.3 654.3h0M411.8 660.7h0M400.2 664.8h0M388.4 651.6h0M381.6 644.4h0M407.4 667.0h0M381.1 659.6h0M387.9 666.0h0M422.2 659.1h0M404.2 647.8h0M420.0 663.4h0M402.8 665.1h0M372.5 667.8h0M416.6 668.3h0M414.2 651.0h0M407.0 665.0h0M411.6 663.2h0M423.4 660.5h0M392.2 644.9h0M408.7 646.5h0M380.8 656.6h0M413.7 663.3h0M388.5 643.0h0M390.9 663.2h0M421.0 653.3h0M405.6 661.1h0M402.7 657.7h0M402.5 657.8h0M388.2 660.2h0M383.3 651.0h0M423.6 665.5h0M408.2 644.1h0M394.5 662.9h0M394.2 643.7h0M406.7 647.5h0M397.3 662.9h0M383.4 653.9h0M408.9 651.9h0M399.8 652.1h0M414.1 654.8h0M421.1 663.1h0M379.7 662.1h0M416.4 669.3h0M399.5 645.1h0M418.9 661.4h0M378.8 664.7h0M405.9 660.2h0M392.6 644.4h0M383.8 638.4h0M399.1 663.4h0M416.4 647.4h0M400.0 651.3h0M420.3 667.0h0M397.4 652.1h0M391.9 648.6h0M401.5 644.1h0M398.5 653.1h0M417.8 647.9h0M371.0 671.2h0M418.3 656.6h0M389.5 644.5h0M424.1 657.5h0M395.8 665.0h0M390.7 656.6h0M422.6 654.9h0M382.7 664.4h0M405.6 643.5h0M378.9 659.2h0M415.6 655.9h0M382.4 664.5h0M398.1 649.0h0M412.4 656.2h0M404.8 641.2h0M374.8 659.7h0M408.6 662.8h0M383.8 659.2h0M392.1 653.4h0M394.5 647.0h0M392.9 662.6h0M413.1 659.9h0M374.0 664.8h0M416.8 654.1h0M400.9 657.9h0M413.5 663.1h0M405.4 643.7h0M380.2 656.5h0M406.5 646.5h0M397.2 662.2h0M408.8 657.1h0M410.9 664.1h0M400.4 653.7h0M423.2 653.9h0M381.2 662.9h0M400.7 654.1h0M410.4 663.0h0M404.9 645.0h0M391.7 642.3h0M409.4 662.6h0M386.3 644.3h0M407.3 665.3h0M391.2 639.9h0M406.6 649.4h0M422.4 664.7h0M404.4 661.7h0M387.5 648.6h0M387.8 652.0h0M410.7 657.8h0M416.2 660.0h0M403.9 653.2h0M385.2 661.5h0M390.3 635.8h0M404.1 641.5h0M377.8 660.4h0M394.9 644.9h0M399.8 663.2h0M384.6 642.5h0M380.2 650.2h0M386.2 659.0h0M379.8 663.5h0M384.7 648.1h0M389.4 645.0h0M407.2 664.6h0M387.3 666.0h0M415.8 660.6h0M389.7 666.0h0M396.4 638.6h0M410.1 656.3h0M412.5 661.1h0M414.7 658.3h0M415.0 660.0h0M421.7 651.9h0M406.1 648.7h0M382.2 662.9h0M378.2 658.0h0M414.2 667.1h0M386.7 664.0h0M385.6 636.6h0M377.7 667.4h0M420.8 654.8h0M400.0 644.6h0M399.3 650.3h0M411.9 654.0h0M386.7 662.4h0M413.9 655.8h0M403.6 663.1h0M413.1 650.8h0M384.7 665.0h0M380.3 652.9h0M384.9 650.4h0M410.4 654.2h0M368.3 676.6h0M397.9 650.8h0M411.3 648.5h0M396.8 658.2h0M383.2 665.9h0M398.4 664.1h0M421.9 664.3h0M380.0 656.1h0M410.5 654.4h0M374.3 660.3h0M385.8 642.9h0M409.9 665.8h0M403.1 647.3h0M395.9 657.0h0M401.0 663.6h0M420.3 666.4h0M400.6 647.2h0M385.4 664.0h0M408.9 649.4h0" stroke="#F07F22" stroke-opacity="0.90" stroke-width="0.75" stroke-linecap="square" fill="none"/>
<polygon points="425.0,634.6 432.0,633.6 441.5,638.6 443.0,644.6 438.0,652.6 432.0,658.6 435.0,661.6 424.0,662.6 423.0,656.6 428.0,648.6 430.0,642.6" fill="#CC2E2A" fill-opacity="0.12"/>
<path d="M432.5 657.0h0M430.8 643.4h0M429.7 656.4h0M431.9 652.9h0M431.4 650.1h0M426.8 636.5h0M431.1 641.4h0M426.0 661.6h0M436.9 644.9h0M430.0 659.2h0M437.2 651.8h0M428.1 634.5h0M429.3 638.2h0M439.7 649.1h0M436.1 649.8h0M439.8 646.4h0M431.9 657.1h0M438.4 646.5h0M437.1 640.1h0M438.1 641.3h0M436.2 643.8h0M439.5 647.7h0M429.8 646.9h0M439.3 650.2h0M430.2 638.5h0M434.8 635.5h0M426.3 658.2h0M436.4 648.8h0M429.2 648.3h0M425.9 654.0h0M436.8 644.0h0M433.7 660.7h0M432.4 646.8h0M435.3 642.5h0M435.1 653.3h0M425.8 656.1h0M429.1 648.5h0M424.3 656.0h0M436.8 641.3h0M437.0 644.6h0M429.5 659.2h0M438.5 639.4h0M428.5 655.0h0M434.4 637.6h0M429.3 638.9h0M424.7 655.0h0M437.9 651.9h0M432.8 647.0h0M434.9 636.7h0M436.6 640.4h0M427.3 662.0h0M438.7 646.9h0M431.8 653.4h0M439.9 647.5h0M434.1 649.9h0M436.6 646.6h0M427.7 635.0h0M435.2 638.9h0M434.6 646.1h0M431.1 659.4h0M431.3 638.0h0M430.9 658.7h0M427.0 653.3h0M428.4 648.7h0M434.0 635.7h0M439.2 644.6h0M432.4 641.5h0M432.1 633.8h0M428.7 662.1h0M440.5 647.1h0M429.2 653.3h0M432.8 641.6h0M433.5 652.1h0M429.2 657.5h0M436.2 640.3h0M437.1 638.7h0M434.5 647.8h0M433.2 650.2h0M431.7 660.1h0M432.4 641.6h0M429.5 659.7h0M431.8 639.4h0M439.7 648.4h0M431.5 659.8h0M426.6 660.0h0M431.4 653.5h0M438.0 639.2h0M436.3 644.6h0M437.0 640.4h0M424.9 658.4h0M440.8 643.6h0M430.7 645.3h0M428.5 660.8h0M433.6 654.2h0M435.1 636.2h0M432.9 651.8h0M437.8 644.7h0M429.9 653.8h0M429.9 655.8h0M437.6 637.1h0M429.4 661.9h0M441.5 641.3h0M438.9 644.4h0M428.9 655.7h0M436.1 645.0h0M427.7 659.1h0M440.5 638.3h0M429.8 648.4h0M428.4 653.5h0M425.6 662.2h0M433.6 640.0h0M431.4 651.2h0M433.6 656.3h0M433.8 644.7h0M433.3 648.7h0M434.5 654.3h0M431.6 655.2h0M433.1 644.3h0M427.8 656.7h0M427.4 654.1h0M433.1 660.4h0M436.8 649.1h0M427.8 637.1h0M431.0 649.9h0M432.6 634.1h0M426.0 653.3h0M433.9 655.1h0M431.3 641.1h0M439.0 639.9h0M432.0 639.7h0M425.4 652.8h0M431.3 641.5h0M436.1 637.7h0M435.9 637.0h0M433.9 638.2h0M430.4 656.1h0M425.6 652.9h0M429.4 660.2h0M430.0 643.0h0M428.4 649.3h0M437.8 648.7h0M434.9 650.9h0M429.6 634.5h0M433.2 660.0h0M437.0 648.6h0M437.3 646.5h0M437.1 652.6h0M434.9 651.4h0M434.7 651.0h0M430.7 646.1h0M426.7 650.8h0M428.6 649.3h0M429.1 649.2h0M432.8 639.9h0M428.2 635.9h0M439.5 640.7h0M430.1 635.4h0M438.5 648.9h0M432.1 635.9h0M431.4 634.1h0M426.6 654.2h0M428.7 661.8h0M439.4 645.3h0M438.9 644.1h0M426.8 659.6h0M423.7 656.6h0M430.6 645.0h0M428.8 652.4h0M434.1 642.7h0M434.2 638.3h0M433.2 661.0h0M435.1 642.6h0M439.1 645.0h0M431.5 641.8h0M429.9 636.2h0M431.0 655.6h0M433.5 637.4h0M432.1 644.0h0M430.5 636.9h0M429.3 650.6h0M426.4 660.2h0M433.0 653.9h0M437.3 644.8h0M439.5 647.0h0M435.6 648.4h0M430.2 659.8h0M429.1 661.4h0M438.6 639.4h0M426.6 660.5h0M431.0 647.6h0M434.6 637.7h0M432.5 659.6h0M430.2 647.4h0M430.1 637.2h0M439.6 641.7h0M433.6 648.8h0M431.3 661.6h0M430.6 647.4h0M426.7 661.0h0M439.5 643.2h0M427.2 637.1h0M432.3 635.5h0M436.7 637.7h0M427.1 654.5h0M429.3 659.3h0M429.0 654.5h0M423.9 658.5h0M439.2 647.2h0M431.2 654.0h0M432.3 642.6h0M430.6 655.5h0M439.9 644.1h0M430.4 657.9h0M426.6 654.0h0M433.5 652.9h0M436.9 653.0h0M427.7 634.3h0M433.1 652.8h0M434.8 653.9h0M427.4 636.3h0M426.6 657.5h0M439.2 638.9h0M439.1 644.7h0M429.7 638.3h0M434.8 651.4h0M433.2 636.5h0M438.9 642.8h0M428.3 652.2h0M426.7 660.0h0M429.8 646.0h0M431.3 656.4h0M423.7 660.1h0M436.5 639.5h0M427.8 637.6h0M436.0 648.5h0M435.1 651.5h0M429.3 655.3h0M432.5 633.9h0M441.3 641.6h0M435.9 643.1h0M432.9 641.7h0M429.7 647.0h0M431.5 642.0h0M426.8 650.5h0M426.4 654.1h0M428.6 636.5h0M439.4 646.3h0M439.1 642.9h0M429.9 649.8h0M424.4 661.9h0M425.7 660.1h0M427.2 659.5h0M433.7 645.6h0M431.4 654.6h0M437.0 647.9h0M432.6 649.6h0M429.9 655.2h0M431.4 648.2h0M426.6 661.9h0M424.6 654.4h0M436.2 643.6h0M435.8 650.7h0M431.0 653.6h0M433.5 643.7h0M431.9 643.4h0M430.6 652.5h0M429.7 658.3h0M430.2 646.2h0M431.7 659.8h0M426.9 659.6h0M423.9 658.4h0M435.7 653.5h0M430.8 644.9h0M435.5 643.5h0M432.1 660.0h0M434.6 655.1h0M425.1 653.7h0M437.2 651.2h0M437.5 643.9h0M436.5 642.6h0M439.3 647.4h0M430.1 644.3h0M435.5 654.0h0M429.6 660.7h0M428.9 639.2h0M434.0 661.0h0M433.6 638.7h0M427.5 659.8h0M424.9 657.0h0M427.1 652.2h0M435.5 653.7h0M432.3 655.6h0M428.0 658.7h0M423.3 656.7h0M433.0 657.3h0M437.2 652.1h0M437.1 653.0h0M430.8 648.9h0M434.5 653.6h0M430.9 636.0h0" stroke="#CC2E2A" stroke-opacity="0.90" stroke-width="0.75" stroke-linecap="square" fill="none"/>
<polygon points="429.0,633.6 434.0,634.1 434.0,637.6 430.0,637.6" fill="#F07F22" fill-opacity="0.40"/>
<path d="M433.0 636.6h0M430.9 634.0h0M433.2 636.7h0M433.2 636.9h0M430.3 636.1h0M431.3 635.2h0M431.1 636.3h0M434.0 635.5h0M430.8 636.1h0M432.1 635.2h0M432.2 636.2h0M432.7 634.3h0M432.3 635.3h0M433.4 636.1h0M433.1 636.8h0M430.1 633.9h0M433.7 636.4h0M431.1 636.3h0M429.7 636.2h0M433.7 634.8h0M431.0 637.4h0M433.0 635.1h0M432.3 635.6h0M430.6 635.5h0M433.2 637.2h0" stroke="#F07F22" stroke-opacity="0.90" stroke-width="0.75" stroke-linecap="square" fill="none"/>
<polygon points="425.0,655.6 433.0,658.6 435.0,661.6 425.0,662.6" fill="#F07F22" fill-opacity="0.30"/>
<path d="M426.4 659.1h0M431.1 658.5h0M426.1 658.5h0M432.4 659.7h0M430.1 658.7h0M429.4 659.1h0M427.9 659.6h0M426.3 662.4h0M428.0 662.2h0M428.1 658.3h0M428.9 658.2h0M428.9 659.4h0M431.8 661.5h0M433.5 660.5h0M426.5 657.4h0M428.1 659.2h0M425.9 660.3h0M431.7 660.2h0M428.1 658.0h0M427.8 656.8h0M425.5 658.9h0M427.0 659.0h0M427.1 661.1h0M426.1 661.0h0M428.8 658.3h0M429.5 660.3h0M425.1 656.8h0M425.4 661.0h0M425.3 658.4h0M429.2 658.5h0M431.0 661.1h0M431.8 661.7h0M429.5 661.8h0M426.3 657.2h0M427.6 657.0h0M430.4 658.7h0M428.2 661.4h0M433.5 660.7h0M425.8 656.7h0M426.3 659.8h0M431.7 660.5h0M425.3 657.5h0M428.1 661.7h0M431.3 659.7h0M425.2 658.6h0M426.2 658.3h0M428.9 658.6h0M428.2 661.1h0M429.6 662.0h0M428.6 661.7h0M428.6 661.3h0M426.9 656.4h0" stroke="#F07F22" stroke-opacity="0.90" stroke-width="0.75" stroke-linecap="square" fill="none"/>
<polygon points="391.3,590.8 397.7,594.8 402.3,597.1 406.9,600.6 408.1,605.2 406.3,607.5 404.0,606.4 402.3,601.8 398.8,597.1 391.9,591.9" fill="#CC2E2A" fill-opacity="0.28"/>
<path d="M398.0 595.6h0M404.3 600.3h0M398.7 596.9h0M406.4 603.4h0M404.2 605.7h0M401.2 600.0h0M401.7 598.8h0M396.8 594.5h0M407.4 603.8h0M403.4 604.5h0M401.3 597.5h0M399.9 596.5h0M401.0 598.2h0M406.3 602.0h0M403.2 604.0h0M398.0 595.3h0M400.1 596.4h0M400.9 597.2h0M404.3 600.1h0M395.3 594.3h0M402.5 597.6h0M406.9 606.1h0M400.3 598.2h0M402.1 600.9h0M401.7 599.2h0M407.0 602.7h0M406.2 603.6h0M399.0 596.5h0M406.5 604.8h0M404.0 603.5h0M406.1 600.9h0M407.3 604.3h0M405.1 606.2h0M401.0 598.6h0M405.2 604.5h0M405.5 602.9h0M403.3 604.2h0M398.6 596.1h0M397.0 595.2h0M406.1 600.4h0M403.9 603.6h0M403.9 605.1h0M403.4 598.5h0M405.2 602.7h0M405.0 606.3h0M400.3 598.5h0M405.3 606.5h0M404.9 604.3h0M400.3 597.3h0M396.1 594.8h0M407.1 605.6h0M403.7 603.8h0M401.0 599.9h0M404.8 602.4h0M398.8 595.5h0" stroke="#CC2E2A" stroke-opacity="0.90" stroke-width="0.75" stroke-linecap="square" fill="none"/>
<polygon points="404.6,596.0 413.8,594.8 423.1,591.9 426.0,591.4 428.8,596.0 432.3,600.6 433.5,605.2 431.2,609.8 425.4,613.3 419.6,612.1 413.8,608.7 408.1,606.4 404.6,605.2" fill="#CC2E2A" fill-opacity="0.12"/>
<path d="M406.1 605.1h0M407.8 599.5h0M428.4 595.6h0M431.1 607.8h0M419.8 598.2h0M414.2 603.9h0M408.7 601.4h0M408.6 601.3h0M432.3 607.3h0M426.2 600.8h0M424.9 595.4h0M424.5 603.7h0M424.6 606.8h0M427.3 601.9h0M421.1 596.9h0M419.1 593.4h0M416.0 602.9h0M418.4 598.8h0M422.6 600.2h0M421.7 593.2h0M429.4 601.9h0M414.8 605.9h0M429.6 600.0h0M415.1 609.3h0M421.1 603.8h0M421.1 608.2h0M430.1 600.2h0M425.0 609.9h0M423.0 593.7h0M425.3 602.3h0M420.8 603.8h0M426.9 603.9h0M421.0 607.9h0M428.1 607.0h0M404.9 603.3h0M428.7 609.3h0M432.0 602.8h0M419.4 603.7h0M415.7 608.5h0M421.7 610.6h0M414.5 600.2h0M406.3 602.7h0M427.0 602.6h0M419.7 611.4h0M426.8 598.3h0M431.9 607.3h0M413.3 596.0h0M424.1 602.5h0M421.9 594.2h0M426.7 610.3h0M416.7 598.1h0M408.2 603.2h0M417.2 597.5h0M419.6 606.0h0M415.2 598.1h0M429.6 605.8h0M428.6 596.0h0M410.9 598.9h0M413.3 595.5h0M424.4 599.7h0M404.7 596.2h0M423.7 606.8h0M405.1 603.4h0M423.1 605.3h0M423.4 608.5h0M423.4 598.9h0M423.0 599.6h0M419.0 603.6h0M425.1 597.9h0M424.0 596.5h0M427.5 596.5h0M421.9 598.5h0M421.2 598.2h0M417.3 610.5h0M432.0 602.5h0M426.0 611.8h0M410.0 599.8h0M430.2 602.8h0M430.5 609.8h0M415.3 595.9h0M408.6 605.4h0M415.4 605.4h0M413.3 602.2h0M420.1 596.1h0M426.9 596.0h0M428.0 600.2h0M418.8 593.7h0M412.6 600.5h0M430.4 604.2h0M428.0 610.1h0M407.2 598.3h0M428.7 608.0h0M420.9 600.2h0M408.3 599.2h0M408.6 596.4h0M427.9 608.2h0M425.7 603.8h0M422.5 600.6h0M428.0 607.1h0M427.2 595.6h0M422.1 603.2h0M430.9 600.1h0M411.7 598.1h0M424.8 607.2h0M418.1 600.1h0M431.5 601.3h0M410.4 599.9h0M422.3 609.6h0M408.5 605.2h0M422.1 602.7h0M416.9 603.2h0M418.2 594.6h0M430.9 599.0h0M423.7 604.6h0M423.7 608.8h0M405.4 598.0h0M429.1 603.9h0M416.8 597.6h0M425.3 609.1h0M406.0 602.2h0M428.6 605.4h0M416.8 598.2h0M419.0 599.0h0M415.9 602.3h0M406.8 604.6h0M421.4 607.0h0M425.1 599.5h0M421.9 597.3h0M414.7 597.2h0M418.8 605.6h0M411.4 598.3h0M418.0 606.7h0M419.6 601.3h0M405.9 605.5h0M407.0 599.6h0M405.6 604.6h0M431.0 602.7h0M418.0 599.9h0M426.2 595.5h0M416.9 595.6h0M431.2 601.3h0M411.0 597.4h0M421.9 612.1h0M413.1 604.7h0M422.4 595.6h0M421.9 607.3h0M427.9 610.1h0M414.0 608.2h0M409.0 599.6h0M416.3 606.6h0M422.4 609.2h0M404.8 597.6h0M425.9 596.6h0M429.0 598.2h0M423.9 592.6h0M416.5 599.9h0M413.4 603.1h0M419.8 608.8h0M425.5 595.7h0M406.2 597.3h0M415.7 594.8h0M414.4 596.9h0M416.4 595.3h0M426.1 608.3h0M428.7 600.3h0M405.2 603.9h0M431.3 600.8h0M405.1 599.1h0M412.4 604.1h0M425.6 612.9h0M413.8 599.3h0M419.0 596.5h0M419.1 602.0h0M428.2 596.4h0M419.2 601.1h0M411.6 600.9h0M420.7 607.7h0M427.2 598.7h0M425.7 606.4h0M405.9 602.2h0M410.9 604.4h0M409.9 604.7h0M426.9 604.4h0M428.8 599.8h0M423.9 601.2h0M424.7 593.6h0M427.2 596.3h0M421.3 610.0h0M426.8 605.1h0M415.7 599.8h0M413.5 601.8h0M419.1 595.0h0M405.0 602.9h0M429.6 597.8h0M423.7 612.3h0M426.4 608.1h0M416.7 601.9h0M419.2 607.4h0M414.4 601.7h0M409.4 597.1h0M411.1 607.1h0M427.7 611.6h0M424.5 596.4h0M414.0 599.4h0M410.5 601.6h0M427.5 602.8h0M432.5 601.8h0M420.2 609.1h0M422.1 610.5h0M422.0 608.5h0M410.9 604.2h0M412.3 607.9h0M431.9 607.6h0M411.9 598.2h0M417.1 596.5h0M425.4 607.5h0M413.4 596.3h0M415.8 596.2h0M419.3 595.6h0M414.6 607.5h0M411.6 601.2h0M423.2 594.9h0M421.1 602.4h0M407.7 596.7h0M407.8 603.1h0M417.2 595.2h0M407.5 604.0h0M423.6 602.7h0M411.1 601.6h0M404.9 598.5h0M418.5 593.4h0M421.4 601.1h0M418.7 611.0h0M406.2 603.7h0M412.8 599.9h0M431.3 605.2h0M412.8 601.3h0M416.9 603.0h0M417.8 594.7h0M423.0 603.0h0M421.4 599.5h0M430.3 603.6h0M429.3 606.6h0M424.2 606.1h0M427.0 609.2h0M424.3 598.4h0M412.2 595.7h0M429.3 602.0h0M404.6 604.5h0M409.7 602.7h0M425.1 605.5h0M430.4 608.4h0M429.6 599.8h0M423.5 606.0h0M426.8 610.7h0M409.8 604.1h0M414.7 603.1h0M410.3 599.8h0M417.9 604.1h0M410.5 604.7h0M412.4 603.8h0M417.5 605.8h0M407.8 600.4h0M430.2 603.9h0M422.9 603.7h0M418.3 607.2h0M418.0 608.5h0M412.9 598.6h0M431.0 604.1h0M426.2 604.1h0M408.1 598.0h0M418.5 603.6h0M425.5 611.7h0M430.4 602.6h0M423.5 596.8h0M408.8 604.1h0M430.7 600.6h0M432.1 606.9h0M407.8 596.3h0M420.9 612.0h0M408.5 597.9h0M417.0 604.0h0M417.0 601.1h0M422.9 602.1h0M427.1 604.6h0M433.3 605.4h0M414.5 600.6h0M429.3 599.5h0M431.4 601.0h0M427.3 601.1h0M411.2 604.3h0M406.3 595.8h0M429.1 602.9h0M409.2 596.4h0M410.5 600.8h0M430.1 610.4h0M424.8 596.8h0M418.9 595.6h0M420.2 593.9h0M412.0 606.6h0M424.0 592.0h0M429.4 609.4h0M425.7 603.6h0M425.0 611.2h0M429.4 605.5h0M416.2 603.3h0M420.5 604.0h0M425.1 593.6h0M408.4 599.7h0M423.6 597.0h0M415.9 604.2h0M424.6 601.2h0M405.9 605.5h0M423.7 606.6h0M421.7 599.7h0M425.2 598.3h0M429.3 598.4h0M420.9 611.9h0M418.4 607.5h0M428.0 601.9h0M409.8 599.8h0M415.9 599.3h0M425.3 609.7h0M428.6 595.7h0M409.5 606.1h0M425.8 608.6h0M430.7 598.8h0M406.6 599.5h0M424.2 602.6h0M422.6 610.4h0M421.2 610.8h0M428.1 603.0h0M422.5 601.7h0M415.8 607.4h0M422.0 599.5h0M423.5 603.1h0M412.3 606.7h0M424.1 612.2h0M414.8 606.5h0M422.0 606.3h0M409.0 603.5h0M424.6 591.7h0M420.8 599.7h0M406.9 600.6h0" stroke="#CC2E2A" stroke-opacity="0.90" stroke-width="0.75" stroke-linecap="square" fill="none"/>
<polygon points="409.2,616.8 415.0,614.4 419.6,615.0 418.5,617.9 413.8,620.2 409.8,619.1" fill="#CC2E2A" fill-opacity="0.45"/>
<path d="M416.6 617.4h0M410.9 616.7h0M415.1 619.3h0M418.6 615.4h0M412.3 617.0h0M413.6 619.3h0M409.3 617.2h0M414.0 615.0h0M413.8 619.5h0M415.5 617.6h0M417.1 616.4h0M410.5 616.5h0M417.8 616.9h0M413.3 618.9h0M415.3 615.2h0M413.2 619.7h0M412.4 618.7h0M410.9 618.2h0M419.2 615.0h0M414.5 614.6h0M416.0 617.3h0M418.3 617.4h0M412.0 618.7h0M412.3 616.8h0M414.4 619.3h0M417.5 615.3h0M414.8 616.2h0M411.3 616.5h0M417.0 617.3h0M413.2 619.0h0M412.0 619.3h0M415.6 618.2h0M409.7 616.9h0M415.7 616.0h0M416.3 617.6h0M412.7 618.0h0M416.4 617.7h0M412.6 619.0h0M410.6 617.8h0M410.3 618.7h0M414.4 618.1h0M411.0 616.8h0M416.1 617.0h0M416.7 614.9h0M416.9 616.7h0M409.6 618.0h0M413.8 618.8h0M416.9 616.9h0M411.0 618.2h0M416.6 618.0h0M412.9 616.4h0M411.4 617.0h0M415.7 614.9h0M418.7 615.7h0" stroke="#CC2E2A" stroke-opacity="0.90" stroke-width="0.75" stroke-linecap="square" fill="none"/>
<path d="M439.2 614.7h0M433.0 630.3h0M437.4 624.1h0M431.0 638.7h0M444.5 610.8h0M436.4 614.7h0M436.0 601.5h0M439.3 599.5h0M438.0 607.0h0M443.5 612.0h0M425.4 626.1h0M431.4 631.1h0M435.2 603.8h0M432.5 608.7h0M439.1 609.7h0M437.4 606.8h0M442.8 602.0h0M435.5 627.1h0M439.7 616.0h0M435.4 609.4h0M433.0 603.1h0M433.7 615.9h0M436.2 637.2h0M430.7 601.1h0M444.5 604.4h0M430.5 633.7h0M432.3 623.6h0M432.3 629.5h0M430.0 623.3h0M437.5 612.8h0M433.2 597.8h0M430.7 631.4h0M431.5 630.2h0M429.5 622.9h0M433.0 620.0h0M433.2 622.8h0M434.5 597.3h0M443.2 600.5h0M433.3 631.7h0M439.3 599.5h0M435.9 628.1h0M435.3 600.3h0M444.0 605.1h0M432.6 614.0h0M434.9 596.2h0M435.8 600.5h0M436.1 613.6h0M437.9 624.5h0M434.1 631.1h0M436.1 629.3h0M428.9 633.1h0M437.6 601.8h0M441.7 605.9h0M444.7 602.8h0M433.7 626.2h0M432.4 610.7h0M434.5 637.0h0M435.3 599.6h0M432.8 622.4h0M436.9 639.4h0M436.2 631.8h0M441.5 617.0h0M434.2 616.7h0M433.9 595.8h0M445.9 606.8h0M432.0 629.9h0M438.8 624.2h0M432.5 630.6h0M434.0 596.2h0M439.5 607.9h0M432.5 631.5h0M439.0 618.6h0M442.7 614.5h0M445.0 605.7h0M439.1 607.4h0M437.8 603.6h0M439.9 602.7h0M428.7 631.7h0M438.9 609.2h0M436.0 627.4h0M443.3 600.5h0M435.6 637.1h0M429.9 597.4h0M434.8 601.1h0M435.2 596.6h0M440.1 621.4h0M431.2 635.3h0M441.0 599.3h0M443.3 612.3h0M441.2 609.9h0M443.9 600.9h0M436.4 620.7h0M432.7 614.2h0M444.2 601.2h0M428.2 626.8h0M441.1 605.9h0M440.3 611.9h0M435.0 613.2h0M445.0 613.2h0M434.9 623.3h0M431.1 638.2h0M432.5 630.8h0M435.9 599.0h0M440.0 599.2h0M428.0 625.7h0M432.1 600.1h0M441.0 618.1h0M430.9 629.0h0M443.8 605.6h0M433.6 597.6h0M428.5 629.7h0M431.0 637.3h0M432.0 632.1h0M432.9 630.2h0M434.6 605.3h0M438.9 605.1h0M431.6 613.4h0M429.1 596.9h0M446.0 613.4h0M438.4 600.5h0M441.4 598.2h0M428.1 631.0h0M431.7 631.5h0M439.0 598.4h0M429.2 627.5h0M437.5 613.7h0M436.7 606.7h0M437.9 601.9h0M435.9 640.4h0M430.2 598.3h0M437.8 618.0h0M438.2 611.3h0M428.5 596.4h0M436.2 612.4h0M437.2 603.2h0M432.0 596.8h0M439.6 613.2h0M445.4 610.1h0" stroke="#CC2E2A" stroke-opacity="0.90" stroke-width="0.75" stroke-linecap="square" fill="none"/>
<polygon points="441.5,595.2 450.0,595.1 458.8,597.1 466.5,602.9 470.4,610.6 470.4,620.2 466.5,629.8 456.9,637.5 443.5,642.3 437.7,641.4 435.9,632.6 440.1,621.6 446.5,612.9 446.5,604.5 441.7,598.1" fill="#CC2E2A" fill-opacity="0.08"/>
<path d="M465.3 613.7h0M458.4 611.9h0M463.8 605.7h0M449.1 629.7h0M451.9 634.9h0M456.1 620.3h0M453.1 597.0h0M456.3 604.1h0M441.6 624.4h0M446.2 634.3h0M469.7 613.7h0M452.5 633.9h0M449.7 618.7h0M461.3 616.8h0M457.1 627.4h0M445.0 616.1h0M443.4 633.1h0M447.3 601.9h0M466.6 611.3h0M468.7 616.1h0M458.4 632.2h0M454.2 601.2h0M455.0 615.4h0M451.7 639.2h0M449.6 636.8h0M460.8 616.2h0M444.1 599.3h0M462.0 624.1h0M448.0 613.6h0M447.2 626.4h0M465.8 609.2h0M467.3 614.9h0M452.9 607.2h0M444.6 615.8h0M452.9 635.0h0M448.3 631.2h0M444.7 617.7h0M438.5 637.2h0M448.1 625.3h0M455.3 618.1h0M444.1 634.0h0M452.2 601.3h0M455.4 608.1h0M444.0 634.3h0M459.5 601.9h0M458.4 617.0h0M443.0 626.8h0M446.5 617.8h0M448.7 613.1h0M456.0 632.2h0M459.5 600.5h0M445.4 624.7h0M448.4 616.8h0M446.4 619.9h0M456.6 603.2h0M438.5 628.8h0M453.3 598.3h0M438.6 640.9h0M461.3 602.9h0M450.5 604.3h0M462.7 629.6h0M467.9 626.1h0M449.9 638.1h0M449.1 629.8h0M456.8 609.0h0M465.6 619.5h0M467.9 623.5h0M455.8 619.0h0M466.8 627.1h0M462.5 614.7h0M442.9 632.6h0M450.3 631.8h0M442.8 641.4h0M459.2 604.5h0M459.2 629.2h0M450.2 599.2h0M452.4 625.5h0M445.5 640.4h0M446.1 637.6h0M461.7 633.0h0M442.4 636.7h0M458.6 614.2h0M459.5 606.6h0M445.1 629.0h0M450.3 636.8h0M464.4 627.2h0M448.3 615.8h0M447.3 609.8h0M459.9 620.7h0M447.3 610.5h0M441.2 624.5h0M447.8 621.7h0M456.1 602.4h0M453.5 625.7h0M454.3 627.1h0M459.4 626.3h0M448.4 634.8h0M437.4 635.6h0M458.5 613.4h0M444.2 619.7h0M464.3 604.6h0M444.4 618.7h0M463.8 614.8h0M454.3 632.2h0M459.1 621.0h0M450.9 626.0h0M464.6 601.9h0M463.9 610.4h0M451.4 619.3h0M442.3 636.1h0M451.7 612.4h0M464.2 620.5h0M445.1 631.8h0M449.0 620.2h0M443.8 641.0h0M440.3 625.4h0M460.2 603.6h0M467.6 619.5h0M454.1 637.2h0M462.2 626.7h0M442.6 638.2h0M445.0 617.7h0M465.2 620.5h0M457.7 629.3h0M446.5 604.0h0M462.8 609.4h0M449.2 604.0h0M458.2 600.0h0M448.2 639.9h0M451.7 637.2h0M443.8 632.2h0M438.9 640.0h0M442.9 630.9h0M463.7 626.0h0M462.7 607.1h0M462.8 605.7h0M453.4 613.8h0M452.9 617.9h0M451.0 612.0h0M443.8 625.2h0M469.6 609.6h0M449.7 628.0h0M446.5 601.1h0M458.3 611.8h0M466.6 624.1h0M464.6 621.6h0M455.6 617.7h0M453.9 612.1h0M453.3 629.6h0M457.3 631.1h0M448.4 602.8h0M443.8 621.0h0M453.8 614.3h0M467.6 614.0h0M443.2 623.5h0M456.0 632.1h0M452.6 603.8h0M444.0 631.4h0M456.3 604.3h0M454.6 628.8h0M461.4 621.8h0M456.6 619.7h0M463.3 625.8h0M454.2 616.2h0M467.2 609.7h0M459.2 627.9h0M444.1 595.5h0M450.3 604.6h0M442.1 621.5h0M457.1 617.3h0M455.4 604.4h0M455.8 635.4h0M447.1 629.0h0M456.3 613.3h0M455.3 606.9h0M469.1 617.8h0M447.8 601.1h0M459.2 622.0h0M453.2 627.7h0M447.5 624.6h0M466.2 622.1h0M454.0 624.0h0M460.6 621.9h0M440.0 636.1h0M450.1 606.8h0M441.1 638.8h0M461.1 609.7h0M442.5 635.3h0M459.6 600.2h0M453.8 638.1h0M445.2 599.3h0M437.9 634.5h0M468.1 616.9h0M446.5 613.9h0M452.2 620.3h0M439.5 641.1h0M457.5 622.1h0M456.1 612.5h0M448.0 620.3h0M464.5 629.7h0M454.8 604.2h0M453.3 615.9h0M439.8 638.3h0M464.9 624.1h0M444.4 622.3h0M447.1 625.7h0M455.6 632.0h0M443.6 621.2h0M457.4 598.5h0M440.7 629.5h0M450.0 634.1h0M456.5 632.9h0M465.3 625.7h0M448.0 623.2h0M457.7 616.6h0M458.2 613.8h0M459.2 619.7h0M449.7 604.8h0M465.1 607.9h0M457.7 599.9h0M453.3 633.4h0M443.9 625.6h0M454.7 627.3h0M455.8 603.7h0M452.8 598.2h0M459.1 610.6h0M469.1 614.0h0M447.3 607.5h0M448.6 607.4h0M463.0 613.7h0M459.5 624.2h0M439.7 630.8h0M456.8 628.0h0M443.4 620.9h0M447.8 603.9h0M462.9 627.0h0M438.3 626.7h0M450.2 596.8h0M453.8 627.3h0M444.8 628.0h0M453.1 596.4h0M436.1 632.8h0M438.9 633.1h0M459.3 612.2h0M451.0 600.4h0M446.6 628.8h0M448.6 613.7h0M452.8 635.4h0M443.4 625.7h0M467.4 611.6h0M457.9 630.2h0M456.4 607.3h0M462.9 616.8h0M455.1 625.1h0M447.1 626.1h0M451.5 599.5h0M454.0 618.7h0M460.2 617.7h0M450.8 628.7h0M454.6 614.8h0M458.5 623.7h0M453.9 625.2h0M447.0 623.4h0M440.3 631.3h0M459.4 633.0h0M444.2 620.7h0M465.5 615.7h0M455.6 614.5h0M461.4 624.7h0M462.8 622.1h0M444.7 619.3h0M440.1 626.8h0M448.7 599.7h0M458.3 618.6h0M449.2 635.3h0M448.2 606.8h0M445.7 596.2h0M460.8 625.6h0M450.2 633.7h0M447.3 605.2h0M451.4 610.7h0M451.2 597.6h0M450.2 632.2h0M465.1 612.2h0M451.7 631.2h0M440.5 633.1h0M448.6 606.9h0M452.1 625.7h0M447.6 597.9h0M451.3 616.5h0M454.0 611.6h0M444.1 622.9h0M461.6 604.1h0M455.7 606.4h0M458.8 625.3h0M449.8 638.9h0M462.0 601.6h0M443.8 600.3h0M460.5 604.1h0M451.5 599.5h0M458.8 628.1h0M448.4 604.1h0M442.6 620.0h0M461.8 605.2h0M443.0 633.2h0M468.7 623.0h0M459.7 629.1h0M464.1 601.5h0M450.7 633.5h0M439.9 633.1h0M460.4 633.2h0M446.9 619.9h0M463.5 631.3h0M450.9 631.7h0M462.0 603.6h0M444.7 640.2h0M454.7 619.2h0M444.7 600.9h0M464.8 616.0h0M454.9 617.7h0M466.2 621.9h0M460.2 631.4h0M456.7 600.0h0M450.2 631.7h0M444.4 636.3h0M443.9 640.3h0M441.7 635.3h0M453.8 607.9h0M450.3 601.3h0M456.9 626.6h0M451.2 632.5h0M462.3 626.9h0M461.9 615.3h0M441.3 620.0h0M451.8 602.1h0M459.9 616.1h0M459.2 604.1h0M444.0 599.5h0M467.2 627.7h0M446.6 597.6h0M447.5 631.9h0M462.5 617.7h0M461.7 601.5h0M447.0 639.2h0M461.1 629.6h0M458.2 612.5h0M457.6 615.4h0M463.2 626.9h0M468.5 623.7h0M455.8 634.1h0M457.8 600.4h0M452.2 636.0h0M470.4 619.7h0M445.9 615.4h0M448.2 625.2h0M438.4 632.5h0M438.5 628.9h0M446.8 602.3h0M440.9 641.0h0M443.6 617.3h0M464.2 606.9h0M460.5 611.9h0M440.2 633.4h0M447.8 625.3h0M447.3 624.1h0M461.7 605.3h0M452.3 602.4h0M452.6 607.9h0M464.0 618.3h0M454.0 601.9h0M468.6 607.1h0M456.0 631.8h0M453.8 610.2h0M458.1 629.0h0M442.2 596.2h0M445.3 639.4h0M449.2 638.2h0M463.6 627.3h0M455.7 633.8h0M449.7 639.4h0M457.4 628.7h0M455.5 608.8h0M462.1 613.0h0M462.7 613.4h0M454.9 609.4h0M438.9 632.0h0M453.6 632.6h0M463.0 631.9h0M449.0 609.0h0M443.7 617.2h0M456.7 635.8h0M455.5 608.7h0M456.0 608.5h0M465.9 605.8h0M450.0 605.7h0M443.4 631.2h0M437.4 638.1h0M466.9 612.8h0M467.6 605.9h0M444.6 621.3h0M443.4 637.9h0M451.3 615.1h0M438.0 640.2h0M458.2 617.4h0M451.0 635.5h0M460.1 603.2h0M437.6 636.1h0M456.6 613.8h0M446.3 613.6h0M466.8 622.4h0M440.9 621.6h0M446.7 637.7h0M460.4 624.1h0M451.9 599.9h0M459.9 600.0h0M467.8 618.1h0M454.5 612.5h0M449.7 636.3h0M462.1 613.4h0M464.1 613.0h0M450.5 616.0h0M442.0 628.3h0M444.1 625.8h0M454.1 625.7h0M466.7 628.7h0M457.1 627.3h0M464.1 602.5h0M461.7 620.8h0M441.6 596.6h0M447.3 604.1h0M466.4 619.5h0M453.3 624.0h0M452.9 606.3h0M461.2 629.9h0M467.3 618.2h0M440.4 640.5h0M468.4 623.2h0M445.4 596.6h0M461.3 625.4h0M439.9 630.3h0M456.7 614.8h0M457.1 600.7h0M466.9 609.0h0M458.0 606.2h0M442.1 640.3h0M444.8 640.2h0M465.6 621.4h0M455.3 596.5h0M462.5 627.3h0M456.1 633.5h0M452.1 613.2h0M461.5 618.5h0M456.8 602.3h0M469.5 621.2h0M463.0 600.8h0M447.3 639.4h0M446.1 602.6h0M450.9 631.4h0M457.9 634.8h0M458.2 635.2h0M449.8 623.0h0M454.8 616.0h0M451.4 628.5h0M441.1 634.4h0M460.4 604.6h0M447.9 634.8h0M450.5 635.1h0M449.2 614.9h0M441.9 632.2h0M438.6 632.0h0M453.1 635.7h0M453.7 605.8h0M464.9 623.4h0M445.0 595.9h0M463.9 626.2h0M451.1 619.4h0M463.1 606.0h0M459.1 620.0h0M455.5 624.2h0M466.2 619.8h0M453.3 623.5h0M456.7 618.3h0M440.5 627.4h0M461.0 600.5h0M458.8 613.8h0M468.7 617.5h0M440.7 623.3h0M439.1 635.9h0M453.2 629.9h0M463.2 632.2h0M449.2 596.5h0M444.7 625.8h0M446.8 628.5h0M438.4 633.1h0M438.8 630.3h0M439.7 622.7h0M447.9 621.4h0M462.1 604.2h0M446.2 600.6h0M450.0 598.9h0M458.5 627.0h0M447.8 609.0h0M443.8 623.5h0M449.9 619.3h0M462.1 605.7h0M446.7 617.8h0M447.1 627.3h0M440.8 638.3h0M452.7 611.4h0M447.8 604.5h0M454.5 633.0h0M444.1 632.1h0M461.7 624.9h0M466.5 623.5h0M465.4 622.3h0M446.0 623.6h0M460.8 629.1h0M449.6 630.5h0M447.4 601.1h0M450.5 621.1h0M448.1 624.0h0M456.1 626.9h0M457.0 623.6h0M457.5 601.5h0M446.3 603.0h0M448.8 621.5h0M449.6 598.5h0M463.1 612.5h0M468.5 610.1h0M450.0 628.1h0M448.9 627.2h0M458.2 608.2h0M458.5 609.5h0M463.6 629.8h0M453.5 632.4h0M451.9 629.0h0M450.4 613.1h0M444.4 625.1h0M448.7 612.4h0M437.8 628.8h0M448.0 611.6h0M452.8 603.8h0M443.0 628.8h0M445.4 641.4h0M449.2 631.4h0M460.4 630.2h0M452.3 608.9h0M448.5 601.9h0M465.5 610.7h0M455.2 634.0h0M448.7 628.7h0M446.3 614.0h0M445.6 614.6h0M448.4 618.6h0M463.2 608.7h0M438.4 632.3h0M455.4 607.5h0M449.0 635.9h0M460.3 608.2h0M444.1 621.8h0M463.7 629.3h0M449.7 630.0h0M450.6 605.8h0M464.9 604.2h0M458.2 608.4h0M457.2 603.3h0M466.1 612.5h0M459.4 630.5h0M452.0 620.5h0M454.2 637.3h0M448.0 602.3h0M449.9 632.2h0M460.7 617.1h0M442.6 626.6h0M444.2 616.4h0M443.1 638.0h0M449.5 627.9h0M442.2 623.8h0M446.1 600.7h0M446.8 598.1h0M456.7 621.3h0M447.9 597.9h0M460.5 619.9h0M466.2 619.3h0M459.3 607.2h0M464.8 627.3h0M452.5 612.7h0M438.8 632.5h0M443.7 636.3h0M466.5 605.0h0M445.9 628.7h0M456.2 600.3h0M448.7 610.3h0M464.2 616.0h0M459.9 633.9h0M440.8 638.3h0M463.1 622.5h0M447.0 628.0h0M453.8 621.3h0M459.3 609.0h0M443.9 635.7h0M448.5 596.9h0M454.8 608.5h0M467.0 624.8h0M457.3 616.8h0M462.5 626.7h0M454.7 610.9h0M439.3 636.3h0M457.2 613.9h0M450.5 612.5h0M454.3 623.1h0M445.7 635.4h0M450.4 598.7h0M447.9 596.4h0M463.7 627.0h0M444.9 619.8h0M449.3 633.8h0M462.7 630.8h0M437.3 639.0h0M452.9 617.0h0M445.7 598.8h0M444.6 640.5h0M451.2 604.8h0M464.9 607.0h0M440.4 625.2h0M452.6 596.4h0M464.3 630.0h0M463.2 625.9h0M445.6 627.9h0M455.6 624.5h0M461.9 608.8h0M467.4 616.9h0M446.8 620.0h0M454.5 620.6h0M463.7 606.5h0M454.4 627.3h0M456.4 631.3h0M458.1 609.7h0M456.1 628.0h0M438.3 640.7h0M438.7 635.5h0M444.4 638.1h0M457.4 615.8h0M467.3 624.8h0M439.1 629.4h0M447.3 601.5h0M448.5 635.6h0M461.5 613.0h0M464.3 621.5h0M447.6 599.9h0M459.4 606.8h0M453.3 606.4h0M457.7 597.9h0M445.5 624.6h0M465.0 629.5h0M445.8 613.9h0M442.0 632.3h0" stroke="#CC2E2A" stroke-opacity="0.90" stroke-width="0.75" stroke-linecap="square" fill="none"/>
<polygon points="450.0,595.1 458.8,597.1 466.5,602.9 470.4,610.6 470.4,620.2 466.5,629.8 456.9,637.5 443.5,642.3 445.0,636.6 455.0,630.6 461.0,620.6 462.0,610.6 458.0,602.6" fill="#CC2E2A" fill-opacity="0.42"/>
<path d="M452.0 633.1h0M465.1 614.4h0M457.3 635.0h0M462.7 620.0h0M459.1 628.5h0M455.2 631.9h0M466.0 605.2h0M462.1 632.3h0M461.6 615.5h0M448.5 639.4h0M465.8 613.2h0M453.7 635.1h0M463.7 608.2h0M465.6 611.1h0M469.0 612.4h0M468.3 606.7h0M461.6 627.2h0M464.1 616.5h0M455.3 599.8h0M460.6 628.9h0M465.4 611.2h0M461.5 628.6h0M457.9 597.5h0M460.3 632.7h0M464.7 613.8h0M469.1 617.0h0M457.9 630.9h0M460.9 629.8h0M465.7 614.6h0M463.0 627.1h0M462.8 615.0h0M448.3 637.4h0M465.1 624.4h0M468.9 609.1h0M457.0 632.3h0M465.9 609.3h0M463.3 620.5h0M466.4 626.0h0M463.6 614.9h0M456.1 597.7h0M454.5 598.1h0M463.3 607.0h0M452.9 636.4h0M454.3 637.5h0M465.8 608.9h0M462.7 614.5h0M450.9 635.7h0M467.4 607.0h0M445.1 640.1h0M456.3 632.2h0M464.6 625.1h0M465.1 630.2h0M465.5 607.2h0M461.5 624.7h0M466.0 616.9h0M464.7 616.6h0M458.6 630.4h0M464.5 627.3h0M465.7 623.9h0M459.8 632.0h0M463.2 602.9h0M463.3 603.7h0M451.4 638.7h0M446.9 640.2h0M467.6 613.1h0M454.5 637.3h0M460.8 601.8h0M457.1 632.1h0M464.0 614.8h0M464.7 603.4h0M470.2 616.7h0M461.7 607.3h0M456.2 634.0h0M451.7 633.9h0M463.3 616.1h0M448.2 638.2h0M451.2 638.6h0M460.6 600.0h0M467.5 605.5h0M470.3 614.0h0M465.9 602.9h0M457.6 598.7h0M460.5 626.4h0M444.9 640.7h0M467.8 615.5h0M457.3 636.1h0M463.3 609.3h0M452.9 634.5h0M451.8 638.5h0M459.4 602.4h0M463.8 607.0h0M453.4 636.0h0M463.5 623.3h0M462.6 630.4h0M458.9 604.0h0M462.3 626.6h0M462.6 619.2h0M448.2 638.2h0M458.9 599.8h0M454.5 638.0h0M455.0 631.7h0M457.5 635.4h0M453.7 633.0h0M454.3 631.2h0M460.3 629.0h0M465.7 608.8h0M452.8 635.6h0M465.9 624.8h0M453.6 633.7h0M463.5 627.7h0M446.7 640.7h0M460.7 603.6h0M467.4 611.9h0M457.1 601.7h0M466.1 621.1h0M465.7 624.1h0M445.5 636.9h0M464.7 620.0h0M453.1 638.3h0M468.0 613.2h0M466.3 614.7h0M463.8 601.4h0M464.3 623.3h0M467.2 616.6h0M463.0 608.1h0M446.8 639.4h0M454.8 637.7h0M463.4 621.7h0M468.5 613.5h0M447.7 638.0h0M467.3 618.4h0M463.1 605.2h0M451.3 638.0h0M456.2 630.1h0M465.3 628.2h0M465.9 608.5h0M467.4 618.4h0M466.4 605.9h0M461.6 609.8h0M466.0 618.8h0M463.6 609.9h0M465.2 629.2h0M470.0 613.3h0M469.5 613.1h0M448.4 638.9h0M464.4 624.7h0M466.4 620.2h0M457.2 627.2h0M457.1 627.8h0M456.9 631.7h0M451.7 636.6h0M458.6 600.2h0M459.1 630.7h0M467.7 617.2h0M463.5 606.3h0M465.4 605.1h0M458.5 632.3h0M450.5 639.7h0M451.3 633.3h0M450.8 634.0h0M461.5 600.4h0M450.2 634.7h0M460.9 601.5h0M447.7 635.4h0M462.4 612.4h0M464.0 628.0h0M461.4 617.6h0M459.8 626.5h0M456.8 598.4h0M458.4 626.6h0M466.0 622.9h0M461.5 628.1h0M469.3 620.5h0M458.8 603.5h0M455.0 630.7h0M455.0 633.0h0M446.8 641.1h0M462.8 628.9h0M444.3 639.5h0M461.7 620.4h0M462.3 616.4h0M468.4 621.9h0M462.2 607.0h0M461.1 602.1h0M461.9 625.6h0M463.1 604.4h0M463.1 612.5h0M465.8 614.6h0M468.8 617.8h0M465.1 604.6h0M469.2 612.1h0M466.7 604.0h0M463.9 629.8h0M454.2 598.3h0M460.2 603.4h0M445.5 639.8h0M466.4 618.1h0M457.0 601.5h0M457.9 633.0h0M450.3 639.6h0M467.6 620.9h0M465.9 625.2h0M457.6 627.7h0M466.1 615.8h0M460.7 622.3h0M453.7 636.8h0M462.6 617.7h0M454.4 596.5h0M449.4 636.6h0M465.0 613.1h0M454.1 633.8h0M463.8 601.1h0M461.8 621.7h0M467.1 604.6h0M466.9 605.1h0M468.1 617.0h0M457.9 636.0h0M449.5 634.9h0M460.1 630.0h0M458.8 597.6h0M459.5 623.7h0M464.0 616.4h0M460.4 632.2h0M463.5 617.2h0M457.6 629.9h0M466.6 622.7h0M465.7 623.6h0M467.6 611.2h0M468.2 609.8h0M461.8 616.8h0M464.7 604.5h0M466.0 628.9h0M457.7 599.5h0M461.3 623.6h0M456.3 629.7h0M457.1 630.4h0M462.6 631.5h0M468.2 620.9h0M458.9 626.1h0M458.0 633.1h0M457.9 600.4h0M469.4 618.7h0M461.6 631.3h0M449.0 636.8h0M462.8 603.0h0M465.1 613.6h0M457.5 636.5h0M465.6 616.3h0M447.9 640.3h0M468.1 610.2h0M466.0 610.2h0M467.9 621.9h0M448.8 640.3h0M457.9 634.0h0M452.3 632.7h0M458.7 626.2h0M451.2 638.2h0M456.7 597.3h0M448.1 635.8h0M460.9 606.8h0M446.9 641.1h0M460.3 629.1h0M464.7 619.2h0M461.4 627.8h0M469.3 619.3h0M458.0 629.2h0M459.5 624.4h0M456.5 635.4h0M459.3 601.8h0M459.8 604.6h0M453.8 635.8h0M448.4 639.5h0M460.4 631.1h0M449.8 638.1h0M460.1 630.9h0M470.1 610.7h0M463.3 625.0h0M463.9 603.7h0M457.3 628.3h0M467.8 612.3h0M465.2 602.5h0M467.7 608.3h0M458.3 626.8h0M460.7 629.9h0M463.0 626.1h0M449.3 635.1h0M467.6 608.1h0M463.2 629.4h0M461.4 601.6h0M465.7 616.4h0M455.4 635.2h0M457.0 633.3h0M462.3 609.7h0M456.8 631.4h0M461.4 608.4h0M469.3 618.4h0M458.0 626.5h0M459.1 634.7h0M461.6 602.0h0M445.0 637.7h0M463.8 601.1h0M466.9 626.3h0M459.8 630.6h0M468.5 609.4h0M461.9 627.0h0M465.4 602.5h0M466.8 606.7h0M465.7 607.2h0M467.9 617.3h0M457.0 600.9h0M466.4 614.4h0M452.8 638.8h0M464.8 606.0h0M462.1 629.6h0M469.8 620.8h0M456.6 596.9h0M462.9 616.7h0M456.0 633.9h0M468.6 623.1h0M463.7 624.2h0M452.7 634.8h0M457.1 628.3h0M464.1 625.5h0M469.8 616.3h0M464.1 617.7h0M469.7 610.3h0M460.6 603.9h0M463.7 609.5h0M467.1 613.1h0M452.0 639.0h0M468.2 610.1h0M463.6 629.5h0M450.1 637.0h0M459.6 600.3h0M461.4 607.7h0M451.6 596.6h0M447.5 640.2h0M465.2 628.2h0M459.1 634.1h0M465.0 630.0h0M455.9 635.9h0M455.5 634.0h0M459.7 630.2h0M464.0 627.5h0M453.4 636.9h0M461.2 629.9h0M446.9 636.2h0M460.4 625.9h0M452.9 631.9h0M452.1 632.6h0M453.3 633.0h0M467.9 619.6h0M465.2 618.1h0M454.8 632.0h0M447.1 639.6h0M459.7 632.0h0M464.2 616.8h0M458.0 598.8h0M463.7 608.4h0M461.4 625.5h0M460.7 632.1h0M467.1 621.2h0M462.0 611.8h0M462.5 606.0h0M458.6 627.4h0M465.4 625.5h0M461.1 600.6h0M463.3 617.2h0M462.9 630.2h0M463.9 607.0h0M454.6 598.7h0M464.0 609.6h0M460.1 626.7h0M453.3 633.9h0M465.5 628.6h0M453.4 638.2h0M463.0 605.7h0M464.1 614.7h0M458.8 634.5h0M459.4 626.1h0M468.0 625.6h0M461.4 599.5h0M469.7 614.4h0M463.7 627.1h0M455.1 630.7h0M462.8 604.8h0M462.0 609.7h0M458.1 632.6h0M469.0 608.6h0M459.5 630.7h0M446.1 640.1h0M459.6 633.8h0M468.7 614.1h0M454.8 634.6h0M463.3 627.3h0M450.6 638.5h0M456.1 598.9h0M468.3 618.5h0M461.9 632.5h0M446.2 638.5h0M459.0 625.0h0M466.3 627.2h0M466.2 613.8h0M459.4 630.1h0M461.0 628.0h0M463.5 618.1h0M463.1 615.6h0M464.0 602.3h0M458.7 630.2h0M450.7 634.1h0M458.2 598.7h0M465.7 621.1h0M464.1 612.3h0M460.8 621.6h0M466.6 606.5h0M466.0 607.2h0M466.6 616.2h0M465.8 617.1h0M457.7 627.9h0M467.2 620.2h0M450.7 595.4h0M468.9 611.0h0M458.8 631.9h0M462.4 629.1h0M457.3 601.5h0M468.1 622.3h0M447.8 637.5h0M452.0 635.8h0M467.9 622.1h0M445.5 640.0h0M465.2 603.6h0M448.5 636.9h0M463.5 618.9h0M465.9 603.1h0M465.1 616.3h0M458.0 599.5h0M454.2 635.1h0M461.9 622.4h0M451.3 639.0h0M466.2 608.5h0M469.4 614.8h0M457.1 631.2h0M459.7 603.0h0M468.0 613.4h0M464.8 617.7h0M465.3 626.3h0M462.8 619.4h0M462.8 619.9h0M466.7 603.9h0M464.2 621.0h0M451.5 638.7h0M462.4 618.4h0M458.9 603.3h0M449.9 639.3h0M461.7 620.3h0M457.9 631.6h0M461.4 630.6h0M457.0 631.1h0M449.5 637.0h0M461.0 608.2h0M459.4 623.4h0M466.9 624.9h0M452.3 635.1h0M458.3 633.9h0M459.2 602.6h0M464.2 621.7h0M456.2 598.6h0M458.4 625.6h0M455.0 636.1h0M465.0 602.5h0M455.2 637.9h0M456.6 629.3h0M453.2 596.1h0M468.7 623.1h0M460.4 633.8h0M460.3 599.2h0M457.1 636.5h0M462.8 615.4h0M465.3 606.6h0M466.8 616.9h0M454.7 634.4h0M461.6 608.8h0M462.5 610.8h0M461.5 619.6h0M459.9 630.4h0M463.4 621.2h0M468.5 609.1h0M460.9 627.3h0M463.8 612.9h0M462.0 631.3h0M467.2 622.7h0M464.9 605.3h0M452.7 597.3h0M454.7 632.0h0M452.6 596.9h0M463.1 609.3h0M458.8 602.0h0M453.6 634.4h0M470.1 618.1h0M451.9 635.4h0M458.2 597.1h0M469.5 619.6h0M455.7 632.9h0M457.6 634.6h0M458.8 627.4h0M456.4 630.5h0M457.9 626.2h0M464.2 611.0h0M462.4 614.1h0M466.5 616.1h0M449.7 639.9h0M469.1 611.4h0M466.2 613.7h0M462.7 623.0h0M459.5 627.0h0M462.7 614.3h0M459.2 598.9h0M458.8 635.8h0M466.9 609.8h0M450.2 636.3h0M467.3 625.1h0M467.4 619.4h0M460.7 633.6h0M462.8 628.7h0M466.8 609.8h0M467.3 627.5h0M464.9 615.8h0M465.1 625.4h0M465.6 611.5h0M465.3 608.8h0M457.4 601.8h0M461.8 603.1h0M461.8 622.7h0M463.8 624.6h0M463.8 631.1h0M452.5 595.9h0M462.6 610.2h0M464.8 619.0h0M459.5 623.6h0M457.1 632.5h0M464.9 618.0h0M465.1 614.3h0M469.6 615.0h0M459.6 623.9h0M467.4 611.5h0M454.0 598.7h0M460.9 625.7h0M455.0 636.1h0M455.7 631.6h0M466.7 613.9h0M463.1 602.6h0M455.5 630.9h0M445.7 640.8h0M460.1 630.4h0M470.0 620.6h0M456.6 601.1h0M452.2 596.3h0M469.5 617.9h0M454.5 630.9h0M460.3 630.3h0M460.6 623.4h0M451.3 638.3h0M459.1 597.6h0M461.9 614.2h0M460.9 598.8h0M468.7 613.6h0M465.7 614.8h0M470.0 617.2h0M464.6 616.6h0M468.6 617.1h0M450.7 633.9h0M463.9 605.7h0M465.7 615.0h0M450.2 637.9h0M466.5 620.1h0M459.2 601.5h0M463.6 618.1h0M469.7 613.8h0M455.9 632.4h0M454.6 632.0h0M458.0 600.6h0M458.8 600.1h0M454.4 598.2h0M457.8 601.9h0M448.9 639.5h0M446.3 640.0h0M461.3 625.5h0M467.7 605.5h0M465.4 603.7h0M468.1 618.6h0M453.3 632.2h0M446.2 638.0h0M467.9 624.1h0M461.4 617.4h0M453.1 597.8h0M463.3 603.3h0M462.9 608.3h0M465.1 628.9h0M453.0 596.2h0M463.5 628.5h0M465.8 603.3h0M455.6 632.3h0M445.2 639.8h0M468.0 608.3h0M463.1 603.7h0M468.6 622.2h0M463.4 617.0h0M465.8 624.7h0M448.7 635.5h0M457.7 602.0h0M459.8 634.2h0M467.8 624.9h0M462.6 620.6h0M466.1 604.7h0M457.4 627.6h0M457.6 633.3h0M452.8 632.9h0M468.2 622.6h0M461.6 622.0h0M462.9 602.0h0M467.5 620.4h0M461.9 606.7h0M451.6 638.2h0M454.5 632.9h0" stroke="#CC2E2A" stroke-opacity="0.90" stroke-width="0.75" stroke-linecap="square" fill="none"/>
<polygon points="407.3,629.8 415.4,630.1 423.1,625.9 425.4,627.4 423.1,632.8 419.2,635.1 416.9,632.8 407.3,630.5" fill="#33A036" fill-opacity="0.55"/>
<path d="M421.2 631.6h0M423.6 627.5h0M419.0 634.0h0M419.6 632.0h0M423.2 629.3h0M420.9 628.4h0M414.4 632.1h0M421.5 629.9h0M414.7 631.4h0M424.4 629.7h0M416.0 630.5h0M424.1 627.4h0M419.4 633.7h0M421.5 632.8h0M424.7 627.2h0M421.6 628.4h0M417.1 632.4h0M418.5 631.5h0M422.1 629.1h0M422.6 631.3h0M415.1 631.0h0M422.7 627.8h0M419.5 634.7h0M416.4 632.6h0M421.9 633.0h0M410.4 630.4h0M420.9 633.0h0M421.0 632.6h0M419.5 630.9h0M422.7 629.6h0M420.7 630.9h0M413.6 631.0h0M420.7 632.3h0M420.5 630.7h0M422.3 626.7h0M417.8 633.6h0M421.6 629.6h0M411.8 630.0h0M422.2 628.0h0M421.5 632.8h0M417.2 630.7h0M424.4 627.1h0M408.5 630.7h0M422.5 631.0h0M421.0 632.0h0M416.4 629.7h0M420.2 633.1h0M413.4 630.4h0M417.8 630.5h0M422.3 627.5h0M419.5 629.0h0M421.6 632.6h0M417.6 632.1h0M414.6 631.7h0M416.7 632.5h0M416.2 630.7h0M418.7 628.9h0M423.1 627.1h0M417.4 631.6h0M418.1 629.9h0M420.6 631.9h0M415.8 630.4h0M418.6 630.0h0M422.1 627.7h0M416.6 631.8h0M421.8 628.6h0M420.3 632.7h0M422.2 631.9h0M415.5 632.0h0M418.7 630.6h0M419.4 631.9h0M408.8 630.5h0M413.3 631.0h0M409.7 630.0h0M423.2 629.3h0M413.9 631.6h0M414.4 632.1h0M421.9 631.1h0M421.1 632.0h0M422.8 628.6h0M414.3 631.0h0M419.1 629.6h0M419.3 631.6h0M420.2 629.2h0M420.1 629.3h0M419.2 628.2h0M412.4 631.6h0M422.3 627.6h0M417.3 632.7h0M422.6 630.1h0M419.7 632.6h0M419.8 631.6h0M414.3 631.8h0M412.1 631.2h0M412.5 631.3h0M417.6 633.3h0M423.2 629.9h0M422.2 629.8h0M410.2 630.5h0M421.1 633.4h0M420.0 629.0h0M419.3 628.3h0" stroke="#33A036" stroke-opacity="0.90" stroke-width="0.75" stroke-linecap="square" fill="none"/>
<polygon points="427.8,622.4 429.6,623.6 427.7,629.8 428.8,632.8 426.2,635.5 422.3,635.1 423.1,632.8 426.2,629.0" fill="#3A7BC2" fill-opacity="0.55"/>
<path d="M427.0 626.2h0M428.4 632.9h0M428.9 624.6h0M425.9 632.7h0M423.7 632.4h0M428.2 627.6h0M428.4 633.1h0M427.5 629.3h0M426.0 631.3h0M422.5 635.0h0M426.8 628.6h0M423.1 633.6h0M426.0 631.3h0M426.4 630.5h0M428.1 628.0h0M425.0 633.1h0M427.1 627.4h0M427.9 624.3h0M425.6 632.3h0M426.5 634.6h0M428.6 625.5h0M427.1 633.8h0M424.9 631.6h0M428.5 626.1h0M428.5 623.2h0M427.3 625.3h0M428.6 623.9h0M425.9 633.3h0M427.0 628.7h0M429.0 625.2h0M427.3 632.5h0M426.8 634.6h0M425.9 635.3h0M428.2 623.1h0M429.0 624.7h0M425.2 632.6h0M426.8 630.6h0M427.0 631.6h0M422.8 634.0h0M424.8 631.7h0M427.7 631.5h0M425.8 635.3h0M423.1 633.4h0M425.8 633.3h0M426.7 632.5h0M428.1 623.4h0M423.8 633.3h0M425.5 630.7h0M426.5 630.8h0M426.8 634.5h0M428.0 626.8h0M426.3 631.4h0M425.4 635.2h0M426.6 629.0h0M425.4 634.0h0M425.8 634.7h0M425.8 632.0h0M425.5 629.9h0M428.5 623.2h0" stroke="#3A7BC2" stroke-opacity="0.90" stroke-width="0.75" stroke-linecap="square" fill="none"/>
<line x1="355.4" y1="614.8" x2="359.3" y2="617.3" stroke="#F07F22" stroke-width="0.8"/>
<line x1="450.1" y1="648.5" x2="452.7" y2="649.8" stroke="#33A036" stroke-width="0.8"/>
<rect x="349.3" y="585.4" width="127.7" height="104.5" fill="none" stroke="#333" stroke-width="0.9"/>
<text transform="translate(342.3,637.6) rotate(-90)" text-anchor="middle" font-size="8.9" fill="#1a1a1a" stroke="#1a1a1a" stroke-width="0.22">UMAP 2</text>
<text x="411.8" y="702.4" text-anchor="middle" font-size="8.9" fill="#1a1a1a" stroke="#1a1a1a" stroke-width="0.22">UMAP 1</text>
<circle cx="484.9" cy="620.4" r="1.85" fill="#2463AC"/>
<text x="488.0" y="622.7" font-size="6.3" fill="#1a1a1a" stroke="#1a1a1a" stroke-width="0.22">Endothelial</text>
<circle cx="484.9" cy="629.3" r="1.85" fill="#E4883A"/>
<text x="488.0" y="631.6" font-size="6.3" fill="#1a1a1a" stroke="#1a1a1a" stroke-width="0.22">Epithelial</text>
<circle cx="484.9" cy="638.2" r="1.85" fill="#238C3C"/>
<text x="488.0" y="640.5" font-size="6.3" fill="#1a1a1a" stroke="#1a1a1a" stroke-width="0.22">Fibroblasts</text>
<circle cx="484.9" cy="647.2" r="1.85" fill="#B42428"/>
<text x="488.0" y="649.5" font-size="6.3" fill="#1a1a1a" stroke="#1a1a1a" stroke-width="0.22">Immune</text>
<circle cx="484.9" cy="656.1" r="1.85" fill="#7B6AA4"/>
<text x="488.0" y="658.4" font-size="6.3" fill="#1a1a1a" stroke="#1a1a1a" stroke-width="0.22">Neural</text>
</svg></body></html>
